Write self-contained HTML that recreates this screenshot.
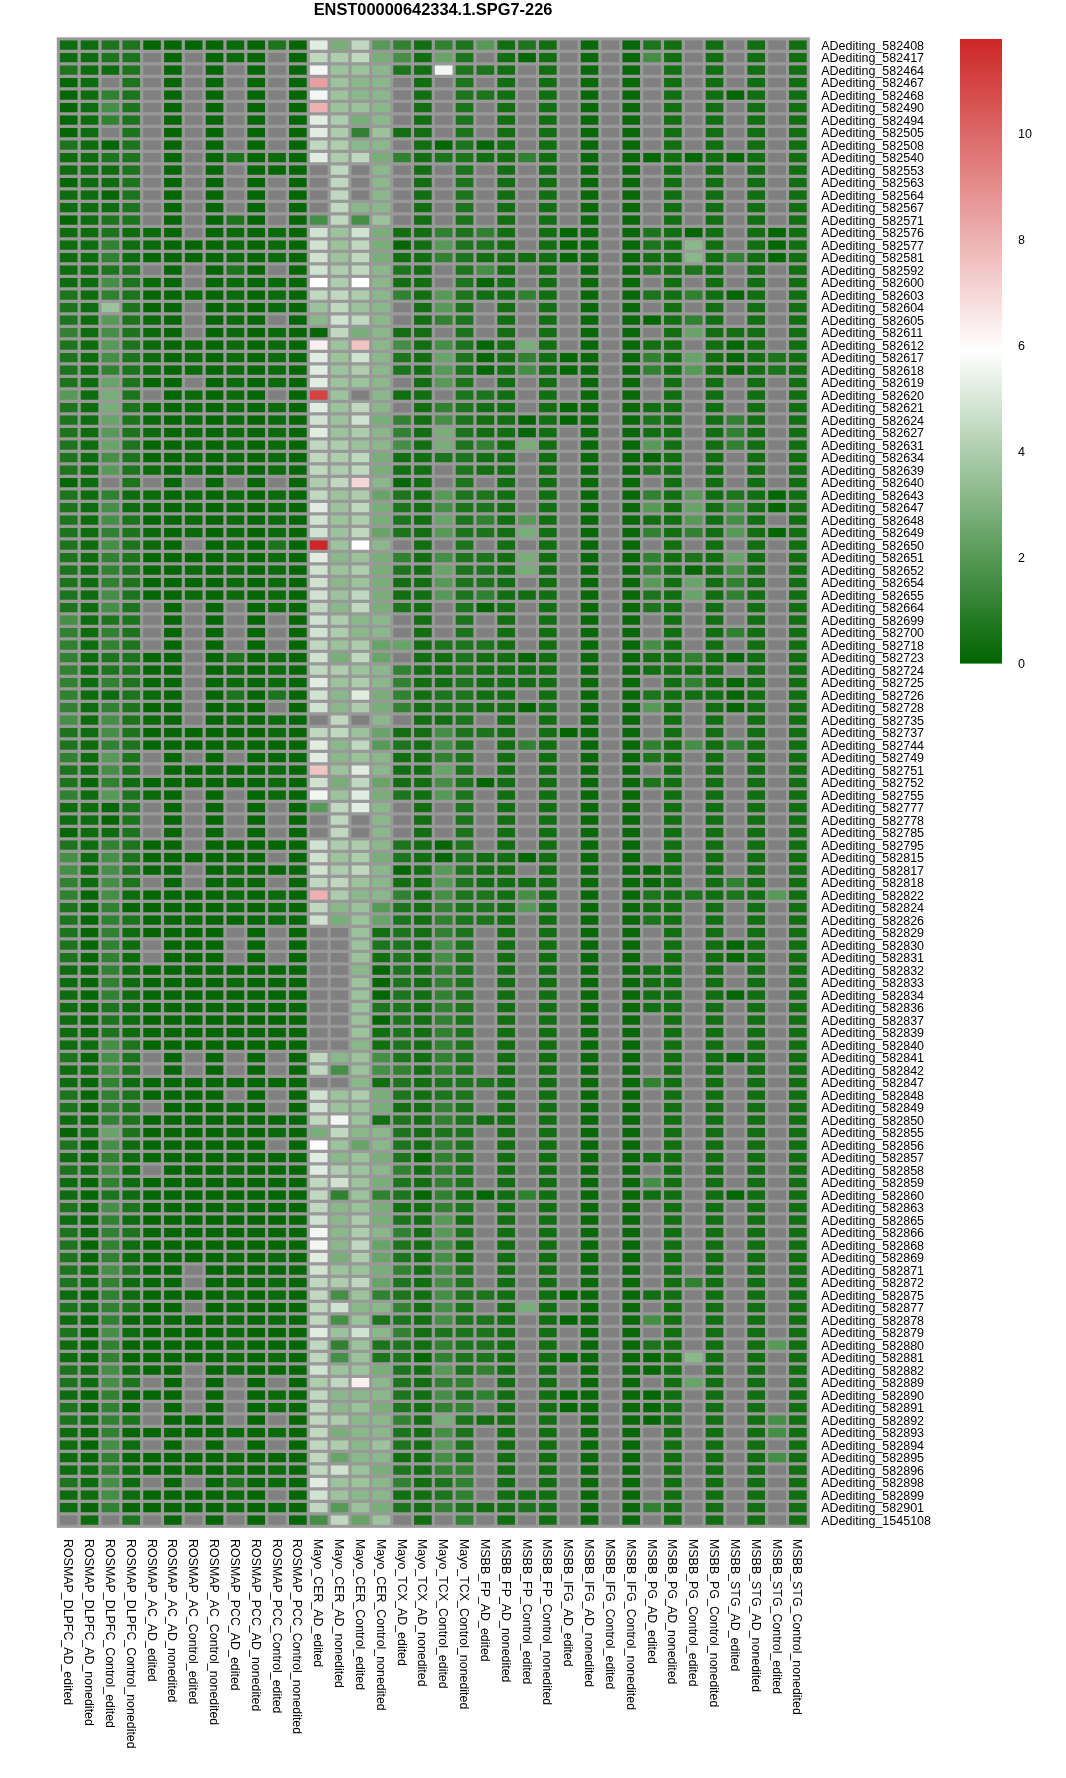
<!DOCTYPE html><html><head><meta charset="utf-8"><style>html,body{margin:0;padding:0;background:#fff;width:1066px;height:1778px;overflow:hidden}svg{display:block;will-change:transform}text{font-family:"Liberation Sans",sans-serif;fill:#000}</style></head><body>
<svg width="1066" height="1778" viewBox="0 0 1066 1778">
<text x="433" y="14.7" text-anchor="middle" font-weight="bold" font-size="16.4">ENST00000642334.1.SPG7-226</text>
<rect x="56.80" y="37.35" width="753.00" height="1490.50" fill="#999999"/>
<rect x="59.90" y="40.45" width="17.63" height="9.30" fill="#0d6c0d"/>
<rect x="80.73" y="40.45" width="17.63" height="9.30" fill="#0d6c0d"/>
<rect x="101.57" y="40.45" width="17.63" height="9.30" fill="#1c751c"/>
<rect x="122.40" y="40.45" width="17.63" height="9.30" fill="#1c751c"/>
<rect x="143.23" y="40.45" width="17.63" height="9.30" fill="#046704"/>
<rect x="164.07" y="40.45" width="17.63" height="9.30" fill="#046704"/>
<rect x="184.90" y="40.45" width="17.63" height="9.30" fill="#046704"/>
<rect x="205.73" y="40.45" width="17.63" height="9.30" fill="#046704"/>
<rect x="226.57" y="40.45" width="17.63" height="9.30" fill="#0b6b0b"/>
<rect x="247.40" y="40.45" width="17.63" height="9.30" fill="#046704"/>
<rect x="268.23" y="40.45" width="17.63" height="9.30" fill="#1c751c"/>
<rect x="289.07" y="40.45" width="17.63" height="9.30" fill="#046704"/>
<rect x="309.90" y="40.45" width="17.63" height="9.30" fill="#e1ede1"/>
<rect x="330.73" y="40.45" width="17.63" height="9.30" fill="#79ae79"/>
<rect x="351.57" y="40.45" width="17.63" height="9.30" fill="#bfd8bf"/>
<rect x="372.40" y="40.45" width="17.63" height="9.30" fill="#579957"/>
<rect x="393.23" y="40.45" width="17.63" height="9.30" fill="#308130"/>
<rect x="414.07" y="40.45" width="17.63" height="9.30" fill="#116f11"/>
<rect x="434.90" y="40.45" width="17.63" height="9.30" fill="#308130"/>
<rect x="455.73" y="40.45" width="17.63" height="9.30" fill="#1c751c"/>
<rect x="476.57" y="40.45" width="17.63" height="9.30" fill="#579957"/>
<rect x="497.40" y="40.45" width="17.63" height="9.30" fill="#116f11"/>
<rect x="518.23" y="40.45" width="17.63" height="9.30" fill="#1c751c"/>
<rect x="539.07" y="40.45" width="17.63" height="9.30" fill="#116f11"/>
<rect x="559.90" y="40.45" width="17.63" height="9.30" fill="#808080"/>
<rect x="580.73" y="40.45" width="17.63" height="9.30" fill="#096909"/>
<rect x="601.57" y="40.45" width="17.63" height="9.30" fill="#808080"/>
<rect x="622.40" y="40.45" width="17.63" height="9.30" fill="#096909"/>
<rect x="643.23" y="40.45" width="17.63" height="9.30" fill="#1c751c"/>
<rect x="664.07" y="40.45" width="17.63" height="9.30" fill="#116f11"/>
<rect x="684.90" y="40.45" width="17.63" height="9.30" fill="#808080"/>
<rect x="705.73" y="40.45" width="17.63" height="9.30" fill="#116f11"/>
<rect x="726.57" y="40.45" width="17.63" height="9.30" fill="#808080"/>
<rect x="747.40" y="40.45" width="17.63" height="9.30" fill="#116f11"/>
<rect x="768.23" y="40.45" width="17.63" height="9.30" fill="#808080"/>
<rect x="789.07" y="40.45" width="17.63" height="9.30" fill="#116f11"/>
<rect x="59.90" y="52.95" width="17.63" height="9.30" fill="#0d6c0d"/>
<rect x="80.73" y="52.95" width="17.63" height="9.30" fill="#0d6c0d"/>
<rect x="101.57" y="52.95" width="17.63" height="9.30" fill="#1c751c"/>
<rect x="122.40" y="52.95" width="17.63" height="9.30" fill="#1c751c"/>
<rect x="143.23" y="52.95" width="17.63" height="9.30" fill="#808080"/>
<rect x="164.07" y="52.95" width="17.63" height="9.30" fill="#046704"/>
<rect x="184.90" y="52.95" width="17.63" height="9.30" fill="#808080"/>
<rect x="205.73" y="52.95" width="17.63" height="9.30" fill="#046704"/>
<rect x="226.57" y="52.95" width="17.63" height="9.30" fill="#0b6b0b"/>
<rect x="247.40" y="52.95" width="17.63" height="9.30" fill="#046704"/>
<rect x="268.23" y="52.95" width="17.63" height="9.30" fill="#808080"/>
<rect x="289.07" y="52.95" width="17.63" height="9.30" fill="#046704"/>
<rect x="309.90" y="52.95" width="17.63" height="9.30" fill="#bfd8bf"/>
<rect x="330.73" y="52.95" width="17.63" height="9.30" fill="#adcdad"/>
<rect x="351.57" y="52.95" width="17.63" height="9.30" fill="#bfd8bf"/>
<rect x="372.40" y="52.95" width="17.63" height="9.30" fill="#79ae79"/>
<rect x="393.23" y="52.95" width="17.63" height="9.30" fill="#458e45"/>
<rect x="414.07" y="52.95" width="17.63" height="9.30" fill="#116f11"/>
<rect x="434.90" y="52.95" width="17.63" height="9.30" fill="#68a368"/>
<rect x="455.73" y="52.95" width="17.63" height="9.30" fill="#1c751c"/>
<rect x="476.57" y="52.95" width="17.63" height="9.30" fill="#808080"/>
<rect x="497.40" y="52.95" width="17.63" height="9.30" fill="#116f11"/>
<rect x="518.23" y="52.95" width="17.63" height="9.30" fill="#046704"/>
<rect x="539.07" y="52.95" width="17.63" height="9.30" fill="#116f11"/>
<rect x="559.90" y="52.95" width="17.63" height="9.30" fill="#808080"/>
<rect x="580.73" y="52.95" width="17.63" height="9.30" fill="#096909"/>
<rect x="601.57" y="52.95" width="17.63" height="9.30" fill="#808080"/>
<rect x="622.40" y="52.95" width="17.63" height="9.30" fill="#096909"/>
<rect x="643.23" y="52.95" width="17.63" height="9.30" fill="#458e45"/>
<rect x="664.07" y="52.95" width="17.63" height="9.30" fill="#116f11"/>
<rect x="684.90" y="52.95" width="17.63" height="9.30" fill="#808080"/>
<rect x="705.73" y="52.95" width="17.63" height="9.30" fill="#116f11"/>
<rect x="726.57" y="52.95" width="17.63" height="9.30" fill="#808080"/>
<rect x="747.40" y="52.95" width="17.63" height="9.30" fill="#116f11"/>
<rect x="768.23" y="52.95" width="17.63" height="9.30" fill="#808080"/>
<rect x="789.07" y="52.95" width="17.63" height="9.30" fill="#116f11"/>
<rect x="59.90" y="65.45" width="17.63" height="9.30" fill="#1c751c"/>
<rect x="80.73" y="65.45" width="17.63" height="9.30" fill="#0d6c0d"/>
<rect x="101.57" y="65.45" width="17.63" height="9.30" fill="#0d6c0d"/>
<rect x="122.40" y="65.45" width="17.63" height="9.30" fill="#1c751c"/>
<rect x="143.23" y="65.45" width="17.63" height="9.30" fill="#808080"/>
<rect x="164.07" y="65.45" width="17.63" height="9.30" fill="#046704"/>
<rect x="184.90" y="65.45" width="17.63" height="9.30" fill="#808080"/>
<rect x="205.73" y="65.45" width="17.63" height="9.30" fill="#046704"/>
<rect x="226.57" y="65.45" width="17.63" height="9.30" fill="#808080"/>
<rect x="247.40" y="65.45" width="17.63" height="9.30" fill="#046704"/>
<rect x="268.23" y="65.45" width="17.63" height="9.30" fill="#808080"/>
<rect x="289.07" y="65.45" width="17.63" height="9.30" fill="#046704"/>
<rect x="309.90" y="65.45" width="17.63" height="9.30" fill="#f3f7f3"/>
<rect x="330.73" y="65.45" width="17.63" height="9.30" fill="#9cc39c"/>
<rect x="351.57" y="65.45" width="17.63" height="9.30" fill="#9cc39c"/>
<rect x="372.40" y="65.45" width="17.63" height="9.30" fill="#8bb88b"/>
<rect x="393.23" y="65.45" width="17.63" height="9.30" fill="#1c751c"/>
<rect x="414.07" y="65.45" width="17.63" height="9.30" fill="#116f11"/>
<rect x="434.90" y="65.45" width="17.63" height="9.30" fill="#f3f7f3"/>
<rect x="455.73" y="65.45" width="17.63" height="9.30" fill="#1c751c"/>
<rect x="476.57" y="65.45" width="17.63" height="9.30" fill="#1c751c"/>
<rect x="497.40" y="65.45" width="17.63" height="9.30" fill="#116f11"/>
<rect x="518.23" y="65.45" width="17.63" height="9.30" fill="#808080"/>
<rect x="539.07" y="65.45" width="17.63" height="9.30" fill="#116f11"/>
<rect x="559.90" y="65.45" width="17.63" height="9.30" fill="#808080"/>
<rect x="580.73" y="65.45" width="17.63" height="9.30" fill="#096909"/>
<rect x="601.57" y="65.45" width="17.63" height="9.30" fill="#808080"/>
<rect x="622.40" y="65.45" width="17.63" height="9.30" fill="#096909"/>
<rect x="643.23" y="65.45" width="17.63" height="9.30" fill="#808080"/>
<rect x="664.07" y="65.45" width="17.63" height="9.30" fill="#116f11"/>
<rect x="684.90" y="65.45" width="17.63" height="9.30" fill="#808080"/>
<rect x="705.73" y="65.45" width="17.63" height="9.30" fill="#116f11"/>
<rect x="726.57" y="65.45" width="17.63" height="9.30" fill="#808080"/>
<rect x="747.40" y="65.45" width="17.63" height="9.30" fill="#116f11"/>
<rect x="768.23" y="65.45" width="17.63" height="9.30" fill="#808080"/>
<rect x="789.07" y="65.45" width="17.63" height="9.30" fill="#116f11"/>
<rect x="59.90" y="77.95" width="17.63" height="9.30" fill="#046704"/>
<rect x="80.73" y="77.95" width="17.63" height="9.30" fill="#0d6c0d"/>
<rect x="101.57" y="77.95" width="17.63" height="9.30" fill="#808080"/>
<rect x="122.40" y="77.95" width="17.63" height="9.30" fill="#1c751c"/>
<rect x="143.23" y="77.95" width="17.63" height="9.30" fill="#808080"/>
<rect x="164.07" y="77.95" width="17.63" height="9.30" fill="#046704"/>
<rect x="184.90" y="77.95" width="17.63" height="9.30" fill="#808080"/>
<rect x="205.73" y="77.95" width="17.63" height="9.30" fill="#046704"/>
<rect x="226.57" y="77.95" width="17.63" height="9.30" fill="#808080"/>
<rect x="247.40" y="77.95" width="17.63" height="9.30" fill="#046704"/>
<rect x="268.23" y="77.95" width="17.63" height="9.30" fill="#808080"/>
<rect x="289.07" y="77.95" width="17.63" height="9.30" fill="#046704"/>
<rect x="309.90" y="77.95" width="17.63" height="9.30" fill="#e99f9f"/>
<rect x="330.73" y="77.95" width="17.63" height="9.30" fill="#9cc39c"/>
<rect x="351.57" y="77.95" width="17.63" height="9.30" fill="#8bb88b"/>
<rect x="372.40" y="77.95" width="17.63" height="9.30" fill="#8bb88b"/>
<rect x="393.23" y="77.95" width="17.63" height="9.30" fill="#808080"/>
<rect x="414.07" y="77.95" width="17.63" height="9.30" fill="#116f11"/>
<rect x="434.90" y="77.95" width="17.63" height="9.30" fill="#808080"/>
<rect x="455.73" y="77.95" width="17.63" height="9.30" fill="#1c751c"/>
<rect x="476.57" y="77.95" width="17.63" height="9.30" fill="#808080"/>
<rect x="497.40" y="77.95" width="17.63" height="9.30" fill="#116f11"/>
<rect x="518.23" y="77.95" width="17.63" height="9.30" fill="#808080"/>
<rect x="539.07" y="77.95" width="17.63" height="9.30" fill="#116f11"/>
<rect x="559.90" y="77.95" width="17.63" height="9.30" fill="#808080"/>
<rect x="580.73" y="77.95" width="17.63" height="9.30" fill="#096909"/>
<rect x="601.57" y="77.95" width="17.63" height="9.30" fill="#808080"/>
<rect x="622.40" y="77.95" width="17.63" height="9.30" fill="#096909"/>
<rect x="643.23" y="77.95" width="17.63" height="9.30" fill="#808080"/>
<rect x="664.07" y="77.95" width="17.63" height="9.30" fill="#116f11"/>
<rect x="684.90" y="77.95" width="17.63" height="9.30" fill="#808080"/>
<rect x="705.73" y="77.95" width="17.63" height="9.30" fill="#116f11"/>
<rect x="726.57" y="77.95" width="17.63" height="9.30" fill="#808080"/>
<rect x="747.40" y="77.95" width="17.63" height="9.30" fill="#116f11"/>
<rect x="768.23" y="77.95" width="17.63" height="9.30" fill="#808080"/>
<rect x="789.07" y="77.95" width="17.63" height="9.30" fill="#116f11"/>
<rect x="59.90" y="90.45" width="17.63" height="9.30" fill="#046704"/>
<rect x="80.73" y="90.45" width="17.63" height="9.30" fill="#0d6c0d"/>
<rect x="101.57" y="90.45" width="17.63" height="9.30" fill="#308130"/>
<rect x="122.40" y="90.45" width="17.63" height="9.30" fill="#1c751c"/>
<rect x="143.23" y="90.45" width="17.63" height="9.30" fill="#808080"/>
<rect x="164.07" y="90.45" width="17.63" height="9.30" fill="#046704"/>
<rect x="184.90" y="90.45" width="17.63" height="9.30" fill="#808080"/>
<rect x="205.73" y="90.45" width="17.63" height="9.30" fill="#046704"/>
<rect x="226.57" y="90.45" width="17.63" height="9.30" fill="#808080"/>
<rect x="247.40" y="90.45" width="17.63" height="9.30" fill="#046704"/>
<rect x="268.23" y="90.45" width="17.63" height="9.30" fill="#808080"/>
<rect x="289.07" y="90.45" width="17.63" height="9.30" fill="#046704"/>
<rect x="309.90" y="90.45" width="17.63" height="9.30" fill="#f3f7f3"/>
<rect x="330.73" y="90.45" width="17.63" height="9.30" fill="#9cc39c"/>
<rect x="351.57" y="90.45" width="17.63" height="9.30" fill="#8bb88b"/>
<rect x="372.40" y="90.45" width="17.63" height="9.30" fill="#8bb88b"/>
<rect x="393.23" y="90.45" width="17.63" height="9.30" fill="#808080"/>
<rect x="414.07" y="90.45" width="17.63" height="9.30" fill="#116f11"/>
<rect x="434.90" y="90.45" width="17.63" height="9.30" fill="#808080"/>
<rect x="455.73" y="90.45" width="17.63" height="9.30" fill="#1c751c"/>
<rect x="476.57" y="90.45" width="17.63" height="9.30" fill="#1c751c"/>
<rect x="497.40" y="90.45" width="17.63" height="9.30" fill="#116f11"/>
<rect x="518.23" y="90.45" width="17.63" height="9.30" fill="#808080"/>
<rect x="539.07" y="90.45" width="17.63" height="9.30" fill="#116f11"/>
<rect x="559.90" y="90.45" width="17.63" height="9.30" fill="#808080"/>
<rect x="580.73" y="90.45" width="17.63" height="9.30" fill="#096909"/>
<rect x="601.57" y="90.45" width="17.63" height="9.30" fill="#808080"/>
<rect x="622.40" y="90.45" width="17.63" height="9.30" fill="#096909"/>
<rect x="643.23" y="90.45" width="17.63" height="9.30" fill="#808080"/>
<rect x="664.07" y="90.45" width="17.63" height="9.30" fill="#116f11"/>
<rect x="684.90" y="90.45" width="17.63" height="9.30" fill="#808080"/>
<rect x="705.73" y="90.45" width="17.63" height="9.30" fill="#116f11"/>
<rect x="726.57" y="90.45" width="17.63" height="9.30" fill="#046704"/>
<rect x="747.40" y="90.45" width="17.63" height="9.30" fill="#116f11"/>
<rect x="768.23" y="90.45" width="17.63" height="9.30" fill="#808080"/>
<rect x="789.07" y="90.45" width="17.63" height="9.30" fill="#116f11"/>
<rect x="59.90" y="102.95" width="17.63" height="9.30" fill="#046704"/>
<rect x="80.73" y="102.95" width="17.63" height="9.30" fill="#0d6c0d"/>
<rect x="101.57" y="102.95" width="17.63" height="9.30" fill="#458e45"/>
<rect x="122.40" y="102.95" width="17.63" height="9.30" fill="#1c751c"/>
<rect x="143.23" y="102.95" width="17.63" height="9.30" fill="#808080"/>
<rect x="164.07" y="102.95" width="17.63" height="9.30" fill="#046704"/>
<rect x="184.90" y="102.95" width="17.63" height="9.30" fill="#808080"/>
<rect x="205.73" y="102.95" width="17.63" height="9.30" fill="#046704"/>
<rect x="226.57" y="102.95" width="17.63" height="9.30" fill="#808080"/>
<rect x="247.40" y="102.95" width="17.63" height="9.30" fill="#046704"/>
<rect x="268.23" y="102.95" width="17.63" height="9.30" fill="#808080"/>
<rect x="289.07" y="102.95" width="17.63" height="9.30" fill="#046704"/>
<rect x="309.90" y="102.95" width="17.63" height="9.30" fill="#edb1b1"/>
<rect x="330.73" y="102.95" width="17.63" height="9.30" fill="#9cc39c"/>
<rect x="351.57" y="102.95" width="17.63" height="9.30" fill="#9cc39c"/>
<rect x="372.40" y="102.95" width="17.63" height="9.30" fill="#8bb88b"/>
<rect x="393.23" y="102.95" width="17.63" height="9.30" fill="#808080"/>
<rect x="414.07" y="102.95" width="17.63" height="9.30" fill="#116f11"/>
<rect x="434.90" y="102.95" width="17.63" height="9.30" fill="#808080"/>
<rect x="455.73" y="102.95" width="17.63" height="9.30" fill="#1c751c"/>
<rect x="476.57" y="102.95" width="17.63" height="9.30" fill="#808080"/>
<rect x="497.40" y="102.95" width="17.63" height="9.30" fill="#116f11"/>
<rect x="518.23" y="102.95" width="17.63" height="9.30" fill="#808080"/>
<rect x="539.07" y="102.95" width="17.63" height="9.30" fill="#116f11"/>
<rect x="559.90" y="102.95" width="17.63" height="9.30" fill="#808080"/>
<rect x="580.73" y="102.95" width="17.63" height="9.30" fill="#096909"/>
<rect x="601.57" y="102.95" width="17.63" height="9.30" fill="#808080"/>
<rect x="622.40" y="102.95" width="17.63" height="9.30" fill="#096909"/>
<rect x="643.23" y="102.95" width="17.63" height="9.30" fill="#808080"/>
<rect x="664.07" y="102.95" width="17.63" height="9.30" fill="#116f11"/>
<rect x="684.90" y="102.95" width="17.63" height="9.30" fill="#808080"/>
<rect x="705.73" y="102.95" width="17.63" height="9.30" fill="#116f11"/>
<rect x="726.57" y="102.95" width="17.63" height="9.30" fill="#808080"/>
<rect x="747.40" y="102.95" width="17.63" height="9.30" fill="#116f11"/>
<rect x="768.23" y="102.95" width="17.63" height="9.30" fill="#808080"/>
<rect x="789.07" y="102.95" width="17.63" height="9.30" fill="#116f11"/>
<rect x="59.90" y="115.45" width="17.63" height="9.30" fill="#046704"/>
<rect x="80.73" y="115.45" width="17.63" height="9.30" fill="#0d6c0d"/>
<rect x="101.57" y="115.45" width="17.63" height="9.30" fill="#308130"/>
<rect x="122.40" y="115.45" width="17.63" height="9.30" fill="#1c751c"/>
<rect x="143.23" y="115.45" width="17.63" height="9.30" fill="#808080"/>
<rect x="164.07" y="115.45" width="17.63" height="9.30" fill="#046704"/>
<rect x="184.90" y="115.45" width="17.63" height="9.30" fill="#808080"/>
<rect x="205.73" y="115.45" width="17.63" height="9.30" fill="#046704"/>
<rect x="226.57" y="115.45" width="17.63" height="9.30" fill="#808080"/>
<rect x="247.40" y="115.45" width="17.63" height="9.30" fill="#046704"/>
<rect x="268.23" y="115.45" width="17.63" height="9.30" fill="#808080"/>
<rect x="289.07" y="115.45" width="17.63" height="9.30" fill="#046704"/>
<rect x="309.90" y="115.45" width="17.63" height="9.30" fill="#e1ede1"/>
<rect x="330.73" y="115.45" width="17.63" height="9.30" fill="#adcdad"/>
<rect x="351.57" y="115.45" width="17.63" height="9.30" fill="#79ae79"/>
<rect x="372.40" y="115.45" width="17.63" height="9.30" fill="#8bb88b"/>
<rect x="393.23" y="115.45" width="17.63" height="9.30" fill="#808080"/>
<rect x="414.07" y="115.45" width="17.63" height="9.30" fill="#116f11"/>
<rect x="434.90" y="115.45" width="17.63" height="9.30" fill="#808080"/>
<rect x="455.73" y="115.45" width="17.63" height="9.30" fill="#1c751c"/>
<rect x="476.57" y="115.45" width="17.63" height="9.30" fill="#808080"/>
<rect x="497.40" y="115.45" width="17.63" height="9.30" fill="#116f11"/>
<rect x="518.23" y="115.45" width="17.63" height="9.30" fill="#808080"/>
<rect x="539.07" y="115.45" width="17.63" height="9.30" fill="#116f11"/>
<rect x="559.90" y="115.45" width="17.63" height="9.30" fill="#808080"/>
<rect x="580.73" y="115.45" width="17.63" height="9.30" fill="#096909"/>
<rect x="601.57" y="115.45" width="17.63" height="9.30" fill="#808080"/>
<rect x="622.40" y="115.45" width="17.63" height="9.30" fill="#096909"/>
<rect x="643.23" y="115.45" width="17.63" height="9.30" fill="#808080"/>
<rect x="664.07" y="115.45" width="17.63" height="9.30" fill="#116f11"/>
<rect x="684.90" y="115.45" width="17.63" height="9.30" fill="#808080"/>
<rect x="705.73" y="115.45" width="17.63" height="9.30" fill="#116f11"/>
<rect x="726.57" y="115.45" width="17.63" height="9.30" fill="#808080"/>
<rect x="747.40" y="115.45" width="17.63" height="9.30" fill="#116f11"/>
<rect x="768.23" y="115.45" width="17.63" height="9.30" fill="#808080"/>
<rect x="789.07" y="115.45" width="17.63" height="9.30" fill="#116f11"/>
<rect x="59.90" y="127.95" width="17.63" height="9.30" fill="#046704"/>
<rect x="80.73" y="127.95" width="17.63" height="9.30" fill="#0d6c0d"/>
<rect x="101.57" y="127.95" width="17.63" height="9.30" fill="#808080"/>
<rect x="122.40" y="127.95" width="17.63" height="9.30" fill="#1c751c"/>
<rect x="143.23" y="127.95" width="17.63" height="9.30" fill="#808080"/>
<rect x="164.07" y="127.95" width="17.63" height="9.30" fill="#046704"/>
<rect x="184.90" y="127.95" width="17.63" height="9.30" fill="#808080"/>
<rect x="205.73" y="127.95" width="17.63" height="9.30" fill="#046704"/>
<rect x="226.57" y="127.95" width="17.63" height="9.30" fill="#808080"/>
<rect x="247.40" y="127.95" width="17.63" height="9.30" fill="#046704"/>
<rect x="268.23" y="127.95" width="17.63" height="9.30" fill="#808080"/>
<rect x="289.07" y="127.95" width="17.63" height="9.30" fill="#046704"/>
<rect x="309.90" y="127.95" width="17.63" height="9.30" fill="#e1ede1"/>
<rect x="330.73" y="127.95" width="17.63" height="9.30" fill="#adcdad"/>
<rect x="351.57" y="127.95" width="17.63" height="9.30" fill="#308130"/>
<rect x="372.40" y="127.95" width="17.63" height="9.30" fill="#9cc39c"/>
<rect x="393.23" y="127.95" width="17.63" height="9.30" fill="#116f11"/>
<rect x="414.07" y="127.95" width="17.63" height="9.30" fill="#116f11"/>
<rect x="434.90" y="127.95" width="17.63" height="9.30" fill="#808080"/>
<rect x="455.73" y="127.95" width="17.63" height="9.30" fill="#1c751c"/>
<rect x="476.57" y="127.95" width="17.63" height="9.30" fill="#808080"/>
<rect x="497.40" y="127.95" width="17.63" height="9.30" fill="#116f11"/>
<rect x="518.23" y="127.95" width="17.63" height="9.30" fill="#808080"/>
<rect x="539.07" y="127.95" width="17.63" height="9.30" fill="#116f11"/>
<rect x="559.90" y="127.95" width="17.63" height="9.30" fill="#808080"/>
<rect x="580.73" y="127.95" width="17.63" height="9.30" fill="#096909"/>
<rect x="601.57" y="127.95" width="17.63" height="9.30" fill="#808080"/>
<rect x="622.40" y="127.95" width="17.63" height="9.30" fill="#096909"/>
<rect x="643.23" y="127.95" width="17.63" height="9.30" fill="#808080"/>
<rect x="664.07" y="127.95" width="17.63" height="9.30" fill="#116f11"/>
<rect x="684.90" y="127.95" width="17.63" height="9.30" fill="#808080"/>
<rect x="705.73" y="127.95" width="17.63" height="9.30" fill="#116f11"/>
<rect x="726.57" y="127.95" width="17.63" height="9.30" fill="#808080"/>
<rect x="747.40" y="127.95" width="17.63" height="9.30" fill="#116f11"/>
<rect x="768.23" y="127.95" width="17.63" height="9.30" fill="#808080"/>
<rect x="789.07" y="127.95" width="17.63" height="9.30" fill="#116f11"/>
<rect x="59.90" y="140.45" width="17.63" height="9.30" fill="#1c751c"/>
<rect x="80.73" y="140.45" width="17.63" height="9.30" fill="#0d6c0d"/>
<rect x="101.57" y="140.45" width="17.63" height="9.30" fill="#046704"/>
<rect x="122.40" y="140.45" width="17.63" height="9.30" fill="#1c751c"/>
<rect x="143.23" y="140.45" width="17.63" height="9.30" fill="#808080"/>
<rect x="164.07" y="140.45" width="17.63" height="9.30" fill="#046704"/>
<rect x="184.90" y="140.45" width="17.63" height="9.30" fill="#808080"/>
<rect x="205.73" y="140.45" width="17.63" height="9.30" fill="#046704"/>
<rect x="226.57" y="140.45" width="17.63" height="9.30" fill="#808080"/>
<rect x="247.40" y="140.45" width="17.63" height="9.30" fill="#046704"/>
<rect x="268.23" y="140.45" width="17.63" height="9.30" fill="#808080"/>
<rect x="289.07" y="140.45" width="17.63" height="9.30" fill="#046704"/>
<rect x="309.90" y="140.45" width="17.63" height="9.30" fill="#bfd8bf"/>
<rect x="330.73" y="140.45" width="17.63" height="9.30" fill="#adcdad"/>
<rect x="351.57" y="140.45" width="17.63" height="9.30" fill="#8bb88b"/>
<rect x="372.40" y="140.45" width="17.63" height="9.30" fill="#8bb88b"/>
<rect x="393.23" y="140.45" width="17.63" height="9.30" fill="#808080"/>
<rect x="414.07" y="140.45" width="17.63" height="9.30" fill="#116f11"/>
<rect x="434.90" y="140.45" width="17.63" height="9.30" fill="#046704"/>
<rect x="455.73" y="140.45" width="17.63" height="9.30" fill="#1c751c"/>
<rect x="476.57" y="140.45" width="17.63" height="9.30" fill="#046704"/>
<rect x="497.40" y="140.45" width="17.63" height="9.30" fill="#116f11"/>
<rect x="518.23" y="140.45" width="17.63" height="9.30" fill="#808080"/>
<rect x="539.07" y="140.45" width="17.63" height="9.30" fill="#116f11"/>
<rect x="559.90" y="140.45" width="17.63" height="9.30" fill="#808080"/>
<rect x="580.73" y="140.45" width="17.63" height="9.30" fill="#096909"/>
<rect x="601.57" y="140.45" width="17.63" height="9.30" fill="#808080"/>
<rect x="622.40" y="140.45" width="17.63" height="9.30" fill="#096909"/>
<rect x="643.23" y="140.45" width="17.63" height="9.30" fill="#808080"/>
<rect x="664.07" y="140.45" width="17.63" height="9.30" fill="#116f11"/>
<rect x="684.90" y="140.45" width="17.63" height="9.30" fill="#808080"/>
<rect x="705.73" y="140.45" width="17.63" height="9.30" fill="#116f11"/>
<rect x="726.57" y="140.45" width="17.63" height="9.30" fill="#808080"/>
<rect x="747.40" y="140.45" width="17.63" height="9.30" fill="#116f11"/>
<rect x="768.23" y="140.45" width="17.63" height="9.30" fill="#808080"/>
<rect x="789.07" y="140.45" width="17.63" height="9.30" fill="#116f11"/>
<rect x="59.90" y="152.95" width="17.63" height="9.30" fill="#0d6c0d"/>
<rect x="80.73" y="152.95" width="17.63" height="9.30" fill="#0d6c0d"/>
<rect x="101.57" y="152.95" width="17.63" height="9.30" fill="#1c751c"/>
<rect x="122.40" y="152.95" width="17.63" height="9.30" fill="#1c751c"/>
<rect x="143.23" y="152.95" width="17.63" height="9.30" fill="#808080"/>
<rect x="164.07" y="152.95" width="17.63" height="9.30" fill="#046704"/>
<rect x="184.90" y="152.95" width="17.63" height="9.30" fill="#808080"/>
<rect x="205.73" y="152.95" width="17.63" height="9.30" fill="#046704"/>
<rect x="226.57" y="152.95" width="17.63" height="9.30" fill="#1c751c"/>
<rect x="247.40" y="152.95" width="17.63" height="9.30" fill="#046704"/>
<rect x="268.23" y="152.95" width="17.63" height="9.30" fill="#0b6b0b"/>
<rect x="289.07" y="152.95" width="17.63" height="9.30" fill="#046704"/>
<rect x="309.90" y="152.95" width="17.63" height="9.30" fill="#e1ede1"/>
<rect x="330.73" y="152.95" width="17.63" height="9.30" fill="#adcdad"/>
<rect x="351.57" y="152.95" width="17.63" height="9.30" fill="#bfd8bf"/>
<rect x="372.40" y="152.95" width="17.63" height="9.30" fill="#79ae79"/>
<rect x="393.23" y="152.95" width="17.63" height="9.30" fill="#308130"/>
<rect x="414.07" y="152.95" width="17.63" height="9.30" fill="#116f11"/>
<rect x="434.90" y="152.95" width="17.63" height="9.30" fill="#1c751c"/>
<rect x="455.73" y="152.95" width="17.63" height="9.30" fill="#1c751c"/>
<rect x="476.57" y="152.95" width="17.63" height="9.30" fill="#116f11"/>
<rect x="497.40" y="152.95" width="17.63" height="9.30" fill="#116f11"/>
<rect x="518.23" y="152.95" width="17.63" height="9.30" fill="#308130"/>
<rect x="539.07" y="152.95" width="17.63" height="9.30" fill="#116f11"/>
<rect x="559.90" y="152.95" width="17.63" height="9.30" fill="#808080"/>
<rect x="580.73" y="152.95" width="17.63" height="9.30" fill="#096909"/>
<rect x="601.57" y="152.95" width="17.63" height="9.30" fill="#808080"/>
<rect x="622.40" y="152.95" width="17.63" height="9.30" fill="#096909"/>
<rect x="643.23" y="152.95" width="17.63" height="9.30" fill="#046704"/>
<rect x="664.07" y="152.95" width="17.63" height="9.30" fill="#116f11"/>
<rect x="684.90" y="152.95" width="17.63" height="9.30" fill="#046704"/>
<rect x="705.73" y="152.95" width="17.63" height="9.30" fill="#116f11"/>
<rect x="726.57" y="152.95" width="17.63" height="9.30" fill="#046704"/>
<rect x="747.40" y="152.95" width="17.63" height="9.30" fill="#116f11"/>
<rect x="768.23" y="152.95" width="17.63" height="9.30" fill="#808080"/>
<rect x="789.07" y="152.95" width="17.63" height="9.30" fill="#116f11"/>
<rect x="59.90" y="165.45" width="17.63" height="9.30" fill="#0d6c0d"/>
<rect x="80.73" y="165.45" width="17.63" height="9.30" fill="#0d6c0d"/>
<rect x="101.57" y="165.45" width="17.63" height="9.30" fill="#0d6c0d"/>
<rect x="122.40" y="165.45" width="17.63" height="9.30" fill="#1c751c"/>
<rect x="143.23" y="165.45" width="17.63" height="9.30" fill="#808080"/>
<rect x="164.07" y="165.45" width="17.63" height="9.30" fill="#046704"/>
<rect x="184.90" y="165.45" width="17.63" height="9.30" fill="#808080"/>
<rect x="205.73" y="165.45" width="17.63" height="9.30" fill="#046704"/>
<rect x="226.57" y="165.45" width="17.63" height="9.30" fill="#808080"/>
<rect x="247.40" y="165.45" width="17.63" height="9.30" fill="#046704"/>
<rect x="268.23" y="165.45" width="17.63" height="9.30" fill="#046704"/>
<rect x="289.07" y="165.45" width="17.63" height="9.30" fill="#046704"/>
<rect x="309.90" y="165.45" width="17.63" height="9.30" fill="#808080"/>
<rect x="330.73" y="165.45" width="17.63" height="9.30" fill="#bfd8bf"/>
<rect x="351.57" y="165.45" width="17.63" height="9.30" fill="#808080"/>
<rect x="372.40" y="165.45" width="17.63" height="9.30" fill="#8bb88b"/>
<rect x="393.23" y="165.45" width="17.63" height="9.30" fill="#808080"/>
<rect x="414.07" y="165.45" width="17.63" height="9.30" fill="#116f11"/>
<rect x="434.90" y="165.45" width="17.63" height="9.30" fill="#808080"/>
<rect x="455.73" y="165.45" width="17.63" height="9.30" fill="#1c751c"/>
<rect x="476.57" y="165.45" width="17.63" height="9.30" fill="#808080"/>
<rect x="497.40" y="165.45" width="17.63" height="9.30" fill="#116f11"/>
<rect x="518.23" y="165.45" width="17.63" height="9.30" fill="#808080"/>
<rect x="539.07" y="165.45" width="17.63" height="9.30" fill="#116f11"/>
<rect x="559.90" y="165.45" width="17.63" height="9.30" fill="#808080"/>
<rect x="580.73" y="165.45" width="17.63" height="9.30" fill="#096909"/>
<rect x="601.57" y="165.45" width="17.63" height="9.30" fill="#808080"/>
<rect x="622.40" y="165.45" width="17.63" height="9.30" fill="#096909"/>
<rect x="643.23" y="165.45" width="17.63" height="9.30" fill="#808080"/>
<rect x="664.07" y="165.45" width="17.63" height="9.30" fill="#116f11"/>
<rect x="684.90" y="165.45" width="17.63" height="9.30" fill="#808080"/>
<rect x="705.73" y="165.45" width="17.63" height="9.30" fill="#116f11"/>
<rect x="726.57" y="165.45" width="17.63" height="9.30" fill="#808080"/>
<rect x="747.40" y="165.45" width="17.63" height="9.30" fill="#116f11"/>
<rect x="768.23" y="165.45" width="17.63" height="9.30" fill="#808080"/>
<rect x="789.07" y="165.45" width="17.63" height="9.30" fill="#116f11"/>
<rect x="59.90" y="177.95" width="17.63" height="9.30" fill="#046704"/>
<rect x="80.73" y="177.95" width="17.63" height="9.30" fill="#0d6c0d"/>
<rect x="101.57" y="177.95" width="17.63" height="9.30" fill="#0d6c0d"/>
<rect x="122.40" y="177.95" width="17.63" height="9.30" fill="#1c751c"/>
<rect x="143.23" y="177.95" width="17.63" height="9.30" fill="#808080"/>
<rect x="164.07" y="177.95" width="17.63" height="9.30" fill="#046704"/>
<rect x="184.90" y="177.95" width="17.63" height="9.30" fill="#808080"/>
<rect x="205.73" y="177.95" width="17.63" height="9.30" fill="#046704"/>
<rect x="226.57" y="177.95" width="17.63" height="9.30" fill="#808080"/>
<rect x="247.40" y="177.95" width="17.63" height="9.30" fill="#046704"/>
<rect x="268.23" y="177.95" width="17.63" height="9.30" fill="#808080"/>
<rect x="289.07" y="177.95" width="17.63" height="9.30" fill="#046704"/>
<rect x="309.90" y="177.95" width="17.63" height="9.30" fill="#808080"/>
<rect x="330.73" y="177.95" width="17.63" height="9.30" fill="#bfd8bf"/>
<rect x="351.57" y="177.95" width="17.63" height="9.30" fill="#808080"/>
<rect x="372.40" y="177.95" width="17.63" height="9.30" fill="#8bb88b"/>
<rect x="393.23" y="177.95" width="17.63" height="9.30" fill="#808080"/>
<rect x="414.07" y="177.95" width="17.63" height="9.30" fill="#116f11"/>
<rect x="434.90" y="177.95" width="17.63" height="9.30" fill="#808080"/>
<rect x="455.73" y="177.95" width="17.63" height="9.30" fill="#1c751c"/>
<rect x="476.57" y="177.95" width="17.63" height="9.30" fill="#808080"/>
<rect x="497.40" y="177.95" width="17.63" height="9.30" fill="#116f11"/>
<rect x="518.23" y="177.95" width="17.63" height="9.30" fill="#808080"/>
<rect x="539.07" y="177.95" width="17.63" height="9.30" fill="#116f11"/>
<rect x="559.90" y="177.95" width="17.63" height="9.30" fill="#808080"/>
<rect x="580.73" y="177.95" width="17.63" height="9.30" fill="#096909"/>
<rect x="601.57" y="177.95" width="17.63" height="9.30" fill="#808080"/>
<rect x="622.40" y="177.95" width="17.63" height="9.30" fill="#096909"/>
<rect x="643.23" y="177.95" width="17.63" height="9.30" fill="#808080"/>
<rect x="664.07" y="177.95" width="17.63" height="9.30" fill="#116f11"/>
<rect x="684.90" y="177.95" width="17.63" height="9.30" fill="#808080"/>
<rect x="705.73" y="177.95" width="17.63" height="9.30" fill="#116f11"/>
<rect x="726.57" y="177.95" width="17.63" height="9.30" fill="#808080"/>
<rect x="747.40" y="177.95" width="17.63" height="9.30" fill="#116f11"/>
<rect x="768.23" y="177.95" width="17.63" height="9.30" fill="#808080"/>
<rect x="789.07" y="177.95" width="17.63" height="9.30" fill="#116f11"/>
<rect x="59.90" y="190.45" width="17.63" height="9.30" fill="#0d6c0d"/>
<rect x="80.73" y="190.45" width="17.63" height="9.30" fill="#0d6c0d"/>
<rect x="101.57" y="190.45" width="17.63" height="9.30" fill="#046704"/>
<rect x="122.40" y="190.45" width="17.63" height="9.30" fill="#1c751c"/>
<rect x="143.23" y="190.45" width="17.63" height="9.30" fill="#808080"/>
<rect x="164.07" y="190.45" width="17.63" height="9.30" fill="#046704"/>
<rect x="184.90" y="190.45" width="17.63" height="9.30" fill="#808080"/>
<rect x="205.73" y="190.45" width="17.63" height="9.30" fill="#046704"/>
<rect x="226.57" y="190.45" width="17.63" height="9.30" fill="#808080"/>
<rect x="247.40" y="190.45" width="17.63" height="9.30" fill="#046704"/>
<rect x="268.23" y="190.45" width="17.63" height="9.30" fill="#808080"/>
<rect x="289.07" y="190.45" width="17.63" height="9.30" fill="#046704"/>
<rect x="309.90" y="190.45" width="17.63" height="9.30" fill="#808080"/>
<rect x="330.73" y="190.45" width="17.63" height="9.30" fill="#bfd8bf"/>
<rect x="351.57" y="190.45" width="17.63" height="9.30" fill="#808080"/>
<rect x="372.40" y="190.45" width="17.63" height="9.30" fill="#8bb88b"/>
<rect x="393.23" y="190.45" width="17.63" height="9.30" fill="#808080"/>
<rect x="414.07" y="190.45" width="17.63" height="9.30" fill="#116f11"/>
<rect x="434.90" y="190.45" width="17.63" height="9.30" fill="#808080"/>
<rect x="455.73" y="190.45" width="17.63" height="9.30" fill="#1c751c"/>
<rect x="476.57" y="190.45" width="17.63" height="9.30" fill="#808080"/>
<rect x="497.40" y="190.45" width="17.63" height="9.30" fill="#116f11"/>
<rect x="518.23" y="190.45" width="17.63" height="9.30" fill="#808080"/>
<rect x="539.07" y="190.45" width="17.63" height="9.30" fill="#116f11"/>
<rect x="559.90" y="190.45" width="17.63" height="9.30" fill="#808080"/>
<rect x="580.73" y="190.45" width="17.63" height="9.30" fill="#096909"/>
<rect x="601.57" y="190.45" width="17.63" height="9.30" fill="#808080"/>
<rect x="622.40" y="190.45" width="17.63" height="9.30" fill="#096909"/>
<rect x="643.23" y="190.45" width="17.63" height="9.30" fill="#808080"/>
<rect x="664.07" y="190.45" width="17.63" height="9.30" fill="#116f11"/>
<rect x="684.90" y="190.45" width="17.63" height="9.30" fill="#808080"/>
<rect x="705.73" y="190.45" width="17.63" height="9.30" fill="#116f11"/>
<rect x="726.57" y="190.45" width="17.63" height="9.30" fill="#808080"/>
<rect x="747.40" y="190.45" width="17.63" height="9.30" fill="#116f11"/>
<rect x="768.23" y="190.45" width="17.63" height="9.30" fill="#808080"/>
<rect x="789.07" y="190.45" width="17.63" height="9.30" fill="#116f11"/>
<rect x="59.90" y="202.95" width="17.63" height="9.30" fill="#0d6c0d"/>
<rect x="80.73" y="202.95" width="17.63" height="9.30" fill="#0d6c0d"/>
<rect x="101.57" y="202.95" width="17.63" height="9.30" fill="#0d6c0d"/>
<rect x="122.40" y="202.95" width="17.63" height="9.30" fill="#1c751c"/>
<rect x="143.23" y="202.95" width="17.63" height="9.30" fill="#808080"/>
<rect x="164.07" y="202.95" width="17.63" height="9.30" fill="#046704"/>
<rect x="184.90" y="202.95" width="17.63" height="9.30" fill="#808080"/>
<rect x="205.73" y="202.95" width="17.63" height="9.30" fill="#046704"/>
<rect x="226.57" y="202.95" width="17.63" height="9.30" fill="#808080"/>
<rect x="247.40" y="202.95" width="17.63" height="9.30" fill="#046704"/>
<rect x="268.23" y="202.95" width="17.63" height="9.30" fill="#808080"/>
<rect x="289.07" y="202.95" width="17.63" height="9.30" fill="#046704"/>
<rect x="309.90" y="202.95" width="17.63" height="9.30" fill="#808080"/>
<rect x="330.73" y="202.95" width="17.63" height="9.30" fill="#bfd8bf"/>
<rect x="351.57" y="202.95" width="17.63" height="9.30" fill="#8bb88b"/>
<rect x="372.40" y="202.95" width="17.63" height="9.30" fill="#8bb88b"/>
<rect x="393.23" y="202.95" width="17.63" height="9.30" fill="#808080"/>
<rect x="414.07" y="202.95" width="17.63" height="9.30" fill="#116f11"/>
<rect x="434.90" y="202.95" width="17.63" height="9.30" fill="#808080"/>
<rect x="455.73" y="202.95" width="17.63" height="9.30" fill="#1c751c"/>
<rect x="476.57" y="202.95" width="17.63" height="9.30" fill="#808080"/>
<rect x="497.40" y="202.95" width="17.63" height="9.30" fill="#116f11"/>
<rect x="518.23" y="202.95" width="17.63" height="9.30" fill="#808080"/>
<rect x="539.07" y="202.95" width="17.63" height="9.30" fill="#116f11"/>
<rect x="559.90" y="202.95" width="17.63" height="9.30" fill="#808080"/>
<rect x="580.73" y="202.95" width="17.63" height="9.30" fill="#096909"/>
<rect x="601.57" y="202.95" width="17.63" height="9.30" fill="#808080"/>
<rect x="622.40" y="202.95" width="17.63" height="9.30" fill="#096909"/>
<rect x="643.23" y="202.95" width="17.63" height="9.30" fill="#808080"/>
<rect x="664.07" y="202.95" width="17.63" height="9.30" fill="#116f11"/>
<rect x="684.90" y="202.95" width="17.63" height="9.30" fill="#808080"/>
<rect x="705.73" y="202.95" width="17.63" height="9.30" fill="#116f11"/>
<rect x="726.57" y="202.95" width="17.63" height="9.30" fill="#808080"/>
<rect x="747.40" y="202.95" width="17.63" height="9.30" fill="#116f11"/>
<rect x="768.23" y="202.95" width="17.63" height="9.30" fill="#808080"/>
<rect x="789.07" y="202.95" width="17.63" height="9.30" fill="#116f11"/>
<rect x="59.90" y="215.45" width="17.63" height="9.30" fill="#046704"/>
<rect x="80.73" y="215.45" width="17.63" height="9.30" fill="#0d6c0d"/>
<rect x="101.57" y="215.45" width="17.63" height="9.30" fill="#1c751c"/>
<rect x="122.40" y="215.45" width="17.63" height="9.30" fill="#1c751c"/>
<rect x="143.23" y="215.45" width="17.63" height="9.30" fill="#808080"/>
<rect x="164.07" y="215.45" width="17.63" height="9.30" fill="#046704"/>
<rect x="184.90" y="215.45" width="17.63" height="9.30" fill="#808080"/>
<rect x="205.73" y="215.45" width="17.63" height="9.30" fill="#046704"/>
<rect x="226.57" y="215.45" width="17.63" height="9.30" fill="#1c751c"/>
<rect x="247.40" y="215.45" width="17.63" height="9.30" fill="#046704"/>
<rect x="268.23" y="215.45" width="17.63" height="9.30" fill="#808080"/>
<rect x="289.07" y="215.45" width="17.63" height="9.30" fill="#046704"/>
<rect x="309.90" y="215.45" width="17.63" height="9.30" fill="#458e45"/>
<rect x="330.73" y="215.45" width="17.63" height="9.30" fill="#bfd8bf"/>
<rect x="351.57" y="215.45" width="17.63" height="9.30" fill="#458e45"/>
<rect x="372.40" y="215.45" width="17.63" height="9.30" fill="#9cc39c"/>
<rect x="393.23" y="215.45" width="17.63" height="9.30" fill="#808080"/>
<rect x="414.07" y="215.45" width="17.63" height="9.30" fill="#116f11"/>
<rect x="434.90" y="215.45" width="17.63" height="9.30" fill="#808080"/>
<rect x="455.73" y="215.45" width="17.63" height="9.30" fill="#1c751c"/>
<rect x="476.57" y="215.45" width="17.63" height="9.30" fill="#808080"/>
<rect x="497.40" y="215.45" width="17.63" height="9.30" fill="#116f11"/>
<rect x="518.23" y="215.45" width="17.63" height="9.30" fill="#808080"/>
<rect x="539.07" y="215.45" width="17.63" height="9.30" fill="#116f11"/>
<rect x="559.90" y="215.45" width="17.63" height="9.30" fill="#808080"/>
<rect x="580.73" y="215.45" width="17.63" height="9.30" fill="#096909"/>
<rect x="601.57" y="215.45" width="17.63" height="9.30" fill="#808080"/>
<rect x="622.40" y="215.45" width="17.63" height="9.30" fill="#096909"/>
<rect x="643.23" y="215.45" width="17.63" height="9.30" fill="#808080"/>
<rect x="664.07" y="215.45" width="17.63" height="9.30" fill="#116f11"/>
<rect x="684.90" y="215.45" width="17.63" height="9.30" fill="#808080"/>
<rect x="705.73" y="215.45" width="17.63" height="9.30" fill="#116f11"/>
<rect x="726.57" y="215.45" width="17.63" height="9.30" fill="#808080"/>
<rect x="747.40" y="215.45" width="17.63" height="9.30" fill="#116f11"/>
<rect x="768.23" y="215.45" width="17.63" height="9.30" fill="#808080"/>
<rect x="789.07" y="215.45" width="17.63" height="9.30" fill="#116f11"/>
<rect x="59.90" y="227.95" width="17.63" height="9.30" fill="#0d6c0d"/>
<rect x="80.73" y="227.95" width="17.63" height="9.30" fill="#0d6c0d"/>
<rect x="101.57" y="227.95" width="17.63" height="9.30" fill="#1c751c"/>
<rect x="122.40" y="227.95" width="17.63" height="9.30" fill="#0d6c0d"/>
<rect x="143.23" y="227.95" width="17.63" height="9.30" fill="#0b6b0b"/>
<rect x="164.07" y="227.95" width="17.63" height="9.30" fill="#046704"/>
<rect x="184.90" y="227.95" width="17.63" height="9.30" fill="#808080"/>
<rect x="205.73" y="227.95" width="17.63" height="9.30" fill="#046704"/>
<rect x="226.57" y="227.95" width="17.63" height="9.30" fill="#0b6b0b"/>
<rect x="247.40" y="227.95" width="17.63" height="9.30" fill="#046704"/>
<rect x="268.23" y="227.95" width="17.63" height="9.30" fill="#0b6b0b"/>
<rect x="289.07" y="227.95" width="17.63" height="9.30" fill="#046704"/>
<rect x="309.90" y="227.95" width="17.63" height="9.30" fill="#d0e2d0"/>
<rect x="330.73" y="227.95" width="17.63" height="9.30" fill="#9cc39c"/>
<rect x="351.57" y="227.95" width="17.63" height="9.30" fill="#d0e2d0"/>
<rect x="372.40" y="227.95" width="17.63" height="9.30" fill="#79ae79"/>
<rect x="393.23" y="227.95" width="17.63" height="9.30" fill="#116f11"/>
<rect x="414.07" y="227.95" width="17.63" height="9.30" fill="#116f11"/>
<rect x="434.90" y="227.95" width="17.63" height="9.30" fill="#308130"/>
<rect x="455.73" y="227.95" width="17.63" height="9.30" fill="#1c751c"/>
<rect x="476.57" y="227.95" width="17.63" height="9.30" fill="#308130"/>
<rect x="497.40" y="227.95" width="17.63" height="9.30" fill="#116f11"/>
<rect x="518.23" y="227.95" width="17.63" height="9.30" fill="#808080"/>
<rect x="539.07" y="227.95" width="17.63" height="9.30" fill="#116f11"/>
<rect x="559.90" y="227.95" width="17.63" height="9.30" fill="#046704"/>
<rect x="580.73" y="227.95" width="17.63" height="9.30" fill="#096909"/>
<rect x="601.57" y="227.95" width="17.63" height="9.30" fill="#808080"/>
<rect x="622.40" y="227.95" width="17.63" height="9.30" fill="#096909"/>
<rect x="643.23" y="227.95" width="17.63" height="9.30" fill="#1c751c"/>
<rect x="664.07" y="227.95" width="17.63" height="9.30" fill="#116f11"/>
<rect x="684.90" y="227.95" width="17.63" height="9.30" fill="#046704"/>
<rect x="705.73" y="227.95" width="17.63" height="9.30" fill="#116f11"/>
<rect x="726.57" y="227.95" width="17.63" height="9.30" fill="#808080"/>
<rect x="747.40" y="227.95" width="17.63" height="9.30" fill="#116f11"/>
<rect x="768.23" y="227.95" width="17.63" height="9.30" fill="#046704"/>
<rect x="789.07" y="227.95" width="17.63" height="9.30" fill="#116f11"/>
<rect x="59.90" y="240.45" width="17.63" height="9.30" fill="#0d6c0d"/>
<rect x="80.73" y="240.45" width="17.63" height="9.30" fill="#0d6c0d"/>
<rect x="101.57" y="240.45" width="17.63" height="9.30" fill="#308130"/>
<rect x="122.40" y="240.45" width="17.63" height="9.30" fill="#0d6c0d"/>
<rect x="143.23" y="240.45" width="17.63" height="9.30" fill="#0b6b0b"/>
<rect x="164.07" y="240.45" width="17.63" height="9.30" fill="#046704"/>
<rect x="184.90" y="240.45" width="17.63" height="9.30" fill="#046704"/>
<rect x="205.73" y="240.45" width="17.63" height="9.30" fill="#046704"/>
<rect x="226.57" y="240.45" width="17.63" height="9.30" fill="#0b6b0b"/>
<rect x="247.40" y="240.45" width="17.63" height="9.30" fill="#046704"/>
<rect x="268.23" y="240.45" width="17.63" height="9.30" fill="#0b6b0b"/>
<rect x="289.07" y="240.45" width="17.63" height="9.30" fill="#046704"/>
<rect x="309.90" y="240.45" width="17.63" height="9.30" fill="#d0e2d0"/>
<rect x="330.73" y="240.45" width="17.63" height="9.30" fill="#9cc39c"/>
<rect x="351.57" y="240.45" width="17.63" height="9.30" fill="#bfd8bf"/>
<rect x="372.40" y="240.45" width="17.63" height="9.30" fill="#79ae79"/>
<rect x="393.23" y="240.45" width="17.63" height="9.30" fill="#046704"/>
<rect x="414.07" y="240.45" width="17.63" height="9.30" fill="#116f11"/>
<rect x="434.90" y="240.45" width="17.63" height="9.30" fill="#579957"/>
<rect x="455.73" y="240.45" width="17.63" height="9.30" fill="#1c751c"/>
<rect x="476.57" y="240.45" width="17.63" height="9.30" fill="#1c751c"/>
<rect x="497.40" y="240.45" width="17.63" height="9.30" fill="#116f11"/>
<rect x="518.23" y="240.45" width="17.63" height="9.30" fill="#808080"/>
<rect x="539.07" y="240.45" width="17.63" height="9.30" fill="#116f11"/>
<rect x="559.90" y="240.45" width="17.63" height="9.30" fill="#046704"/>
<rect x="580.73" y="240.45" width="17.63" height="9.30" fill="#096909"/>
<rect x="601.57" y="240.45" width="17.63" height="9.30" fill="#808080"/>
<rect x="622.40" y="240.45" width="17.63" height="9.30" fill="#096909"/>
<rect x="643.23" y="240.45" width="17.63" height="9.30" fill="#1c751c"/>
<rect x="664.07" y="240.45" width="17.63" height="9.30" fill="#116f11"/>
<rect x="684.90" y="240.45" width="17.63" height="9.30" fill="#8bb88b"/>
<rect x="705.73" y="240.45" width="17.63" height="9.30" fill="#116f11"/>
<rect x="726.57" y="240.45" width="17.63" height="9.30" fill="#808080"/>
<rect x="747.40" y="240.45" width="17.63" height="9.30" fill="#116f11"/>
<rect x="768.23" y="240.45" width="17.63" height="9.30" fill="#046704"/>
<rect x="789.07" y="240.45" width="17.63" height="9.30" fill="#116f11"/>
<rect x="59.90" y="252.95" width="17.63" height="9.30" fill="#0d6c0d"/>
<rect x="80.73" y="252.95" width="17.63" height="9.30" fill="#0d6c0d"/>
<rect x="101.57" y="252.95" width="17.63" height="9.30" fill="#308130"/>
<rect x="122.40" y="252.95" width="17.63" height="9.30" fill="#0d6c0d"/>
<rect x="143.23" y="252.95" width="17.63" height="9.30" fill="#046704"/>
<rect x="164.07" y="252.95" width="17.63" height="9.30" fill="#046704"/>
<rect x="184.90" y="252.95" width="17.63" height="9.30" fill="#046704"/>
<rect x="205.73" y="252.95" width="17.63" height="9.30" fill="#046704"/>
<rect x="226.57" y="252.95" width="17.63" height="9.30" fill="#0b6b0b"/>
<rect x="247.40" y="252.95" width="17.63" height="9.30" fill="#046704"/>
<rect x="268.23" y="252.95" width="17.63" height="9.30" fill="#0b6b0b"/>
<rect x="289.07" y="252.95" width="17.63" height="9.30" fill="#046704"/>
<rect x="309.90" y="252.95" width="17.63" height="9.30" fill="#d0e2d0"/>
<rect x="330.73" y="252.95" width="17.63" height="9.30" fill="#9cc39c"/>
<rect x="351.57" y="252.95" width="17.63" height="9.30" fill="#bfd8bf"/>
<rect x="372.40" y="252.95" width="17.63" height="9.30" fill="#79ae79"/>
<rect x="393.23" y="252.95" width="17.63" height="9.30" fill="#116f11"/>
<rect x="414.07" y="252.95" width="17.63" height="9.30" fill="#116f11"/>
<rect x="434.90" y="252.95" width="17.63" height="9.30" fill="#308130"/>
<rect x="455.73" y="252.95" width="17.63" height="9.30" fill="#1c751c"/>
<rect x="476.57" y="252.95" width="17.63" height="9.30" fill="#116f11"/>
<rect x="497.40" y="252.95" width="17.63" height="9.30" fill="#116f11"/>
<rect x="518.23" y="252.95" width="17.63" height="9.30" fill="#116f11"/>
<rect x="539.07" y="252.95" width="17.63" height="9.30" fill="#116f11"/>
<rect x="559.90" y="252.95" width="17.63" height="9.30" fill="#046704"/>
<rect x="580.73" y="252.95" width="17.63" height="9.30" fill="#096909"/>
<rect x="601.57" y="252.95" width="17.63" height="9.30" fill="#808080"/>
<rect x="622.40" y="252.95" width="17.63" height="9.30" fill="#096909"/>
<rect x="643.23" y="252.95" width="17.63" height="9.30" fill="#116f11"/>
<rect x="664.07" y="252.95" width="17.63" height="9.30" fill="#116f11"/>
<rect x="684.90" y="252.95" width="17.63" height="9.30" fill="#8bb88b"/>
<rect x="705.73" y="252.95" width="17.63" height="9.30" fill="#116f11"/>
<rect x="726.57" y="252.95" width="17.63" height="9.30" fill="#308130"/>
<rect x="747.40" y="252.95" width="17.63" height="9.30" fill="#116f11"/>
<rect x="768.23" y="252.95" width="17.63" height="9.30" fill="#046704"/>
<rect x="789.07" y="252.95" width="17.63" height="9.30" fill="#116f11"/>
<rect x="59.90" y="265.45" width="17.63" height="9.30" fill="#0d6c0d"/>
<rect x="80.73" y="265.45" width="17.63" height="9.30" fill="#0d6c0d"/>
<rect x="101.57" y="265.45" width="17.63" height="9.30" fill="#1c751c"/>
<rect x="122.40" y="265.45" width="17.63" height="9.30" fill="#1c751c"/>
<rect x="143.23" y="265.45" width="17.63" height="9.30" fill="#808080"/>
<rect x="164.07" y="265.45" width="17.63" height="9.30" fill="#046704"/>
<rect x="184.90" y="265.45" width="17.63" height="9.30" fill="#808080"/>
<rect x="205.73" y="265.45" width="17.63" height="9.30" fill="#046704"/>
<rect x="226.57" y="265.45" width="17.63" height="9.30" fill="#1c751c"/>
<rect x="247.40" y="265.45" width="17.63" height="9.30" fill="#046704"/>
<rect x="268.23" y="265.45" width="17.63" height="9.30" fill="#808080"/>
<rect x="289.07" y="265.45" width="17.63" height="9.30" fill="#046704"/>
<rect x="309.90" y="265.45" width="17.63" height="9.30" fill="#d0e2d0"/>
<rect x="330.73" y="265.45" width="17.63" height="9.30" fill="#adcdad"/>
<rect x="351.57" y="265.45" width="17.63" height="9.30" fill="#bfd8bf"/>
<rect x="372.40" y="265.45" width="17.63" height="9.30" fill="#8bb88b"/>
<rect x="393.23" y="265.45" width="17.63" height="9.30" fill="#1c751c"/>
<rect x="414.07" y="265.45" width="17.63" height="9.30" fill="#116f11"/>
<rect x="434.90" y="265.45" width="17.63" height="9.30" fill="#808080"/>
<rect x="455.73" y="265.45" width="17.63" height="9.30" fill="#1c751c"/>
<rect x="476.57" y="265.45" width="17.63" height="9.30" fill="#458e45"/>
<rect x="497.40" y="265.45" width="17.63" height="9.30" fill="#116f11"/>
<rect x="518.23" y="265.45" width="17.63" height="9.30" fill="#808080"/>
<rect x="539.07" y="265.45" width="17.63" height="9.30" fill="#116f11"/>
<rect x="559.90" y="265.45" width="17.63" height="9.30" fill="#808080"/>
<rect x="580.73" y="265.45" width="17.63" height="9.30" fill="#096909"/>
<rect x="601.57" y="265.45" width="17.63" height="9.30" fill="#808080"/>
<rect x="622.40" y="265.45" width="17.63" height="9.30" fill="#096909"/>
<rect x="643.23" y="265.45" width="17.63" height="9.30" fill="#1c751c"/>
<rect x="664.07" y="265.45" width="17.63" height="9.30" fill="#116f11"/>
<rect x="684.90" y="265.45" width="17.63" height="9.30" fill="#1c751c"/>
<rect x="705.73" y="265.45" width="17.63" height="9.30" fill="#116f11"/>
<rect x="726.57" y="265.45" width="17.63" height="9.30" fill="#808080"/>
<rect x="747.40" y="265.45" width="17.63" height="9.30" fill="#116f11"/>
<rect x="768.23" y="265.45" width="17.63" height="9.30" fill="#808080"/>
<rect x="789.07" y="265.45" width="17.63" height="9.30" fill="#116f11"/>
<rect x="59.90" y="277.95" width="17.63" height="9.30" fill="#0d6c0d"/>
<rect x="80.73" y="277.95" width="17.63" height="9.30" fill="#0d6c0d"/>
<rect x="101.57" y="277.95" width="17.63" height="9.30" fill="#458e45"/>
<rect x="122.40" y="277.95" width="17.63" height="9.30" fill="#1c751c"/>
<rect x="143.23" y="277.95" width="17.63" height="9.30" fill="#0b6b0b"/>
<rect x="164.07" y="277.95" width="17.63" height="9.30" fill="#046704"/>
<rect x="184.90" y="277.95" width="17.63" height="9.30" fill="#808080"/>
<rect x="205.73" y="277.95" width="17.63" height="9.30" fill="#046704"/>
<rect x="226.57" y="277.95" width="17.63" height="9.30" fill="#0b6b0b"/>
<rect x="247.40" y="277.95" width="17.63" height="9.30" fill="#046704"/>
<rect x="268.23" y="277.95" width="17.63" height="9.30" fill="#0b6b0b"/>
<rect x="289.07" y="277.95" width="17.63" height="9.30" fill="#046704"/>
<rect x="309.90" y="277.95" width="17.63" height="9.30" fill="#ffffff"/>
<rect x="330.73" y="277.95" width="17.63" height="9.30" fill="#adcdad"/>
<rect x="351.57" y="277.95" width="17.63" height="9.30" fill="#ffffff"/>
<rect x="372.40" y="277.95" width="17.63" height="9.30" fill="#8bb88b"/>
<rect x="393.23" y="277.95" width="17.63" height="9.30" fill="#116f11"/>
<rect x="414.07" y="277.95" width="17.63" height="9.30" fill="#116f11"/>
<rect x="434.90" y="277.95" width="17.63" height="9.30" fill="#808080"/>
<rect x="455.73" y="277.95" width="17.63" height="9.30" fill="#1c751c"/>
<rect x="476.57" y="277.95" width="17.63" height="9.30" fill="#046704"/>
<rect x="497.40" y="277.95" width="17.63" height="9.30" fill="#116f11"/>
<rect x="518.23" y="277.95" width="17.63" height="9.30" fill="#808080"/>
<rect x="539.07" y="277.95" width="17.63" height="9.30" fill="#116f11"/>
<rect x="559.90" y="277.95" width="17.63" height="9.30" fill="#808080"/>
<rect x="580.73" y="277.95" width="17.63" height="9.30" fill="#096909"/>
<rect x="601.57" y="277.95" width="17.63" height="9.30" fill="#808080"/>
<rect x="622.40" y="277.95" width="17.63" height="9.30" fill="#096909"/>
<rect x="643.23" y="277.95" width="17.63" height="9.30" fill="#808080"/>
<rect x="664.07" y="277.95" width="17.63" height="9.30" fill="#116f11"/>
<rect x="684.90" y="277.95" width="17.63" height="9.30" fill="#808080"/>
<rect x="705.73" y="277.95" width="17.63" height="9.30" fill="#116f11"/>
<rect x="726.57" y="277.95" width="17.63" height="9.30" fill="#808080"/>
<rect x="747.40" y="277.95" width="17.63" height="9.30" fill="#116f11"/>
<rect x="768.23" y="277.95" width="17.63" height="9.30" fill="#808080"/>
<rect x="789.07" y="277.95" width="17.63" height="9.30" fill="#116f11"/>
<rect x="59.90" y="290.45" width="17.63" height="9.30" fill="#1c751c"/>
<rect x="80.73" y="290.45" width="17.63" height="9.30" fill="#0d6c0d"/>
<rect x="101.57" y="290.45" width="17.63" height="9.30" fill="#308130"/>
<rect x="122.40" y="290.45" width="17.63" height="9.30" fill="#1c751c"/>
<rect x="143.23" y="290.45" width="17.63" height="9.30" fill="#046704"/>
<rect x="164.07" y="290.45" width="17.63" height="9.30" fill="#046704"/>
<rect x="184.90" y="290.45" width="17.63" height="9.30" fill="#0b6b0b"/>
<rect x="205.73" y="290.45" width="17.63" height="9.30" fill="#046704"/>
<rect x="226.57" y="290.45" width="17.63" height="9.30" fill="#0b6b0b"/>
<rect x="247.40" y="290.45" width="17.63" height="9.30" fill="#046704"/>
<rect x="268.23" y="290.45" width="17.63" height="9.30" fill="#0b6b0b"/>
<rect x="289.07" y="290.45" width="17.63" height="9.30" fill="#046704"/>
<rect x="309.90" y="290.45" width="17.63" height="9.30" fill="#bfd8bf"/>
<rect x="330.73" y="290.45" width="17.63" height="9.30" fill="#bfd8bf"/>
<rect x="351.57" y="290.45" width="17.63" height="9.30" fill="#adcdad"/>
<rect x="372.40" y="290.45" width="17.63" height="9.30" fill="#8bb88b"/>
<rect x="393.23" y="290.45" width="17.63" height="9.30" fill="#308130"/>
<rect x="414.07" y="290.45" width="17.63" height="9.30" fill="#116f11"/>
<rect x="434.90" y="290.45" width="17.63" height="9.30" fill="#579957"/>
<rect x="455.73" y="290.45" width="17.63" height="9.30" fill="#1c751c"/>
<rect x="476.57" y="290.45" width="17.63" height="9.30" fill="#116f11"/>
<rect x="497.40" y="290.45" width="17.63" height="9.30" fill="#116f11"/>
<rect x="518.23" y="290.45" width="17.63" height="9.30" fill="#308130"/>
<rect x="539.07" y="290.45" width="17.63" height="9.30" fill="#116f11"/>
<rect x="559.90" y="290.45" width="17.63" height="9.30" fill="#808080"/>
<rect x="580.73" y="290.45" width="17.63" height="9.30" fill="#096909"/>
<rect x="601.57" y="290.45" width="17.63" height="9.30" fill="#808080"/>
<rect x="622.40" y="290.45" width="17.63" height="9.30" fill="#096909"/>
<rect x="643.23" y="290.45" width="17.63" height="9.30" fill="#1c751c"/>
<rect x="664.07" y="290.45" width="17.63" height="9.30" fill="#116f11"/>
<rect x="684.90" y="290.45" width="17.63" height="9.30" fill="#308130"/>
<rect x="705.73" y="290.45" width="17.63" height="9.30" fill="#116f11"/>
<rect x="726.57" y="290.45" width="17.63" height="9.30" fill="#046704"/>
<rect x="747.40" y="290.45" width="17.63" height="9.30" fill="#116f11"/>
<rect x="768.23" y="290.45" width="17.63" height="9.30" fill="#808080"/>
<rect x="789.07" y="290.45" width="17.63" height="9.30" fill="#116f11"/>
<rect x="59.90" y="302.95" width="17.63" height="9.30" fill="#1c751c"/>
<rect x="80.73" y="302.95" width="17.63" height="9.30" fill="#0d6c0d"/>
<rect x="101.57" y="302.95" width="17.63" height="9.30" fill="#9cc39c"/>
<rect x="122.40" y="302.95" width="17.63" height="9.30" fill="#1c751c"/>
<rect x="143.23" y="302.95" width="17.63" height="9.30" fill="#046704"/>
<rect x="164.07" y="302.95" width="17.63" height="9.30" fill="#046704"/>
<rect x="184.90" y="302.95" width="17.63" height="9.30" fill="#808080"/>
<rect x="205.73" y="302.95" width="17.63" height="9.30" fill="#046704"/>
<rect x="226.57" y="302.95" width="17.63" height="9.30" fill="#0b6b0b"/>
<rect x="247.40" y="302.95" width="17.63" height="9.30" fill="#046704"/>
<rect x="268.23" y="302.95" width="17.63" height="9.30" fill="#0b6b0b"/>
<rect x="289.07" y="302.95" width="17.63" height="9.30" fill="#046704"/>
<rect x="309.90" y="302.95" width="17.63" height="9.30" fill="#9cc39c"/>
<rect x="330.73" y="302.95" width="17.63" height="9.30" fill="#bfd8bf"/>
<rect x="351.57" y="302.95" width="17.63" height="9.30" fill="#9cc39c"/>
<rect x="372.40" y="302.95" width="17.63" height="9.30" fill="#8bb88b"/>
<rect x="393.23" y="302.95" width="17.63" height="9.30" fill="#808080"/>
<rect x="414.07" y="302.95" width="17.63" height="9.30" fill="#116f11"/>
<rect x="434.90" y="302.95" width="17.63" height="9.30" fill="#579957"/>
<rect x="455.73" y="302.95" width="17.63" height="9.30" fill="#1c751c"/>
<rect x="476.57" y="302.95" width="17.63" height="9.30" fill="#808080"/>
<rect x="497.40" y="302.95" width="17.63" height="9.30" fill="#116f11"/>
<rect x="518.23" y="302.95" width="17.63" height="9.30" fill="#808080"/>
<rect x="539.07" y="302.95" width="17.63" height="9.30" fill="#116f11"/>
<rect x="559.90" y="302.95" width="17.63" height="9.30" fill="#808080"/>
<rect x="580.73" y="302.95" width="17.63" height="9.30" fill="#096909"/>
<rect x="601.57" y="302.95" width="17.63" height="9.30" fill="#808080"/>
<rect x="622.40" y="302.95" width="17.63" height="9.30" fill="#096909"/>
<rect x="643.23" y="302.95" width="17.63" height="9.30" fill="#808080"/>
<rect x="664.07" y="302.95" width="17.63" height="9.30" fill="#116f11"/>
<rect x="684.90" y="302.95" width="17.63" height="9.30" fill="#808080"/>
<rect x="705.73" y="302.95" width="17.63" height="9.30" fill="#116f11"/>
<rect x="726.57" y="302.95" width="17.63" height="9.30" fill="#808080"/>
<rect x="747.40" y="302.95" width="17.63" height="9.30" fill="#116f11"/>
<rect x="768.23" y="302.95" width="17.63" height="9.30" fill="#808080"/>
<rect x="789.07" y="302.95" width="17.63" height="9.30" fill="#116f11"/>
<rect x="59.90" y="315.45" width="17.63" height="9.30" fill="#1c751c"/>
<rect x="80.73" y="315.45" width="17.63" height="9.30" fill="#0d6c0d"/>
<rect x="101.57" y="315.45" width="17.63" height="9.30" fill="#579957"/>
<rect x="122.40" y="315.45" width="17.63" height="9.30" fill="#1c751c"/>
<rect x="143.23" y="315.45" width="17.63" height="9.30" fill="#0b6b0b"/>
<rect x="164.07" y="315.45" width="17.63" height="9.30" fill="#046704"/>
<rect x="184.90" y="315.45" width="17.63" height="9.30" fill="#808080"/>
<rect x="205.73" y="315.45" width="17.63" height="9.30" fill="#046704"/>
<rect x="226.57" y="315.45" width="17.63" height="9.30" fill="#0b6b0b"/>
<rect x="247.40" y="315.45" width="17.63" height="9.30" fill="#046704"/>
<rect x="268.23" y="315.45" width="17.63" height="9.30" fill="#808080"/>
<rect x="289.07" y="315.45" width="17.63" height="9.30" fill="#046704"/>
<rect x="309.90" y="315.45" width="17.63" height="9.30" fill="#8bb88b"/>
<rect x="330.73" y="315.45" width="17.63" height="9.30" fill="#d0e2d0"/>
<rect x="351.57" y="315.45" width="17.63" height="9.30" fill="#bfd8bf"/>
<rect x="372.40" y="315.45" width="17.63" height="9.30" fill="#8bb88b"/>
<rect x="393.23" y="315.45" width="17.63" height="9.30" fill="#808080"/>
<rect x="414.07" y="315.45" width="17.63" height="9.30" fill="#116f11"/>
<rect x="434.90" y="315.45" width="17.63" height="9.30" fill="#308130"/>
<rect x="455.73" y="315.45" width="17.63" height="9.30" fill="#1c751c"/>
<rect x="476.57" y="315.45" width="17.63" height="9.30" fill="#808080"/>
<rect x="497.40" y="315.45" width="17.63" height="9.30" fill="#116f11"/>
<rect x="518.23" y="315.45" width="17.63" height="9.30" fill="#808080"/>
<rect x="539.07" y="315.45" width="17.63" height="9.30" fill="#116f11"/>
<rect x="559.90" y="315.45" width="17.63" height="9.30" fill="#808080"/>
<rect x="580.73" y="315.45" width="17.63" height="9.30" fill="#096909"/>
<rect x="601.57" y="315.45" width="17.63" height="9.30" fill="#808080"/>
<rect x="622.40" y="315.45" width="17.63" height="9.30" fill="#096909"/>
<rect x="643.23" y="315.45" width="17.63" height="9.30" fill="#046704"/>
<rect x="664.07" y="315.45" width="17.63" height="9.30" fill="#116f11"/>
<rect x="684.90" y="315.45" width="17.63" height="9.30" fill="#308130"/>
<rect x="705.73" y="315.45" width="17.63" height="9.30" fill="#116f11"/>
<rect x="726.57" y="315.45" width="17.63" height="9.30" fill="#808080"/>
<rect x="747.40" y="315.45" width="17.63" height="9.30" fill="#116f11"/>
<rect x="768.23" y="315.45" width="17.63" height="9.30" fill="#808080"/>
<rect x="789.07" y="315.45" width="17.63" height="9.30" fill="#116f11"/>
<rect x="59.90" y="327.95" width="17.63" height="9.30" fill="#308130"/>
<rect x="80.73" y="327.95" width="17.63" height="9.30" fill="#0d6c0d"/>
<rect x="101.57" y="327.95" width="17.63" height="9.30" fill="#458e45"/>
<rect x="122.40" y="327.95" width="17.63" height="9.30" fill="#1c751c"/>
<rect x="143.23" y="327.95" width="17.63" height="9.30" fill="#0b6b0b"/>
<rect x="164.07" y="327.95" width="17.63" height="9.30" fill="#046704"/>
<rect x="184.90" y="327.95" width="17.63" height="9.30" fill="#808080"/>
<rect x="205.73" y="327.95" width="17.63" height="9.30" fill="#046704"/>
<rect x="226.57" y="327.95" width="17.63" height="9.30" fill="#0b6b0b"/>
<rect x="247.40" y="327.95" width="17.63" height="9.30" fill="#046704"/>
<rect x="268.23" y="327.95" width="17.63" height="9.30" fill="#0b6b0b"/>
<rect x="289.07" y="327.95" width="17.63" height="9.30" fill="#046704"/>
<rect x="309.90" y="327.95" width="17.63" height="9.30" fill="#046704"/>
<rect x="330.73" y="327.95" width="17.63" height="9.30" fill="#bfd8bf"/>
<rect x="351.57" y="327.95" width="17.63" height="9.30" fill="#79ae79"/>
<rect x="372.40" y="327.95" width="17.63" height="9.30" fill="#8bb88b"/>
<rect x="393.23" y="327.95" width="17.63" height="9.30" fill="#116f11"/>
<rect x="414.07" y="327.95" width="17.63" height="9.30" fill="#116f11"/>
<rect x="434.90" y="327.95" width="17.63" height="9.30" fill="#808080"/>
<rect x="455.73" y="327.95" width="17.63" height="9.30" fill="#1c751c"/>
<rect x="476.57" y="327.95" width="17.63" height="9.30" fill="#808080"/>
<rect x="497.40" y="327.95" width="17.63" height="9.30" fill="#116f11"/>
<rect x="518.23" y="327.95" width="17.63" height="9.30" fill="#808080"/>
<rect x="539.07" y="327.95" width="17.63" height="9.30" fill="#116f11"/>
<rect x="559.90" y="327.95" width="17.63" height="9.30" fill="#808080"/>
<rect x="580.73" y="327.95" width="17.63" height="9.30" fill="#096909"/>
<rect x="601.57" y="327.95" width="17.63" height="9.30" fill="#808080"/>
<rect x="622.40" y="327.95" width="17.63" height="9.30" fill="#096909"/>
<rect x="643.23" y="327.95" width="17.63" height="9.30" fill="#808080"/>
<rect x="664.07" y="327.95" width="17.63" height="9.30" fill="#116f11"/>
<rect x="684.90" y="327.95" width="17.63" height="9.30" fill="#68a368"/>
<rect x="705.73" y="327.95" width="17.63" height="9.30" fill="#116f11"/>
<rect x="726.57" y="327.95" width="17.63" height="9.30" fill="#116f11"/>
<rect x="747.40" y="327.95" width="17.63" height="9.30" fill="#116f11"/>
<rect x="768.23" y="327.95" width="17.63" height="9.30" fill="#808080"/>
<rect x="789.07" y="327.95" width="17.63" height="9.30" fill="#116f11"/>
<rect x="59.90" y="340.45" width="17.63" height="9.30" fill="#1c751c"/>
<rect x="80.73" y="340.45" width="17.63" height="9.30" fill="#0d6c0d"/>
<rect x="101.57" y="340.45" width="17.63" height="9.30" fill="#579957"/>
<rect x="122.40" y="340.45" width="17.63" height="9.30" fill="#1c751c"/>
<rect x="143.23" y="340.45" width="17.63" height="9.30" fill="#0b6b0b"/>
<rect x="164.07" y="340.45" width="17.63" height="9.30" fill="#046704"/>
<rect x="184.90" y="340.45" width="17.63" height="9.30" fill="#0b6b0b"/>
<rect x="205.73" y="340.45" width="17.63" height="9.30" fill="#046704"/>
<rect x="226.57" y="340.45" width="17.63" height="9.30" fill="#0b6b0b"/>
<rect x="247.40" y="340.45" width="17.63" height="9.30" fill="#046704"/>
<rect x="268.23" y="340.45" width="17.63" height="9.30" fill="#0b6b0b"/>
<rect x="289.07" y="340.45" width="17.63" height="9.30" fill="#046704"/>
<rect x="309.90" y="340.45" width="17.63" height="9.30" fill="#fbf0f0"/>
<rect x="330.73" y="340.45" width="17.63" height="9.30" fill="#9cc39c"/>
<rect x="351.57" y="340.45" width="17.63" height="9.30" fill="#f1c3c3"/>
<rect x="372.40" y="340.45" width="17.63" height="9.30" fill="#8bb88b"/>
<rect x="393.23" y="340.45" width="17.63" height="9.30" fill="#458e45"/>
<rect x="414.07" y="340.45" width="17.63" height="9.30" fill="#116f11"/>
<rect x="434.90" y="340.45" width="17.63" height="9.30" fill="#458e45"/>
<rect x="455.73" y="340.45" width="17.63" height="9.30" fill="#1c751c"/>
<rect x="476.57" y="340.45" width="17.63" height="9.30" fill="#046704"/>
<rect x="497.40" y="340.45" width="17.63" height="9.30" fill="#116f11"/>
<rect x="518.23" y="340.45" width="17.63" height="9.30" fill="#79ae79"/>
<rect x="539.07" y="340.45" width="17.63" height="9.30" fill="#116f11"/>
<rect x="559.90" y="340.45" width="17.63" height="9.30" fill="#808080"/>
<rect x="580.73" y="340.45" width="17.63" height="9.30" fill="#096909"/>
<rect x="601.57" y="340.45" width="17.63" height="9.30" fill="#808080"/>
<rect x="622.40" y="340.45" width="17.63" height="9.30" fill="#096909"/>
<rect x="643.23" y="340.45" width="17.63" height="9.30" fill="#116f11"/>
<rect x="664.07" y="340.45" width="17.63" height="9.30" fill="#116f11"/>
<rect x="684.90" y="340.45" width="17.63" height="9.30" fill="#808080"/>
<rect x="705.73" y="340.45" width="17.63" height="9.30" fill="#116f11"/>
<rect x="726.57" y="340.45" width="17.63" height="9.30" fill="#046704"/>
<rect x="747.40" y="340.45" width="17.63" height="9.30" fill="#116f11"/>
<rect x="768.23" y="340.45" width="17.63" height="9.30" fill="#808080"/>
<rect x="789.07" y="340.45" width="17.63" height="9.30" fill="#116f11"/>
<rect x="59.90" y="352.95" width="17.63" height="9.30" fill="#1c751c"/>
<rect x="80.73" y="352.95" width="17.63" height="9.30" fill="#0d6c0d"/>
<rect x="101.57" y="352.95" width="17.63" height="9.30" fill="#458e45"/>
<rect x="122.40" y="352.95" width="17.63" height="9.30" fill="#1c751c"/>
<rect x="143.23" y="352.95" width="17.63" height="9.30" fill="#0b6b0b"/>
<rect x="164.07" y="352.95" width="17.63" height="9.30" fill="#046704"/>
<rect x="184.90" y="352.95" width="17.63" height="9.30" fill="#0b6b0b"/>
<rect x="205.73" y="352.95" width="17.63" height="9.30" fill="#046704"/>
<rect x="226.57" y="352.95" width="17.63" height="9.30" fill="#0b6b0b"/>
<rect x="247.40" y="352.95" width="17.63" height="9.30" fill="#046704"/>
<rect x="268.23" y="352.95" width="17.63" height="9.30" fill="#0b6b0b"/>
<rect x="289.07" y="352.95" width="17.63" height="9.30" fill="#046704"/>
<rect x="309.90" y="352.95" width="17.63" height="9.30" fill="#e1ede1"/>
<rect x="330.73" y="352.95" width="17.63" height="9.30" fill="#9cc39c"/>
<rect x="351.57" y="352.95" width="17.63" height="9.30" fill="#d0e2d0"/>
<rect x="372.40" y="352.95" width="17.63" height="9.30" fill="#8bb88b"/>
<rect x="393.23" y="352.95" width="17.63" height="9.30" fill="#1c751c"/>
<rect x="414.07" y="352.95" width="17.63" height="9.30" fill="#116f11"/>
<rect x="434.90" y="352.95" width="17.63" height="9.30" fill="#68a368"/>
<rect x="455.73" y="352.95" width="17.63" height="9.30" fill="#1c751c"/>
<rect x="476.57" y="352.95" width="17.63" height="9.30" fill="#046704"/>
<rect x="497.40" y="352.95" width="17.63" height="9.30" fill="#116f11"/>
<rect x="518.23" y="352.95" width="17.63" height="9.30" fill="#308130"/>
<rect x="539.07" y="352.95" width="17.63" height="9.30" fill="#116f11"/>
<rect x="559.90" y="352.95" width="17.63" height="9.30" fill="#046704"/>
<rect x="580.73" y="352.95" width="17.63" height="9.30" fill="#096909"/>
<rect x="601.57" y="352.95" width="17.63" height="9.30" fill="#808080"/>
<rect x="622.40" y="352.95" width="17.63" height="9.30" fill="#096909"/>
<rect x="643.23" y="352.95" width="17.63" height="9.30" fill="#308130"/>
<rect x="664.07" y="352.95" width="17.63" height="9.30" fill="#116f11"/>
<rect x="684.90" y="352.95" width="17.63" height="9.30" fill="#68a368"/>
<rect x="705.73" y="352.95" width="17.63" height="9.30" fill="#116f11"/>
<rect x="726.57" y="352.95" width="17.63" height="9.30" fill="#046704"/>
<rect x="747.40" y="352.95" width="17.63" height="9.30" fill="#116f11"/>
<rect x="768.23" y="352.95" width="17.63" height="9.30" fill="#1c751c"/>
<rect x="789.07" y="352.95" width="17.63" height="9.30" fill="#116f11"/>
<rect x="59.90" y="365.45" width="17.63" height="9.30" fill="#1c751c"/>
<rect x="80.73" y="365.45" width="17.63" height="9.30" fill="#0d6c0d"/>
<rect x="101.57" y="365.45" width="17.63" height="9.30" fill="#308130"/>
<rect x="122.40" y="365.45" width="17.63" height="9.30" fill="#1c751c"/>
<rect x="143.23" y="365.45" width="17.63" height="9.30" fill="#0b6b0b"/>
<rect x="164.07" y="365.45" width="17.63" height="9.30" fill="#046704"/>
<rect x="184.90" y="365.45" width="17.63" height="9.30" fill="#0b6b0b"/>
<rect x="205.73" y="365.45" width="17.63" height="9.30" fill="#046704"/>
<rect x="226.57" y="365.45" width="17.63" height="9.30" fill="#0b6b0b"/>
<rect x="247.40" y="365.45" width="17.63" height="9.30" fill="#046704"/>
<rect x="268.23" y="365.45" width="17.63" height="9.30" fill="#0b6b0b"/>
<rect x="289.07" y="365.45" width="17.63" height="9.30" fill="#046704"/>
<rect x="309.90" y="365.45" width="17.63" height="9.30" fill="#e1ede1"/>
<rect x="330.73" y="365.45" width="17.63" height="9.30" fill="#9cc39c"/>
<rect x="351.57" y="365.45" width="17.63" height="9.30" fill="#adcdad"/>
<rect x="372.40" y="365.45" width="17.63" height="9.30" fill="#8bb88b"/>
<rect x="393.23" y="365.45" width="17.63" height="9.30" fill="#1c751c"/>
<rect x="414.07" y="365.45" width="17.63" height="9.30" fill="#116f11"/>
<rect x="434.90" y="365.45" width="17.63" height="9.30" fill="#579957"/>
<rect x="455.73" y="365.45" width="17.63" height="9.30" fill="#1c751c"/>
<rect x="476.57" y="365.45" width="17.63" height="9.30" fill="#046704"/>
<rect x="497.40" y="365.45" width="17.63" height="9.30" fill="#116f11"/>
<rect x="518.23" y="365.45" width="17.63" height="9.30" fill="#458e45"/>
<rect x="539.07" y="365.45" width="17.63" height="9.30" fill="#116f11"/>
<rect x="559.90" y="365.45" width="17.63" height="9.30" fill="#046704"/>
<rect x="580.73" y="365.45" width="17.63" height="9.30" fill="#096909"/>
<rect x="601.57" y="365.45" width="17.63" height="9.30" fill="#808080"/>
<rect x="622.40" y="365.45" width="17.63" height="9.30" fill="#096909"/>
<rect x="643.23" y="365.45" width="17.63" height="9.30" fill="#308130"/>
<rect x="664.07" y="365.45" width="17.63" height="9.30" fill="#116f11"/>
<rect x="684.90" y="365.45" width="17.63" height="9.30" fill="#579957"/>
<rect x="705.73" y="365.45" width="17.63" height="9.30" fill="#116f11"/>
<rect x="726.57" y="365.45" width="17.63" height="9.30" fill="#046704"/>
<rect x="747.40" y="365.45" width="17.63" height="9.30" fill="#116f11"/>
<rect x="768.23" y="365.45" width="17.63" height="9.30" fill="#1c751c"/>
<rect x="789.07" y="365.45" width="17.63" height="9.30" fill="#116f11"/>
<rect x="59.90" y="377.95" width="17.63" height="9.30" fill="#1c751c"/>
<rect x="80.73" y="377.95" width="17.63" height="9.30" fill="#0d6c0d"/>
<rect x="101.57" y="377.95" width="17.63" height="9.30" fill="#68a368"/>
<rect x="122.40" y="377.95" width="17.63" height="9.30" fill="#1c751c"/>
<rect x="143.23" y="377.95" width="17.63" height="9.30" fill="#046704"/>
<rect x="164.07" y="377.95" width="17.63" height="9.30" fill="#046704"/>
<rect x="184.90" y="377.95" width="17.63" height="9.30" fill="#808080"/>
<rect x="205.73" y="377.95" width="17.63" height="9.30" fill="#046704"/>
<rect x="226.57" y="377.95" width="17.63" height="9.30" fill="#0b6b0b"/>
<rect x="247.40" y="377.95" width="17.63" height="9.30" fill="#046704"/>
<rect x="268.23" y="377.95" width="17.63" height="9.30" fill="#0b6b0b"/>
<rect x="289.07" y="377.95" width="17.63" height="9.30" fill="#046704"/>
<rect x="309.90" y="377.95" width="17.63" height="9.30" fill="#e1ede1"/>
<rect x="330.73" y="377.95" width="17.63" height="9.30" fill="#9cc39c"/>
<rect x="351.57" y="377.95" width="17.63" height="9.30" fill="#9cc39c"/>
<rect x="372.40" y="377.95" width="17.63" height="9.30" fill="#8bb88b"/>
<rect x="393.23" y="377.95" width="17.63" height="9.30" fill="#808080"/>
<rect x="414.07" y="377.95" width="17.63" height="9.30" fill="#116f11"/>
<rect x="434.90" y="377.95" width="17.63" height="9.30" fill="#579957"/>
<rect x="455.73" y="377.95" width="17.63" height="9.30" fill="#1c751c"/>
<rect x="476.57" y="377.95" width="17.63" height="9.30" fill="#808080"/>
<rect x="497.40" y="377.95" width="17.63" height="9.30" fill="#116f11"/>
<rect x="518.23" y="377.95" width="17.63" height="9.30" fill="#808080"/>
<rect x="539.07" y="377.95" width="17.63" height="9.30" fill="#116f11"/>
<rect x="559.90" y="377.95" width="17.63" height="9.30" fill="#808080"/>
<rect x="580.73" y="377.95" width="17.63" height="9.30" fill="#096909"/>
<rect x="601.57" y="377.95" width="17.63" height="9.30" fill="#808080"/>
<rect x="622.40" y="377.95" width="17.63" height="9.30" fill="#096909"/>
<rect x="643.23" y="377.95" width="17.63" height="9.30" fill="#808080"/>
<rect x="664.07" y="377.95" width="17.63" height="9.30" fill="#116f11"/>
<rect x="684.90" y="377.95" width="17.63" height="9.30" fill="#808080"/>
<rect x="705.73" y="377.95" width="17.63" height="9.30" fill="#116f11"/>
<rect x="726.57" y="377.95" width="17.63" height="9.30" fill="#808080"/>
<rect x="747.40" y="377.95" width="17.63" height="9.30" fill="#116f11"/>
<rect x="768.23" y="377.95" width="17.63" height="9.30" fill="#808080"/>
<rect x="789.07" y="377.95" width="17.63" height="9.30" fill="#116f11"/>
<rect x="59.90" y="390.45" width="17.63" height="9.30" fill="#579957"/>
<rect x="80.73" y="390.45" width="17.63" height="9.30" fill="#0d6c0d"/>
<rect x="101.57" y="390.45" width="17.63" height="9.30" fill="#79ae79"/>
<rect x="122.40" y="390.45" width="17.63" height="9.30" fill="#1c751c"/>
<rect x="143.23" y="390.45" width="17.63" height="9.30" fill="#808080"/>
<rect x="164.07" y="390.45" width="17.63" height="9.30" fill="#046704"/>
<rect x="184.90" y="390.45" width="17.63" height="9.30" fill="#0b6b0b"/>
<rect x="205.73" y="390.45" width="17.63" height="9.30" fill="#046704"/>
<rect x="226.57" y="390.45" width="17.63" height="9.30" fill="#0b6b0b"/>
<rect x="247.40" y="390.45" width="17.63" height="9.30" fill="#046704"/>
<rect x="268.23" y="390.45" width="17.63" height="9.30" fill="#808080"/>
<rect x="289.07" y="390.45" width="17.63" height="9.30" fill="#046704"/>
<rect x="309.90" y="390.45" width="17.63" height="9.30" fill="#d44242"/>
<rect x="330.73" y="390.45" width="17.63" height="9.30" fill="#9cc39c"/>
<rect x="351.57" y="390.45" width="17.63" height="9.30" fill="#808080"/>
<rect x="372.40" y="390.45" width="17.63" height="9.30" fill="#8bb88b"/>
<rect x="393.23" y="390.45" width="17.63" height="9.30" fill="#116f11"/>
<rect x="414.07" y="390.45" width="17.63" height="9.30" fill="#116f11"/>
<rect x="434.90" y="390.45" width="17.63" height="9.30" fill="#808080"/>
<rect x="455.73" y="390.45" width="17.63" height="9.30" fill="#1c751c"/>
<rect x="476.57" y="390.45" width="17.63" height="9.30" fill="#1c751c"/>
<rect x="497.40" y="390.45" width="17.63" height="9.30" fill="#116f11"/>
<rect x="518.23" y="390.45" width="17.63" height="9.30" fill="#808080"/>
<rect x="539.07" y="390.45" width="17.63" height="9.30" fill="#116f11"/>
<rect x="559.90" y="390.45" width="17.63" height="9.30" fill="#808080"/>
<rect x="580.73" y="390.45" width="17.63" height="9.30" fill="#096909"/>
<rect x="601.57" y="390.45" width="17.63" height="9.30" fill="#808080"/>
<rect x="622.40" y="390.45" width="17.63" height="9.30" fill="#096909"/>
<rect x="643.23" y="390.45" width="17.63" height="9.30" fill="#808080"/>
<rect x="664.07" y="390.45" width="17.63" height="9.30" fill="#116f11"/>
<rect x="684.90" y="390.45" width="17.63" height="9.30" fill="#808080"/>
<rect x="705.73" y="390.45" width="17.63" height="9.30" fill="#116f11"/>
<rect x="726.57" y="390.45" width="17.63" height="9.30" fill="#808080"/>
<rect x="747.40" y="390.45" width="17.63" height="9.30" fill="#116f11"/>
<rect x="768.23" y="390.45" width="17.63" height="9.30" fill="#808080"/>
<rect x="789.07" y="390.45" width="17.63" height="9.30" fill="#116f11"/>
<rect x="59.90" y="402.95" width="17.63" height="9.30" fill="#1c751c"/>
<rect x="80.73" y="402.95" width="17.63" height="9.30" fill="#0d6c0d"/>
<rect x="101.57" y="402.95" width="17.63" height="9.30" fill="#79ae79"/>
<rect x="122.40" y="402.95" width="17.63" height="9.30" fill="#1c751c"/>
<rect x="143.23" y="402.95" width="17.63" height="9.30" fill="#0b6b0b"/>
<rect x="164.07" y="402.95" width="17.63" height="9.30" fill="#046704"/>
<rect x="184.90" y="402.95" width="17.63" height="9.30" fill="#0b6b0b"/>
<rect x="205.73" y="402.95" width="17.63" height="9.30" fill="#046704"/>
<rect x="226.57" y="402.95" width="17.63" height="9.30" fill="#0b6b0b"/>
<rect x="247.40" y="402.95" width="17.63" height="9.30" fill="#046704"/>
<rect x="268.23" y="402.95" width="17.63" height="9.30" fill="#0b6b0b"/>
<rect x="289.07" y="402.95" width="17.63" height="9.30" fill="#046704"/>
<rect x="309.90" y="402.95" width="17.63" height="9.30" fill="#e1ede1"/>
<rect x="330.73" y="402.95" width="17.63" height="9.30" fill="#9cc39c"/>
<rect x="351.57" y="402.95" width="17.63" height="9.30" fill="#bfd8bf"/>
<rect x="372.40" y="402.95" width="17.63" height="9.30" fill="#8bb88b"/>
<rect x="393.23" y="402.95" width="17.63" height="9.30" fill="#808080"/>
<rect x="414.07" y="402.95" width="17.63" height="9.30" fill="#116f11"/>
<rect x="434.90" y="402.95" width="17.63" height="9.30" fill="#308130"/>
<rect x="455.73" y="402.95" width="17.63" height="9.30" fill="#1c751c"/>
<rect x="476.57" y="402.95" width="17.63" height="9.30" fill="#116f11"/>
<rect x="497.40" y="402.95" width="17.63" height="9.30" fill="#116f11"/>
<rect x="518.23" y="402.95" width="17.63" height="9.30" fill="#808080"/>
<rect x="539.07" y="402.95" width="17.63" height="9.30" fill="#116f11"/>
<rect x="559.90" y="402.95" width="17.63" height="9.30" fill="#046704"/>
<rect x="580.73" y="402.95" width="17.63" height="9.30" fill="#096909"/>
<rect x="601.57" y="402.95" width="17.63" height="9.30" fill="#808080"/>
<rect x="622.40" y="402.95" width="17.63" height="9.30" fill="#096909"/>
<rect x="643.23" y="402.95" width="17.63" height="9.30" fill="#116f11"/>
<rect x="664.07" y="402.95" width="17.63" height="9.30" fill="#116f11"/>
<rect x="684.90" y="402.95" width="17.63" height="9.30" fill="#808080"/>
<rect x="705.73" y="402.95" width="17.63" height="9.30" fill="#116f11"/>
<rect x="726.57" y="402.95" width="17.63" height="9.30" fill="#808080"/>
<rect x="747.40" y="402.95" width="17.63" height="9.30" fill="#116f11"/>
<rect x="768.23" y="402.95" width="17.63" height="9.30" fill="#808080"/>
<rect x="789.07" y="402.95" width="17.63" height="9.30" fill="#116f11"/>
<rect x="59.90" y="415.45" width="17.63" height="9.30" fill="#1c751c"/>
<rect x="80.73" y="415.45" width="17.63" height="9.30" fill="#0d6c0d"/>
<rect x="101.57" y="415.45" width="17.63" height="9.30" fill="#68a368"/>
<rect x="122.40" y="415.45" width="17.63" height="9.30" fill="#1c751c"/>
<rect x="143.23" y="415.45" width="17.63" height="9.30" fill="#0b6b0b"/>
<rect x="164.07" y="415.45" width="17.63" height="9.30" fill="#046704"/>
<rect x="184.90" y="415.45" width="17.63" height="9.30" fill="#0b6b0b"/>
<rect x="205.73" y="415.45" width="17.63" height="9.30" fill="#046704"/>
<rect x="226.57" y="415.45" width="17.63" height="9.30" fill="#0b6b0b"/>
<rect x="247.40" y="415.45" width="17.63" height="9.30" fill="#046704"/>
<rect x="268.23" y="415.45" width="17.63" height="9.30" fill="#0b6b0b"/>
<rect x="289.07" y="415.45" width="17.63" height="9.30" fill="#046704"/>
<rect x="309.90" y="415.45" width="17.63" height="9.30" fill="#d0e2d0"/>
<rect x="330.73" y="415.45" width="17.63" height="9.30" fill="#9cc39c"/>
<rect x="351.57" y="415.45" width="17.63" height="9.30" fill="#d0e2d0"/>
<rect x="372.40" y="415.45" width="17.63" height="9.30" fill="#79ae79"/>
<rect x="393.23" y="415.45" width="17.63" height="9.30" fill="#308130"/>
<rect x="414.07" y="415.45" width="17.63" height="9.30" fill="#116f11"/>
<rect x="434.90" y="415.45" width="17.63" height="9.30" fill="#458e45"/>
<rect x="455.73" y="415.45" width="17.63" height="9.30" fill="#1c751c"/>
<rect x="476.57" y="415.45" width="17.63" height="9.30" fill="#116f11"/>
<rect x="497.40" y="415.45" width="17.63" height="9.30" fill="#116f11"/>
<rect x="518.23" y="415.45" width="17.63" height="9.30" fill="#046704"/>
<rect x="539.07" y="415.45" width="17.63" height="9.30" fill="#116f11"/>
<rect x="559.90" y="415.45" width="17.63" height="9.30" fill="#046704"/>
<rect x="580.73" y="415.45" width="17.63" height="9.30" fill="#096909"/>
<rect x="601.57" y="415.45" width="17.63" height="9.30" fill="#808080"/>
<rect x="622.40" y="415.45" width="17.63" height="9.30" fill="#096909"/>
<rect x="643.23" y="415.45" width="17.63" height="9.30" fill="#1c751c"/>
<rect x="664.07" y="415.45" width="17.63" height="9.30" fill="#116f11"/>
<rect x="684.90" y="415.45" width="17.63" height="9.30" fill="#808080"/>
<rect x="705.73" y="415.45" width="17.63" height="9.30" fill="#116f11"/>
<rect x="726.57" y="415.45" width="17.63" height="9.30" fill="#308130"/>
<rect x="747.40" y="415.45" width="17.63" height="9.30" fill="#116f11"/>
<rect x="768.23" y="415.45" width="17.63" height="9.30" fill="#808080"/>
<rect x="789.07" y="415.45" width="17.63" height="9.30" fill="#116f11"/>
<rect x="59.90" y="427.95" width="17.63" height="9.30" fill="#1c751c"/>
<rect x="80.73" y="427.95" width="17.63" height="9.30" fill="#0d6c0d"/>
<rect x="101.57" y="427.95" width="17.63" height="9.30" fill="#579957"/>
<rect x="122.40" y="427.95" width="17.63" height="9.30" fill="#1c751c"/>
<rect x="143.23" y="427.95" width="17.63" height="9.30" fill="#0b6b0b"/>
<rect x="164.07" y="427.95" width="17.63" height="9.30" fill="#046704"/>
<rect x="184.90" y="427.95" width="17.63" height="9.30" fill="#0b6b0b"/>
<rect x="205.73" y="427.95" width="17.63" height="9.30" fill="#046704"/>
<rect x="226.57" y="427.95" width="17.63" height="9.30" fill="#0b6b0b"/>
<rect x="247.40" y="427.95" width="17.63" height="9.30" fill="#046704"/>
<rect x="268.23" y="427.95" width="17.63" height="9.30" fill="#0b6b0b"/>
<rect x="289.07" y="427.95" width="17.63" height="9.30" fill="#046704"/>
<rect x="309.90" y="427.95" width="17.63" height="9.30" fill="#e1ede1"/>
<rect x="330.73" y="427.95" width="17.63" height="9.30" fill="#9cc39c"/>
<rect x="351.57" y="427.95" width="17.63" height="9.30" fill="#adcdad"/>
<rect x="372.40" y="427.95" width="17.63" height="9.30" fill="#8bb88b"/>
<rect x="393.23" y="427.95" width="17.63" height="9.30" fill="#308130"/>
<rect x="414.07" y="427.95" width="17.63" height="9.30" fill="#116f11"/>
<rect x="434.90" y="427.95" width="17.63" height="9.30" fill="#79ae79"/>
<rect x="455.73" y="427.95" width="17.63" height="9.30" fill="#1c751c"/>
<rect x="476.57" y="427.95" width="17.63" height="9.30" fill="#116f11"/>
<rect x="497.40" y="427.95" width="17.63" height="9.30" fill="#116f11"/>
<rect x="518.23" y="427.95" width="17.63" height="9.30" fill="#046704"/>
<rect x="539.07" y="427.95" width="17.63" height="9.30" fill="#116f11"/>
<rect x="559.90" y="427.95" width="17.63" height="9.30" fill="#808080"/>
<rect x="580.73" y="427.95" width="17.63" height="9.30" fill="#096909"/>
<rect x="601.57" y="427.95" width="17.63" height="9.30" fill="#808080"/>
<rect x="622.40" y="427.95" width="17.63" height="9.30" fill="#096909"/>
<rect x="643.23" y="427.95" width="17.63" height="9.30" fill="#116f11"/>
<rect x="664.07" y="427.95" width="17.63" height="9.30" fill="#116f11"/>
<rect x="684.90" y="427.95" width="17.63" height="9.30" fill="#808080"/>
<rect x="705.73" y="427.95" width="17.63" height="9.30" fill="#116f11"/>
<rect x="726.57" y="427.95" width="17.63" height="9.30" fill="#308130"/>
<rect x="747.40" y="427.95" width="17.63" height="9.30" fill="#116f11"/>
<rect x="768.23" y="427.95" width="17.63" height="9.30" fill="#808080"/>
<rect x="789.07" y="427.95" width="17.63" height="9.30" fill="#116f11"/>
<rect x="59.90" y="440.45" width="17.63" height="9.30" fill="#1c751c"/>
<rect x="80.73" y="440.45" width="17.63" height="9.30" fill="#0d6c0d"/>
<rect x="101.57" y="440.45" width="17.63" height="9.30" fill="#68a368"/>
<rect x="122.40" y="440.45" width="17.63" height="9.30" fill="#1c751c"/>
<rect x="143.23" y="440.45" width="17.63" height="9.30" fill="#046704"/>
<rect x="164.07" y="440.45" width="17.63" height="9.30" fill="#046704"/>
<rect x="184.90" y="440.45" width="17.63" height="9.30" fill="#0b6b0b"/>
<rect x="205.73" y="440.45" width="17.63" height="9.30" fill="#046704"/>
<rect x="226.57" y="440.45" width="17.63" height="9.30" fill="#0b6b0b"/>
<rect x="247.40" y="440.45" width="17.63" height="9.30" fill="#046704"/>
<rect x="268.23" y="440.45" width="17.63" height="9.30" fill="#0b6b0b"/>
<rect x="289.07" y="440.45" width="17.63" height="9.30" fill="#046704"/>
<rect x="309.90" y="440.45" width="17.63" height="9.30" fill="#bfd8bf"/>
<rect x="330.73" y="440.45" width="17.63" height="9.30" fill="#adcdad"/>
<rect x="351.57" y="440.45" width="17.63" height="9.30" fill="#9cc39c"/>
<rect x="372.40" y="440.45" width="17.63" height="9.30" fill="#8bb88b"/>
<rect x="393.23" y="440.45" width="17.63" height="9.30" fill="#458e45"/>
<rect x="414.07" y="440.45" width="17.63" height="9.30" fill="#116f11"/>
<rect x="434.90" y="440.45" width="17.63" height="9.30" fill="#79ae79"/>
<rect x="455.73" y="440.45" width="17.63" height="9.30" fill="#1c751c"/>
<rect x="476.57" y="440.45" width="17.63" height="9.30" fill="#308130"/>
<rect x="497.40" y="440.45" width="17.63" height="9.30" fill="#116f11"/>
<rect x="518.23" y="440.45" width="17.63" height="9.30" fill="#79ae79"/>
<rect x="539.07" y="440.45" width="17.63" height="9.30" fill="#116f11"/>
<rect x="559.90" y="440.45" width="17.63" height="9.30" fill="#808080"/>
<rect x="580.73" y="440.45" width="17.63" height="9.30" fill="#096909"/>
<rect x="601.57" y="440.45" width="17.63" height="9.30" fill="#808080"/>
<rect x="622.40" y="440.45" width="17.63" height="9.30" fill="#096909"/>
<rect x="643.23" y="440.45" width="17.63" height="9.30" fill="#579957"/>
<rect x="664.07" y="440.45" width="17.63" height="9.30" fill="#116f11"/>
<rect x="684.90" y="440.45" width="17.63" height="9.30" fill="#808080"/>
<rect x="705.73" y="440.45" width="17.63" height="9.30" fill="#116f11"/>
<rect x="726.57" y="440.45" width="17.63" height="9.30" fill="#308130"/>
<rect x="747.40" y="440.45" width="17.63" height="9.30" fill="#116f11"/>
<rect x="768.23" y="440.45" width="17.63" height="9.30" fill="#808080"/>
<rect x="789.07" y="440.45" width="17.63" height="9.30" fill="#116f11"/>
<rect x="59.90" y="452.95" width="17.63" height="9.30" fill="#1c751c"/>
<rect x="80.73" y="452.95" width="17.63" height="9.30" fill="#0d6c0d"/>
<rect x="101.57" y="452.95" width="17.63" height="9.30" fill="#458e45"/>
<rect x="122.40" y="452.95" width="17.63" height="9.30" fill="#1c751c"/>
<rect x="143.23" y="452.95" width="17.63" height="9.30" fill="#046704"/>
<rect x="164.07" y="452.95" width="17.63" height="9.30" fill="#046704"/>
<rect x="184.90" y="452.95" width="17.63" height="9.30" fill="#0b6b0b"/>
<rect x="205.73" y="452.95" width="17.63" height="9.30" fill="#046704"/>
<rect x="226.57" y="452.95" width="17.63" height="9.30" fill="#0b6b0b"/>
<rect x="247.40" y="452.95" width="17.63" height="9.30" fill="#046704"/>
<rect x="268.23" y="452.95" width="17.63" height="9.30" fill="#0b6b0b"/>
<rect x="289.07" y="452.95" width="17.63" height="9.30" fill="#046704"/>
<rect x="309.90" y="452.95" width="17.63" height="9.30" fill="#bfd8bf"/>
<rect x="330.73" y="452.95" width="17.63" height="9.30" fill="#adcdad"/>
<rect x="351.57" y="452.95" width="17.63" height="9.30" fill="#bfd8bf"/>
<rect x="372.40" y="452.95" width="17.63" height="9.30" fill="#79ae79"/>
<rect x="393.23" y="452.95" width="17.63" height="9.30" fill="#116f11"/>
<rect x="414.07" y="452.95" width="17.63" height="9.30" fill="#116f11"/>
<rect x="434.90" y="452.95" width="17.63" height="9.30" fill="#1c751c"/>
<rect x="455.73" y="452.95" width="17.63" height="9.30" fill="#1c751c"/>
<rect x="476.57" y="452.95" width="17.63" height="9.30" fill="#116f11"/>
<rect x="497.40" y="452.95" width="17.63" height="9.30" fill="#116f11"/>
<rect x="518.23" y="452.95" width="17.63" height="9.30" fill="#808080"/>
<rect x="539.07" y="452.95" width="17.63" height="9.30" fill="#116f11"/>
<rect x="559.90" y="452.95" width="17.63" height="9.30" fill="#808080"/>
<rect x="580.73" y="452.95" width="17.63" height="9.30" fill="#096909"/>
<rect x="601.57" y="452.95" width="17.63" height="9.30" fill="#808080"/>
<rect x="622.40" y="452.95" width="17.63" height="9.30" fill="#096909"/>
<rect x="643.23" y="452.95" width="17.63" height="9.30" fill="#046704"/>
<rect x="664.07" y="452.95" width="17.63" height="9.30" fill="#116f11"/>
<rect x="684.90" y="452.95" width="17.63" height="9.30" fill="#808080"/>
<rect x="705.73" y="452.95" width="17.63" height="9.30" fill="#116f11"/>
<rect x="726.57" y="452.95" width="17.63" height="9.30" fill="#808080"/>
<rect x="747.40" y="452.95" width="17.63" height="9.30" fill="#116f11"/>
<rect x="768.23" y="452.95" width="17.63" height="9.30" fill="#808080"/>
<rect x="789.07" y="452.95" width="17.63" height="9.30" fill="#116f11"/>
<rect x="59.90" y="465.45" width="17.63" height="9.30" fill="#1c751c"/>
<rect x="80.73" y="465.45" width="17.63" height="9.30" fill="#0d6c0d"/>
<rect x="101.57" y="465.45" width="17.63" height="9.30" fill="#579957"/>
<rect x="122.40" y="465.45" width="17.63" height="9.30" fill="#1c751c"/>
<rect x="143.23" y="465.45" width="17.63" height="9.30" fill="#0b6b0b"/>
<rect x="164.07" y="465.45" width="17.63" height="9.30" fill="#046704"/>
<rect x="184.90" y="465.45" width="17.63" height="9.30" fill="#0b6b0b"/>
<rect x="205.73" y="465.45" width="17.63" height="9.30" fill="#046704"/>
<rect x="226.57" y="465.45" width="17.63" height="9.30" fill="#0b6b0b"/>
<rect x="247.40" y="465.45" width="17.63" height="9.30" fill="#046704"/>
<rect x="268.23" y="465.45" width="17.63" height="9.30" fill="#0b6b0b"/>
<rect x="289.07" y="465.45" width="17.63" height="9.30" fill="#046704"/>
<rect x="309.90" y="465.45" width="17.63" height="9.30" fill="#bfd8bf"/>
<rect x="330.73" y="465.45" width="17.63" height="9.30" fill="#adcdad"/>
<rect x="351.57" y="465.45" width="17.63" height="9.30" fill="#bfd8bf"/>
<rect x="372.40" y="465.45" width="17.63" height="9.30" fill="#79ae79"/>
<rect x="393.23" y="465.45" width="17.63" height="9.30" fill="#116f11"/>
<rect x="414.07" y="465.45" width="17.63" height="9.30" fill="#116f11"/>
<rect x="434.90" y="465.45" width="17.63" height="9.30" fill="#808080"/>
<rect x="455.73" y="465.45" width="17.63" height="9.30" fill="#1c751c"/>
<rect x="476.57" y="465.45" width="17.63" height="9.30" fill="#116f11"/>
<rect x="497.40" y="465.45" width="17.63" height="9.30" fill="#116f11"/>
<rect x="518.23" y="465.45" width="17.63" height="9.30" fill="#808080"/>
<rect x="539.07" y="465.45" width="17.63" height="9.30" fill="#116f11"/>
<rect x="559.90" y="465.45" width="17.63" height="9.30" fill="#808080"/>
<rect x="580.73" y="465.45" width="17.63" height="9.30" fill="#096909"/>
<rect x="601.57" y="465.45" width="17.63" height="9.30" fill="#808080"/>
<rect x="622.40" y="465.45" width="17.63" height="9.30" fill="#096909"/>
<rect x="643.23" y="465.45" width="17.63" height="9.30" fill="#1c751c"/>
<rect x="664.07" y="465.45" width="17.63" height="9.30" fill="#116f11"/>
<rect x="684.90" y="465.45" width="17.63" height="9.30" fill="#808080"/>
<rect x="705.73" y="465.45" width="17.63" height="9.30" fill="#116f11"/>
<rect x="726.57" y="465.45" width="17.63" height="9.30" fill="#808080"/>
<rect x="747.40" y="465.45" width="17.63" height="9.30" fill="#116f11"/>
<rect x="768.23" y="465.45" width="17.63" height="9.30" fill="#808080"/>
<rect x="789.07" y="465.45" width="17.63" height="9.30" fill="#116f11"/>
<rect x="59.90" y="477.95" width="17.63" height="9.30" fill="#046704"/>
<rect x="80.73" y="477.95" width="17.63" height="9.30" fill="#0d6c0d"/>
<rect x="101.57" y="477.95" width="17.63" height="9.30" fill="#808080"/>
<rect x="122.40" y="477.95" width="17.63" height="9.30" fill="#1c751c"/>
<rect x="143.23" y="477.95" width="17.63" height="9.30" fill="#808080"/>
<rect x="164.07" y="477.95" width="17.63" height="9.30" fill="#046704"/>
<rect x="184.90" y="477.95" width="17.63" height="9.30" fill="#808080"/>
<rect x="205.73" y="477.95" width="17.63" height="9.30" fill="#046704"/>
<rect x="226.57" y="477.95" width="17.63" height="9.30" fill="#808080"/>
<rect x="247.40" y="477.95" width="17.63" height="9.30" fill="#046704"/>
<rect x="268.23" y="477.95" width="17.63" height="9.30" fill="#808080"/>
<rect x="289.07" y="477.95" width="17.63" height="9.30" fill="#046704"/>
<rect x="309.90" y="477.95" width="17.63" height="9.30" fill="#adcdad"/>
<rect x="330.73" y="477.95" width="17.63" height="9.30" fill="#bfd8bf"/>
<rect x="351.57" y="477.95" width="17.63" height="9.30" fill="#f6d6d6"/>
<rect x="372.40" y="477.95" width="17.63" height="9.30" fill="#8bb88b"/>
<rect x="393.23" y="477.95" width="17.63" height="9.30" fill="#046704"/>
<rect x="414.07" y="477.95" width="17.63" height="9.30" fill="#116f11"/>
<rect x="434.90" y="477.95" width="17.63" height="9.30" fill="#808080"/>
<rect x="455.73" y="477.95" width="17.63" height="9.30" fill="#1c751c"/>
<rect x="476.57" y="477.95" width="17.63" height="9.30" fill="#808080"/>
<rect x="497.40" y="477.95" width="17.63" height="9.30" fill="#116f11"/>
<rect x="518.23" y="477.95" width="17.63" height="9.30" fill="#808080"/>
<rect x="539.07" y="477.95" width="17.63" height="9.30" fill="#116f11"/>
<rect x="559.90" y="477.95" width="17.63" height="9.30" fill="#808080"/>
<rect x="580.73" y="477.95" width="17.63" height="9.30" fill="#096909"/>
<rect x="601.57" y="477.95" width="17.63" height="9.30" fill="#808080"/>
<rect x="622.40" y="477.95" width="17.63" height="9.30" fill="#096909"/>
<rect x="643.23" y="477.95" width="17.63" height="9.30" fill="#808080"/>
<rect x="664.07" y="477.95" width="17.63" height="9.30" fill="#116f11"/>
<rect x="684.90" y="477.95" width="17.63" height="9.30" fill="#808080"/>
<rect x="705.73" y="477.95" width="17.63" height="9.30" fill="#116f11"/>
<rect x="726.57" y="477.95" width="17.63" height="9.30" fill="#808080"/>
<rect x="747.40" y="477.95" width="17.63" height="9.30" fill="#116f11"/>
<rect x="768.23" y="477.95" width="17.63" height="9.30" fill="#808080"/>
<rect x="789.07" y="477.95" width="17.63" height="9.30" fill="#116f11"/>
<rect x="59.90" y="490.45" width="17.63" height="9.30" fill="#1c751c"/>
<rect x="80.73" y="490.45" width="17.63" height="9.30" fill="#0d6c0d"/>
<rect x="101.57" y="490.45" width="17.63" height="9.30" fill="#308130"/>
<rect x="122.40" y="490.45" width="17.63" height="9.30" fill="#0d6c0d"/>
<rect x="143.23" y="490.45" width="17.63" height="9.30" fill="#0b6b0b"/>
<rect x="164.07" y="490.45" width="17.63" height="9.30" fill="#046704"/>
<rect x="184.90" y="490.45" width="17.63" height="9.30" fill="#0b6b0b"/>
<rect x="205.73" y="490.45" width="17.63" height="9.30" fill="#046704"/>
<rect x="226.57" y="490.45" width="17.63" height="9.30" fill="#0b6b0b"/>
<rect x="247.40" y="490.45" width="17.63" height="9.30" fill="#046704"/>
<rect x="268.23" y="490.45" width="17.63" height="9.30" fill="#0b6b0b"/>
<rect x="289.07" y="490.45" width="17.63" height="9.30" fill="#046704"/>
<rect x="309.90" y="490.45" width="17.63" height="9.30" fill="#bfd8bf"/>
<rect x="330.73" y="490.45" width="17.63" height="9.30" fill="#9cc39c"/>
<rect x="351.57" y="490.45" width="17.63" height="9.30" fill="#adcdad"/>
<rect x="372.40" y="490.45" width="17.63" height="9.30" fill="#68a368"/>
<rect x="393.23" y="490.45" width="17.63" height="9.30" fill="#1c751c"/>
<rect x="414.07" y="490.45" width="17.63" height="9.30" fill="#116f11"/>
<rect x="434.90" y="490.45" width="17.63" height="9.30" fill="#579957"/>
<rect x="455.73" y="490.45" width="17.63" height="9.30" fill="#1c751c"/>
<rect x="476.57" y="490.45" width="17.63" height="9.30" fill="#1c751c"/>
<rect x="497.40" y="490.45" width="17.63" height="9.30" fill="#116f11"/>
<rect x="518.23" y="490.45" width="17.63" height="9.30" fill="#808080"/>
<rect x="539.07" y="490.45" width="17.63" height="9.30" fill="#116f11"/>
<rect x="559.90" y="490.45" width="17.63" height="9.30" fill="#808080"/>
<rect x="580.73" y="490.45" width="17.63" height="9.30" fill="#096909"/>
<rect x="601.57" y="490.45" width="17.63" height="9.30" fill="#808080"/>
<rect x="622.40" y="490.45" width="17.63" height="9.30" fill="#096909"/>
<rect x="643.23" y="490.45" width="17.63" height="9.30" fill="#308130"/>
<rect x="664.07" y="490.45" width="17.63" height="9.30" fill="#116f11"/>
<rect x="684.90" y="490.45" width="17.63" height="9.30" fill="#579957"/>
<rect x="705.73" y="490.45" width="17.63" height="9.30" fill="#116f11"/>
<rect x="726.57" y="490.45" width="17.63" height="9.30" fill="#1c751c"/>
<rect x="747.40" y="490.45" width="17.63" height="9.30" fill="#116f11"/>
<rect x="768.23" y="490.45" width="17.63" height="9.30" fill="#046704"/>
<rect x="789.07" y="490.45" width="17.63" height="9.30" fill="#116f11"/>
<rect x="59.90" y="502.95" width="17.63" height="9.30" fill="#1c751c"/>
<rect x="80.73" y="502.95" width="17.63" height="9.30" fill="#0d6c0d"/>
<rect x="101.57" y="502.95" width="17.63" height="9.30" fill="#458e45"/>
<rect x="122.40" y="502.95" width="17.63" height="9.30" fill="#0d6c0d"/>
<rect x="143.23" y="502.95" width="17.63" height="9.30" fill="#0b6b0b"/>
<rect x="164.07" y="502.95" width="17.63" height="9.30" fill="#046704"/>
<rect x="184.90" y="502.95" width="17.63" height="9.30" fill="#0b6b0b"/>
<rect x="205.73" y="502.95" width="17.63" height="9.30" fill="#046704"/>
<rect x="226.57" y="502.95" width="17.63" height="9.30" fill="#0b6b0b"/>
<rect x="247.40" y="502.95" width="17.63" height="9.30" fill="#046704"/>
<rect x="268.23" y="502.95" width="17.63" height="9.30" fill="#0b6b0b"/>
<rect x="289.07" y="502.95" width="17.63" height="9.30" fill="#046704"/>
<rect x="309.90" y="502.95" width="17.63" height="9.30" fill="#e1ede1"/>
<rect x="330.73" y="502.95" width="17.63" height="9.30" fill="#9cc39c"/>
<rect x="351.57" y="502.95" width="17.63" height="9.30" fill="#bfd8bf"/>
<rect x="372.40" y="502.95" width="17.63" height="9.30" fill="#79ae79"/>
<rect x="393.23" y="502.95" width="17.63" height="9.30" fill="#1c751c"/>
<rect x="414.07" y="502.95" width="17.63" height="9.30" fill="#116f11"/>
<rect x="434.90" y="502.95" width="17.63" height="9.30" fill="#458e45"/>
<rect x="455.73" y="502.95" width="17.63" height="9.30" fill="#1c751c"/>
<rect x="476.57" y="502.95" width="17.63" height="9.30" fill="#1c751c"/>
<rect x="497.40" y="502.95" width="17.63" height="9.30" fill="#116f11"/>
<rect x="518.23" y="502.95" width="17.63" height="9.30" fill="#808080"/>
<rect x="539.07" y="502.95" width="17.63" height="9.30" fill="#116f11"/>
<rect x="559.90" y="502.95" width="17.63" height="9.30" fill="#808080"/>
<rect x="580.73" y="502.95" width="17.63" height="9.30" fill="#096909"/>
<rect x="601.57" y="502.95" width="17.63" height="9.30" fill="#808080"/>
<rect x="622.40" y="502.95" width="17.63" height="9.30" fill="#096909"/>
<rect x="643.23" y="502.95" width="17.63" height="9.30" fill="#579957"/>
<rect x="664.07" y="502.95" width="17.63" height="9.30" fill="#116f11"/>
<rect x="684.90" y="502.95" width="17.63" height="9.30" fill="#68a368"/>
<rect x="705.73" y="502.95" width="17.63" height="9.30" fill="#116f11"/>
<rect x="726.57" y="502.95" width="17.63" height="9.30" fill="#458e45"/>
<rect x="747.40" y="502.95" width="17.63" height="9.30" fill="#116f11"/>
<rect x="768.23" y="502.95" width="17.63" height="9.30" fill="#046704"/>
<rect x="789.07" y="502.95" width="17.63" height="9.30" fill="#116f11"/>
<rect x="59.90" y="515.45" width="17.63" height="9.30" fill="#1c751c"/>
<rect x="80.73" y="515.45" width="17.63" height="9.30" fill="#0d6c0d"/>
<rect x="101.57" y="515.45" width="17.63" height="9.30" fill="#458e45"/>
<rect x="122.40" y="515.45" width="17.63" height="9.30" fill="#1c751c"/>
<rect x="143.23" y="515.45" width="17.63" height="9.30" fill="#046704"/>
<rect x="164.07" y="515.45" width="17.63" height="9.30" fill="#046704"/>
<rect x="184.90" y="515.45" width="17.63" height="9.30" fill="#0b6b0b"/>
<rect x="205.73" y="515.45" width="17.63" height="9.30" fill="#046704"/>
<rect x="226.57" y="515.45" width="17.63" height="9.30" fill="#0b6b0b"/>
<rect x="247.40" y="515.45" width="17.63" height="9.30" fill="#046704"/>
<rect x="268.23" y="515.45" width="17.63" height="9.30" fill="#0b6b0b"/>
<rect x="289.07" y="515.45" width="17.63" height="9.30" fill="#046704"/>
<rect x="309.90" y="515.45" width="17.63" height="9.30" fill="#d0e2d0"/>
<rect x="330.73" y="515.45" width="17.63" height="9.30" fill="#9cc39c"/>
<rect x="351.57" y="515.45" width="17.63" height="9.30" fill="#adcdad"/>
<rect x="372.40" y="515.45" width="17.63" height="9.30" fill="#79ae79"/>
<rect x="393.23" y="515.45" width="17.63" height="9.30" fill="#1c751c"/>
<rect x="414.07" y="515.45" width="17.63" height="9.30" fill="#116f11"/>
<rect x="434.90" y="515.45" width="17.63" height="9.30" fill="#68a368"/>
<rect x="455.73" y="515.45" width="17.63" height="9.30" fill="#1c751c"/>
<rect x="476.57" y="515.45" width="17.63" height="9.30" fill="#308130"/>
<rect x="497.40" y="515.45" width="17.63" height="9.30" fill="#116f11"/>
<rect x="518.23" y="515.45" width="17.63" height="9.30" fill="#579957"/>
<rect x="539.07" y="515.45" width="17.63" height="9.30" fill="#116f11"/>
<rect x="559.90" y="515.45" width="17.63" height="9.30" fill="#808080"/>
<rect x="580.73" y="515.45" width="17.63" height="9.30" fill="#096909"/>
<rect x="601.57" y="515.45" width="17.63" height="9.30" fill="#808080"/>
<rect x="622.40" y="515.45" width="17.63" height="9.30" fill="#096909"/>
<rect x="643.23" y="515.45" width="17.63" height="9.30" fill="#116f11"/>
<rect x="664.07" y="515.45" width="17.63" height="9.30" fill="#116f11"/>
<rect x="684.90" y="515.45" width="17.63" height="9.30" fill="#579957"/>
<rect x="705.73" y="515.45" width="17.63" height="9.30" fill="#116f11"/>
<rect x="726.57" y="515.45" width="17.63" height="9.30" fill="#458e45"/>
<rect x="747.40" y="515.45" width="17.63" height="9.30" fill="#116f11"/>
<rect x="768.23" y="515.45" width="17.63" height="9.30" fill="#808080"/>
<rect x="789.07" y="515.45" width="17.63" height="9.30" fill="#116f11"/>
<rect x="59.90" y="527.95" width="17.63" height="9.30" fill="#1c751c"/>
<rect x="80.73" y="527.95" width="17.63" height="9.30" fill="#0d6c0d"/>
<rect x="101.57" y="527.95" width="17.63" height="9.30" fill="#308130"/>
<rect x="122.40" y="527.95" width="17.63" height="9.30" fill="#1c751c"/>
<rect x="143.23" y="527.95" width="17.63" height="9.30" fill="#0b6b0b"/>
<rect x="164.07" y="527.95" width="17.63" height="9.30" fill="#046704"/>
<rect x="184.90" y="527.95" width="17.63" height="9.30" fill="#0b6b0b"/>
<rect x="205.73" y="527.95" width="17.63" height="9.30" fill="#046704"/>
<rect x="226.57" y="527.95" width="17.63" height="9.30" fill="#0b6b0b"/>
<rect x="247.40" y="527.95" width="17.63" height="9.30" fill="#046704"/>
<rect x="268.23" y="527.95" width="17.63" height="9.30" fill="#0b6b0b"/>
<rect x="289.07" y="527.95" width="17.63" height="9.30" fill="#046704"/>
<rect x="309.90" y="527.95" width="17.63" height="9.30" fill="#d0e2d0"/>
<rect x="330.73" y="527.95" width="17.63" height="9.30" fill="#9cc39c"/>
<rect x="351.57" y="527.95" width="17.63" height="9.30" fill="#bfd8bf"/>
<rect x="372.40" y="527.95" width="17.63" height="9.30" fill="#68a368"/>
<rect x="393.23" y="527.95" width="17.63" height="9.30" fill="#1c751c"/>
<rect x="414.07" y="527.95" width="17.63" height="9.30" fill="#116f11"/>
<rect x="434.90" y="527.95" width="17.63" height="9.30" fill="#579957"/>
<rect x="455.73" y="527.95" width="17.63" height="9.30" fill="#1c751c"/>
<rect x="476.57" y="527.95" width="17.63" height="9.30" fill="#1c751c"/>
<rect x="497.40" y="527.95" width="17.63" height="9.30" fill="#116f11"/>
<rect x="518.23" y="527.95" width="17.63" height="9.30" fill="#79ae79"/>
<rect x="539.07" y="527.95" width="17.63" height="9.30" fill="#116f11"/>
<rect x="559.90" y="527.95" width="17.63" height="9.30" fill="#808080"/>
<rect x="580.73" y="527.95" width="17.63" height="9.30" fill="#096909"/>
<rect x="601.57" y="527.95" width="17.63" height="9.30" fill="#808080"/>
<rect x="622.40" y="527.95" width="17.63" height="9.30" fill="#096909"/>
<rect x="643.23" y="527.95" width="17.63" height="9.30" fill="#308130"/>
<rect x="664.07" y="527.95" width="17.63" height="9.30" fill="#116f11"/>
<rect x="684.90" y="527.95" width="17.63" height="9.30" fill="#308130"/>
<rect x="705.73" y="527.95" width="17.63" height="9.30" fill="#116f11"/>
<rect x="726.57" y="527.95" width="17.63" height="9.30" fill="#579957"/>
<rect x="747.40" y="527.95" width="17.63" height="9.30" fill="#116f11"/>
<rect x="768.23" y="527.95" width="17.63" height="9.30" fill="#046704"/>
<rect x="789.07" y="527.95" width="17.63" height="9.30" fill="#116f11"/>
<rect x="59.90" y="540.45" width="17.63" height="9.30" fill="#1c751c"/>
<rect x="80.73" y="540.45" width="17.63" height="9.30" fill="#0d6c0d"/>
<rect x="101.57" y="540.45" width="17.63" height="9.30" fill="#458e45"/>
<rect x="122.40" y="540.45" width="17.63" height="9.30" fill="#1c751c"/>
<rect x="143.23" y="540.45" width="17.63" height="9.30" fill="#0b6b0b"/>
<rect x="164.07" y="540.45" width="17.63" height="9.30" fill="#046704"/>
<rect x="184.90" y="540.45" width="17.63" height="9.30" fill="#808080"/>
<rect x="205.73" y="540.45" width="17.63" height="9.30" fill="#046704"/>
<rect x="226.57" y="540.45" width="17.63" height="9.30" fill="#0b6b0b"/>
<rect x="247.40" y="540.45" width="17.63" height="9.30" fill="#046704"/>
<rect x="268.23" y="540.45" width="17.63" height="9.30" fill="#1c751c"/>
<rect x="289.07" y="540.45" width="17.63" height="9.30" fill="#046704"/>
<rect x="309.90" y="540.45" width="17.63" height="9.30" fill="#cd2626"/>
<rect x="330.73" y="540.45" width="17.63" height="9.30" fill="#9cc39c"/>
<rect x="351.57" y="540.45" width="17.63" height="9.30" fill="#ffffff"/>
<rect x="372.40" y="540.45" width="17.63" height="9.30" fill="#8bb88b"/>
<rect x="393.23" y="540.45" width="17.63" height="9.30" fill="#808080"/>
<rect x="414.07" y="540.45" width="17.63" height="9.30" fill="#116f11"/>
<rect x="434.90" y="540.45" width="17.63" height="9.30" fill="#808080"/>
<rect x="455.73" y="540.45" width="17.63" height="9.30" fill="#1c751c"/>
<rect x="476.57" y="540.45" width="17.63" height="9.30" fill="#808080"/>
<rect x="497.40" y="540.45" width="17.63" height="9.30" fill="#116f11"/>
<rect x="518.23" y="540.45" width="17.63" height="9.30" fill="#808080"/>
<rect x="539.07" y="540.45" width="17.63" height="9.30" fill="#116f11"/>
<rect x="559.90" y="540.45" width="17.63" height="9.30" fill="#808080"/>
<rect x="580.73" y="540.45" width="17.63" height="9.30" fill="#096909"/>
<rect x="601.57" y="540.45" width="17.63" height="9.30" fill="#808080"/>
<rect x="622.40" y="540.45" width="17.63" height="9.30" fill="#096909"/>
<rect x="643.23" y="540.45" width="17.63" height="9.30" fill="#808080"/>
<rect x="664.07" y="540.45" width="17.63" height="9.30" fill="#116f11"/>
<rect x="684.90" y="540.45" width="17.63" height="9.30" fill="#808080"/>
<rect x="705.73" y="540.45" width="17.63" height="9.30" fill="#116f11"/>
<rect x="726.57" y="540.45" width="17.63" height="9.30" fill="#808080"/>
<rect x="747.40" y="540.45" width="17.63" height="9.30" fill="#116f11"/>
<rect x="768.23" y="540.45" width="17.63" height="9.30" fill="#808080"/>
<rect x="789.07" y="540.45" width="17.63" height="9.30" fill="#116f11"/>
<rect x="59.90" y="552.95" width="17.63" height="9.30" fill="#1c751c"/>
<rect x="80.73" y="552.95" width="17.63" height="9.30" fill="#0d6c0d"/>
<rect x="101.57" y="552.95" width="17.63" height="9.30" fill="#308130"/>
<rect x="122.40" y="552.95" width="17.63" height="9.30" fill="#1c751c"/>
<rect x="143.23" y="552.95" width="17.63" height="9.30" fill="#046704"/>
<rect x="164.07" y="552.95" width="17.63" height="9.30" fill="#046704"/>
<rect x="184.90" y="552.95" width="17.63" height="9.30" fill="#046704"/>
<rect x="205.73" y="552.95" width="17.63" height="9.30" fill="#046704"/>
<rect x="226.57" y="552.95" width="17.63" height="9.30" fill="#0b6b0b"/>
<rect x="247.40" y="552.95" width="17.63" height="9.30" fill="#046704"/>
<rect x="268.23" y="552.95" width="17.63" height="9.30" fill="#0b6b0b"/>
<rect x="289.07" y="552.95" width="17.63" height="9.30" fill="#046704"/>
<rect x="309.90" y="552.95" width="17.63" height="9.30" fill="#e1ede1"/>
<rect x="330.73" y="552.95" width="17.63" height="9.30" fill="#8bb88b"/>
<rect x="351.57" y="552.95" width="17.63" height="9.30" fill="#9cc39c"/>
<rect x="372.40" y="552.95" width="17.63" height="9.30" fill="#79ae79"/>
<rect x="393.23" y="552.95" width="17.63" height="9.30" fill="#308130"/>
<rect x="414.07" y="552.95" width="17.63" height="9.30" fill="#116f11"/>
<rect x="434.90" y="552.95" width="17.63" height="9.30" fill="#458e45"/>
<rect x="455.73" y="552.95" width="17.63" height="9.30" fill="#1c751c"/>
<rect x="476.57" y="552.95" width="17.63" height="9.30" fill="#1c751c"/>
<rect x="497.40" y="552.95" width="17.63" height="9.30" fill="#116f11"/>
<rect x="518.23" y="552.95" width="17.63" height="9.30" fill="#79ae79"/>
<rect x="539.07" y="552.95" width="17.63" height="9.30" fill="#116f11"/>
<rect x="559.90" y="552.95" width="17.63" height="9.30" fill="#808080"/>
<rect x="580.73" y="552.95" width="17.63" height="9.30" fill="#096909"/>
<rect x="601.57" y="552.95" width="17.63" height="9.30" fill="#808080"/>
<rect x="622.40" y="552.95" width="17.63" height="9.30" fill="#096909"/>
<rect x="643.23" y="552.95" width="17.63" height="9.30" fill="#308130"/>
<rect x="664.07" y="552.95" width="17.63" height="9.30" fill="#116f11"/>
<rect x="684.90" y="552.95" width="17.63" height="9.30" fill="#1c751c"/>
<rect x="705.73" y="552.95" width="17.63" height="9.30" fill="#116f11"/>
<rect x="726.57" y="552.95" width="17.63" height="9.30" fill="#68a368"/>
<rect x="747.40" y="552.95" width="17.63" height="9.30" fill="#116f11"/>
<rect x="768.23" y="552.95" width="17.63" height="9.30" fill="#808080"/>
<rect x="789.07" y="552.95" width="17.63" height="9.30" fill="#116f11"/>
<rect x="59.90" y="565.45" width="17.63" height="9.30" fill="#1c751c"/>
<rect x="80.73" y="565.45" width="17.63" height="9.30" fill="#0d6c0d"/>
<rect x="101.57" y="565.45" width="17.63" height="9.30" fill="#308130"/>
<rect x="122.40" y="565.45" width="17.63" height="9.30" fill="#1c751c"/>
<rect x="143.23" y="565.45" width="17.63" height="9.30" fill="#046704"/>
<rect x="164.07" y="565.45" width="17.63" height="9.30" fill="#046704"/>
<rect x="184.90" y="565.45" width="17.63" height="9.30" fill="#0b6b0b"/>
<rect x="205.73" y="565.45" width="17.63" height="9.30" fill="#046704"/>
<rect x="226.57" y="565.45" width="17.63" height="9.30" fill="#0b6b0b"/>
<rect x="247.40" y="565.45" width="17.63" height="9.30" fill="#046704"/>
<rect x="268.23" y="565.45" width="17.63" height="9.30" fill="#0b6b0b"/>
<rect x="289.07" y="565.45" width="17.63" height="9.30" fill="#046704"/>
<rect x="309.90" y="565.45" width="17.63" height="9.30" fill="#d0e2d0"/>
<rect x="330.73" y="565.45" width="17.63" height="9.30" fill="#9cc39c"/>
<rect x="351.57" y="565.45" width="17.63" height="9.30" fill="#adcdad"/>
<rect x="372.40" y="565.45" width="17.63" height="9.30" fill="#79ae79"/>
<rect x="393.23" y="565.45" width="17.63" height="9.30" fill="#1c751c"/>
<rect x="414.07" y="565.45" width="17.63" height="9.30" fill="#116f11"/>
<rect x="434.90" y="565.45" width="17.63" height="9.30" fill="#68a368"/>
<rect x="455.73" y="565.45" width="17.63" height="9.30" fill="#1c751c"/>
<rect x="476.57" y="565.45" width="17.63" height="9.30" fill="#1c751c"/>
<rect x="497.40" y="565.45" width="17.63" height="9.30" fill="#116f11"/>
<rect x="518.23" y="565.45" width="17.63" height="9.30" fill="#79ae79"/>
<rect x="539.07" y="565.45" width="17.63" height="9.30" fill="#116f11"/>
<rect x="559.90" y="565.45" width="17.63" height="9.30" fill="#808080"/>
<rect x="580.73" y="565.45" width="17.63" height="9.30" fill="#096909"/>
<rect x="601.57" y="565.45" width="17.63" height="9.30" fill="#808080"/>
<rect x="622.40" y="565.45" width="17.63" height="9.30" fill="#096909"/>
<rect x="643.23" y="565.45" width="17.63" height="9.30" fill="#308130"/>
<rect x="664.07" y="565.45" width="17.63" height="9.30" fill="#116f11"/>
<rect x="684.90" y="565.45" width="17.63" height="9.30" fill="#046704"/>
<rect x="705.73" y="565.45" width="17.63" height="9.30" fill="#116f11"/>
<rect x="726.57" y="565.45" width="17.63" height="9.30" fill="#458e45"/>
<rect x="747.40" y="565.45" width="17.63" height="9.30" fill="#116f11"/>
<rect x="768.23" y="565.45" width="17.63" height="9.30" fill="#808080"/>
<rect x="789.07" y="565.45" width="17.63" height="9.30" fill="#116f11"/>
<rect x="59.90" y="577.95" width="17.63" height="9.30" fill="#1c751c"/>
<rect x="80.73" y="577.95" width="17.63" height="9.30" fill="#0d6c0d"/>
<rect x="101.57" y="577.95" width="17.63" height="9.30" fill="#308130"/>
<rect x="122.40" y="577.95" width="17.63" height="9.30" fill="#1c751c"/>
<rect x="143.23" y="577.95" width="17.63" height="9.30" fill="#046704"/>
<rect x="164.07" y="577.95" width="17.63" height="9.30" fill="#046704"/>
<rect x="184.90" y="577.95" width="17.63" height="9.30" fill="#046704"/>
<rect x="205.73" y="577.95" width="17.63" height="9.30" fill="#046704"/>
<rect x="226.57" y="577.95" width="17.63" height="9.30" fill="#0b6b0b"/>
<rect x="247.40" y="577.95" width="17.63" height="9.30" fill="#046704"/>
<rect x="268.23" y="577.95" width="17.63" height="9.30" fill="#0b6b0b"/>
<rect x="289.07" y="577.95" width="17.63" height="9.30" fill="#046704"/>
<rect x="309.90" y="577.95" width="17.63" height="9.30" fill="#d0e2d0"/>
<rect x="330.73" y="577.95" width="17.63" height="9.30" fill="#8bb88b"/>
<rect x="351.57" y="577.95" width="17.63" height="9.30" fill="#9cc39c"/>
<rect x="372.40" y="577.95" width="17.63" height="9.30" fill="#79ae79"/>
<rect x="393.23" y="577.95" width="17.63" height="9.30" fill="#116f11"/>
<rect x="414.07" y="577.95" width="17.63" height="9.30" fill="#116f11"/>
<rect x="434.90" y="577.95" width="17.63" height="9.30" fill="#579957"/>
<rect x="455.73" y="577.95" width="17.63" height="9.30" fill="#1c751c"/>
<rect x="476.57" y="577.95" width="17.63" height="9.30" fill="#1c751c"/>
<rect x="497.40" y="577.95" width="17.63" height="9.30" fill="#116f11"/>
<rect x="518.23" y="577.95" width="17.63" height="9.30" fill="#808080"/>
<rect x="539.07" y="577.95" width="17.63" height="9.30" fill="#116f11"/>
<rect x="559.90" y="577.95" width="17.63" height="9.30" fill="#808080"/>
<rect x="580.73" y="577.95" width="17.63" height="9.30" fill="#096909"/>
<rect x="601.57" y="577.95" width="17.63" height="9.30" fill="#808080"/>
<rect x="622.40" y="577.95" width="17.63" height="9.30" fill="#096909"/>
<rect x="643.23" y="577.95" width="17.63" height="9.30" fill="#579957"/>
<rect x="664.07" y="577.95" width="17.63" height="9.30" fill="#116f11"/>
<rect x="684.90" y="577.95" width="17.63" height="9.30" fill="#68a368"/>
<rect x="705.73" y="577.95" width="17.63" height="9.30" fill="#116f11"/>
<rect x="726.57" y="577.95" width="17.63" height="9.30" fill="#308130"/>
<rect x="747.40" y="577.95" width="17.63" height="9.30" fill="#116f11"/>
<rect x="768.23" y="577.95" width="17.63" height="9.30" fill="#808080"/>
<rect x="789.07" y="577.95" width="17.63" height="9.30" fill="#116f11"/>
<rect x="59.90" y="590.45" width="17.63" height="9.30" fill="#1c751c"/>
<rect x="80.73" y="590.45" width="17.63" height="9.30" fill="#0d6c0d"/>
<rect x="101.57" y="590.45" width="17.63" height="9.30" fill="#458e45"/>
<rect x="122.40" y="590.45" width="17.63" height="9.30" fill="#1c751c"/>
<rect x="143.23" y="590.45" width="17.63" height="9.30" fill="#046704"/>
<rect x="164.07" y="590.45" width="17.63" height="9.30" fill="#046704"/>
<rect x="184.90" y="590.45" width="17.63" height="9.30" fill="#0b6b0b"/>
<rect x="205.73" y="590.45" width="17.63" height="9.30" fill="#046704"/>
<rect x="226.57" y="590.45" width="17.63" height="9.30" fill="#0b6b0b"/>
<rect x="247.40" y="590.45" width="17.63" height="9.30" fill="#046704"/>
<rect x="268.23" y="590.45" width="17.63" height="9.30" fill="#0b6b0b"/>
<rect x="289.07" y="590.45" width="17.63" height="9.30" fill="#046704"/>
<rect x="309.90" y="590.45" width="17.63" height="9.30" fill="#d0e2d0"/>
<rect x="330.73" y="590.45" width="17.63" height="9.30" fill="#9cc39c"/>
<rect x="351.57" y="590.45" width="17.63" height="9.30" fill="#bfd8bf"/>
<rect x="372.40" y="590.45" width="17.63" height="9.30" fill="#79ae79"/>
<rect x="393.23" y="590.45" width="17.63" height="9.30" fill="#116f11"/>
<rect x="414.07" y="590.45" width="17.63" height="9.30" fill="#116f11"/>
<rect x="434.90" y="590.45" width="17.63" height="9.30" fill="#579957"/>
<rect x="455.73" y="590.45" width="17.63" height="9.30" fill="#1c751c"/>
<rect x="476.57" y="590.45" width="17.63" height="9.30" fill="#308130"/>
<rect x="497.40" y="590.45" width="17.63" height="9.30" fill="#116f11"/>
<rect x="518.23" y="590.45" width="17.63" height="9.30" fill="#116f11"/>
<rect x="539.07" y="590.45" width="17.63" height="9.30" fill="#116f11"/>
<rect x="559.90" y="590.45" width="17.63" height="9.30" fill="#808080"/>
<rect x="580.73" y="590.45" width="17.63" height="9.30" fill="#096909"/>
<rect x="601.57" y="590.45" width="17.63" height="9.30" fill="#808080"/>
<rect x="622.40" y="590.45" width="17.63" height="9.30" fill="#096909"/>
<rect x="643.23" y="590.45" width="17.63" height="9.30" fill="#1c751c"/>
<rect x="664.07" y="590.45" width="17.63" height="9.30" fill="#116f11"/>
<rect x="684.90" y="590.45" width="17.63" height="9.30" fill="#68a368"/>
<rect x="705.73" y="590.45" width="17.63" height="9.30" fill="#116f11"/>
<rect x="726.57" y="590.45" width="17.63" height="9.30" fill="#308130"/>
<rect x="747.40" y="590.45" width="17.63" height="9.30" fill="#116f11"/>
<rect x="768.23" y="590.45" width="17.63" height="9.30" fill="#808080"/>
<rect x="789.07" y="590.45" width="17.63" height="9.30" fill="#116f11"/>
<rect x="59.90" y="602.95" width="17.63" height="9.30" fill="#1c751c"/>
<rect x="80.73" y="602.95" width="17.63" height="9.30" fill="#0d6c0d"/>
<rect x="101.57" y="602.95" width="17.63" height="9.30" fill="#458e45"/>
<rect x="122.40" y="602.95" width="17.63" height="9.30" fill="#1c751c"/>
<rect x="143.23" y="602.95" width="17.63" height="9.30" fill="#808080"/>
<rect x="164.07" y="602.95" width="17.63" height="9.30" fill="#046704"/>
<rect x="184.90" y="602.95" width="17.63" height="9.30" fill="#808080"/>
<rect x="205.73" y="602.95" width="17.63" height="9.30" fill="#046704"/>
<rect x="226.57" y="602.95" width="17.63" height="9.30" fill="#808080"/>
<rect x="247.40" y="602.95" width="17.63" height="9.30" fill="#046704"/>
<rect x="268.23" y="602.95" width="17.63" height="9.30" fill="#0b6b0b"/>
<rect x="289.07" y="602.95" width="17.63" height="9.30" fill="#046704"/>
<rect x="309.90" y="602.95" width="17.63" height="9.30" fill="#bfd8bf"/>
<rect x="330.73" y="602.95" width="17.63" height="9.30" fill="#8bb88b"/>
<rect x="351.57" y="602.95" width="17.63" height="9.30" fill="#bfd8bf"/>
<rect x="372.40" y="602.95" width="17.63" height="9.30" fill="#79ae79"/>
<rect x="393.23" y="602.95" width="17.63" height="9.30" fill="#1c751c"/>
<rect x="414.07" y="602.95" width="17.63" height="9.30" fill="#116f11"/>
<rect x="434.90" y="602.95" width="17.63" height="9.30" fill="#808080"/>
<rect x="455.73" y="602.95" width="17.63" height="9.30" fill="#1c751c"/>
<rect x="476.57" y="602.95" width="17.63" height="9.30" fill="#046704"/>
<rect x="497.40" y="602.95" width="17.63" height="9.30" fill="#116f11"/>
<rect x="518.23" y="602.95" width="17.63" height="9.30" fill="#808080"/>
<rect x="539.07" y="602.95" width="17.63" height="9.30" fill="#116f11"/>
<rect x="559.90" y="602.95" width="17.63" height="9.30" fill="#808080"/>
<rect x="580.73" y="602.95" width="17.63" height="9.30" fill="#096909"/>
<rect x="601.57" y="602.95" width="17.63" height="9.30" fill="#808080"/>
<rect x="622.40" y="602.95" width="17.63" height="9.30" fill="#096909"/>
<rect x="643.23" y="602.95" width="17.63" height="9.30" fill="#1c751c"/>
<rect x="664.07" y="602.95" width="17.63" height="9.30" fill="#116f11"/>
<rect x="684.90" y="602.95" width="17.63" height="9.30" fill="#808080"/>
<rect x="705.73" y="602.95" width="17.63" height="9.30" fill="#116f11"/>
<rect x="726.57" y="602.95" width="17.63" height="9.30" fill="#808080"/>
<rect x="747.40" y="602.95" width="17.63" height="9.30" fill="#116f11"/>
<rect x="768.23" y="602.95" width="17.63" height="9.30" fill="#808080"/>
<rect x="789.07" y="602.95" width="17.63" height="9.30" fill="#116f11"/>
<rect x="59.90" y="615.45" width="17.63" height="9.30" fill="#458e45"/>
<rect x="80.73" y="615.45" width="17.63" height="9.30" fill="#0d6c0d"/>
<rect x="101.57" y="615.45" width="17.63" height="9.30" fill="#1c751c"/>
<rect x="122.40" y="615.45" width="17.63" height="9.30" fill="#1c751c"/>
<rect x="143.23" y="615.45" width="17.63" height="9.30" fill="#808080"/>
<rect x="164.07" y="615.45" width="17.63" height="9.30" fill="#046704"/>
<rect x="184.90" y="615.45" width="17.63" height="9.30" fill="#808080"/>
<rect x="205.73" y="615.45" width="17.63" height="9.30" fill="#046704"/>
<rect x="226.57" y="615.45" width="17.63" height="9.30" fill="#808080"/>
<rect x="247.40" y="615.45" width="17.63" height="9.30" fill="#046704"/>
<rect x="268.23" y="615.45" width="17.63" height="9.30" fill="#808080"/>
<rect x="289.07" y="615.45" width="17.63" height="9.30" fill="#046704"/>
<rect x="309.90" y="615.45" width="17.63" height="9.30" fill="#d0e2d0"/>
<rect x="330.73" y="615.45" width="17.63" height="9.30" fill="#adcdad"/>
<rect x="351.57" y="615.45" width="17.63" height="9.30" fill="#8bb88b"/>
<rect x="372.40" y="615.45" width="17.63" height="9.30" fill="#8bb88b"/>
<rect x="393.23" y="615.45" width="17.63" height="9.30" fill="#808080"/>
<rect x="414.07" y="615.45" width="17.63" height="9.30" fill="#116f11"/>
<rect x="434.90" y="615.45" width="17.63" height="9.30" fill="#808080"/>
<rect x="455.73" y="615.45" width="17.63" height="9.30" fill="#1c751c"/>
<rect x="476.57" y="615.45" width="17.63" height="9.30" fill="#808080"/>
<rect x="497.40" y="615.45" width="17.63" height="9.30" fill="#116f11"/>
<rect x="518.23" y="615.45" width="17.63" height="9.30" fill="#808080"/>
<rect x="539.07" y="615.45" width="17.63" height="9.30" fill="#116f11"/>
<rect x="559.90" y="615.45" width="17.63" height="9.30" fill="#808080"/>
<rect x="580.73" y="615.45" width="17.63" height="9.30" fill="#096909"/>
<rect x="601.57" y="615.45" width="17.63" height="9.30" fill="#808080"/>
<rect x="622.40" y="615.45" width="17.63" height="9.30" fill="#096909"/>
<rect x="643.23" y="615.45" width="17.63" height="9.30" fill="#808080"/>
<rect x="664.07" y="615.45" width="17.63" height="9.30" fill="#116f11"/>
<rect x="684.90" y="615.45" width="17.63" height="9.30" fill="#808080"/>
<rect x="705.73" y="615.45" width="17.63" height="9.30" fill="#116f11"/>
<rect x="726.57" y="615.45" width="17.63" height="9.30" fill="#808080"/>
<rect x="747.40" y="615.45" width="17.63" height="9.30" fill="#116f11"/>
<rect x="768.23" y="615.45" width="17.63" height="9.30" fill="#808080"/>
<rect x="789.07" y="615.45" width="17.63" height="9.30" fill="#116f11"/>
<rect x="59.90" y="627.95" width="17.63" height="9.30" fill="#308130"/>
<rect x="80.73" y="627.95" width="17.63" height="9.30" fill="#0d6c0d"/>
<rect x="101.57" y="627.95" width="17.63" height="9.30" fill="#308130"/>
<rect x="122.40" y="627.95" width="17.63" height="9.30" fill="#1c751c"/>
<rect x="143.23" y="627.95" width="17.63" height="9.30" fill="#808080"/>
<rect x="164.07" y="627.95" width="17.63" height="9.30" fill="#046704"/>
<rect x="184.90" y="627.95" width="17.63" height="9.30" fill="#808080"/>
<rect x="205.73" y="627.95" width="17.63" height="9.30" fill="#046704"/>
<rect x="226.57" y="627.95" width="17.63" height="9.30" fill="#808080"/>
<rect x="247.40" y="627.95" width="17.63" height="9.30" fill="#046704"/>
<rect x="268.23" y="627.95" width="17.63" height="9.30" fill="#808080"/>
<rect x="289.07" y="627.95" width="17.63" height="9.30" fill="#046704"/>
<rect x="309.90" y="627.95" width="17.63" height="9.30" fill="#d0e2d0"/>
<rect x="330.73" y="627.95" width="17.63" height="9.30" fill="#adcdad"/>
<rect x="351.57" y="627.95" width="17.63" height="9.30" fill="#8bb88b"/>
<rect x="372.40" y="627.95" width="17.63" height="9.30" fill="#8bb88b"/>
<rect x="393.23" y="627.95" width="17.63" height="9.30" fill="#808080"/>
<rect x="414.07" y="627.95" width="17.63" height="9.30" fill="#116f11"/>
<rect x="434.90" y="627.95" width="17.63" height="9.30" fill="#808080"/>
<rect x="455.73" y="627.95" width="17.63" height="9.30" fill="#1c751c"/>
<rect x="476.57" y="627.95" width="17.63" height="9.30" fill="#808080"/>
<rect x="497.40" y="627.95" width="17.63" height="9.30" fill="#116f11"/>
<rect x="518.23" y="627.95" width="17.63" height="9.30" fill="#808080"/>
<rect x="539.07" y="627.95" width="17.63" height="9.30" fill="#116f11"/>
<rect x="559.90" y="627.95" width="17.63" height="9.30" fill="#808080"/>
<rect x="580.73" y="627.95" width="17.63" height="9.30" fill="#096909"/>
<rect x="601.57" y="627.95" width="17.63" height="9.30" fill="#808080"/>
<rect x="622.40" y="627.95" width="17.63" height="9.30" fill="#096909"/>
<rect x="643.23" y="627.95" width="17.63" height="9.30" fill="#808080"/>
<rect x="664.07" y="627.95" width="17.63" height="9.30" fill="#116f11"/>
<rect x="684.90" y="627.95" width="17.63" height="9.30" fill="#808080"/>
<rect x="705.73" y="627.95" width="17.63" height="9.30" fill="#116f11"/>
<rect x="726.57" y="627.95" width="17.63" height="9.30" fill="#308130"/>
<rect x="747.40" y="627.95" width="17.63" height="9.30" fill="#116f11"/>
<rect x="768.23" y="627.95" width="17.63" height="9.30" fill="#808080"/>
<rect x="789.07" y="627.95" width="17.63" height="9.30" fill="#116f11"/>
<rect x="59.90" y="640.45" width="17.63" height="9.30" fill="#308130"/>
<rect x="80.73" y="640.45" width="17.63" height="9.30" fill="#0d6c0d"/>
<rect x="101.57" y="640.45" width="17.63" height="9.30" fill="#308130"/>
<rect x="122.40" y="640.45" width="17.63" height="9.30" fill="#1c751c"/>
<rect x="143.23" y="640.45" width="17.63" height="9.30" fill="#808080"/>
<rect x="164.07" y="640.45" width="17.63" height="9.30" fill="#046704"/>
<rect x="184.90" y="640.45" width="17.63" height="9.30" fill="#808080"/>
<rect x="205.73" y="640.45" width="17.63" height="9.30" fill="#046704"/>
<rect x="226.57" y="640.45" width="17.63" height="9.30" fill="#808080"/>
<rect x="247.40" y="640.45" width="17.63" height="9.30" fill="#046704"/>
<rect x="268.23" y="640.45" width="17.63" height="9.30" fill="#808080"/>
<rect x="289.07" y="640.45" width="17.63" height="9.30" fill="#046704"/>
<rect x="309.90" y="640.45" width="17.63" height="9.30" fill="#bfd8bf"/>
<rect x="330.73" y="640.45" width="17.63" height="9.30" fill="#9cc39c"/>
<rect x="351.57" y="640.45" width="17.63" height="9.30" fill="#adcdad"/>
<rect x="372.40" y="640.45" width="17.63" height="9.30" fill="#68a368"/>
<rect x="393.23" y="640.45" width="17.63" height="9.30" fill="#68a368"/>
<rect x="414.07" y="640.45" width="17.63" height="9.30" fill="#116f11"/>
<rect x="434.90" y="640.45" width="17.63" height="9.30" fill="#1c751c"/>
<rect x="455.73" y="640.45" width="17.63" height="9.30" fill="#1c751c"/>
<rect x="476.57" y="640.45" width="17.63" height="9.30" fill="#1c751c"/>
<rect x="497.40" y="640.45" width="17.63" height="9.30" fill="#116f11"/>
<rect x="518.23" y="640.45" width="17.63" height="9.30" fill="#808080"/>
<rect x="539.07" y="640.45" width="17.63" height="9.30" fill="#116f11"/>
<rect x="559.90" y="640.45" width="17.63" height="9.30" fill="#808080"/>
<rect x="580.73" y="640.45" width="17.63" height="9.30" fill="#096909"/>
<rect x="601.57" y="640.45" width="17.63" height="9.30" fill="#808080"/>
<rect x="622.40" y="640.45" width="17.63" height="9.30" fill="#096909"/>
<rect x="643.23" y="640.45" width="17.63" height="9.30" fill="#458e45"/>
<rect x="664.07" y="640.45" width="17.63" height="9.30" fill="#116f11"/>
<rect x="684.90" y="640.45" width="17.63" height="9.30" fill="#808080"/>
<rect x="705.73" y="640.45" width="17.63" height="9.30" fill="#116f11"/>
<rect x="726.57" y="640.45" width="17.63" height="9.30" fill="#808080"/>
<rect x="747.40" y="640.45" width="17.63" height="9.30" fill="#116f11"/>
<rect x="768.23" y="640.45" width="17.63" height="9.30" fill="#808080"/>
<rect x="789.07" y="640.45" width="17.63" height="9.30" fill="#116f11"/>
<rect x="59.90" y="652.95" width="17.63" height="9.30" fill="#308130"/>
<rect x="80.73" y="652.95" width="17.63" height="9.30" fill="#0d6c0d"/>
<rect x="101.57" y="652.95" width="17.63" height="9.30" fill="#1c751c"/>
<rect x="122.40" y="652.95" width="17.63" height="9.30" fill="#1c751c"/>
<rect x="143.23" y="652.95" width="17.63" height="9.30" fill="#046704"/>
<rect x="164.07" y="652.95" width="17.63" height="9.30" fill="#046704"/>
<rect x="184.90" y="652.95" width="17.63" height="9.30" fill="#808080"/>
<rect x="205.73" y="652.95" width="17.63" height="9.30" fill="#046704"/>
<rect x="226.57" y="652.95" width="17.63" height="9.30" fill="#1c751c"/>
<rect x="247.40" y="652.95" width="17.63" height="9.30" fill="#046704"/>
<rect x="268.23" y="652.95" width="17.63" height="9.30" fill="#0b6b0b"/>
<rect x="289.07" y="652.95" width="17.63" height="9.30" fill="#046704"/>
<rect x="309.90" y="652.95" width="17.63" height="9.30" fill="#d0e2d0"/>
<rect x="330.73" y="652.95" width="17.63" height="9.30" fill="#79ae79"/>
<rect x="351.57" y="652.95" width="17.63" height="9.30" fill="#bfd8bf"/>
<rect x="372.40" y="652.95" width="17.63" height="9.30" fill="#68a368"/>
<rect x="393.23" y="652.95" width="17.63" height="9.30" fill="#808080"/>
<rect x="414.07" y="652.95" width="17.63" height="9.30" fill="#116f11"/>
<rect x="434.90" y="652.95" width="17.63" height="9.30" fill="#116f11"/>
<rect x="455.73" y="652.95" width="17.63" height="9.30" fill="#1c751c"/>
<rect x="476.57" y="652.95" width="17.63" height="9.30" fill="#116f11"/>
<rect x="497.40" y="652.95" width="17.63" height="9.30" fill="#116f11"/>
<rect x="518.23" y="652.95" width="17.63" height="9.30" fill="#046704"/>
<rect x="539.07" y="652.95" width="17.63" height="9.30" fill="#116f11"/>
<rect x="559.90" y="652.95" width="17.63" height="9.30" fill="#808080"/>
<rect x="580.73" y="652.95" width="17.63" height="9.30" fill="#096909"/>
<rect x="601.57" y="652.95" width="17.63" height="9.30" fill="#808080"/>
<rect x="622.40" y="652.95" width="17.63" height="9.30" fill="#096909"/>
<rect x="643.23" y="652.95" width="17.63" height="9.30" fill="#116f11"/>
<rect x="664.07" y="652.95" width="17.63" height="9.30" fill="#116f11"/>
<rect x="684.90" y="652.95" width="17.63" height="9.30" fill="#308130"/>
<rect x="705.73" y="652.95" width="17.63" height="9.30" fill="#116f11"/>
<rect x="726.57" y="652.95" width="17.63" height="9.30" fill="#046704"/>
<rect x="747.40" y="652.95" width="17.63" height="9.30" fill="#116f11"/>
<rect x="768.23" y="652.95" width="17.63" height="9.30" fill="#808080"/>
<rect x="789.07" y="652.95" width="17.63" height="9.30" fill="#116f11"/>
<rect x="59.90" y="665.45" width="17.63" height="9.30" fill="#308130"/>
<rect x="80.73" y="665.45" width="17.63" height="9.30" fill="#0d6c0d"/>
<rect x="101.57" y="665.45" width="17.63" height="9.30" fill="#1c751c"/>
<rect x="122.40" y="665.45" width="17.63" height="9.30" fill="#1c751c"/>
<rect x="143.23" y="665.45" width="17.63" height="9.30" fill="#046704"/>
<rect x="164.07" y="665.45" width="17.63" height="9.30" fill="#046704"/>
<rect x="184.90" y="665.45" width="17.63" height="9.30" fill="#808080"/>
<rect x="205.73" y="665.45" width="17.63" height="9.30" fill="#046704"/>
<rect x="226.57" y="665.45" width="17.63" height="9.30" fill="#0b6b0b"/>
<rect x="247.40" y="665.45" width="17.63" height="9.30" fill="#046704"/>
<rect x="268.23" y="665.45" width="17.63" height="9.30" fill="#0b6b0b"/>
<rect x="289.07" y="665.45" width="17.63" height="9.30" fill="#046704"/>
<rect x="309.90" y="665.45" width="17.63" height="9.30" fill="#bfd8bf"/>
<rect x="330.73" y="665.45" width="17.63" height="9.30" fill="#adcdad"/>
<rect x="351.57" y="665.45" width="17.63" height="9.30" fill="#9cc39c"/>
<rect x="372.40" y="665.45" width="17.63" height="9.30" fill="#8bb88b"/>
<rect x="393.23" y="665.45" width="17.63" height="9.30" fill="#308130"/>
<rect x="414.07" y="665.45" width="17.63" height="9.30" fill="#116f11"/>
<rect x="434.90" y="665.45" width="17.63" height="9.30" fill="#116f11"/>
<rect x="455.73" y="665.45" width="17.63" height="9.30" fill="#1c751c"/>
<rect x="476.57" y="665.45" width="17.63" height="9.30" fill="#116f11"/>
<rect x="497.40" y="665.45" width="17.63" height="9.30" fill="#116f11"/>
<rect x="518.23" y="665.45" width="17.63" height="9.30" fill="#116f11"/>
<rect x="539.07" y="665.45" width="17.63" height="9.30" fill="#116f11"/>
<rect x="559.90" y="665.45" width="17.63" height="9.30" fill="#808080"/>
<rect x="580.73" y="665.45" width="17.63" height="9.30" fill="#096909"/>
<rect x="601.57" y="665.45" width="17.63" height="9.30" fill="#808080"/>
<rect x="622.40" y="665.45" width="17.63" height="9.30" fill="#096909"/>
<rect x="643.23" y="665.45" width="17.63" height="9.30" fill="#116f11"/>
<rect x="664.07" y="665.45" width="17.63" height="9.30" fill="#116f11"/>
<rect x="684.90" y="665.45" width="17.63" height="9.30" fill="#116f11"/>
<rect x="705.73" y="665.45" width="17.63" height="9.30" fill="#116f11"/>
<rect x="726.57" y="665.45" width="17.63" height="9.30" fill="#808080"/>
<rect x="747.40" y="665.45" width="17.63" height="9.30" fill="#116f11"/>
<rect x="768.23" y="665.45" width="17.63" height="9.30" fill="#808080"/>
<rect x="789.07" y="665.45" width="17.63" height="9.30" fill="#116f11"/>
<rect x="59.90" y="677.95" width="17.63" height="9.30" fill="#308130"/>
<rect x="80.73" y="677.95" width="17.63" height="9.30" fill="#0d6c0d"/>
<rect x="101.57" y="677.95" width="17.63" height="9.30" fill="#308130"/>
<rect x="122.40" y="677.95" width="17.63" height="9.30" fill="#1c751c"/>
<rect x="143.23" y="677.95" width="17.63" height="9.30" fill="#046704"/>
<rect x="164.07" y="677.95" width="17.63" height="9.30" fill="#046704"/>
<rect x="184.90" y="677.95" width="17.63" height="9.30" fill="#808080"/>
<rect x="205.73" y="677.95" width="17.63" height="9.30" fill="#046704"/>
<rect x="226.57" y="677.95" width="17.63" height="9.30" fill="#0b6b0b"/>
<rect x="247.40" y="677.95" width="17.63" height="9.30" fill="#046704"/>
<rect x="268.23" y="677.95" width="17.63" height="9.30" fill="#0b6b0b"/>
<rect x="289.07" y="677.95" width="17.63" height="9.30" fill="#046704"/>
<rect x="309.90" y="677.95" width="17.63" height="9.30" fill="#e1ede1"/>
<rect x="330.73" y="677.95" width="17.63" height="9.30" fill="#9cc39c"/>
<rect x="351.57" y="677.95" width="17.63" height="9.30" fill="#adcdad"/>
<rect x="372.40" y="677.95" width="17.63" height="9.30" fill="#8bb88b"/>
<rect x="393.23" y="677.95" width="17.63" height="9.30" fill="#308130"/>
<rect x="414.07" y="677.95" width="17.63" height="9.30" fill="#116f11"/>
<rect x="434.90" y="677.95" width="17.63" height="9.30" fill="#116f11"/>
<rect x="455.73" y="677.95" width="17.63" height="9.30" fill="#1c751c"/>
<rect x="476.57" y="677.95" width="17.63" height="9.30" fill="#116f11"/>
<rect x="497.40" y="677.95" width="17.63" height="9.30" fill="#116f11"/>
<rect x="518.23" y="677.95" width="17.63" height="9.30" fill="#116f11"/>
<rect x="539.07" y="677.95" width="17.63" height="9.30" fill="#116f11"/>
<rect x="559.90" y="677.95" width="17.63" height="9.30" fill="#808080"/>
<rect x="580.73" y="677.95" width="17.63" height="9.30" fill="#096909"/>
<rect x="601.57" y="677.95" width="17.63" height="9.30" fill="#808080"/>
<rect x="622.40" y="677.95" width="17.63" height="9.30" fill="#096909"/>
<rect x="643.23" y="677.95" width="17.63" height="9.30" fill="#808080"/>
<rect x="664.07" y="677.95" width="17.63" height="9.30" fill="#116f11"/>
<rect x="684.90" y="677.95" width="17.63" height="9.30" fill="#308130"/>
<rect x="705.73" y="677.95" width="17.63" height="9.30" fill="#116f11"/>
<rect x="726.57" y="677.95" width="17.63" height="9.30" fill="#046704"/>
<rect x="747.40" y="677.95" width="17.63" height="9.30" fill="#116f11"/>
<rect x="768.23" y="677.95" width="17.63" height="9.30" fill="#808080"/>
<rect x="789.07" y="677.95" width="17.63" height="9.30" fill="#116f11"/>
<rect x="59.90" y="690.45" width="17.63" height="9.30" fill="#308130"/>
<rect x="80.73" y="690.45" width="17.63" height="9.30" fill="#0d6c0d"/>
<rect x="101.57" y="690.45" width="17.63" height="9.30" fill="#0d6c0d"/>
<rect x="122.40" y="690.45" width="17.63" height="9.30" fill="#1c751c"/>
<rect x="143.23" y="690.45" width="17.63" height="9.30" fill="#0b6b0b"/>
<rect x="164.07" y="690.45" width="17.63" height="9.30" fill="#046704"/>
<rect x="184.90" y="690.45" width="17.63" height="9.30" fill="#808080"/>
<rect x="205.73" y="690.45" width="17.63" height="9.30" fill="#046704"/>
<rect x="226.57" y="690.45" width="17.63" height="9.30" fill="#1c751c"/>
<rect x="247.40" y="690.45" width="17.63" height="9.30" fill="#046704"/>
<rect x="268.23" y="690.45" width="17.63" height="9.30" fill="#1c751c"/>
<rect x="289.07" y="690.45" width="17.63" height="9.30" fill="#046704"/>
<rect x="309.90" y="690.45" width="17.63" height="9.30" fill="#d0e2d0"/>
<rect x="330.73" y="690.45" width="17.63" height="9.30" fill="#8bb88b"/>
<rect x="351.57" y="690.45" width="17.63" height="9.30" fill="#e1ede1"/>
<rect x="372.40" y="690.45" width="17.63" height="9.30" fill="#79ae79"/>
<rect x="393.23" y="690.45" width="17.63" height="9.30" fill="#308130"/>
<rect x="414.07" y="690.45" width="17.63" height="9.30" fill="#116f11"/>
<rect x="434.90" y="690.45" width="17.63" height="9.30" fill="#1c751c"/>
<rect x="455.73" y="690.45" width="17.63" height="9.30" fill="#1c751c"/>
<rect x="476.57" y="690.45" width="17.63" height="9.30" fill="#116f11"/>
<rect x="497.40" y="690.45" width="17.63" height="9.30" fill="#116f11"/>
<rect x="518.23" y="690.45" width="17.63" height="9.30" fill="#808080"/>
<rect x="539.07" y="690.45" width="17.63" height="9.30" fill="#116f11"/>
<rect x="559.90" y="690.45" width="17.63" height="9.30" fill="#808080"/>
<rect x="580.73" y="690.45" width="17.63" height="9.30" fill="#096909"/>
<rect x="601.57" y="690.45" width="17.63" height="9.30" fill="#808080"/>
<rect x="622.40" y="690.45" width="17.63" height="9.30" fill="#096909"/>
<rect x="643.23" y="690.45" width="17.63" height="9.30" fill="#1c751c"/>
<rect x="664.07" y="690.45" width="17.63" height="9.30" fill="#116f11"/>
<rect x="684.90" y="690.45" width="17.63" height="9.30" fill="#116f11"/>
<rect x="705.73" y="690.45" width="17.63" height="9.30" fill="#116f11"/>
<rect x="726.57" y="690.45" width="17.63" height="9.30" fill="#046704"/>
<rect x="747.40" y="690.45" width="17.63" height="9.30" fill="#116f11"/>
<rect x="768.23" y="690.45" width="17.63" height="9.30" fill="#808080"/>
<rect x="789.07" y="690.45" width="17.63" height="9.30" fill="#116f11"/>
<rect x="59.90" y="702.95" width="17.63" height="9.30" fill="#308130"/>
<rect x="80.73" y="702.95" width="17.63" height="9.30" fill="#0d6c0d"/>
<rect x="101.57" y="702.95" width="17.63" height="9.30" fill="#308130"/>
<rect x="122.40" y="702.95" width="17.63" height="9.30" fill="#1c751c"/>
<rect x="143.23" y="702.95" width="17.63" height="9.30" fill="#046704"/>
<rect x="164.07" y="702.95" width="17.63" height="9.30" fill="#046704"/>
<rect x="184.90" y="702.95" width="17.63" height="9.30" fill="#808080"/>
<rect x="205.73" y="702.95" width="17.63" height="9.30" fill="#046704"/>
<rect x="226.57" y="702.95" width="17.63" height="9.30" fill="#0b6b0b"/>
<rect x="247.40" y="702.95" width="17.63" height="9.30" fill="#046704"/>
<rect x="268.23" y="702.95" width="17.63" height="9.30" fill="#808080"/>
<rect x="289.07" y="702.95" width="17.63" height="9.30" fill="#046704"/>
<rect x="309.90" y="702.95" width="17.63" height="9.30" fill="#d0e2d0"/>
<rect x="330.73" y="702.95" width="17.63" height="9.30" fill="#8bb88b"/>
<rect x="351.57" y="702.95" width="17.63" height="9.30" fill="#adcdad"/>
<rect x="372.40" y="702.95" width="17.63" height="9.30" fill="#79ae79"/>
<rect x="393.23" y="702.95" width="17.63" height="9.30" fill="#308130"/>
<rect x="414.07" y="702.95" width="17.63" height="9.30" fill="#116f11"/>
<rect x="434.90" y="702.95" width="17.63" height="9.30" fill="#1c751c"/>
<rect x="455.73" y="702.95" width="17.63" height="9.30" fill="#1c751c"/>
<rect x="476.57" y="702.95" width="17.63" height="9.30" fill="#116f11"/>
<rect x="497.40" y="702.95" width="17.63" height="9.30" fill="#116f11"/>
<rect x="518.23" y="702.95" width="17.63" height="9.30" fill="#046704"/>
<rect x="539.07" y="702.95" width="17.63" height="9.30" fill="#116f11"/>
<rect x="559.90" y="702.95" width="17.63" height="9.30" fill="#808080"/>
<rect x="580.73" y="702.95" width="17.63" height="9.30" fill="#096909"/>
<rect x="601.57" y="702.95" width="17.63" height="9.30" fill="#808080"/>
<rect x="622.40" y="702.95" width="17.63" height="9.30" fill="#096909"/>
<rect x="643.23" y="702.95" width="17.63" height="9.30" fill="#579957"/>
<rect x="664.07" y="702.95" width="17.63" height="9.30" fill="#116f11"/>
<rect x="684.90" y="702.95" width="17.63" height="9.30" fill="#808080"/>
<rect x="705.73" y="702.95" width="17.63" height="9.30" fill="#116f11"/>
<rect x="726.57" y="702.95" width="17.63" height="9.30" fill="#046704"/>
<rect x="747.40" y="702.95" width="17.63" height="9.30" fill="#116f11"/>
<rect x="768.23" y="702.95" width="17.63" height="9.30" fill="#808080"/>
<rect x="789.07" y="702.95" width="17.63" height="9.30" fill="#116f11"/>
<rect x="59.90" y="715.45" width="17.63" height="9.30" fill="#458e45"/>
<rect x="80.73" y="715.45" width="17.63" height="9.30" fill="#0d6c0d"/>
<rect x="101.57" y="715.45" width="17.63" height="9.30" fill="#458e45"/>
<rect x="122.40" y="715.45" width="17.63" height="9.30" fill="#1c751c"/>
<rect x="143.23" y="715.45" width="17.63" height="9.30" fill="#0b6b0b"/>
<rect x="164.07" y="715.45" width="17.63" height="9.30" fill="#046704"/>
<rect x="184.90" y="715.45" width="17.63" height="9.30" fill="#808080"/>
<rect x="205.73" y="715.45" width="17.63" height="9.30" fill="#046704"/>
<rect x="226.57" y="715.45" width="17.63" height="9.30" fill="#0b6b0b"/>
<rect x="247.40" y="715.45" width="17.63" height="9.30" fill="#046704"/>
<rect x="268.23" y="715.45" width="17.63" height="9.30" fill="#0b6b0b"/>
<rect x="289.07" y="715.45" width="17.63" height="9.30" fill="#046704"/>
<rect x="309.90" y="715.45" width="17.63" height="9.30" fill="#808080"/>
<rect x="330.73" y="715.45" width="17.63" height="9.30" fill="#bfd8bf"/>
<rect x="351.57" y="715.45" width="17.63" height="9.30" fill="#808080"/>
<rect x="372.40" y="715.45" width="17.63" height="9.30" fill="#8bb88b"/>
<rect x="393.23" y="715.45" width="17.63" height="9.30" fill="#808080"/>
<rect x="414.07" y="715.45" width="17.63" height="9.30" fill="#116f11"/>
<rect x="434.90" y="715.45" width="17.63" height="9.30" fill="#116f11"/>
<rect x="455.73" y="715.45" width="17.63" height="9.30" fill="#1c751c"/>
<rect x="476.57" y="715.45" width="17.63" height="9.30" fill="#808080"/>
<rect x="497.40" y="715.45" width="17.63" height="9.30" fill="#116f11"/>
<rect x="518.23" y="715.45" width="17.63" height="9.30" fill="#808080"/>
<rect x="539.07" y="715.45" width="17.63" height="9.30" fill="#116f11"/>
<rect x="559.90" y="715.45" width="17.63" height="9.30" fill="#808080"/>
<rect x="580.73" y="715.45" width="17.63" height="9.30" fill="#096909"/>
<rect x="601.57" y="715.45" width="17.63" height="9.30" fill="#808080"/>
<rect x="622.40" y="715.45" width="17.63" height="9.30" fill="#096909"/>
<rect x="643.23" y="715.45" width="17.63" height="9.30" fill="#808080"/>
<rect x="664.07" y="715.45" width="17.63" height="9.30" fill="#116f11"/>
<rect x="684.90" y="715.45" width="17.63" height="9.30" fill="#808080"/>
<rect x="705.73" y="715.45" width="17.63" height="9.30" fill="#116f11"/>
<rect x="726.57" y="715.45" width="17.63" height="9.30" fill="#808080"/>
<rect x="747.40" y="715.45" width="17.63" height="9.30" fill="#116f11"/>
<rect x="768.23" y="715.45" width="17.63" height="9.30" fill="#808080"/>
<rect x="789.07" y="715.45" width="17.63" height="9.30" fill="#116f11"/>
<rect x="59.90" y="727.95" width="17.63" height="9.30" fill="#1c751c"/>
<rect x="80.73" y="727.95" width="17.63" height="9.30" fill="#0d6c0d"/>
<rect x="101.57" y="727.95" width="17.63" height="9.30" fill="#458e45"/>
<rect x="122.40" y="727.95" width="17.63" height="9.30" fill="#1c751c"/>
<rect x="143.23" y="727.95" width="17.63" height="9.30" fill="#046704"/>
<rect x="164.07" y="727.95" width="17.63" height="9.30" fill="#046704"/>
<rect x="184.90" y="727.95" width="17.63" height="9.30" fill="#046704"/>
<rect x="205.73" y="727.95" width="17.63" height="9.30" fill="#046704"/>
<rect x="226.57" y="727.95" width="17.63" height="9.30" fill="#046704"/>
<rect x="247.40" y="727.95" width="17.63" height="9.30" fill="#046704"/>
<rect x="268.23" y="727.95" width="17.63" height="9.30" fill="#0b6b0b"/>
<rect x="289.07" y="727.95" width="17.63" height="9.30" fill="#046704"/>
<rect x="309.90" y="727.95" width="17.63" height="9.30" fill="#bfd8bf"/>
<rect x="330.73" y="727.95" width="17.63" height="9.30" fill="#bfd8bf"/>
<rect x="351.57" y="727.95" width="17.63" height="9.30" fill="#9cc39c"/>
<rect x="372.40" y="727.95" width="17.63" height="9.30" fill="#68a368"/>
<rect x="393.23" y="727.95" width="17.63" height="9.30" fill="#116f11"/>
<rect x="414.07" y="727.95" width="17.63" height="9.30" fill="#116f11"/>
<rect x="434.90" y="727.95" width="17.63" height="9.30" fill="#458e45"/>
<rect x="455.73" y="727.95" width="17.63" height="9.30" fill="#1c751c"/>
<rect x="476.57" y="727.95" width="17.63" height="9.30" fill="#1c751c"/>
<rect x="497.40" y="727.95" width="17.63" height="9.30" fill="#116f11"/>
<rect x="518.23" y="727.95" width="17.63" height="9.30" fill="#808080"/>
<rect x="539.07" y="727.95" width="17.63" height="9.30" fill="#116f11"/>
<rect x="559.90" y="727.95" width="17.63" height="9.30" fill="#046704"/>
<rect x="580.73" y="727.95" width="17.63" height="9.30" fill="#096909"/>
<rect x="601.57" y="727.95" width="17.63" height="9.30" fill="#808080"/>
<rect x="622.40" y="727.95" width="17.63" height="9.30" fill="#096909"/>
<rect x="643.23" y="727.95" width="17.63" height="9.30" fill="#808080"/>
<rect x="664.07" y="727.95" width="17.63" height="9.30" fill="#116f11"/>
<rect x="684.90" y="727.95" width="17.63" height="9.30" fill="#808080"/>
<rect x="705.73" y="727.95" width="17.63" height="9.30" fill="#116f11"/>
<rect x="726.57" y="727.95" width="17.63" height="9.30" fill="#808080"/>
<rect x="747.40" y="727.95" width="17.63" height="9.30" fill="#116f11"/>
<rect x="768.23" y="727.95" width="17.63" height="9.30" fill="#808080"/>
<rect x="789.07" y="727.95" width="17.63" height="9.30" fill="#116f11"/>
<rect x="59.90" y="740.45" width="17.63" height="9.30" fill="#1c751c"/>
<rect x="80.73" y="740.45" width="17.63" height="9.30" fill="#0d6c0d"/>
<rect x="101.57" y="740.45" width="17.63" height="9.30" fill="#308130"/>
<rect x="122.40" y="740.45" width="17.63" height="9.30" fill="#1c751c"/>
<rect x="143.23" y="740.45" width="17.63" height="9.30" fill="#046704"/>
<rect x="164.07" y="740.45" width="17.63" height="9.30" fill="#046704"/>
<rect x="184.90" y="740.45" width="17.63" height="9.30" fill="#046704"/>
<rect x="205.73" y="740.45" width="17.63" height="9.30" fill="#046704"/>
<rect x="226.57" y="740.45" width="17.63" height="9.30" fill="#0b6b0b"/>
<rect x="247.40" y="740.45" width="17.63" height="9.30" fill="#046704"/>
<rect x="268.23" y="740.45" width="17.63" height="9.30" fill="#046704"/>
<rect x="289.07" y="740.45" width="17.63" height="9.30" fill="#046704"/>
<rect x="309.90" y="740.45" width="17.63" height="9.30" fill="#e1ede1"/>
<rect x="330.73" y="740.45" width="17.63" height="9.30" fill="#8bb88b"/>
<rect x="351.57" y="740.45" width="17.63" height="9.30" fill="#bfd8bf"/>
<rect x="372.40" y="740.45" width="17.63" height="9.30" fill="#579957"/>
<rect x="393.23" y="740.45" width="17.63" height="9.30" fill="#1c751c"/>
<rect x="414.07" y="740.45" width="17.63" height="9.30" fill="#116f11"/>
<rect x="434.90" y="740.45" width="17.63" height="9.30" fill="#458e45"/>
<rect x="455.73" y="740.45" width="17.63" height="9.30" fill="#1c751c"/>
<rect x="476.57" y="740.45" width="17.63" height="9.30" fill="#808080"/>
<rect x="497.40" y="740.45" width="17.63" height="9.30" fill="#116f11"/>
<rect x="518.23" y="740.45" width="17.63" height="9.30" fill="#308130"/>
<rect x="539.07" y="740.45" width="17.63" height="9.30" fill="#116f11"/>
<rect x="559.90" y="740.45" width="17.63" height="9.30" fill="#808080"/>
<rect x="580.73" y="740.45" width="17.63" height="9.30" fill="#096909"/>
<rect x="601.57" y="740.45" width="17.63" height="9.30" fill="#808080"/>
<rect x="622.40" y="740.45" width="17.63" height="9.30" fill="#096909"/>
<rect x="643.23" y="740.45" width="17.63" height="9.30" fill="#308130"/>
<rect x="664.07" y="740.45" width="17.63" height="9.30" fill="#116f11"/>
<rect x="684.90" y="740.45" width="17.63" height="9.30" fill="#458e45"/>
<rect x="705.73" y="740.45" width="17.63" height="9.30" fill="#116f11"/>
<rect x="726.57" y="740.45" width="17.63" height="9.30" fill="#308130"/>
<rect x="747.40" y="740.45" width="17.63" height="9.30" fill="#116f11"/>
<rect x="768.23" y="740.45" width="17.63" height="9.30" fill="#808080"/>
<rect x="789.07" y="740.45" width="17.63" height="9.30" fill="#116f11"/>
<rect x="59.90" y="752.95" width="17.63" height="9.30" fill="#308130"/>
<rect x="80.73" y="752.95" width="17.63" height="9.30" fill="#0d6c0d"/>
<rect x="101.57" y="752.95" width="17.63" height="9.30" fill="#579957"/>
<rect x="122.40" y="752.95" width="17.63" height="9.30" fill="#1c751c"/>
<rect x="143.23" y="752.95" width="17.63" height="9.30" fill="#808080"/>
<rect x="164.07" y="752.95" width="17.63" height="9.30" fill="#046704"/>
<rect x="184.90" y="752.95" width="17.63" height="9.30" fill="#808080"/>
<rect x="205.73" y="752.95" width="17.63" height="9.30" fill="#046704"/>
<rect x="226.57" y="752.95" width="17.63" height="9.30" fill="#808080"/>
<rect x="247.40" y="752.95" width="17.63" height="9.30" fill="#046704"/>
<rect x="268.23" y="752.95" width="17.63" height="9.30" fill="#046704"/>
<rect x="289.07" y="752.95" width="17.63" height="9.30" fill="#046704"/>
<rect x="309.90" y="752.95" width="17.63" height="9.30" fill="#e1ede1"/>
<rect x="330.73" y="752.95" width="17.63" height="9.30" fill="#8bb88b"/>
<rect x="351.57" y="752.95" width="17.63" height="9.30" fill="#9cc39c"/>
<rect x="372.40" y="752.95" width="17.63" height="9.30" fill="#8bb88b"/>
<rect x="393.23" y="752.95" width="17.63" height="9.30" fill="#116f11"/>
<rect x="414.07" y="752.95" width="17.63" height="9.30" fill="#116f11"/>
<rect x="434.90" y="752.95" width="17.63" height="9.30" fill="#308130"/>
<rect x="455.73" y="752.95" width="17.63" height="9.30" fill="#1c751c"/>
<rect x="476.57" y="752.95" width="17.63" height="9.30" fill="#808080"/>
<rect x="497.40" y="752.95" width="17.63" height="9.30" fill="#116f11"/>
<rect x="518.23" y="752.95" width="17.63" height="9.30" fill="#808080"/>
<rect x="539.07" y="752.95" width="17.63" height="9.30" fill="#116f11"/>
<rect x="559.90" y="752.95" width="17.63" height="9.30" fill="#808080"/>
<rect x="580.73" y="752.95" width="17.63" height="9.30" fill="#096909"/>
<rect x="601.57" y="752.95" width="17.63" height="9.30" fill="#808080"/>
<rect x="622.40" y="752.95" width="17.63" height="9.30" fill="#096909"/>
<rect x="643.23" y="752.95" width="17.63" height="9.30" fill="#1c751c"/>
<rect x="664.07" y="752.95" width="17.63" height="9.30" fill="#116f11"/>
<rect x="684.90" y="752.95" width="17.63" height="9.30" fill="#808080"/>
<rect x="705.73" y="752.95" width="17.63" height="9.30" fill="#116f11"/>
<rect x="726.57" y="752.95" width="17.63" height="9.30" fill="#808080"/>
<rect x="747.40" y="752.95" width="17.63" height="9.30" fill="#116f11"/>
<rect x="768.23" y="752.95" width="17.63" height="9.30" fill="#808080"/>
<rect x="789.07" y="752.95" width="17.63" height="9.30" fill="#116f11"/>
<rect x="59.90" y="765.45" width="17.63" height="9.30" fill="#1c751c"/>
<rect x="80.73" y="765.45" width="17.63" height="9.30" fill="#0d6c0d"/>
<rect x="101.57" y="765.45" width="17.63" height="9.30" fill="#458e45"/>
<rect x="122.40" y="765.45" width="17.63" height="9.30" fill="#1c751c"/>
<rect x="143.23" y="765.45" width="17.63" height="9.30" fill="#808080"/>
<rect x="164.07" y="765.45" width="17.63" height="9.30" fill="#046704"/>
<rect x="184.90" y="765.45" width="17.63" height="9.30" fill="#046704"/>
<rect x="205.73" y="765.45" width="17.63" height="9.30" fill="#046704"/>
<rect x="226.57" y="765.45" width="17.63" height="9.30" fill="#046704"/>
<rect x="247.40" y="765.45" width="17.63" height="9.30" fill="#046704"/>
<rect x="268.23" y="765.45" width="17.63" height="9.30" fill="#0b6b0b"/>
<rect x="289.07" y="765.45" width="17.63" height="9.30" fill="#046704"/>
<rect x="309.90" y="765.45" width="17.63" height="9.30" fill="#f1c3c3"/>
<rect x="330.73" y="765.45" width="17.63" height="9.30" fill="#9cc39c"/>
<rect x="351.57" y="765.45" width="17.63" height="9.30" fill="#e1ede1"/>
<rect x="372.40" y="765.45" width="17.63" height="9.30" fill="#8bb88b"/>
<rect x="393.23" y="765.45" width="17.63" height="9.30" fill="#116f11"/>
<rect x="414.07" y="765.45" width="17.63" height="9.30" fill="#116f11"/>
<rect x="434.90" y="765.45" width="17.63" height="9.30" fill="#68a368"/>
<rect x="455.73" y="765.45" width="17.63" height="9.30" fill="#1c751c"/>
<rect x="476.57" y="765.45" width="17.63" height="9.30" fill="#808080"/>
<rect x="497.40" y="765.45" width="17.63" height="9.30" fill="#116f11"/>
<rect x="518.23" y="765.45" width="17.63" height="9.30" fill="#808080"/>
<rect x="539.07" y="765.45" width="17.63" height="9.30" fill="#116f11"/>
<rect x="559.90" y="765.45" width="17.63" height="9.30" fill="#808080"/>
<rect x="580.73" y="765.45" width="17.63" height="9.30" fill="#096909"/>
<rect x="601.57" y="765.45" width="17.63" height="9.30" fill="#808080"/>
<rect x="622.40" y="765.45" width="17.63" height="9.30" fill="#096909"/>
<rect x="643.23" y="765.45" width="17.63" height="9.30" fill="#808080"/>
<rect x="664.07" y="765.45" width="17.63" height="9.30" fill="#116f11"/>
<rect x="684.90" y="765.45" width="17.63" height="9.30" fill="#808080"/>
<rect x="705.73" y="765.45" width="17.63" height="9.30" fill="#116f11"/>
<rect x="726.57" y="765.45" width="17.63" height="9.30" fill="#808080"/>
<rect x="747.40" y="765.45" width="17.63" height="9.30" fill="#116f11"/>
<rect x="768.23" y="765.45" width="17.63" height="9.30" fill="#808080"/>
<rect x="789.07" y="765.45" width="17.63" height="9.30" fill="#116f11"/>
<rect x="59.90" y="777.95" width="17.63" height="9.30" fill="#1c751c"/>
<rect x="80.73" y="777.95" width="17.63" height="9.30" fill="#046704"/>
<rect x="101.57" y="777.95" width="17.63" height="9.30" fill="#308130"/>
<rect x="122.40" y="777.95" width="17.63" height="9.30" fill="#0d6c0d"/>
<rect x="143.23" y="777.95" width="17.63" height="9.30" fill="#046704"/>
<rect x="164.07" y="777.95" width="17.63" height="9.30" fill="#046704"/>
<rect x="184.90" y="777.95" width="17.63" height="9.30" fill="#046704"/>
<rect x="205.73" y="777.95" width="17.63" height="9.30" fill="#046704"/>
<rect x="226.57" y="777.95" width="17.63" height="9.30" fill="#046704"/>
<rect x="247.40" y="777.95" width="17.63" height="9.30" fill="#046704"/>
<rect x="268.23" y="777.95" width="17.63" height="9.30" fill="#0b6b0b"/>
<rect x="289.07" y="777.95" width="17.63" height="9.30" fill="#046704"/>
<rect x="309.90" y="777.95" width="17.63" height="9.30" fill="#d0e2d0"/>
<rect x="330.73" y="777.95" width="17.63" height="9.30" fill="#79ae79"/>
<rect x="351.57" y="777.95" width="17.63" height="9.30" fill="#bfd8bf"/>
<rect x="372.40" y="777.95" width="17.63" height="9.30" fill="#68a368"/>
<rect x="393.23" y="777.95" width="17.63" height="9.30" fill="#116f11"/>
<rect x="414.07" y="777.95" width="17.63" height="9.30" fill="#116f11"/>
<rect x="434.90" y="777.95" width="17.63" height="9.30" fill="#458e45"/>
<rect x="455.73" y="777.95" width="17.63" height="9.30" fill="#1c751c"/>
<rect x="476.57" y="777.95" width="17.63" height="9.30" fill="#046704"/>
<rect x="497.40" y="777.95" width="17.63" height="9.30" fill="#116f11"/>
<rect x="518.23" y="777.95" width="17.63" height="9.30" fill="#808080"/>
<rect x="539.07" y="777.95" width="17.63" height="9.30" fill="#116f11"/>
<rect x="559.90" y="777.95" width="17.63" height="9.30" fill="#808080"/>
<rect x="580.73" y="777.95" width="17.63" height="9.30" fill="#096909"/>
<rect x="601.57" y="777.95" width="17.63" height="9.30" fill="#808080"/>
<rect x="622.40" y="777.95" width="17.63" height="9.30" fill="#096909"/>
<rect x="643.23" y="777.95" width="17.63" height="9.30" fill="#1c751c"/>
<rect x="664.07" y="777.95" width="17.63" height="9.30" fill="#116f11"/>
<rect x="684.90" y="777.95" width="17.63" height="9.30" fill="#808080"/>
<rect x="705.73" y="777.95" width="17.63" height="9.30" fill="#116f11"/>
<rect x="726.57" y="777.95" width="17.63" height="9.30" fill="#808080"/>
<rect x="747.40" y="777.95" width="17.63" height="9.30" fill="#116f11"/>
<rect x="768.23" y="777.95" width="17.63" height="9.30" fill="#808080"/>
<rect x="789.07" y="777.95" width="17.63" height="9.30" fill="#116f11"/>
<rect x="59.90" y="790.45" width="17.63" height="9.30" fill="#308130"/>
<rect x="80.73" y="790.45" width="17.63" height="9.30" fill="#0d6c0d"/>
<rect x="101.57" y="790.45" width="17.63" height="9.30" fill="#579957"/>
<rect x="122.40" y="790.45" width="17.63" height="9.30" fill="#1c751c"/>
<rect x="143.23" y="790.45" width="17.63" height="9.30" fill="#0b6b0b"/>
<rect x="164.07" y="790.45" width="17.63" height="9.30" fill="#046704"/>
<rect x="184.90" y="790.45" width="17.63" height="9.30" fill="#808080"/>
<rect x="205.73" y="790.45" width="17.63" height="9.30" fill="#046704"/>
<rect x="226.57" y="790.45" width="17.63" height="9.30" fill="#808080"/>
<rect x="247.40" y="790.45" width="17.63" height="9.30" fill="#046704"/>
<rect x="268.23" y="790.45" width="17.63" height="9.30" fill="#0b6b0b"/>
<rect x="289.07" y="790.45" width="17.63" height="9.30" fill="#046704"/>
<rect x="309.90" y="790.45" width="17.63" height="9.30" fill="#f3f7f3"/>
<rect x="330.73" y="790.45" width="17.63" height="9.30" fill="#9cc39c"/>
<rect x="351.57" y="790.45" width="17.63" height="9.30" fill="#e1ede1"/>
<rect x="372.40" y="790.45" width="17.63" height="9.30" fill="#79ae79"/>
<rect x="393.23" y="790.45" width="17.63" height="9.30" fill="#1c751c"/>
<rect x="414.07" y="790.45" width="17.63" height="9.30" fill="#116f11"/>
<rect x="434.90" y="790.45" width="17.63" height="9.30" fill="#579957"/>
<rect x="455.73" y="790.45" width="17.63" height="9.30" fill="#1c751c"/>
<rect x="476.57" y="790.45" width="17.63" height="9.30" fill="#808080"/>
<rect x="497.40" y="790.45" width="17.63" height="9.30" fill="#116f11"/>
<rect x="518.23" y="790.45" width="17.63" height="9.30" fill="#808080"/>
<rect x="539.07" y="790.45" width="17.63" height="9.30" fill="#116f11"/>
<rect x="559.90" y="790.45" width="17.63" height="9.30" fill="#808080"/>
<rect x="580.73" y="790.45" width="17.63" height="9.30" fill="#096909"/>
<rect x="601.57" y="790.45" width="17.63" height="9.30" fill="#808080"/>
<rect x="622.40" y="790.45" width="17.63" height="9.30" fill="#096909"/>
<rect x="643.23" y="790.45" width="17.63" height="9.30" fill="#808080"/>
<rect x="664.07" y="790.45" width="17.63" height="9.30" fill="#116f11"/>
<rect x="684.90" y="790.45" width="17.63" height="9.30" fill="#808080"/>
<rect x="705.73" y="790.45" width="17.63" height="9.30" fill="#116f11"/>
<rect x="726.57" y="790.45" width="17.63" height="9.30" fill="#808080"/>
<rect x="747.40" y="790.45" width="17.63" height="9.30" fill="#116f11"/>
<rect x="768.23" y="790.45" width="17.63" height="9.30" fill="#808080"/>
<rect x="789.07" y="790.45" width="17.63" height="9.30" fill="#116f11"/>
<rect x="59.90" y="802.95" width="17.63" height="9.30" fill="#0d6c0d"/>
<rect x="80.73" y="802.95" width="17.63" height="9.30" fill="#0d6c0d"/>
<rect x="101.57" y="802.95" width="17.63" height="9.30" fill="#046704"/>
<rect x="122.40" y="802.95" width="17.63" height="9.30" fill="#1c751c"/>
<rect x="143.23" y="802.95" width="17.63" height="9.30" fill="#808080"/>
<rect x="164.07" y="802.95" width="17.63" height="9.30" fill="#046704"/>
<rect x="184.90" y="802.95" width="17.63" height="9.30" fill="#808080"/>
<rect x="205.73" y="802.95" width="17.63" height="9.30" fill="#046704"/>
<rect x="226.57" y="802.95" width="17.63" height="9.30" fill="#808080"/>
<rect x="247.40" y="802.95" width="17.63" height="9.30" fill="#046704"/>
<rect x="268.23" y="802.95" width="17.63" height="9.30" fill="#808080"/>
<rect x="289.07" y="802.95" width="17.63" height="9.30" fill="#046704"/>
<rect x="309.90" y="802.95" width="17.63" height="9.30" fill="#579957"/>
<rect x="330.73" y="802.95" width="17.63" height="9.30" fill="#bfd8bf"/>
<rect x="351.57" y="802.95" width="17.63" height="9.30" fill="#e1ede1"/>
<rect x="372.40" y="802.95" width="17.63" height="9.30" fill="#8bb88b"/>
<rect x="393.23" y="802.95" width="17.63" height="9.30" fill="#808080"/>
<rect x="414.07" y="802.95" width="17.63" height="9.30" fill="#116f11"/>
<rect x="434.90" y="802.95" width="17.63" height="9.30" fill="#808080"/>
<rect x="455.73" y="802.95" width="17.63" height="9.30" fill="#1c751c"/>
<rect x="476.57" y="802.95" width="17.63" height="9.30" fill="#808080"/>
<rect x="497.40" y="802.95" width="17.63" height="9.30" fill="#116f11"/>
<rect x="518.23" y="802.95" width="17.63" height="9.30" fill="#808080"/>
<rect x="539.07" y="802.95" width="17.63" height="9.30" fill="#116f11"/>
<rect x="559.90" y="802.95" width="17.63" height="9.30" fill="#808080"/>
<rect x="580.73" y="802.95" width="17.63" height="9.30" fill="#096909"/>
<rect x="601.57" y="802.95" width="17.63" height="9.30" fill="#808080"/>
<rect x="622.40" y="802.95" width="17.63" height="9.30" fill="#096909"/>
<rect x="643.23" y="802.95" width="17.63" height="9.30" fill="#808080"/>
<rect x="664.07" y="802.95" width="17.63" height="9.30" fill="#116f11"/>
<rect x="684.90" y="802.95" width="17.63" height="9.30" fill="#808080"/>
<rect x="705.73" y="802.95" width="17.63" height="9.30" fill="#116f11"/>
<rect x="726.57" y="802.95" width="17.63" height="9.30" fill="#808080"/>
<rect x="747.40" y="802.95" width="17.63" height="9.30" fill="#116f11"/>
<rect x="768.23" y="802.95" width="17.63" height="9.30" fill="#808080"/>
<rect x="789.07" y="802.95" width="17.63" height="9.30" fill="#116f11"/>
<rect x="59.90" y="815.45" width="17.63" height="9.30" fill="#0d6c0d"/>
<rect x="80.73" y="815.45" width="17.63" height="9.30" fill="#0d6c0d"/>
<rect x="101.57" y="815.45" width="17.63" height="9.30" fill="#046704"/>
<rect x="122.40" y="815.45" width="17.63" height="9.30" fill="#1c751c"/>
<rect x="143.23" y="815.45" width="17.63" height="9.30" fill="#808080"/>
<rect x="164.07" y="815.45" width="17.63" height="9.30" fill="#046704"/>
<rect x="184.90" y="815.45" width="17.63" height="9.30" fill="#808080"/>
<rect x="205.73" y="815.45" width="17.63" height="9.30" fill="#046704"/>
<rect x="226.57" y="815.45" width="17.63" height="9.30" fill="#808080"/>
<rect x="247.40" y="815.45" width="17.63" height="9.30" fill="#046704"/>
<rect x="268.23" y="815.45" width="17.63" height="9.30" fill="#808080"/>
<rect x="289.07" y="815.45" width="17.63" height="9.30" fill="#046704"/>
<rect x="309.90" y="815.45" width="17.63" height="9.30" fill="#808080"/>
<rect x="330.73" y="815.45" width="17.63" height="9.30" fill="#bfd8bf"/>
<rect x="351.57" y="815.45" width="17.63" height="9.30" fill="#808080"/>
<rect x="372.40" y="815.45" width="17.63" height="9.30" fill="#8bb88b"/>
<rect x="393.23" y="815.45" width="17.63" height="9.30" fill="#808080"/>
<rect x="414.07" y="815.45" width="17.63" height="9.30" fill="#116f11"/>
<rect x="434.90" y="815.45" width="17.63" height="9.30" fill="#808080"/>
<rect x="455.73" y="815.45" width="17.63" height="9.30" fill="#1c751c"/>
<rect x="476.57" y="815.45" width="17.63" height="9.30" fill="#808080"/>
<rect x="497.40" y="815.45" width="17.63" height="9.30" fill="#116f11"/>
<rect x="518.23" y="815.45" width="17.63" height="9.30" fill="#808080"/>
<rect x="539.07" y="815.45" width="17.63" height="9.30" fill="#116f11"/>
<rect x="559.90" y="815.45" width="17.63" height="9.30" fill="#808080"/>
<rect x="580.73" y="815.45" width="17.63" height="9.30" fill="#096909"/>
<rect x="601.57" y="815.45" width="17.63" height="9.30" fill="#808080"/>
<rect x="622.40" y="815.45" width="17.63" height="9.30" fill="#096909"/>
<rect x="643.23" y="815.45" width="17.63" height="9.30" fill="#808080"/>
<rect x="664.07" y="815.45" width="17.63" height="9.30" fill="#116f11"/>
<rect x="684.90" y="815.45" width="17.63" height="9.30" fill="#808080"/>
<rect x="705.73" y="815.45" width="17.63" height="9.30" fill="#116f11"/>
<rect x="726.57" y="815.45" width="17.63" height="9.30" fill="#808080"/>
<rect x="747.40" y="815.45" width="17.63" height="9.30" fill="#116f11"/>
<rect x="768.23" y="815.45" width="17.63" height="9.30" fill="#808080"/>
<rect x="789.07" y="815.45" width="17.63" height="9.30" fill="#116f11"/>
<rect x="59.90" y="827.95" width="17.63" height="9.30" fill="#046704"/>
<rect x="80.73" y="827.95" width="17.63" height="9.30" fill="#0d6c0d"/>
<rect x="101.57" y="827.95" width="17.63" height="9.30" fill="#0d6c0d"/>
<rect x="122.40" y="827.95" width="17.63" height="9.30" fill="#1c751c"/>
<rect x="143.23" y="827.95" width="17.63" height="9.30" fill="#808080"/>
<rect x="164.07" y="827.95" width="17.63" height="9.30" fill="#046704"/>
<rect x="184.90" y="827.95" width="17.63" height="9.30" fill="#808080"/>
<rect x="205.73" y="827.95" width="17.63" height="9.30" fill="#046704"/>
<rect x="226.57" y="827.95" width="17.63" height="9.30" fill="#808080"/>
<rect x="247.40" y="827.95" width="17.63" height="9.30" fill="#046704"/>
<rect x="268.23" y="827.95" width="17.63" height="9.30" fill="#808080"/>
<rect x="289.07" y="827.95" width="17.63" height="9.30" fill="#046704"/>
<rect x="309.90" y="827.95" width="17.63" height="9.30" fill="#808080"/>
<rect x="330.73" y="827.95" width="17.63" height="9.30" fill="#bfd8bf"/>
<rect x="351.57" y="827.95" width="17.63" height="9.30" fill="#808080"/>
<rect x="372.40" y="827.95" width="17.63" height="9.30" fill="#8bb88b"/>
<rect x="393.23" y="827.95" width="17.63" height="9.30" fill="#808080"/>
<rect x="414.07" y="827.95" width="17.63" height="9.30" fill="#116f11"/>
<rect x="434.90" y="827.95" width="17.63" height="9.30" fill="#808080"/>
<rect x="455.73" y="827.95" width="17.63" height="9.30" fill="#1c751c"/>
<rect x="476.57" y="827.95" width="17.63" height="9.30" fill="#808080"/>
<rect x="497.40" y="827.95" width="17.63" height="9.30" fill="#116f11"/>
<rect x="518.23" y="827.95" width="17.63" height="9.30" fill="#808080"/>
<rect x="539.07" y="827.95" width="17.63" height="9.30" fill="#116f11"/>
<rect x="559.90" y="827.95" width="17.63" height="9.30" fill="#808080"/>
<rect x="580.73" y="827.95" width="17.63" height="9.30" fill="#096909"/>
<rect x="601.57" y="827.95" width="17.63" height="9.30" fill="#808080"/>
<rect x="622.40" y="827.95" width="17.63" height="9.30" fill="#096909"/>
<rect x="643.23" y="827.95" width="17.63" height="9.30" fill="#808080"/>
<rect x="664.07" y="827.95" width="17.63" height="9.30" fill="#116f11"/>
<rect x="684.90" y="827.95" width="17.63" height="9.30" fill="#808080"/>
<rect x="705.73" y="827.95" width="17.63" height="9.30" fill="#116f11"/>
<rect x="726.57" y="827.95" width="17.63" height="9.30" fill="#808080"/>
<rect x="747.40" y="827.95" width="17.63" height="9.30" fill="#116f11"/>
<rect x="768.23" y="827.95" width="17.63" height="9.30" fill="#808080"/>
<rect x="789.07" y="827.95" width="17.63" height="9.30" fill="#116f11"/>
<rect x="59.90" y="840.45" width="17.63" height="9.30" fill="#1c751c"/>
<rect x="80.73" y="840.45" width="17.63" height="9.30" fill="#0d6c0d"/>
<rect x="101.57" y="840.45" width="17.63" height="9.30" fill="#308130"/>
<rect x="122.40" y="840.45" width="17.63" height="9.30" fill="#1c751c"/>
<rect x="143.23" y="840.45" width="17.63" height="9.30" fill="#046704"/>
<rect x="164.07" y="840.45" width="17.63" height="9.30" fill="#046704"/>
<rect x="184.90" y="840.45" width="17.63" height="9.30" fill="#808080"/>
<rect x="205.73" y="840.45" width="17.63" height="9.30" fill="#046704"/>
<rect x="226.57" y="840.45" width="17.63" height="9.30" fill="#046704"/>
<rect x="247.40" y="840.45" width="17.63" height="9.30" fill="#046704"/>
<rect x="268.23" y="840.45" width="17.63" height="9.30" fill="#046704"/>
<rect x="289.07" y="840.45" width="17.63" height="9.30" fill="#046704"/>
<rect x="309.90" y="840.45" width="17.63" height="9.30" fill="#d0e2d0"/>
<rect x="330.73" y="840.45" width="17.63" height="9.30" fill="#adcdad"/>
<rect x="351.57" y="840.45" width="17.63" height="9.30" fill="#adcdad"/>
<rect x="372.40" y="840.45" width="17.63" height="9.30" fill="#8bb88b"/>
<rect x="393.23" y="840.45" width="17.63" height="9.30" fill="#1c751c"/>
<rect x="414.07" y="840.45" width="17.63" height="9.30" fill="#116f11"/>
<rect x="434.90" y="840.45" width="17.63" height="9.30" fill="#046704"/>
<rect x="455.73" y="840.45" width="17.63" height="9.30" fill="#1c751c"/>
<rect x="476.57" y="840.45" width="17.63" height="9.30" fill="#808080"/>
<rect x="497.40" y="840.45" width="17.63" height="9.30" fill="#116f11"/>
<rect x="518.23" y="840.45" width="17.63" height="9.30" fill="#808080"/>
<rect x="539.07" y="840.45" width="17.63" height="9.30" fill="#116f11"/>
<rect x="559.90" y="840.45" width="17.63" height="9.30" fill="#808080"/>
<rect x="580.73" y="840.45" width="17.63" height="9.30" fill="#096909"/>
<rect x="601.57" y="840.45" width="17.63" height="9.30" fill="#808080"/>
<rect x="622.40" y="840.45" width="17.63" height="9.30" fill="#096909"/>
<rect x="643.23" y="840.45" width="17.63" height="9.30" fill="#808080"/>
<rect x="664.07" y="840.45" width="17.63" height="9.30" fill="#116f11"/>
<rect x="684.90" y="840.45" width="17.63" height="9.30" fill="#808080"/>
<rect x="705.73" y="840.45" width="17.63" height="9.30" fill="#116f11"/>
<rect x="726.57" y="840.45" width="17.63" height="9.30" fill="#808080"/>
<rect x="747.40" y="840.45" width="17.63" height="9.30" fill="#116f11"/>
<rect x="768.23" y="840.45" width="17.63" height="9.30" fill="#808080"/>
<rect x="789.07" y="840.45" width="17.63" height="9.30" fill="#116f11"/>
<rect x="59.90" y="852.95" width="17.63" height="9.30" fill="#458e45"/>
<rect x="80.73" y="852.95" width="17.63" height="9.30" fill="#0d6c0d"/>
<rect x="101.57" y="852.95" width="17.63" height="9.30" fill="#458e45"/>
<rect x="122.40" y="852.95" width="17.63" height="9.30" fill="#1c751c"/>
<rect x="143.23" y="852.95" width="17.63" height="9.30" fill="#046704"/>
<rect x="164.07" y="852.95" width="17.63" height="9.30" fill="#046704"/>
<rect x="184.90" y="852.95" width="17.63" height="9.30" fill="#046704"/>
<rect x="205.73" y="852.95" width="17.63" height="9.30" fill="#046704"/>
<rect x="226.57" y="852.95" width="17.63" height="9.30" fill="#046704"/>
<rect x="247.40" y="852.95" width="17.63" height="9.30" fill="#046704"/>
<rect x="268.23" y="852.95" width="17.63" height="9.30" fill="#808080"/>
<rect x="289.07" y="852.95" width="17.63" height="9.30" fill="#046704"/>
<rect x="309.90" y="852.95" width="17.63" height="9.30" fill="#d0e2d0"/>
<rect x="330.73" y="852.95" width="17.63" height="9.30" fill="#9cc39c"/>
<rect x="351.57" y="852.95" width="17.63" height="9.30" fill="#adcdad"/>
<rect x="372.40" y="852.95" width="17.63" height="9.30" fill="#79ae79"/>
<rect x="393.23" y="852.95" width="17.63" height="9.30" fill="#1c751c"/>
<rect x="414.07" y="852.95" width="17.63" height="9.30" fill="#116f11"/>
<rect x="434.90" y="852.95" width="17.63" height="9.30" fill="#046704"/>
<rect x="455.73" y="852.95" width="17.63" height="9.30" fill="#1c751c"/>
<rect x="476.57" y="852.95" width="17.63" height="9.30" fill="#116f11"/>
<rect x="497.40" y="852.95" width="17.63" height="9.30" fill="#116f11"/>
<rect x="518.23" y="852.95" width="17.63" height="9.30" fill="#046704"/>
<rect x="539.07" y="852.95" width="17.63" height="9.30" fill="#116f11"/>
<rect x="559.90" y="852.95" width="17.63" height="9.30" fill="#808080"/>
<rect x="580.73" y="852.95" width="17.63" height="9.30" fill="#096909"/>
<rect x="601.57" y="852.95" width="17.63" height="9.30" fill="#808080"/>
<rect x="622.40" y="852.95" width="17.63" height="9.30" fill="#096909"/>
<rect x="643.23" y="852.95" width="17.63" height="9.30" fill="#808080"/>
<rect x="664.07" y="852.95" width="17.63" height="9.30" fill="#116f11"/>
<rect x="684.90" y="852.95" width="17.63" height="9.30" fill="#808080"/>
<rect x="705.73" y="852.95" width="17.63" height="9.30" fill="#116f11"/>
<rect x="726.57" y="852.95" width="17.63" height="9.30" fill="#808080"/>
<rect x="747.40" y="852.95" width="17.63" height="9.30" fill="#116f11"/>
<rect x="768.23" y="852.95" width="17.63" height="9.30" fill="#808080"/>
<rect x="789.07" y="852.95" width="17.63" height="9.30" fill="#116f11"/>
<rect x="59.90" y="865.45" width="17.63" height="9.30" fill="#458e45"/>
<rect x="80.73" y="865.45" width="17.63" height="9.30" fill="#0d6c0d"/>
<rect x="101.57" y="865.45" width="17.63" height="9.30" fill="#458e45"/>
<rect x="122.40" y="865.45" width="17.63" height="9.30" fill="#1c751c"/>
<rect x="143.23" y="865.45" width="17.63" height="9.30" fill="#046704"/>
<rect x="164.07" y="865.45" width="17.63" height="9.30" fill="#046704"/>
<rect x="184.90" y="865.45" width="17.63" height="9.30" fill="#808080"/>
<rect x="205.73" y="865.45" width="17.63" height="9.30" fill="#046704"/>
<rect x="226.57" y="865.45" width="17.63" height="9.30" fill="#0b6b0b"/>
<rect x="247.40" y="865.45" width="17.63" height="9.30" fill="#046704"/>
<rect x="268.23" y="865.45" width="17.63" height="9.30" fill="#046704"/>
<rect x="289.07" y="865.45" width="17.63" height="9.30" fill="#046704"/>
<rect x="309.90" y="865.45" width="17.63" height="9.30" fill="#d0e2d0"/>
<rect x="330.73" y="865.45" width="17.63" height="9.30" fill="#adcdad"/>
<rect x="351.57" y="865.45" width="17.63" height="9.30" fill="#bfd8bf"/>
<rect x="372.40" y="865.45" width="17.63" height="9.30" fill="#8bb88b"/>
<rect x="393.23" y="865.45" width="17.63" height="9.30" fill="#046704"/>
<rect x="414.07" y="865.45" width="17.63" height="9.30" fill="#116f11"/>
<rect x="434.90" y="865.45" width="17.63" height="9.30" fill="#579957"/>
<rect x="455.73" y="865.45" width="17.63" height="9.30" fill="#1c751c"/>
<rect x="476.57" y="865.45" width="17.63" height="9.30" fill="#116f11"/>
<rect x="497.40" y="865.45" width="17.63" height="9.30" fill="#116f11"/>
<rect x="518.23" y="865.45" width="17.63" height="9.30" fill="#808080"/>
<rect x="539.07" y="865.45" width="17.63" height="9.30" fill="#116f11"/>
<rect x="559.90" y="865.45" width="17.63" height="9.30" fill="#808080"/>
<rect x="580.73" y="865.45" width="17.63" height="9.30" fill="#096909"/>
<rect x="601.57" y="865.45" width="17.63" height="9.30" fill="#808080"/>
<rect x="622.40" y="865.45" width="17.63" height="9.30" fill="#096909"/>
<rect x="643.23" y="865.45" width="17.63" height="9.30" fill="#046704"/>
<rect x="664.07" y="865.45" width="17.63" height="9.30" fill="#116f11"/>
<rect x="684.90" y="865.45" width="17.63" height="9.30" fill="#808080"/>
<rect x="705.73" y="865.45" width="17.63" height="9.30" fill="#116f11"/>
<rect x="726.57" y="865.45" width="17.63" height="9.30" fill="#808080"/>
<rect x="747.40" y="865.45" width="17.63" height="9.30" fill="#116f11"/>
<rect x="768.23" y="865.45" width="17.63" height="9.30" fill="#808080"/>
<rect x="789.07" y="865.45" width="17.63" height="9.30" fill="#116f11"/>
<rect x="59.90" y="877.95" width="17.63" height="9.30" fill="#308130"/>
<rect x="80.73" y="877.95" width="17.63" height="9.30" fill="#0d6c0d"/>
<rect x="101.57" y="877.95" width="17.63" height="9.30" fill="#458e45"/>
<rect x="122.40" y="877.95" width="17.63" height="9.30" fill="#1c751c"/>
<rect x="143.23" y="877.95" width="17.63" height="9.30" fill="#808080"/>
<rect x="164.07" y="877.95" width="17.63" height="9.30" fill="#046704"/>
<rect x="184.90" y="877.95" width="17.63" height="9.30" fill="#808080"/>
<rect x="205.73" y="877.95" width="17.63" height="9.30" fill="#046704"/>
<rect x="226.57" y="877.95" width="17.63" height="9.30" fill="#0b6b0b"/>
<rect x="247.40" y="877.95" width="17.63" height="9.30" fill="#046704"/>
<rect x="268.23" y="877.95" width="17.63" height="9.30" fill="#808080"/>
<rect x="289.07" y="877.95" width="17.63" height="9.30" fill="#046704"/>
<rect x="309.90" y="877.95" width="17.63" height="9.30" fill="#bfd8bf"/>
<rect x="330.73" y="877.95" width="17.63" height="9.30" fill="#bfd8bf"/>
<rect x="351.57" y="877.95" width="17.63" height="9.30" fill="#9cc39c"/>
<rect x="372.40" y="877.95" width="17.63" height="9.30" fill="#8bb88b"/>
<rect x="393.23" y="877.95" width="17.63" height="9.30" fill="#116f11"/>
<rect x="414.07" y="877.95" width="17.63" height="9.30" fill="#116f11"/>
<rect x="434.90" y="877.95" width="17.63" height="9.30" fill="#579957"/>
<rect x="455.73" y="877.95" width="17.63" height="9.30" fill="#1c751c"/>
<rect x="476.57" y="877.95" width="17.63" height="9.30" fill="#116f11"/>
<rect x="497.40" y="877.95" width="17.63" height="9.30" fill="#116f11"/>
<rect x="518.23" y="877.95" width="17.63" height="9.30" fill="#116f11"/>
<rect x="539.07" y="877.95" width="17.63" height="9.30" fill="#116f11"/>
<rect x="559.90" y="877.95" width="17.63" height="9.30" fill="#808080"/>
<rect x="580.73" y="877.95" width="17.63" height="9.30" fill="#096909"/>
<rect x="601.57" y="877.95" width="17.63" height="9.30" fill="#808080"/>
<rect x="622.40" y="877.95" width="17.63" height="9.30" fill="#096909"/>
<rect x="643.23" y="877.95" width="17.63" height="9.30" fill="#046704"/>
<rect x="664.07" y="877.95" width="17.63" height="9.30" fill="#116f11"/>
<rect x="684.90" y="877.95" width="17.63" height="9.30" fill="#808080"/>
<rect x="705.73" y="877.95" width="17.63" height="9.30" fill="#116f11"/>
<rect x="726.57" y="877.95" width="17.63" height="9.30" fill="#308130"/>
<rect x="747.40" y="877.95" width="17.63" height="9.30" fill="#116f11"/>
<rect x="768.23" y="877.95" width="17.63" height="9.30" fill="#808080"/>
<rect x="789.07" y="877.95" width="17.63" height="9.30" fill="#116f11"/>
<rect x="59.90" y="890.45" width="17.63" height="9.30" fill="#308130"/>
<rect x="80.73" y="890.45" width="17.63" height="9.30" fill="#046704"/>
<rect x="101.57" y="890.45" width="17.63" height="9.30" fill="#458e45"/>
<rect x="122.40" y="890.45" width="17.63" height="9.30" fill="#0d6c0d"/>
<rect x="143.23" y="890.45" width="17.63" height="9.30" fill="#046704"/>
<rect x="164.07" y="890.45" width="17.63" height="9.30" fill="#046704"/>
<rect x="184.90" y="890.45" width="17.63" height="9.30" fill="#046704"/>
<rect x="205.73" y="890.45" width="17.63" height="9.30" fill="#046704"/>
<rect x="226.57" y="890.45" width="17.63" height="9.30" fill="#0b6b0b"/>
<rect x="247.40" y="890.45" width="17.63" height="9.30" fill="#046704"/>
<rect x="268.23" y="890.45" width="17.63" height="9.30" fill="#0b6b0b"/>
<rect x="289.07" y="890.45" width="17.63" height="9.30" fill="#046704"/>
<rect x="309.90" y="890.45" width="17.63" height="9.30" fill="#edb1b1"/>
<rect x="330.73" y="890.45" width="17.63" height="9.30" fill="#adcdad"/>
<rect x="351.57" y="890.45" width="17.63" height="9.30" fill="#8bb88b"/>
<rect x="372.40" y="890.45" width="17.63" height="9.30" fill="#8bb88b"/>
<rect x="393.23" y="890.45" width="17.63" height="9.30" fill="#308130"/>
<rect x="414.07" y="890.45" width="17.63" height="9.30" fill="#116f11"/>
<rect x="434.90" y="890.45" width="17.63" height="9.30" fill="#458e45"/>
<rect x="455.73" y="890.45" width="17.63" height="9.30" fill="#1c751c"/>
<rect x="476.57" y="890.45" width="17.63" height="9.30" fill="#1c751c"/>
<rect x="497.40" y="890.45" width="17.63" height="9.30" fill="#116f11"/>
<rect x="518.23" y="890.45" width="17.63" height="9.30" fill="#458e45"/>
<rect x="539.07" y="890.45" width="17.63" height="9.30" fill="#116f11"/>
<rect x="559.90" y="890.45" width="17.63" height="9.30" fill="#808080"/>
<rect x="580.73" y="890.45" width="17.63" height="9.30" fill="#096909"/>
<rect x="601.57" y="890.45" width="17.63" height="9.30" fill="#808080"/>
<rect x="622.40" y="890.45" width="17.63" height="9.30" fill="#096909"/>
<rect x="643.23" y="890.45" width="17.63" height="9.30" fill="#1c751c"/>
<rect x="664.07" y="890.45" width="17.63" height="9.30" fill="#116f11"/>
<rect x="684.90" y="890.45" width="17.63" height="9.30" fill="#1c751c"/>
<rect x="705.73" y="890.45" width="17.63" height="9.30" fill="#116f11"/>
<rect x="726.57" y="890.45" width="17.63" height="9.30" fill="#1c751c"/>
<rect x="747.40" y="890.45" width="17.63" height="9.30" fill="#116f11"/>
<rect x="768.23" y="890.45" width="17.63" height="9.30" fill="#579957"/>
<rect x="789.07" y="890.45" width="17.63" height="9.30" fill="#116f11"/>
<rect x="59.90" y="902.95" width="17.63" height="9.30" fill="#1c751c"/>
<rect x="80.73" y="902.95" width="17.63" height="9.30" fill="#046704"/>
<rect x="101.57" y="902.95" width="17.63" height="9.30" fill="#308130"/>
<rect x="122.40" y="902.95" width="17.63" height="9.30" fill="#046704"/>
<rect x="143.23" y="902.95" width="17.63" height="9.30" fill="#046704"/>
<rect x="164.07" y="902.95" width="17.63" height="9.30" fill="#046704"/>
<rect x="184.90" y="902.95" width="17.63" height="9.30" fill="#046704"/>
<rect x="205.73" y="902.95" width="17.63" height="9.30" fill="#046704"/>
<rect x="226.57" y="902.95" width="17.63" height="9.30" fill="#0b6b0b"/>
<rect x="247.40" y="902.95" width="17.63" height="9.30" fill="#046704"/>
<rect x="268.23" y="902.95" width="17.63" height="9.30" fill="#0b6b0b"/>
<rect x="289.07" y="902.95" width="17.63" height="9.30" fill="#046704"/>
<rect x="309.90" y="902.95" width="17.63" height="9.30" fill="#bfd8bf"/>
<rect x="330.73" y="902.95" width="17.63" height="9.30" fill="#8bb88b"/>
<rect x="351.57" y="902.95" width="17.63" height="9.30" fill="#9cc39c"/>
<rect x="372.40" y="902.95" width="17.63" height="9.30" fill="#579957"/>
<rect x="393.23" y="902.95" width="17.63" height="9.30" fill="#1c751c"/>
<rect x="414.07" y="902.95" width="17.63" height="9.30" fill="#116f11"/>
<rect x="434.90" y="902.95" width="17.63" height="9.30" fill="#308130"/>
<rect x="455.73" y="902.95" width="17.63" height="9.30" fill="#1c751c"/>
<rect x="476.57" y="902.95" width="17.63" height="9.30" fill="#1c751c"/>
<rect x="497.40" y="902.95" width="17.63" height="9.30" fill="#116f11"/>
<rect x="518.23" y="902.95" width="17.63" height="9.30" fill="#579957"/>
<rect x="539.07" y="902.95" width="17.63" height="9.30" fill="#116f11"/>
<rect x="559.90" y="902.95" width="17.63" height="9.30" fill="#808080"/>
<rect x="580.73" y="902.95" width="17.63" height="9.30" fill="#096909"/>
<rect x="601.57" y="902.95" width="17.63" height="9.30" fill="#808080"/>
<rect x="622.40" y="902.95" width="17.63" height="9.30" fill="#096909"/>
<rect x="643.23" y="902.95" width="17.63" height="9.30" fill="#116f11"/>
<rect x="664.07" y="902.95" width="17.63" height="9.30" fill="#116f11"/>
<rect x="684.90" y="902.95" width="17.63" height="9.30" fill="#808080"/>
<rect x="705.73" y="902.95" width="17.63" height="9.30" fill="#116f11"/>
<rect x="726.57" y="902.95" width="17.63" height="9.30" fill="#808080"/>
<rect x="747.40" y="902.95" width="17.63" height="9.30" fill="#116f11"/>
<rect x="768.23" y="902.95" width="17.63" height="9.30" fill="#808080"/>
<rect x="789.07" y="902.95" width="17.63" height="9.30" fill="#116f11"/>
<rect x="59.90" y="915.45" width="17.63" height="9.30" fill="#1c751c"/>
<rect x="80.73" y="915.45" width="17.63" height="9.30" fill="#046704"/>
<rect x="101.57" y="915.45" width="17.63" height="9.30" fill="#308130"/>
<rect x="122.40" y="915.45" width="17.63" height="9.30" fill="#1c751c"/>
<rect x="143.23" y="915.45" width="17.63" height="9.30" fill="#046704"/>
<rect x="164.07" y="915.45" width="17.63" height="9.30" fill="#046704"/>
<rect x="184.90" y="915.45" width="17.63" height="9.30" fill="#0b6b0b"/>
<rect x="205.73" y="915.45" width="17.63" height="9.30" fill="#046704"/>
<rect x="226.57" y="915.45" width="17.63" height="9.30" fill="#046704"/>
<rect x="247.40" y="915.45" width="17.63" height="9.30" fill="#046704"/>
<rect x="268.23" y="915.45" width="17.63" height="9.30" fill="#0b6b0b"/>
<rect x="289.07" y="915.45" width="17.63" height="9.30" fill="#046704"/>
<rect x="309.90" y="915.45" width="17.63" height="9.30" fill="#d0e2d0"/>
<rect x="330.73" y="915.45" width="17.63" height="9.30" fill="#79ae79"/>
<rect x="351.57" y="915.45" width="17.63" height="9.30" fill="#9cc39c"/>
<rect x="372.40" y="915.45" width="17.63" height="9.30" fill="#68a368"/>
<rect x="393.23" y="915.45" width="17.63" height="9.30" fill="#1c751c"/>
<rect x="414.07" y="915.45" width="17.63" height="9.30" fill="#116f11"/>
<rect x="434.90" y="915.45" width="17.63" height="9.30" fill="#308130"/>
<rect x="455.73" y="915.45" width="17.63" height="9.30" fill="#1c751c"/>
<rect x="476.57" y="915.45" width="17.63" height="9.30" fill="#1c751c"/>
<rect x="497.40" y="915.45" width="17.63" height="9.30" fill="#116f11"/>
<rect x="518.23" y="915.45" width="17.63" height="9.30" fill="#808080"/>
<rect x="539.07" y="915.45" width="17.63" height="9.30" fill="#116f11"/>
<rect x="559.90" y="915.45" width="17.63" height="9.30" fill="#808080"/>
<rect x="580.73" y="915.45" width="17.63" height="9.30" fill="#096909"/>
<rect x="601.57" y="915.45" width="17.63" height="9.30" fill="#808080"/>
<rect x="622.40" y="915.45" width="17.63" height="9.30" fill="#096909"/>
<rect x="643.23" y="915.45" width="17.63" height="9.30" fill="#1c751c"/>
<rect x="664.07" y="915.45" width="17.63" height="9.30" fill="#116f11"/>
<rect x="684.90" y="915.45" width="17.63" height="9.30" fill="#808080"/>
<rect x="705.73" y="915.45" width="17.63" height="9.30" fill="#116f11"/>
<rect x="726.57" y="915.45" width="17.63" height="9.30" fill="#808080"/>
<rect x="747.40" y="915.45" width="17.63" height="9.30" fill="#116f11"/>
<rect x="768.23" y="915.45" width="17.63" height="9.30" fill="#808080"/>
<rect x="789.07" y="915.45" width="17.63" height="9.30" fill="#116f11"/>
<rect x="59.90" y="927.95" width="17.63" height="9.30" fill="#1c751c"/>
<rect x="80.73" y="927.95" width="17.63" height="9.30" fill="#046704"/>
<rect x="101.57" y="927.95" width="17.63" height="9.30" fill="#308130"/>
<rect x="122.40" y="927.95" width="17.63" height="9.30" fill="#0d6c0d"/>
<rect x="143.23" y="927.95" width="17.63" height="9.30" fill="#046704"/>
<rect x="164.07" y="927.95" width="17.63" height="9.30" fill="#046704"/>
<rect x="184.90" y="927.95" width="17.63" height="9.30" fill="#046704"/>
<rect x="205.73" y="927.95" width="17.63" height="9.30" fill="#046704"/>
<rect x="226.57" y="927.95" width="17.63" height="9.30" fill="#808080"/>
<rect x="247.40" y="927.95" width="17.63" height="9.30" fill="#046704"/>
<rect x="268.23" y="927.95" width="17.63" height="9.30" fill="#808080"/>
<rect x="289.07" y="927.95" width="17.63" height="9.30" fill="#046704"/>
<rect x="309.90" y="927.95" width="17.63" height="9.30" fill="#808080"/>
<rect x="330.73" y="927.95" width="17.63" height="9.30" fill="#808080"/>
<rect x="351.57" y="927.95" width="17.63" height="9.30" fill="#9cc39c"/>
<rect x="372.40" y="927.95" width="17.63" height="9.30" fill="#116f11"/>
<rect x="393.23" y="927.95" width="17.63" height="9.30" fill="#1c751c"/>
<rect x="414.07" y="927.95" width="17.63" height="9.30" fill="#116f11"/>
<rect x="434.90" y="927.95" width="17.63" height="9.30" fill="#308130"/>
<rect x="455.73" y="927.95" width="17.63" height="9.30" fill="#1c751c"/>
<rect x="476.57" y="927.95" width="17.63" height="9.30" fill="#808080"/>
<rect x="497.40" y="927.95" width="17.63" height="9.30" fill="#116f11"/>
<rect x="518.23" y="927.95" width="17.63" height="9.30" fill="#808080"/>
<rect x="539.07" y="927.95" width="17.63" height="9.30" fill="#116f11"/>
<rect x="559.90" y="927.95" width="17.63" height="9.30" fill="#808080"/>
<rect x="580.73" y="927.95" width="17.63" height="9.30" fill="#096909"/>
<rect x="601.57" y="927.95" width="17.63" height="9.30" fill="#808080"/>
<rect x="622.40" y="927.95" width="17.63" height="9.30" fill="#096909"/>
<rect x="643.23" y="927.95" width="17.63" height="9.30" fill="#808080"/>
<rect x="664.07" y="927.95" width="17.63" height="9.30" fill="#116f11"/>
<rect x="684.90" y="927.95" width="17.63" height="9.30" fill="#808080"/>
<rect x="705.73" y="927.95" width="17.63" height="9.30" fill="#116f11"/>
<rect x="726.57" y="927.95" width="17.63" height="9.30" fill="#808080"/>
<rect x="747.40" y="927.95" width="17.63" height="9.30" fill="#116f11"/>
<rect x="768.23" y="927.95" width="17.63" height="9.30" fill="#808080"/>
<rect x="789.07" y="927.95" width="17.63" height="9.30" fill="#116f11"/>
<rect x="59.90" y="940.45" width="17.63" height="9.30" fill="#1c751c"/>
<rect x="80.73" y="940.45" width="17.63" height="9.30" fill="#046704"/>
<rect x="101.57" y="940.45" width="17.63" height="9.30" fill="#308130"/>
<rect x="122.40" y="940.45" width="17.63" height="9.30" fill="#0d6c0d"/>
<rect x="143.23" y="940.45" width="17.63" height="9.30" fill="#808080"/>
<rect x="164.07" y="940.45" width="17.63" height="9.30" fill="#046704"/>
<rect x="184.90" y="940.45" width="17.63" height="9.30" fill="#046704"/>
<rect x="205.73" y="940.45" width="17.63" height="9.30" fill="#046704"/>
<rect x="226.57" y="940.45" width="17.63" height="9.30" fill="#808080"/>
<rect x="247.40" y="940.45" width="17.63" height="9.30" fill="#046704"/>
<rect x="268.23" y="940.45" width="17.63" height="9.30" fill="#808080"/>
<rect x="289.07" y="940.45" width="17.63" height="9.30" fill="#046704"/>
<rect x="309.90" y="940.45" width="17.63" height="9.30" fill="#808080"/>
<rect x="330.73" y="940.45" width="17.63" height="9.30" fill="#808080"/>
<rect x="351.57" y="940.45" width="17.63" height="9.30" fill="#9cc39c"/>
<rect x="372.40" y="940.45" width="17.63" height="9.30" fill="#1c751c"/>
<rect x="393.23" y="940.45" width="17.63" height="9.30" fill="#1c751c"/>
<rect x="414.07" y="940.45" width="17.63" height="9.30" fill="#116f11"/>
<rect x="434.90" y="940.45" width="17.63" height="9.30" fill="#458e45"/>
<rect x="455.73" y="940.45" width="17.63" height="9.30" fill="#1c751c"/>
<rect x="476.57" y="940.45" width="17.63" height="9.30" fill="#808080"/>
<rect x="497.40" y="940.45" width="17.63" height="9.30" fill="#116f11"/>
<rect x="518.23" y="940.45" width="17.63" height="9.30" fill="#808080"/>
<rect x="539.07" y="940.45" width="17.63" height="9.30" fill="#116f11"/>
<rect x="559.90" y="940.45" width="17.63" height="9.30" fill="#808080"/>
<rect x="580.73" y="940.45" width="17.63" height="9.30" fill="#096909"/>
<rect x="601.57" y="940.45" width="17.63" height="9.30" fill="#808080"/>
<rect x="622.40" y="940.45" width="17.63" height="9.30" fill="#096909"/>
<rect x="643.23" y="940.45" width="17.63" height="9.30" fill="#808080"/>
<rect x="664.07" y="940.45" width="17.63" height="9.30" fill="#116f11"/>
<rect x="684.90" y="940.45" width="17.63" height="9.30" fill="#808080"/>
<rect x="705.73" y="940.45" width="17.63" height="9.30" fill="#116f11"/>
<rect x="726.57" y="940.45" width="17.63" height="9.30" fill="#046704"/>
<rect x="747.40" y="940.45" width="17.63" height="9.30" fill="#116f11"/>
<rect x="768.23" y="940.45" width="17.63" height="9.30" fill="#808080"/>
<rect x="789.07" y="940.45" width="17.63" height="9.30" fill="#116f11"/>
<rect x="59.90" y="952.95" width="17.63" height="9.30" fill="#1c751c"/>
<rect x="80.73" y="952.95" width="17.63" height="9.30" fill="#046704"/>
<rect x="101.57" y="952.95" width="17.63" height="9.30" fill="#308130"/>
<rect x="122.40" y="952.95" width="17.63" height="9.30" fill="#0d6c0d"/>
<rect x="143.23" y="952.95" width="17.63" height="9.30" fill="#808080"/>
<rect x="164.07" y="952.95" width="17.63" height="9.30" fill="#046704"/>
<rect x="184.90" y="952.95" width="17.63" height="9.30" fill="#046704"/>
<rect x="205.73" y="952.95" width="17.63" height="9.30" fill="#046704"/>
<rect x="226.57" y="952.95" width="17.63" height="9.30" fill="#808080"/>
<rect x="247.40" y="952.95" width="17.63" height="9.30" fill="#046704"/>
<rect x="268.23" y="952.95" width="17.63" height="9.30" fill="#808080"/>
<rect x="289.07" y="952.95" width="17.63" height="9.30" fill="#046704"/>
<rect x="309.90" y="952.95" width="17.63" height="9.30" fill="#808080"/>
<rect x="330.73" y="952.95" width="17.63" height="9.30" fill="#808080"/>
<rect x="351.57" y="952.95" width="17.63" height="9.30" fill="#9cc39c"/>
<rect x="372.40" y="952.95" width="17.63" height="9.30" fill="#116f11"/>
<rect x="393.23" y="952.95" width="17.63" height="9.30" fill="#1c751c"/>
<rect x="414.07" y="952.95" width="17.63" height="9.30" fill="#116f11"/>
<rect x="434.90" y="952.95" width="17.63" height="9.30" fill="#458e45"/>
<rect x="455.73" y="952.95" width="17.63" height="9.30" fill="#1c751c"/>
<rect x="476.57" y="952.95" width="17.63" height="9.30" fill="#808080"/>
<rect x="497.40" y="952.95" width="17.63" height="9.30" fill="#116f11"/>
<rect x="518.23" y="952.95" width="17.63" height="9.30" fill="#808080"/>
<rect x="539.07" y="952.95" width="17.63" height="9.30" fill="#116f11"/>
<rect x="559.90" y="952.95" width="17.63" height="9.30" fill="#808080"/>
<rect x="580.73" y="952.95" width="17.63" height="9.30" fill="#096909"/>
<rect x="601.57" y="952.95" width="17.63" height="9.30" fill="#808080"/>
<rect x="622.40" y="952.95" width="17.63" height="9.30" fill="#096909"/>
<rect x="643.23" y="952.95" width="17.63" height="9.30" fill="#808080"/>
<rect x="664.07" y="952.95" width="17.63" height="9.30" fill="#116f11"/>
<rect x="684.90" y="952.95" width="17.63" height="9.30" fill="#808080"/>
<rect x="705.73" y="952.95" width="17.63" height="9.30" fill="#116f11"/>
<rect x="726.57" y="952.95" width="17.63" height="9.30" fill="#046704"/>
<rect x="747.40" y="952.95" width="17.63" height="9.30" fill="#116f11"/>
<rect x="768.23" y="952.95" width="17.63" height="9.30" fill="#808080"/>
<rect x="789.07" y="952.95" width="17.63" height="9.30" fill="#116f11"/>
<rect x="59.90" y="965.45" width="17.63" height="9.30" fill="#0d6c0d"/>
<rect x="80.73" y="965.45" width="17.63" height="9.30" fill="#046704"/>
<rect x="101.57" y="965.45" width="17.63" height="9.30" fill="#308130"/>
<rect x="122.40" y="965.45" width="17.63" height="9.30" fill="#0d6c0d"/>
<rect x="143.23" y="965.45" width="17.63" height="9.30" fill="#046704"/>
<rect x="164.07" y="965.45" width="17.63" height="9.30" fill="#046704"/>
<rect x="184.90" y="965.45" width="17.63" height="9.30" fill="#046704"/>
<rect x="205.73" y="965.45" width="17.63" height="9.30" fill="#046704"/>
<rect x="226.57" y="965.45" width="17.63" height="9.30" fill="#046704"/>
<rect x="247.40" y="965.45" width="17.63" height="9.30" fill="#046704"/>
<rect x="268.23" y="965.45" width="17.63" height="9.30" fill="#046704"/>
<rect x="289.07" y="965.45" width="17.63" height="9.30" fill="#046704"/>
<rect x="309.90" y="965.45" width="17.63" height="9.30" fill="#808080"/>
<rect x="330.73" y="965.45" width="17.63" height="9.30" fill="#808080"/>
<rect x="351.57" y="965.45" width="17.63" height="9.30" fill="#8bb88b"/>
<rect x="372.40" y="965.45" width="17.63" height="9.30" fill="#046704"/>
<rect x="393.23" y="965.45" width="17.63" height="9.30" fill="#1c751c"/>
<rect x="414.07" y="965.45" width="17.63" height="9.30" fill="#116f11"/>
<rect x="434.90" y="965.45" width="17.63" height="9.30" fill="#308130"/>
<rect x="455.73" y="965.45" width="17.63" height="9.30" fill="#1c751c"/>
<rect x="476.57" y="965.45" width="17.63" height="9.30" fill="#808080"/>
<rect x="497.40" y="965.45" width="17.63" height="9.30" fill="#116f11"/>
<rect x="518.23" y="965.45" width="17.63" height="9.30" fill="#808080"/>
<rect x="539.07" y="965.45" width="17.63" height="9.30" fill="#116f11"/>
<rect x="559.90" y="965.45" width="17.63" height="9.30" fill="#808080"/>
<rect x="580.73" y="965.45" width="17.63" height="9.30" fill="#096909"/>
<rect x="601.57" y="965.45" width="17.63" height="9.30" fill="#808080"/>
<rect x="622.40" y="965.45" width="17.63" height="9.30" fill="#096909"/>
<rect x="643.23" y="965.45" width="17.63" height="9.30" fill="#116f11"/>
<rect x="664.07" y="965.45" width="17.63" height="9.30" fill="#116f11"/>
<rect x="684.90" y="965.45" width="17.63" height="9.30" fill="#808080"/>
<rect x="705.73" y="965.45" width="17.63" height="9.30" fill="#116f11"/>
<rect x="726.57" y="965.45" width="17.63" height="9.30" fill="#808080"/>
<rect x="747.40" y="965.45" width="17.63" height="9.30" fill="#116f11"/>
<rect x="768.23" y="965.45" width="17.63" height="9.30" fill="#808080"/>
<rect x="789.07" y="965.45" width="17.63" height="9.30" fill="#116f11"/>
<rect x="59.90" y="977.95" width="17.63" height="9.30" fill="#0d6c0d"/>
<rect x="80.73" y="977.95" width="17.63" height="9.30" fill="#046704"/>
<rect x="101.57" y="977.95" width="17.63" height="9.30" fill="#308130"/>
<rect x="122.40" y="977.95" width="17.63" height="9.30" fill="#0d6c0d"/>
<rect x="143.23" y="977.95" width="17.63" height="9.30" fill="#046704"/>
<rect x="164.07" y="977.95" width="17.63" height="9.30" fill="#046704"/>
<rect x="184.90" y="977.95" width="17.63" height="9.30" fill="#046704"/>
<rect x="205.73" y="977.95" width="17.63" height="9.30" fill="#046704"/>
<rect x="226.57" y="977.95" width="17.63" height="9.30" fill="#0b6b0b"/>
<rect x="247.40" y="977.95" width="17.63" height="9.30" fill="#046704"/>
<rect x="268.23" y="977.95" width="17.63" height="9.30" fill="#046704"/>
<rect x="289.07" y="977.95" width="17.63" height="9.30" fill="#046704"/>
<rect x="309.90" y="977.95" width="17.63" height="9.30" fill="#808080"/>
<rect x="330.73" y="977.95" width="17.63" height="9.30" fill="#808080"/>
<rect x="351.57" y="977.95" width="17.63" height="9.30" fill="#9cc39c"/>
<rect x="372.40" y="977.95" width="17.63" height="9.30" fill="#046704"/>
<rect x="393.23" y="977.95" width="17.63" height="9.30" fill="#1c751c"/>
<rect x="414.07" y="977.95" width="17.63" height="9.30" fill="#116f11"/>
<rect x="434.90" y="977.95" width="17.63" height="9.30" fill="#308130"/>
<rect x="455.73" y="977.95" width="17.63" height="9.30" fill="#1c751c"/>
<rect x="476.57" y="977.95" width="17.63" height="9.30" fill="#808080"/>
<rect x="497.40" y="977.95" width="17.63" height="9.30" fill="#116f11"/>
<rect x="518.23" y="977.95" width="17.63" height="9.30" fill="#808080"/>
<rect x="539.07" y="977.95" width="17.63" height="9.30" fill="#116f11"/>
<rect x="559.90" y="977.95" width="17.63" height="9.30" fill="#808080"/>
<rect x="580.73" y="977.95" width="17.63" height="9.30" fill="#096909"/>
<rect x="601.57" y="977.95" width="17.63" height="9.30" fill="#808080"/>
<rect x="622.40" y="977.95" width="17.63" height="9.30" fill="#096909"/>
<rect x="643.23" y="977.95" width="17.63" height="9.30" fill="#116f11"/>
<rect x="664.07" y="977.95" width="17.63" height="9.30" fill="#116f11"/>
<rect x="684.90" y="977.95" width="17.63" height="9.30" fill="#808080"/>
<rect x="705.73" y="977.95" width="17.63" height="9.30" fill="#116f11"/>
<rect x="726.57" y="977.95" width="17.63" height="9.30" fill="#808080"/>
<rect x="747.40" y="977.95" width="17.63" height="9.30" fill="#116f11"/>
<rect x="768.23" y="977.95" width="17.63" height="9.30" fill="#808080"/>
<rect x="789.07" y="977.95" width="17.63" height="9.30" fill="#116f11"/>
<rect x="59.90" y="990.45" width="17.63" height="9.30" fill="#0d6c0d"/>
<rect x="80.73" y="990.45" width="17.63" height="9.30" fill="#046704"/>
<rect x="101.57" y="990.45" width="17.63" height="9.30" fill="#308130"/>
<rect x="122.40" y="990.45" width="17.63" height="9.30" fill="#0d6c0d"/>
<rect x="143.23" y="990.45" width="17.63" height="9.30" fill="#046704"/>
<rect x="164.07" y="990.45" width="17.63" height="9.30" fill="#046704"/>
<rect x="184.90" y="990.45" width="17.63" height="9.30" fill="#046704"/>
<rect x="205.73" y="990.45" width="17.63" height="9.30" fill="#046704"/>
<rect x="226.57" y="990.45" width="17.63" height="9.30" fill="#046704"/>
<rect x="247.40" y="990.45" width="17.63" height="9.30" fill="#046704"/>
<rect x="268.23" y="990.45" width="17.63" height="9.30" fill="#046704"/>
<rect x="289.07" y="990.45" width="17.63" height="9.30" fill="#046704"/>
<rect x="309.90" y="990.45" width="17.63" height="9.30" fill="#808080"/>
<rect x="330.73" y="990.45" width="17.63" height="9.30" fill="#808080"/>
<rect x="351.57" y="990.45" width="17.63" height="9.30" fill="#9cc39c"/>
<rect x="372.40" y="990.45" width="17.63" height="9.30" fill="#046704"/>
<rect x="393.23" y="990.45" width="17.63" height="9.30" fill="#1c751c"/>
<rect x="414.07" y="990.45" width="17.63" height="9.30" fill="#116f11"/>
<rect x="434.90" y="990.45" width="17.63" height="9.30" fill="#308130"/>
<rect x="455.73" y="990.45" width="17.63" height="9.30" fill="#1c751c"/>
<rect x="476.57" y="990.45" width="17.63" height="9.30" fill="#808080"/>
<rect x="497.40" y="990.45" width="17.63" height="9.30" fill="#116f11"/>
<rect x="518.23" y="990.45" width="17.63" height="9.30" fill="#808080"/>
<rect x="539.07" y="990.45" width="17.63" height="9.30" fill="#116f11"/>
<rect x="559.90" y="990.45" width="17.63" height="9.30" fill="#808080"/>
<rect x="580.73" y="990.45" width="17.63" height="9.30" fill="#096909"/>
<rect x="601.57" y="990.45" width="17.63" height="9.30" fill="#808080"/>
<rect x="622.40" y="990.45" width="17.63" height="9.30" fill="#096909"/>
<rect x="643.23" y="990.45" width="17.63" height="9.30" fill="#116f11"/>
<rect x="664.07" y="990.45" width="17.63" height="9.30" fill="#116f11"/>
<rect x="684.90" y="990.45" width="17.63" height="9.30" fill="#808080"/>
<rect x="705.73" y="990.45" width="17.63" height="9.30" fill="#116f11"/>
<rect x="726.57" y="990.45" width="17.63" height="9.30" fill="#046704"/>
<rect x="747.40" y="990.45" width="17.63" height="9.30" fill="#116f11"/>
<rect x="768.23" y="990.45" width="17.63" height="9.30" fill="#808080"/>
<rect x="789.07" y="990.45" width="17.63" height="9.30" fill="#116f11"/>
<rect x="59.90" y="1002.95" width="17.63" height="9.30" fill="#0d6c0d"/>
<rect x="80.73" y="1002.95" width="17.63" height="9.30" fill="#046704"/>
<rect x="101.57" y="1002.95" width="17.63" height="9.30" fill="#1c751c"/>
<rect x="122.40" y="1002.95" width="17.63" height="9.30" fill="#0d6c0d"/>
<rect x="143.23" y="1002.95" width="17.63" height="9.30" fill="#046704"/>
<rect x="164.07" y="1002.95" width="17.63" height="9.30" fill="#046704"/>
<rect x="184.90" y="1002.95" width="17.63" height="9.30" fill="#046704"/>
<rect x="205.73" y="1002.95" width="17.63" height="9.30" fill="#046704"/>
<rect x="226.57" y="1002.95" width="17.63" height="9.30" fill="#046704"/>
<rect x="247.40" y="1002.95" width="17.63" height="9.30" fill="#046704"/>
<rect x="268.23" y="1002.95" width="17.63" height="9.30" fill="#046704"/>
<rect x="289.07" y="1002.95" width="17.63" height="9.30" fill="#046704"/>
<rect x="309.90" y="1002.95" width="17.63" height="9.30" fill="#808080"/>
<rect x="330.73" y="1002.95" width="17.63" height="9.30" fill="#808080"/>
<rect x="351.57" y="1002.95" width="17.63" height="9.30" fill="#9cc39c"/>
<rect x="372.40" y="1002.95" width="17.63" height="9.30" fill="#1c751c"/>
<rect x="393.23" y="1002.95" width="17.63" height="9.30" fill="#1c751c"/>
<rect x="414.07" y="1002.95" width="17.63" height="9.30" fill="#116f11"/>
<rect x="434.90" y="1002.95" width="17.63" height="9.30" fill="#308130"/>
<rect x="455.73" y="1002.95" width="17.63" height="9.30" fill="#1c751c"/>
<rect x="476.57" y="1002.95" width="17.63" height="9.30" fill="#808080"/>
<rect x="497.40" y="1002.95" width="17.63" height="9.30" fill="#116f11"/>
<rect x="518.23" y="1002.95" width="17.63" height="9.30" fill="#808080"/>
<rect x="539.07" y="1002.95" width="17.63" height="9.30" fill="#116f11"/>
<rect x="559.90" y="1002.95" width="17.63" height="9.30" fill="#808080"/>
<rect x="580.73" y="1002.95" width="17.63" height="9.30" fill="#096909"/>
<rect x="601.57" y="1002.95" width="17.63" height="9.30" fill="#808080"/>
<rect x="622.40" y="1002.95" width="17.63" height="9.30" fill="#096909"/>
<rect x="643.23" y="1002.95" width="17.63" height="9.30" fill="#116f11"/>
<rect x="664.07" y="1002.95" width="17.63" height="9.30" fill="#116f11"/>
<rect x="684.90" y="1002.95" width="17.63" height="9.30" fill="#808080"/>
<rect x="705.73" y="1002.95" width="17.63" height="9.30" fill="#116f11"/>
<rect x="726.57" y="1002.95" width="17.63" height="9.30" fill="#808080"/>
<rect x="747.40" y="1002.95" width="17.63" height="9.30" fill="#116f11"/>
<rect x="768.23" y="1002.95" width="17.63" height="9.30" fill="#808080"/>
<rect x="789.07" y="1002.95" width="17.63" height="9.30" fill="#116f11"/>
<rect x="59.90" y="1015.45" width="17.63" height="9.30" fill="#0d6c0d"/>
<rect x="80.73" y="1015.45" width="17.63" height="9.30" fill="#046704"/>
<rect x="101.57" y="1015.45" width="17.63" height="9.30" fill="#1c751c"/>
<rect x="122.40" y="1015.45" width="17.63" height="9.30" fill="#0d6c0d"/>
<rect x="143.23" y="1015.45" width="17.63" height="9.30" fill="#046704"/>
<rect x="164.07" y="1015.45" width="17.63" height="9.30" fill="#046704"/>
<rect x="184.90" y="1015.45" width="17.63" height="9.30" fill="#046704"/>
<rect x="205.73" y="1015.45" width="17.63" height="9.30" fill="#046704"/>
<rect x="226.57" y="1015.45" width="17.63" height="9.30" fill="#046704"/>
<rect x="247.40" y="1015.45" width="17.63" height="9.30" fill="#046704"/>
<rect x="268.23" y="1015.45" width="17.63" height="9.30" fill="#046704"/>
<rect x="289.07" y="1015.45" width="17.63" height="9.30" fill="#046704"/>
<rect x="309.90" y="1015.45" width="17.63" height="9.30" fill="#808080"/>
<rect x="330.73" y="1015.45" width="17.63" height="9.30" fill="#808080"/>
<rect x="351.57" y="1015.45" width="17.63" height="9.30" fill="#9cc39c"/>
<rect x="372.40" y="1015.45" width="17.63" height="9.30" fill="#046704"/>
<rect x="393.23" y="1015.45" width="17.63" height="9.30" fill="#1c751c"/>
<rect x="414.07" y="1015.45" width="17.63" height="9.30" fill="#116f11"/>
<rect x="434.90" y="1015.45" width="17.63" height="9.30" fill="#308130"/>
<rect x="455.73" y="1015.45" width="17.63" height="9.30" fill="#1c751c"/>
<rect x="476.57" y="1015.45" width="17.63" height="9.30" fill="#808080"/>
<rect x="497.40" y="1015.45" width="17.63" height="9.30" fill="#116f11"/>
<rect x="518.23" y="1015.45" width="17.63" height="9.30" fill="#808080"/>
<rect x="539.07" y="1015.45" width="17.63" height="9.30" fill="#116f11"/>
<rect x="559.90" y="1015.45" width="17.63" height="9.30" fill="#808080"/>
<rect x="580.73" y="1015.45" width="17.63" height="9.30" fill="#096909"/>
<rect x="601.57" y="1015.45" width="17.63" height="9.30" fill="#808080"/>
<rect x="622.40" y="1015.45" width="17.63" height="9.30" fill="#096909"/>
<rect x="643.23" y="1015.45" width="17.63" height="9.30" fill="#808080"/>
<rect x="664.07" y="1015.45" width="17.63" height="9.30" fill="#116f11"/>
<rect x="684.90" y="1015.45" width="17.63" height="9.30" fill="#808080"/>
<rect x="705.73" y="1015.45" width="17.63" height="9.30" fill="#116f11"/>
<rect x="726.57" y="1015.45" width="17.63" height="9.30" fill="#808080"/>
<rect x="747.40" y="1015.45" width="17.63" height="9.30" fill="#116f11"/>
<rect x="768.23" y="1015.45" width="17.63" height="9.30" fill="#808080"/>
<rect x="789.07" y="1015.45" width="17.63" height="9.30" fill="#116f11"/>
<rect x="59.90" y="1027.95" width="17.63" height="9.30" fill="#0d6c0d"/>
<rect x="80.73" y="1027.95" width="17.63" height="9.30" fill="#046704"/>
<rect x="101.57" y="1027.95" width="17.63" height="9.30" fill="#1c751c"/>
<rect x="122.40" y="1027.95" width="17.63" height="9.30" fill="#0d6c0d"/>
<rect x="143.23" y="1027.95" width="17.63" height="9.30" fill="#046704"/>
<rect x="164.07" y="1027.95" width="17.63" height="9.30" fill="#046704"/>
<rect x="184.90" y="1027.95" width="17.63" height="9.30" fill="#046704"/>
<rect x="205.73" y="1027.95" width="17.63" height="9.30" fill="#046704"/>
<rect x="226.57" y="1027.95" width="17.63" height="9.30" fill="#046704"/>
<rect x="247.40" y="1027.95" width="17.63" height="9.30" fill="#046704"/>
<rect x="268.23" y="1027.95" width="17.63" height="9.30" fill="#046704"/>
<rect x="289.07" y="1027.95" width="17.63" height="9.30" fill="#046704"/>
<rect x="309.90" y="1027.95" width="17.63" height="9.30" fill="#808080"/>
<rect x="330.73" y="1027.95" width="17.63" height="9.30" fill="#808080"/>
<rect x="351.57" y="1027.95" width="17.63" height="9.30" fill="#9cc39c"/>
<rect x="372.40" y="1027.95" width="17.63" height="9.30" fill="#116f11"/>
<rect x="393.23" y="1027.95" width="17.63" height="9.30" fill="#1c751c"/>
<rect x="414.07" y="1027.95" width="17.63" height="9.30" fill="#116f11"/>
<rect x="434.90" y="1027.95" width="17.63" height="9.30" fill="#308130"/>
<rect x="455.73" y="1027.95" width="17.63" height="9.30" fill="#1c751c"/>
<rect x="476.57" y="1027.95" width="17.63" height="9.30" fill="#808080"/>
<rect x="497.40" y="1027.95" width="17.63" height="9.30" fill="#116f11"/>
<rect x="518.23" y="1027.95" width="17.63" height="9.30" fill="#808080"/>
<rect x="539.07" y="1027.95" width="17.63" height="9.30" fill="#116f11"/>
<rect x="559.90" y="1027.95" width="17.63" height="9.30" fill="#808080"/>
<rect x="580.73" y="1027.95" width="17.63" height="9.30" fill="#096909"/>
<rect x="601.57" y="1027.95" width="17.63" height="9.30" fill="#808080"/>
<rect x="622.40" y="1027.95" width="17.63" height="9.30" fill="#096909"/>
<rect x="643.23" y="1027.95" width="17.63" height="9.30" fill="#808080"/>
<rect x="664.07" y="1027.95" width="17.63" height="9.30" fill="#116f11"/>
<rect x="684.90" y="1027.95" width="17.63" height="9.30" fill="#808080"/>
<rect x="705.73" y="1027.95" width="17.63" height="9.30" fill="#116f11"/>
<rect x="726.57" y="1027.95" width="17.63" height="9.30" fill="#808080"/>
<rect x="747.40" y="1027.95" width="17.63" height="9.30" fill="#116f11"/>
<rect x="768.23" y="1027.95" width="17.63" height="9.30" fill="#808080"/>
<rect x="789.07" y="1027.95" width="17.63" height="9.30" fill="#116f11"/>
<rect x="59.90" y="1040.45" width="17.63" height="9.30" fill="#0d6c0d"/>
<rect x="80.73" y="1040.45" width="17.63" height="9.30" fill="#0d6c0d"/>
<rect x="101.57" y="1040.45" width="17.63" height="9.30" fill="#458e45"/>
<rect x="122.40" y="1040.45" width="17.63" height="9.30" fill="#1c751c"/>
<rect x="143.23" y="1040.45" width="17.63" height="9.30" fill="#046704"/>
<rect x="164.07" y="1040.45" width="17.63" height="9.30" fill="#046704"/>
<rect x="184.90" y="1040.45" width="17.63" height="9.30" fill="#046704"/>
<rect x="205.73" y="1040.45" width="17.63" height="9.30" fill="#046704"/>
<rect x="226.57" y="1040.45" width="17.63" height="9.30" fill="#046704"/>
<rect x="247.40" y="1040.45" width="17.63" height="9.30" fill="#046704"/>
<rect x="268.23" y="1040.45" width="17.63" height="9.30" fill="#046704"/>
<rect x="289.07" y="1040.45" width="17.63" height="9.30" fill="#046704"/>
<rect x="309.90" y="1040.45" width="17.63" height="9.30" fill="#808080"/>
<rect x="330.73" y="1040.45" width="17.63" height="9.30" fill="#808080"/>
<rect x="351.57" y="1040.45" width="17.63" height="9.30" fill="#8bb88b"/>
<rect x="372.40" y="1040.45" width="17.63" height="9.30" fill="#116f11"/>
<rect x="393.23" y="1040.45" width="17.63" height="9.30" fill="#1c751c"/>
<rect x="414.07" y="1040.45" width="17.63" height="9.30" fill="#116f11"/>
<rect x="434.90" y="1040.45" width="17.63" height="9.30" fill="#308130"/>
<rect x="455.73" y="1040.45" width="17.63" height="9.30" fill="#1c751c"/>
<rect x="476.57" y="1040.45" width="17.63" height="9.30" fill="#808080"/>
<rect x="497.40" y="1040.45" width="17.63" height="9.30" fill="#116f11"/>
<rect x="518.23" y="1040.45" width="17.63" height="9.30" fill="#808080"/>
<rect x="539.07" y="1040.45" width="17.63" height="9.30" fill="#116f11"/>
<rect x="559.90" y="1040.45" width="17.63" height="9.30" fill="#808080"/>
<rect x="580.73" y="1040.45" width="17.63" height="9.30" fill="#096909"/>
<rect x="601.57" y="1040.45" width="17.63" height="9.30" fill="#808080"/>
<rect x="622.40" y="1040.45" width="17.63" height="9.30" fill="#096909"/>
<rect x="643.23" y="1040.45" width="17.63" height="9.30" fill="#808080"/>
<rect x="664.07" y="1040.45" width="17.63" height="9.30" fill="#116f11"/>
<rect x="684.90" y="1040.45" width="17.63" height="9.30" fill="#808080"/>
<rect x="705.73" y="1040.45" width="17.63" height="9.30" fill="#116f11"/>
<rect x="726.57" y="1040.45" width="17.63" height="9.30" fill="#808080"/>
<rect x="747.40" y="1040.45" width="17.63" height="9.30" fill="#116f11"/>
<rect x="768.23" y="1040.45" width="17.63" height="9.30" fill="#808080"/>
<rect x="789.07" y="1040.45" width="17.63" height="9.30" fill="#116f11"/>
<rect x="59.90" y="1052.95" width="17.63" height="9.30" fill="#1c751c"/>
<rect x="80.73" y="1052.95" width="17.63" height="9.30" fill="#046704"/>
<rect x="101.57" y="1052.95" width="17.63" height="9.30" fill="#458e45"/>
<rect x="122.40" y="1052.95" width="17.63" height="9.30" fill="#1c751c"/>
<rect x="143.23" y="1052.95" width="17.63" height="9.30" fill="#808080"/>
<rect x="164.07" y="1052.95" width="17.63" height="9.30" fill="#046704"/>
<rect x="184.90" y="1052.95" width="17.63" height="9.30" fill="#808080"/>
<rect x="205.73" y="1052.95" width="17.63" height="9.30" fill="#046704"/>
<rect x="226.57" y="1052.95" width="17.63" height="9.30" fill="#808080"/>
<rect x="247.40" y="1052.95" width="17.63" height="9.30" fill="#046704"/>
<rect x="268.23" y="1052.95" width="17.63" height="9.30" fill="#808080"/>
<rect x="289.07" y="1052.95" width="17.63" height="9.30" fill="#046704"/>
<rect x="309.90" y="1052.95" width="17.63" height="9.30" fill="#bfd8bf"/>
<rect x="330.73" y="1052.95" width="17.63" height="9.30" fill="#8bb88b"/>
<rect x="351.57" y="1052.95" width="17.63" height="9.30" fill="#9cc39c"/>
<rect x="372.40" y="1052.95" width="17.63" height="9.30" fill="#458e45"/>
<rect x="393.23" y="1052.95" width="17.63" height="9.30" fill="#1c751c"/>
<rect x="414.07" y="1052.95" width="17.63" height="9.30" fill="#116f11"/>
<rect x="434.90" y="1052.95" width="17.63" height="9.30" fill="#308130"/>
<rect x="455.73" y="1052.95" width="17.63" height="9.30" fill="#1c751c"/>
<rect x="476.57" y="1052.95" width="17.63" height="9.30" fill="#808080"/>
<rect x="497.40" y="1052.95" width="17.63" height="9.30" fill="#116f11"/>
<rect x="518.23" y="1052.95" width="17.63" height="9.30" fill="#808080"/>
<rect x="539.07" y="1052.95" width="17.63" height="9.30" fill="#116f11"/>
<rect x="559.90" y="1052.95" width="17.63" height="9.30" fill="#808080"/>
<rect x="580.73" y="1052.95" width="17.63" height="9.30" fill="#096909"/>
<rect x="601.57" y="1052.95" width="17.63" height="9.30" fill="#808080"/>
<rect x="622.40" y="1052.95" width="17.63" height="9.30" fill="#096909"/>
<rect x="643.23" y="1052.95" width="17.63" height="9.30" fill="#808080"/>
<rect x="664.07" y="1052.95" width="17.63" height="9.30" fill="#116f11"/>
<rect x="684.90" y="1052.95" width="17.63" height="9.30" fill="#808080"/>
<rect x="705.73" y="1052.95" width="17.63" height="9.30" fill="#116f11"/>
<rect x="726.57" y="1052.95" width="17.63" height="9.30" fill="#046704"/>
<rect x="747.40" y="1052.95" width="17.63" height="9.30" fill="#116f11"/>
<rect x="768.23" y="1052.95" width="17.63" height="9.30" fill="#808080"/>
<rect x="789.07" y="1052.95" width="17.63" height="9.30" fill="#116f11"/>
<rect x="59.90" y="1065.45" width="17.63" height="9.30" fill="#0d6c0d"/>
<rect x="80.73" y="1065.45" width="17.63" height="9.30" fill="#0d6c0d"/>
<rect x="101.57" y="1065.45" width="17.63" height="9.30" fill="#458e45"/>
<rect x="122.40" y="1065.45" width="17.63" height="9.30" fill="#1c751c"/>
<rect x="143.23" y="1065.45" width="17.63" height="9.30" fill="#808080"/>
<rect x="164.07" y="1065.45" width="17.63" height="9.30" fill="#046704"/>
<rect x="184.90" y="1065.45" width="17.63" height="9.30" fill="#808080"/>
<rect x="205.73" y="1065.45" width="17.63" height="9.30" fill="#046704"/>
<rect x="226.57" y="1065.45" width="17.63" height="9.30" fill="#808080"/>
<rect x="247.40" y="1065.45" width="17.63" height="9.30" fill="#046704"/>
<rect x="268.23" y="1065.45" width="17.63" height="9.30" fill="#808080"/>
<rect x="289.07" y="1065.45" width="17.63" height="9.30" fill="#046704"/>
<rect x="309.90" y="1065.45" width="17.63" height="9.30" fill="#bfd8bf"/>
<rect x="330.73" y="1065.45" width="17.63" height="9.30" fill="#458e45"/>
<rect x="351.57" y="1065.45" width="17.63" height="9.30" fill="#9cc39c"/>
<rect x="372.40" y="1065.45" width="17.63" height="9.30" fill="#458e45"/>
<rect x="393.23" y="1065.45" width="17.63" height="9.30" fill="#308130"/>
<rect x="414.07" y="1065.45" width="17.63" height="9.30" fill="#116f11"/>
<rect x="434.90" y="1065.45" width="17.63" height="9.30" fill="#308130"/>
<rect x="455.73" y="1065.45" width="17.63" height="9.30" fill="#1c751c"/>
<rect x="476.57" y="1065.45" width="17.63" height="9.30" fill="#808080"/>
<rect x="497.40" y="1065.45" width="17.63" height="9.30" fill="#116f11"/>
<rect x="518.23" y="1065.45" width="17.63" height="9.30" fill="#808080"/>
<rect x="539.07" y="1065.45" width="17.63" height="9.30" fill="#116f11"/>
<rect x="559.90" y="1065.45" width="17.63" height="9.30" fill="#808080"/>
<rect x="580.73" y="1065.45" width="17.63" height="9.30" fill="#096909"/>
<rect x="601.57" y="1065.45" width="17.63" height="9.30" fill="#808080"/>
<rect x="622.40" y="1065.45" width="17.63" height="9.30" fill="#096909"/>
<rect x="643.23" y="1065.45" width="17.63" height="9.30" fill="#808080"/>
<rect x="664.07" y="1065.45" width="17.63" height="9.30" fill="#116f11"/>
<rect x="684.90" y="1065.45" width="17.63" height="9.30" fill="#808080"/>
<rect x="705.73" y="1065.45" width="17.63" height="9.30" fill="#116f11"/>
<rect x="726.57" y="1065.45" width="17.63" height="9.30" fill="#808080"/>
<rect x="747.40" y="1065.45" width="17.63" height="9.30" fill="#116f11"/>
<rect x="768.23" y="1065.45" width="17.63" height="9.30" fill="#808080"/>
<rect x="789.07" y="1065.45" width="17.63" height="9.30" fill="#116f11"/>
<rect x="59.90" y="1077.95" width="17.63" height="9.30" fill="#0d6c0d"/>
<rect x="80.73" y="1077.95" width="17.63" height="9.30" fill="#046704"/>
<rect x="101.57" y="1077.95" width="17.63" height="9.30" fill="#308130"/>
<rect x="122.40" y="1077.95" width="17.63" height="9.30" fill="#0d6c0d"/>
<rect x="143.23" y="1077.95" width="17.63" height="9.30" fill="#046704"/>
<rect x="164.07" y="1077.95" width="17.63" height="9.30" fill="#046704"/>
<rect x="184.90" y="1077.95" width="17.63" height="9.30" fill="#046704"/>
<rect x="205.73" y="1077.95" width="17.63" height="9.30" fill="#046704"/>
<rect x="226.57" y="1077.95" width="17.63" height="9.30" fill="#046704"/>
<rect x="247.40" y="1077.95" width="17.63" height="9.30" fill="#046704"/>
<rect x="268.23" y="1077.95" width="17.63" height="9.30" fill="#046704"/>
<rect x="289.07" y="1077.95" width="17.63" height="9.30" fill="#046704"/>
<rect x="309.90" y="1077.95" width="17.63" height="9.30" fill="#808080"/>
<rect x="330.73" y="1077.95" width="17.63" height="9.30" fill="#808080"/>
<rect x="351.57" y="1077.95" width="17.63" height="9.30" fill="#8bb88b"/>
<rect x="372.40" y="1077.95" width="17.63" height="9.30" fill="#116f11"/>
<rect x="393.23" y="1077.95" width="17.63" height="9.30" fill="#1c751c"/>
<rect x="414.07" y="1077.95" width="17.63" height="9.30" fill="#116f11"/>
<rect x="434.90" y="1077.95" width="17.63" height="9.30" fill="#1c751c"/>
<rect x="455.73" y="1077.95" width="17.63" height="9.30" fill="#1c751c"/>
<rect x="476.57" y="1077.95" width="17.63" height="9.30" fill="#1c751c"/>
<rect x="497.40" y="1077.95" width="17.63" height="9.30" fill="#116f11"/>
<rect x="518.23" y="1077.95" width="17.63" height="9.30" fill="#808080"/>
<rect x="539.07" y="1077.95" width="17.63" height="9.30" fill="#116f11"/>
<rect x="559.90" y="1077.95" width="17.63" height="9.30" fill="#808080"/>
<rect x="580.73" y="1077.95" width="17.63" height="9.30" fill="#096909"/>
<rect x="601.57" y="1077.95" width="17.63" height="9.30" fill="#808080"/>
<rect x="622.40" y="1077.95" width="17.63" height="9.30" fill="#096909"/>
<rect x="643.23" y="1077.95" width="17.63" height="9.30" fill="#308130"/>
<rect x="664.07" y="1077.95" width="17.63" height="9.30" fill="#116f11"/>
<rect x="684.90" y="1077.95" width="17.63" height="9.30" fill="#808080"/>
<rect x="705.73" y="1077.95" width="17.63" height="9.30" fill="#116f11"/>
<rect x="726.57" y="1077.95" width="17.63" height="9.30" fill="#808080"/>
<rect x="747.40" y="1077.95" width="17.63" height="9.30" fill="#116f11"/>
<rect x="768.23" y="1077.95" width="17.63" height="9.30" fill="#808080"/>
<rect x="789.07" y="1077.95" width="17.63" height="9.30" fill="#116f11"/>
<rect x="59.90" y="1090.45" width="17.63" height="9.30" fill="#1c751c"/>
<rect x="80.73" y="1090.45" width="17.63" height="9.30" fill="#046704"/>
<rect x="101.57" y="1090.45" width="17.63" height="9.30" fill="#308130"/>
<rect x="122.40" y="1090.45" width="17.63" height="9.30" fill="#1c751c"/>
<rect x="143.23" y="1090.45" width="17.63" height="9.30" fill="#046704"/>
<rect x="164.07" y="1090.45" width="17.63" height="9.30" fill="#046704"/>
<rect x="184.90" y="1090.45" width="17.63" height="9.30" fill="#046704"/>
<rect x="205.73" y="1090.45" width="17.63" height="9.30" fill="#046704"/>
<rect x="226.57" y="1090.45" width="17.63" height="9.30" fill="#808080"/>
<rect x="247.40" y="1090.45" width="17.63" height="9.30" fill="#046704"/>
<rect x="268.23" y="1090.45" width="17.63" height="9.30" fill="#808080"/>
<rect x="289.07" y="1090.45" width="17.63" height="9.30" fill="#046704"/>
<rect x="309.90" y="1090.45" width="17.63" height="9.30" fill="#d0e2d0"/>
<rect x="330.73" y="1090.45" width="17.63" height="9.30" fill="#9cc39c"/>
<rect x="351.57" y="1090.45" width="17.63" height="9.30" fill="#adcdad"/>
<rect x="372.40" y="1090.45" width="17.63" height="9.30" fill="#79ae79"/>
<rect x="393.23" y="1090.45" width="17.63" height="9.30" fill="#1c751c"/>
<rect x="414.07" y="1090.45" width="17.63" height="9.30" fill="#116f11"/>
<rect x="434.90" y="1090.45" width="17.63" height="9.30" fill="#1c751c"/>
<rect x="455.73" y="1090.45" width="17.63" height="9.30" fill="#1c751c"/>
<rect x="476.57" y="1090.45" width="17.63" height="9.30" fill="#808080"/>
<rect x="497.40" y="1090.45" width="17.63" height="9.30" fill="#116f11"/>
<rect x="518.23" y="1090.45" width="17.63" height="9.30" fill="#808080"/>
<rect x="539.07" y="1090.45" width="17.63" height="9.30" fill="#116f11"/>
<rect x="559.90" y="1090.45" width="17.63" height="9.30" fill="#808080"/>
<rect x="580.73" y="1090.45" width="17.63" height="9.30" fill="#096909"/>
<rect x="601.57" y="1090.45" width="17.63" height="9.30" fill="#808080"/>
<rect x="622.40" y="1090.45" width="17.63" height="9.30" fill="#096909"/>
<rect x="643.23" y="1090.45" width="17.63" height="9.30" fill="#808080"/>
<rect x="664.07" y="1090.45" width="17.63" height="9.30" fill="#116f11"/>
<rect x="684.90" y="1090.45" width="17.63" height="9.30" fill="#808080"/>
<rect x="705.73" y="1090.45" width="17.63" height="9.30" fill="#116f11"/>
<rect x="726.57" y="1090.45" width="17.63" height="9.30" fill="#808080"/>
<rect x="747.40" y="1090.45" width="17.63" height="9.30" fill="#116f11"/>
<rect x="768.23" y="1090.45" width="17.63" height="9.30" fill="#808080"/>
<rect x="789.07" y="1090.45" width="17.63" height="9.30" fill="#116f11"/>
<rect x="59.90" y="1102.95" width="17.63" height="9.30" fill="#1c751c"/>
<rect x="80.73" y="1102.95" width="17.63" height="9.30" fill="#046704"/>
<rect x="101.57" y="1102.95" width="17.63" height="9.30" fill="#308130"/>
<rect x="122.40" y="1102.95" width="17.63" height="9.30" fill="#1c751c"/>
<rect x="143.23" y="1102.95" width="17.63" height="9.30" fill="#808080"/>
<rect x="164.07" y="1102.95" width="17.63" height="9.30" fill="#046704"/>
<rect x="184.90" y="1102.95" width="17.63" height="9.30" fill="#046704"/>
<rect x="205.73" y="1102.95" width="17.63" height="9.30" fill="#046704"/>
<rect x="226.57" y="1102.95" width="17.63" height="9.30" fill="#0b6b0b"/>
<rect x="247.40" y="1102.95" width="17.63" height="9.30" fill="#046704"/>
<rect x="268.23" y="1102.95" width="17.63" height="9.30" fill="#808080"/>
<rect x="289.07" y="1102.95" width="17.63" height="9.30" fill="#046704"/>
<rect x="309.90" y="1102.95" width="17.63" height="9.30" fill="#d0e2d0"/>
<rect x="330.73" y="1102.95" width="17.63" height="9.30" fill="#9cc39c"/>
<rect x="351.57" y="1102.95" width="17.63" height="9.30" fill="#9cc39c"/>
<rect x="372.40" y="1102.95" width="17.63" height="9.30" fill="#79ae79"/>
<rect x="393.23" y="1102.95" width="17.63" height="9.30" fill="#116f11"/>
<rect x="414.07" y="1102.95" width="17.63" height="9.30" fill="#116f11"/>
<rect x="434.90" y="1102.95" width="17.63" height="9.30" fill="#308130"/>
<rect x="455.73" y="1102.95" width="17.63" height="9.30" fill="#1c751c"/>
<rect x="476.57" y="1102.95" width="17.63" height="9.30" fill="#808080"/>
<rect x="497.40" y="1102.95" width="17.63" height="9.30" fill="#116f11"/>
<rect x="518.23" y="1102.95" width="17.63" height="9.30" fill="#808080"/>
<rect x="539.07" y="1102.95" width="17.63" height="9.30" fill="#116f11"/>
<rect x="559.90" y="1102.95" width="17.63" height="9.30" fill="#808080"/>
<rect x="580.73" y="1102.95" width="17.63" height="9.30" fill="#096909"/>
<rect x="601.57" y="1102.95" width="17.63" height="9.30" fill="#808080"/>
<rect x="622.40" y="1102.95" width="17.63" height="9.30" fill="#096909"/>
<rect x="643.23" y="1102.95" width="17.63" height="9.30" fill="#808080"/>
<rect x="664.07" y="1102.95" width="17.63" height="9.30" fill="#116f11"/>
<rect x="684.90" y="1102.95" width="17.63" height="9.30" fill="#808080"/>
<rect x="705.73" y="1102.95" width="17.63" height="9.30" fill="#116f11"/>
<rect x="726.57" y="1102.95" width="17.63" height="9.30" fill="#808080"/>
<rect x="747.40" y="1102.95" width="17.63" height="9.30" fill="#116f11"/>
<rect x="768.23" y="1102.95" width="17.63" height="9.30" fill="#808080"/>
<rect x="789.07" y="1102.95" width="17.63" height="9.30" fill="#116f11"/>
<rect x="59.90" y="1115.45" width="17.63" height="9.30" fill="#0d6c0d"/>
<rect x="80.73" y="1115.45" width="17.63" height="9.30" fill="#046704"/>
<rect x="101.57" y="1115.45" width="17.63" height="9.30" fill="#308130"/>
<rect x="122.40" y="1115.45" width="17.63" height="9.30" fill="#1c751c"/>
<rect x="143.23" y="1115.45" width="17.63" height="9.30" fill="#046704"/>
<rect x="164.07" y="1115.45" width="17.63" height="9.30" fill="#046704"/>
<rect x="184.90" y="1115.45" width="17.63" height="9.30" fill="#046704"/>
<rect x="205.73" y="1115.45" width="17.63" height="9.30" fill="#046704"/>
<rect x="226.57" y="1115.45" width="17.63" height="9.30" fill="#046704"/>
<rect x="247.40" y="1115.45" width="17.63" height="9.30" fill="#046704"/>
<rect x="268.23" y="1115.45" width="17.63" height="9.30" fill="#046704"/>
<rect x="289.07" y="1115.45" width="17.63" height="9.30" fill="#046704"/>
<rect x="309.90" y="1115.45" width="17.63" height="9.30" fill="#bfd8bf"/>
<rect x="330.73" y="1115.45" width="17.63" height="9.30" fill="#f3f7f3"/>
<rect x="351.57" y="1115.45" width="17.63" height="9.30" fill="#9cc39c"/>
<rect x="372.40" y="1115.45" width="17.63" height="9.30" fill="#116f11"/>
<rect x="393.23" y="1115.45" width="17.63" height="9.30" fill="#1c751c"/>
<rect x="414.07" y="1115.45" width="17.63" height="9.30" fill="#116f11"/>
<rect x="434.90" y="1115.45" width="17.63" height="9.30" fill="#308130"/>
<rect x="455.73" y="1115.45" width="17.63" height="9.30" fill="#1c751c"/>
<rect x="476.57" y="1115.45" width="17.63" height="9.30" fill="#116f11"/>
<rect x="497.40" y="1115.45" width="17.63" height="9.30" fill="#116f11"/>
<rect x="518.23" y="1115.45" width="17.63" height="9.30" fill="#808080"/>
<rect x="539.07" y="1115.45" width="17.63" height="9.30" fill="#116f11"/>
<rect x="559.90" y="1115.45" width="17.63" height="9.30" fill="#808080"/>
<rect x="580.73" y="1115.45" width="17.63" height="9.30" fill="#096909"/>
<rect x="601.57" y="1115.45" width="17.63" height="9.30" fill="#808080"/>
<rect x="622.40" y="1115.45" width="17.63" height="9.30" fill="#096909"/>
<rect x="643.23" y="1115.45" width="17.63" height="9.30" fill="#808080"/>
<rect x="664.07" y="1115.45" width="17.63" height="9.30" fill="#116f11"/>
<rect x="684.90" y="1115.45" width="17.63" height="9.30" fill="#808080"/>
<rect x="705.73" y="1115.45" width="17.63" height="9.30" fill="#116f11"/>
<rect x="726.57" y="1115.45" width="17.63" height="9.30" fill="#808080"/>
<rect x="747.40" y="1115.45" width="17.63" height="9.30" fill="#116f11"/>
<rect x="768.23" y="1115.45" width="17.63" height="9.30" fill="#808080"/>
<rect x="789.07" y="1115.45" width="17.63" height="9.30" fill="#116f11"/>
<rect x="59.90" y="1127.95" width="17.63" height="9.30" fill="#046704"/>
<rect x="80.73" y="1127.95" width="17.63" height="9.30" fill="#0d6c0d"/>
<rect x="101.57" y="1127.95" width="17.63" height="9.30" fill="#68a368"/>
<rect x="122.40" y="1127.95" width="17.63" height="9.30" fill="#1c751c"/>
<rect x="143.23" y="1127.95" width="17.63" height="9.30" fill="#046704"/>
<rect x="164.07" y="1127.95" width="17.63" height="9.30" fill="#046704"/>
<rect x="184.90" y="1127.95" width="17.63" height="9.30" fill="#046704"/>
<rect x="205.73" y="1127.95" width="17.63" height="9.30" fill="#046704"/>
<rect x="226.57" y="1127.95" width="17.63" height="9.30" fill="#0b6b0b"/>
<rect x="247.40" y="1127.95" width="17.63" height="9.30" fill="#046704"/>
<rect x="268.23" y="1127.95" width="17.63" height="9.30" fill="#0b6b0b"/>
<rect x="289.07" y="1127.95" width="17.63" height="9.30" fill="#046704"/>
<rect x="309.90" y="1127.95" width="17.63" height="9.30" fill="#79ae79"/>
<rect x="330.73" y="1127.95" width="17.63" height="9.30" fill="#bfd8bf"/>
<rect x="351.57" y="1127.95" width="17.63" height="9.30" fill="#8bb88b"/>
<rect x="372.40" y="1127.95" width="17.63" height="9.30" fill="#8bb88b"/>
<rect x="393.23" y="1127.95" width="17.63" height="9.30" fill="#1c751c"/>
<rect x="414.07" y="1127.95" width="17.63" height="9.30" fill="#116f11"/>
<rect x="434.90" y="1127.95" width="17.63" height="9.30" fill="#1c751c"/>
<rect x="455.73" y="1127.95" width="17.63" height="9.30" fill="#1c751c"/>
<rect x="476.57" y="1127.95" width="17.63" height="9.30" fill="#808080"/>
<rect x="497.40" y="1127.95" width="17.63" height="9.30" fill="#116f11"/>
<rect x="518.23" y="1127.95" width="17.63" height="9.30" fill="#808080"/>
<rect x="539.07" y="1127.95" width="17.63" height="9.30" fill="#116f11"/>
<rect x="559.90" y="1127.95" width="17.63" height="9.30" fill="#808080"/>
<rect x="580.73" y="1127.95" width="17.63" height="9.30" fill="#096909"/>
<rect x="601.57" y="1127.95" width="17.63" height="9.30" fill="#808080"/>
<rect x="622.40" y="1127.95" width="17.63" height="9.30" fill="#096909"/>
<rect x="643.23" y="1127.95" width="17.63" height="9.30" fill="#808080"/>
<rect x="664.07" y="1127.95" width="17.63" height="9.30" fill="#116f11"/>
<rect x="684.90" y="1127.95" width="17.63" height="9.30" fill="#808080"/>
<rect x="705.73" y="1127.95" width="17.63" height="9.30" fill="#116f11"/>
<rect x="726.57" y="1127.95" width="17.63" height="9.30" fill="#808080"/>
<rect x="747.40" y="1127.95" width="17.63" height="9.30" fill="#116f11"/>
<rect x="768.23" y="1127.95" width="17.63" height="9.30" fill="#808080"/>
<rect x="789.07" y="1127.95" width="17.63" height="9.30" fill="#116f11"/>
<rect x="59.90" y="1140.45" width="17.63" height="9.30" fill="#1c751c"/>
<rect x="80.73" y="1140.45" width="17.63" height="9.30" fill="#046704"/>
<rect x="101.57" y="1140.45" width="17.63" height="9.30" fill="#458e45"/>
<rect x="122.40" y="1140.45" width="17.63" height="9.30" fill="#0d6c0d"/>
<rect x="143.23" y="1140.45" width="17.63" height="9.30" fill="#046704"/>
<rect x="164.07" y="1140.45" width="17.63" height="9.30" fill="#046704"/>
<rect x="184.90" y="1140.45" width="17.63" height="9.30" fill="#046704"/>
<rect x="205.73" y="1140.45" width="17.63" height="9.30" fill="#046704"/>
<rect x="226.57" y="1140.45" width="17.63" height="9.30" fill="#046704"/>
<rect x="247.40" y="1140.45" width="17.63" height="9.30" fill="#046704"/>
<rect x="268.23" y="1140.45" width="17.63" height="9.30" fill="#808080"/>
<rect x="289.07" y="1140.45" width="17.63" height="9.30" fill="#046704"/>
<rect x="309.90" y="1140.45" width="17.63" height="9.30" fill="#ffffff"/>
<rect x="330.73" y="1140.45" width="17.63" height="9.30" fill="#9cc39c"/>
<rect x="351.57" y="1140.45" width="17.63" height="9.30" fill="#68a368"/>
<rect x="372.40" y="1140.45" width="17.63" height="9.30" fill="#8bb88b"/>
<rect x="393.23" y="1140.45" width="17.63" height="9.30" fill="#1c751c"/>
<rect x="414.07" y="1140.45" width="17.63" height="9.30" fill="#116f11"/>
<rect x="434.90" y="1140.45" width="17.63" height="9.30" fill="#308130"/>
<rect x="455.73" y="1140.45" width="17.63" height="9.30" fill="#1c751c"/>
<rect x="476.57" y="1140.45" width="17.63" height="9.30" fill="#808080"/>
<rect x="497.40" y="1140.45" width="17.63" height="9.30" fill="#116f11"/>
<rect x="518.23" y="1140.45" width="17.63" height="9.30" fill="#808080"/>
<rect x="539.07" y="1140.45" width="17.63" height="9.30" fill="#116f11"/>
<rect x="559.90" y="1140.45" width="17.63" height="9.30" fill="#808080"/>
<rect x="580.73" y="1140.45" width="17.63" height="9.30" fill="#096909"/>
<rect x="601.57" y="1140.45" width="17.63" height="9.30" fill="#808080"/>
<rect x="622.40" y="1140.45" width="17.63" height="9.30" fill="#096909"/>
<rect x="643.23" y="1140.45" width="17.63" height="9.30" fill="#808080"/>
<rect x="664.07" y="1140.45" width="17.63" height="9.30" fill="#116f11"/>
<rect x="684.90" y="1140.45" width="17.63" height="9.30" fill="#808080"/>
<rect x="705.73" y="1140.45" width="17.63" height="9.30" fill="#116f11"/>
<rect x="726.57" y="1140.45" width="17.63" height="9.30" fill="#808080"/>
<rect x="747.40" y="1140.45" width="17.63" height="9.30" fill="#116f11"/>
<rect x="768.23" y="1140.45" width="17.63" height="9.30" fill="#808080"/>
<rect x="789.07" y="1140.45" width="17.63" height="9.30" fill="#116f11"/>
<rect x="59.90" y="1152.95" width="17.63" height="9.30" fill="#0d6c0d"/>
<rect x="80.73" y="1152.95" width="17.63" height="9.30" fill="#046704"/>
<rect x="101.57" y="1152.95" width="17.63" height="9.30" fill="#308130"/>
<rect x="122.40" y="1152.95" width="17.63" height="9.30" fill="#0d6c0d"/>
<rect x="143.23" y="1152.95" width="17.63" height="9.30" fill="#046704"/>
<rect x="164.07" y="1152.95" width="17.63" height="9.30" fill="#046704"/>
<rect x="184.90" y="1152.95" width="17.63" height="9.30" fill="#046704"/>
<rect x="205.73" y="1152.95" width="17.63" height="9.30" fill="#046704"/>
<rect x="226.57" y="1152.95" width="17.63" height="9.30" fill="#046704"/>
<rect x="247.40" y="1152.95" width="17.63" height="9.30" fill="#046704"/>
<rect x="268.23" y="1152.95" width="17.63" height="9.30" fill="#046704"/>
<rect x="289.07" y="1152.95" width="17.63" height="9.30" fill="#046704"/>
<rect x="309.90" y="1152.95" width="17.63" height="9.30" fill="#e1ede1"/>
<rect x="330.73" y="1152.95" width="17.63" height="9.30" fill="#8bb88b"/>
<rect x="351.57" y="1152.95" width="17.63" height="9.30" fill="#9cc39c"/>
<rect x="372.40" y="1152.95" width="17.63" height="9.30" fill="#79ae79"/>
<rect x="393.23" y="1152.95" width="17.63" height="9.30" fill="#1c751c"/>
<rect x="414.07" y="1152.95" width="17.63" height="9.30" fill="#046704"/>
<rect x="434.90" y="1152.95" width="17.63" height="9.30" fill="#308130"/>
<rect x="455.73" y="1152.95" width="17.63" height="9.30" fill="#1c751c"/>
<rect x="476.57" y="1152.95" width="17.63" height="9.30" fill="#808080"/>
<rect x="497.40" y="1152.95" width="17.63" height="9.30" fill="#116f11"/>
<rect x="518.23" y="1152.95" width="17.63" height="9.30" fill="#808080"/>
<rect x="539.07" y="1152.95" width="17.63" height="9.30" fill="#116f11"/>
<rect x="559.90" y="1152.95" width="17.63" height="9.30" fill="#808080"/>
<rect x="580.73" y="1152.95" width="17.63" height="9.30" fill="#096909"/>
<rect x="601.57" y="1152.95" width="17.63" height="9.30" fill="#808080"/>
<rect x="622.40" y="1152.95" width="17.63" height="9.30" fill="#096909"/>
<rect x="643.23" y="1152.95" width="17.63" height="9.30" fill="#116f11"/>
<rect x="664.07" y="1152.95" width="17.63" height="9.30" fill="#116f11"/>
<rect x="684.90" y="1152.95" width="17.63" height="9.30" fill="#808080"/>
<rect x="705.73" y="1152.95" width="17.63" height="9.30" fill="#116f11"/>
<rect x="726.57" y="1152.95" width="17.63" height="9.30" fill="#808080"/>
<rect x="747.40" y="1152.95" width="17.63" height="9.30" fill="#116f11"/>
<rect x="768.23" y="1152.95" width="17.63" height="9.30" fill="#808080"/>
<rect x="789.07" y="1152.95" width="17.63" height="9.30" fill="#116f11"/>
<rect x="59.90" y="1165.45" width="17.63" height="9.30" fill="#1c751c"/>
<rect x="80.73" y="1165.45" width="17.63" height="9.30" fill="#0d6c0d"/>
<rect x="101.57" y="1165.45" width="17.63" height="9.30" fill="#458e45"/>
<rect x="122.40" y="1165.45" width="17.63" height="9.30" fill="#0d6c0d"/>
<rect x="143.23" y="1165.45" width="17.63" height="9.30" fill="#808080"/>
<rect x="164.07" y="1165.45" width="17.63" height="9.30" fill="#046704"/>
<rect x="184.90" y="1165.45" width="17.63" height="9.30" fill="#046704"/>
<rect x="205.73" y="1165.45" width="17.63" height="9.30" fill="#046704"/>
<rect x="226.57" y="1165.45" width="17.63" height="9.30" fill="#0b6b0b"/>
<rect x="247.40" y="1165.45" width="17.63" height="9.30" fill="#046704"/>
<rect x="268.23" y="1165.45" width="17.63" height="9.30" fill="#046704"/>
<rect x="289.07" y="1165.45" width="17.63" height="9.30" fill="#046704"/>
<rect x="309.90" y="1165.45" width="17.63" height="9.30" fill="#e1ede1"/>
<rect x="330.73" y="1165.45" width="17.63" height="9.30" fill="#adcdad"/>
<rect x="351.57" y="1165.45" width="17.63" height="9.30" fill="#9cc39c"/>
<rect x="372.40" y="1165.45" width="17.63" height="9.30" fill="#8bb88b"/>
<rect x="393.23" y="1165.45" width="17.63" height="9.30" fill="#308130"/>
<rect x="414.07" y="1165.45" width="17.63" height="9.30" fill="#116f11"/>
<rect x="434.90" y="1165.45" width="17.63" height="9.30" fill="#308130"/>
<rect x="455.73" y="1165.45" width="17.63" height="9.30" fill="#1c751c"/>
<rect x="476.57" y="1165.45" width="17.63" height="9.30" fill="#808080"/>
<rect x="497.40" y="1165.45" width="17.63" height="9.30" fill="#116f11"/>
<rect x="518.23" y="1165.45" width="17.63" height="9.30" fill="#808080"/>
<rect x="539.07" y="1165.45" width="17.63" height="9.30" fill="#116f11"/>
<rect x="559.90" y="1165.45" width="17.63" height="9.30" fill="#808080"/>
<rect x="580.73" y="1165.45" width="17.63" height="9.30" fill="#096909"/>
<rect x="601.57" y="1165.45" width="17.63" height="9.30" fill="#808080"/>
<rect x="622.40" y="1165.45" width="17.63" height="9.30" fill="#096909"/>
<rect x="643.23" y="1165.45" width="17.63" height="9.30" fill="#808080"/>
<rect x="664.07" y="1165.45" width="17.63" height="9.30" fill="#116f11"/>
<rect x="684.90" y="1165.45" width="17.63" height="9.30" fill="#808080"/>
<rect x="705.73" y="1165.45" width="17.63" height="9.30" fill="#116f11"/>
<rect x="726.57" y="1165.45" width="17.63" height="9.30" fill="#808080"/>
<rect x="747.40" y="1165.45" width="17.63" height="9.30" fill="#116f11"/>
<rect x="768.23" y="1165.45" width="17.63" height="9.30" fill="#808080"/>
<rect x="789.07" y="1165.45" width="17.63" height="9.30" fill="#116f11"/>
<rect x="59.90" y="1177.95" width="17.63" height="9.30" fill="#0d6c0d"/>
<rect x="80.73" y="1177.95" width="17.63" height="9.30" fill="#046704"/>
<rect x="101.57" y="1177.95" width="17.63" height="9.30" fill="#308130"/>
<rect x="122.40" y="1177.95" width="17.63" height="9.30" fill="#0d6c0d"/>
<rect x="143.23" y="1177.95" width="17.63" height="9.30" fill="#046704"/>
<rect x="164.07" y="1177.95" width="17.63" height="9.30" fill="#046704"/>
<rect x="184.90" y="1177.95" width="17.63" height="9.30" fill="#046704"/>
<rect x="205.73" y="1177.95" width="17.63" height="9.30" fill="#046704"/>
<rect x="226.57" y="1177.95" width="17.63" height="9.30" fill="#046704"/>
<rect x="247.40" y="1177.95" width="17.63" height="9.30" fill="#046704"/>
<rect x="268.23" y="1177.95" width="17.63" height="9.30" fill="#046704"/>
<rect x="289.07" y="1177.95" width="17.63" height="9.30" fill="#046704"/>
<rect x="309.90" y="1177.95" width="17.63" height="9.30" fill="#bfd8bf"/>
<rect x="330.73" y="1177.95" width="17.63" height="9.30" fill="#d0e2d0"/>
<rect x="351.57" y="1177.95" width="17.63" height="9.30" fill="#9cc39c"/>
<rect x="372.40" y="1177.95" width="17.63" height="9.30" fill="#79ae79"/>
<rect x="393.23" y="1177.95" width="17.63" height="9.30" fill="#1c751c"/>
<rect x="414.07" y="1177.95" width="17.63" height="9.30" fill="#116f11"/>
<rect x="434.90" y="1177.95" width="17.63" height="9.30" fill="#308130"/>
<rect x="455.73" y="1177.95" width="17.63" height="9.30" fill="#1c751c"/>
<rect x="476.57" y="1177.95" width="17.63" height="9.30" fill="#808080"/>
<rect x="497.40" y="1177.95" width="17.63" height="9.30" fill="#116f11"/>
<rect x="518.23" y="1177.95" width="17.63" height="9.30" fill="#808080"/>
<rect x="539.07" y="1177.95" width="17.63" height="9.30" fill="#116f11"/>
<rect x="559.90" y="1177.95" width="17.63" height="9.30" fill="#808080"/>
<rect x="580.73" y="1177.95" width="17.63" height="9.30" fill="#096909"/>
<rect x="601.57" y="1177.95" width="17.63" height="9.30" fill="#808080"/>
<rect x="622.40" y="1177.95" width="17.63" height="9.30" fill="#096909"/>
<rect x="643.23" y="1177.95" width="17.63" height="9.30" fill="#458e45"/>
<rect x="664.07" y="1177.95" width="17.63" height="9.30" fill="#116f11"/>
<rect x="684.90" y="1177.95" width="17.63" height="9.30" fill="#808080"/>
<rect x="705.73" y="1177.95" width="17.63" height="9.30" fill="#116f11"/>
<rect x="726.57" y="1177.95" width="17.63" height="9.30" fill="#808080"/>
<rect x="747.40" y="1177.95" width="17.63" height="9.30" fill="#116f11"/>
<rect x="768.23" y="1177.95" width="17.63" height="9.30" fill="#808080"/>
<rect x="789.07" y="1177.95" width="17.63" height="9.30" fill="#116f11"/>
<rect x="59.90" y="1190.45" width="17.63" height="9.30" fill="#0d6c0d"/>
<rect x="80.73" y="1190.45" width="17.63" height="9.30" fill="#046704"/>
<rect x="101.57" y="1190.45" width="17.63" height="9.30" fill="#1c751c"/>
<rect x="122.40" y="1190.45" width="17.63" height="9.30" fill="#0d6c0d"/>
<rect x="143.23" y="1190.45" width="17.63" height="9.30" fill="#046704"/>
<rect x="164.07" y="1190.45" width="17.63" height="9.30" fill="#046704"/>
<rect x="184.90" y="1190.45" width="17.63" height="9.30" fill="#046704"/>
<rect x="205.73" y="1190.45" width="17.63" height="9.30" fill="#046704"/>
<rect x="226.57" y="1190.45" width="17.63" height="9.30" fill="#046704"/>
<rect x="247.40" y="1190.45" width="17.63" height="9.30" fill="#046704"/>
<rect x="268.23" y="1190.45" width="17.63" height="9.30" fill="#046704"/>
<rect x="289.07" y="1190.45" width="17.63" height="9.30" fill="#046704"/>
<rect x="309.90" y="1190.45" width="17.63" height="9.30" fill="#bfd8bf"/>
<rect x="330.73" y="1190.45" width="17.63" height="9.30" fill="#308130"/>
<rect x="351.57" y="1190.45" width="17.63" height="9.30" fill="#9cc39c"/>
<rect x="372.40" y="1190.45" width="17.63" height="9.30" fill="#308130"/>
<rect x="393.23" y="1190.45" width="17.63" height="9.30" fill="#1c751c"/>
<rect x="414.07" y="1190.45" width="17.63" height="9.30" fill="#046704"/>
<rect x="434.90" y="1190.45" width="17.63" height="9.30" fill="#308130"/>
<rect x="455.73" y="1190.45" width="17.63" height="9.30" fill="#116f11"/>
<rect x="476.57" y="1190.45" width="17.63" height="9.30" fill="#046704"/>
<rect x="497.40" y="1190.45" width="17.63" height="9.30" fill="#116f11"/>
<rect x="518.23" y="1190.45" width="17.63" height="9.30" fill="#308130"/>
<rect x="539.07" y="1190.45" width="17.63" height="9.30" fill="#116f11"/>
<rect x="559.90" y="1190.45" width="17.63" height="9.30" fill="#808080"/>
<rect x="580.73" y="1190.45" width="17.63" height="9.30" fill="#096909"/>
<rect x="601.57" y="1190.45" width="17.63" height="9.30" fill="#808080"/>
<rect x="622.40" y="1190.45" width="17.63" height="9.30" fill="#096909"/>
<rect x="643.23" y="1190.45" width="17.63" height="9.30" fill="#116f11"/>
<rect x="664.07" y="1190.45" width="17.63" height="9.30" fill="#116f11"/>
<rect x="684.90" y="1190.45" width="17.63" height="9.30" fill="#808080"/>
<rect x="705.73" y="1190.45" width="17.63" height="9.30" fill="#116f11"/>
<rect x="726.57" y="1190.45" width="17.63" height="9.30" fill="#046704"/>
<rect x="747.40" y="1190.45" width="17.63" height="9.30" fill="#116f11"/>
<rect x="768.23" y="1190.45" width="17.63" height="9.30" fill="#808080"/>
<rect x="789.07" y="1190.45" width="17.63" height="9.30" fill="#116f11"/>
<rect x="59.90" y="1202.95" width="17.63" height="9.30" fill="#1c751c"/>
<rect x="80.73" y="1202.95" width="17.63" height="9.30" fill="#046704"/>
<rect x="101.57" y="1202.95" width="17.63" height="9.30" fill="#458e45"/>
<rect x="122.40" y="1202.95" width="17.63" height="9.30" fill="#1c751c"/>
<rect x="143.23" y="1202.95" width="17.63" height="9.30" fill="#046704"/>
<rect x="164.07" y="1202.95" width="17.63" height="9.30" fill="#046704"/>
<rect x="184.90" y="1202.95" width="17.63" height="9.30" fill="#046704"/>
<rect x="205.73" y="1202.95" width="17.63" height="9.30" fill="#046704"/>
<rect x="226.57" y="1202.95" width="17.63" height="9.30" fill="#0b6b0b"/>
<rect x="247.40" y="1202.95" width="17.63" height="9.30" fill="#046704"/>
<rect x="268.23" y="1202.95" width="17.63" height="9.30" fill="#046704"/>
<rect x="289.07" y="1202.95" width="17.63" height="9.30" fill="#046704"/>
<rect x="309.90" y="1202.95" width="17.63" height="9.30" fill="#bfd8bf"/>
<rect x="330.73" y="1202.95" width="17.63" height="9.30" fill="#8bb88b"/>
<rect x="351.57" y="1202.95" width="17.63" height="9.30" fill="#9cc39c"/>
<rect x="372.40" y="1202.95" width="17.63" height="9.30" fill="#79ae79"/>
<rect x="393.23" y="1202.95" width="17.63" height="9.30" fill="#116f11"/>
<rect x="414.07" y="1202.95" width="17.63" height="9.30" fill="#116f11"/>
<rect x="434.90" y="1202.95" width="17.63" height="9.30" fill="#308130"/>
<rect x="455.73" y="1202.95" width="17.63" height="9.30" fill="#1c751c"/>
<rect x="476.57" y="1202.95" width="17.63" height="9.30" fill="#808080"/>
<rect x="497.40" y="1202.95" width="17.63" height="9.30" fill="#116f11"/>
<rect x="518.23" y="1202.95" width="17.63" height="9.30" fill="#808080"/>
<rect x="539.07" y="1202.95" width="17.63" height="9.30" fill="#116f11"/>
<rect x="559.90" y="1202.95" width="17.63" height="9.30" fill="#808080"/>
<rect x="580.73" y="1202.95" width="17.63" height="9.30" fill="#096909"/>
<rect x="601.57" y="1202.95" width="17.63" height="9.30" fill="#808080"/>
<rect x="622.40" y="1202.95" width="17.63" height="9.30" fill="#096909"/>
<rect x="643.23" y="1202.95" width="17.63" height="9.30" fill="#808080"/>
<rect x="664.07" y="1202.95" width="17.63" height="9.30" fill="#116f11"/>
<rect x="684.90" y="1202.95" width="17.63" height="9.30" fill="#808080"/>
<rect x="705.73" y="1202.95" width="17.63" height="9.30" fill="#116f11"/>
<rect x="726.57" y="1202.95" width="17.63" height="9.30" fill="#808080"/>
<rect x="747.40" y="1202.95" width="17.63" height="9.30" fill="#116f11"/>
<rect x="768.23" y="1202.95" width="17.63" height="9.30" fill="#808080"/>
<rect x="789.07" y="1202.95" width="17.63" height="9.30" fill="#116f11"/>
<rect x="59.90" y="1215.45" width="17.63" height="9.30" fill="#0d6c0d"/>
<rect x="80.73" y="1215.45" width="17.63" height="9.30" fill="#046704"/>
<rect x="101.57" y="1215.45" width="17.63" height="9.30" fill="#308130"/>
<rect x="122.40" y="1215.45" width="17.63" height="9.30" fill="#0d6c0d"/>
<rect x="143.23" y="1215.45" width="17.63" height="9.30" fill="#046704"/>
<rect x="164.07" y="1215.45" width="17.63" height="9.30" fill="#046704"/>
<rect x="184.90" y="1215.45" width="17.63" height="9.30" fill="#046704"/>
<rect x="205.73" y="1215.45" width="17.63" height="9.30" fill="#046704"/>
<rect x="226.57" y="1215.45" width="17.63" height="9.30" fill="#046704"/>
<rect x="247.40" y="1215.45" width="17.63" height="9.30" fill="#046704"/>
<rect x="268.23" y="1215.45" width="17.63" height="9.30" fill="#046704"/>
<rect x="289.07" y="1215.45" width="17.63" height="9.30" fill="#046704"/>
<rect x="309.90" y="1215.45" width="17.63" height="9.30" fill="#d0e2d0"/>
<rect x="330.73" y="1215.45" width="17.63" height="9.30" fill="#8bb88b"/>
<rect x="351.57" y="1215.45" width="17.63" height="9.30" fill="#adcdad"/>
<rect x="372.40" y="1215.45" width="17.63" height="9.30" fill="#79ae79"/>
<rect x="393.23" y="1215.45" width="17.63" height="9.30" fill="#1c751c"/>
<rect x="414.07" y="1215.45" width="17.63" height="9.30" fill="#116f11"/>
<rect x="434.90" y="1215.45" width="17.63" height="9.30" fill="#579957"/>
<rect x="455.73" y="1215.45" width="17.63" height="9.30" fill="#116f11"/>
<rect x="476.57" y="1215.45" width="17.63" height="9.30" fill="#808080"/>
<rect x="497.40" y="1215.45" width="17.63" height="9.30" fill="#116f11"/>
<rect x="518.23" y="1215.45" width="17.63" height="9.30" fill="#808080"/>
<rect x="539.07" y="1215.45" width="17.63" height="9.30" fill="#116f11"/>
<rect x="559.90" y="1215.45" width="17.63" height="9.30" fill="#808080"/>
<rect x="580.73" y="1215.45" width="17.63" height="9.30" fill="#096909"/>
<rect x="601.57" y="1215.45" width="17.63" height="9.30" fill="#808080"/>
<rect x="622.40" y="1215.45" width="17.63" height="9.30" fill="#096909"/>
<rect x="643.23" y="1215.45" width="17.63" height="9.30" fill="#808080"/>
<rect x="664.07" y="1215.45" width="17.63" height="9.30" fill="#116f11"/>
<rect x="684.90" y="1215.45" width="17.63" height="9.30" fill="#808080"/>
<rect x="705.73" y="1215.45" width="17.63" height="9.30" fill="#116f11"/>
<rect x="726.57" y="1215.45" width="17.63" height="9.30" fill="#808080"/>
<rect x="747.40" y="1215.45" width="17.63" height="9.30" fill="#116f11"/>
<rect x="768.23" y="1215.45" width="17.63" height="9.30" fill="#808080"/>
<rect x="789.07" y="1215.45" width="17.63" height="9.30" fill="#116f11"/>
<rect x="59.90" y="1227.95" width="17.63" height="9.30" fill="#1c751c"/>
<rect x="80.73" y="1227.95" width="17.63" height="9.30" fill="#046704"/>
<rect x="101.57" y="1227.95" width="17.63" height="9.30" fill="#308130"/>
<rect x="122.40" y="1227.95" width="17.63" height="9.30" fill="#1c751c"/>
<rect x="143.23" y="1227.95" width="17.63" height="9.30" fill="#046704"/>
<rect x="164.07" y="1227.95" width="17.63" height="9.30" fill="#046704"/>
<rect x="184.90" y="1227.95" width="17.63" height="9.30" fill="#046704"/>
<rect x="205.73" y="1227.95" width="17.63" height="9.30" fill="#046704"/>
<rect x="226.57" y="1227.95" width="17.63" height="9.30" fill="#046704"/>
<rect x="247.40" y="1227.95" width="17.63" height="9.30" fill="#046704"/>
<rect x="268.23" y="1227.95" width="17.63" height="9.30" fill="#046704"/>
<rect x="289.07" y="1227.95" width="17.63" height="9.30" fill="#046704"/>
<rect x="309.90" y="1227.95" width="17.63" height="9.30" fill="#f3f7f3"/>
<rect x="330.73" y="1227.95" width="17.63" height="9.30" fill="#8bb88b"/>
<rect x="351.57" y="1227.95" width="17.63" height="9.30" fill="#adcdad"/>
<rect x="372.40" y="1227.95" width="17.63" height="9.30" fill="#8bb88b"/>
<rect x="393.23" y="1227.95" width="17.63" height="9.30" fill="#308130"/>
<rect x="414.07" y="1227.95" width="17.63" height="9.30" fill="#116f11"/>
<rect x="434.90" y="1227.95" width="17.63" height="9.30" fill="#579957"/>
<rect x="455.73" y="1227.95" width="17.63" height="9.30" fill="#1c751c"/>
<rect x="476.57" y="1227.95" width="17.63" height="9.30" fill="#808080"/>
<rect x="497.40" y="1227.95" width="17.63" height="9.30" fill="#116f11"/>
<rect x="518.23" y="1227.95" width="17.63" height="9.30" fill="#808080"/>
<rect x="539.07" y="1227.95" width="17.63" height="9.30" fill="#116f11"/>
<rect x="559.90" y="1227.95" width="17.63" height="9.30" fill="#808080"/>
<rect x="580.73" y="1227.95" width="17.63" height="9.30" fill="#096909"/>
<rect x="601.57" y="1227.95" width="17.63" height="9.30" fill="#808080"/>
<rect x="622.40" y="1227.95" width="17.63" height="9.30" fill="#096909"/>
<rect x="643.23" y="1227.95" width="17.63" height="9.30" fill="#808080"/>
<rect x="664.07" y="1227.95" width="17.63" height="9.30" fill="#116f11"/>
<rect x="684.90" y="1227.95" width="17.63" height="9.30" fill="#808080"/>
<rect x="705.73" y="1227.95" width="17.63" height="9.30" fill="#116f11"/>
<rect x="726.57" y="1227.95" width="17.63" height="9.30" fill="#808080"/>
<rect x="747.40" y="1227.95" width="17.63" height="9.30" fill="#116f11"/>
<rect x="768.23" y="1227.95" width="17.63" height="9.30" fill="#808080"/>
<rect x="789.07" y="1227.95" width="17.63" height="9.30" fill="#116f11"/>
<rect x="59.90" y="1240.45" width="17.63" height="9.30" fill="#1c751c"/>
<rect x="80.73" y="1240.45" width="17.63" height="9.30" fill="#046704"/>
<rect x="101.57" y="1240.45" width="17.63" height="9.30" fill="#308130"/>
<rect x="122.40" y="1240.45" width="17.63" height="9.30" fill="#0d6c0d"/>
<rect x="143.23" y="1240.45" width="17.63" height="9.30" fill="#046704"/>
<rect x="164.07" y="1240.45" width="17.63" height="9.30" fill="#046704"/>
<rect x="184.90" y="1240.45" width="17.63" height="9.30" fill="#046704"/>
<rect x="205.73" y="1240.45" width="17.63" height="9.30" fill="#046704"/>
<rect x="226.57" y="1240.45" width="17.63" height="9.30" fill="#046704"/>
<rect x="247.40" y="1240.45" width="17.63" height="9.30" fill="#046704"/>
<rect x="268.23" y="1240.45" width="17.63" height="9.30" fill="#046704"/>
<rect x="289.07" y="1240.45" width="17.63" height="9.30" fill="#046704"/>
<rect x="309.90" y="1240.45" width="17.63" height="9.30" fill="#f3f7f3"/>
<rect x="330.73" y="1240.45" width="17.63" height="9.30" fill="#8bb88b"/>
<rect x="351.57" y="1240.45" width="17.63" height="9.30" fill="#bfd8bf"/>
<rect x="372.40" y="1240.45" width="17.63" height="9.30" fill="#68a368"/>
<rect x="393.23" y="1240.45" width="17.63" height="9.30" fill="#1c751c"/>
<rect x="414.07" y="1240.45" width="17.63" height="9.30" fill="#116f11"/>
<rect x="434.90" y="1240.45" width="17.63" height="9.30" fill="#458e45"/>
<rect x="455.73" y="1240.45" width="17.63" height="9.30" fill="#116f11"/>
<rect x="476.57" y="1240.45" width="17.63" height="9.30" fill="#808080"/>
<rect x="497.40" y="1240.45" width="17.63" height="9.30" fill="#116f11"/>
<rect x="518.23" y="1240.45" width="17.63" height="9.30" fill="#808080"/>
<rect x="539.07" y="1240.45" width="17.63" height="9.30" fill="#116f11"/>
<rect x="559.90" y="1240.45" width="17.63" height="9.30" fill="#808080"/>
<rect x="580.73" y="1240.45" width="17.63" height="9.30" fill="#096909"/>
<rect x="601.57" y="1240.45" width="17.63" height="9.30" fill="#808080"/>
<rect x="622.40" y="1240.45" width="17.63" height="9.30" fill="#096909"/>
<rect x="643.23" y="1240.45" width="17.63" height="9.30" fill="#808080"/>
<rect x="664.07" y="1240.45" width="17.63" height="9.30" fill="#116f11"/>
<rect x="684.90" y="1240.45" width="17.63" height="9.30" fill="#808080"/>
<rect x="705.73" y="1240.45" width="17.63" height="9.30" fill="#116f11"/>
<rect x="726.57" y="1240.45" width="17.63" height="9.30" fill="#808080"/>
<rect x="747.40" y="1240.45" width="17.63" height="9.30" fill="#116f11"/>
<rect x="768.23" y="1240.45" width="17.63" height="9.30" fill="#808080"/>
<rect x="789.07" y="1240.45" width="17.63" height="9.30" fill="#116f11"/>
<rect x="59.90" y="1252.95" width="17.63" height="9.30" fill="#1c751c"/>
<rect x="80.73" y="1252.95" width="17.63" height="9.30" fill="#046704"/>
<rect x="101.57" y="1252.95" width="17.63" height="9.30" fill="#308130"/>
<rect x="122.40" y="1252.95" width="17.63" height="9.30" fill="#0d6c0d"/>
<rect x="143.23" y="1252.95" width="17.63" height="9.30" fill="#046704"/>
<rect x="164.07" y="1252.95" width="17.63" height="9.30" fill="#046704"/>
<rect x="184.90" y="1252.95" width="17.63" height="9.30" fill="#046704"/>
<rect x="205.73" y="1252.95" width="17.63" height="9.30" fill="#046704"/>
<rect x="226.57" y="1252.95" width="17.63" height="9.30" fill="#0b6b0b"/>
<rect x="247.40" y="1252.95" width="17.63" height="9.30" fill="#046704"/>
<rect x="268.23" y="1252.95" width="17.63" height="9.30" fill="#0b6b0b"/>
<rect x="289.07" y="1252.95" width="17.63" height="9.30" fill="#046704"/>
<rect x="309.90" y="1252.95" width="17.63" height="9.30" fill="#e1ede1"/>
<rect x="330.73" y="1252.95" width="17.63" height="9.30" fill="#79ae79"/>
<rect x="351.57" y="1252.95" width="17.63" height="9.30" fill="#adcdad"/>
<rect x="372.40" y="1252.95" width="17.63" height="9.30" fill="#68a368"/>
<rect x="393.23" y="1252.95" width="17.63" height="9.30" fill="#1c751c"/>
<rect x="414.07" y="1252.95" width="17.63" height="9.30" fill="#116f11"/>
<rect x="434.90" y="1252.95" width="17.63" height="9.30" fill="#458e45"/>
<rect x="455.73" y="1252.95" width="17.63" height="9.30" fill="#116f11"/>
<rect x="476.57" y="1252.95" width="17.63" height="9.30" fill="#808080"/>
<rect x="497.40" y="1252.95" width="17.63" height="9.30" fill="#116f11"/>
<rect x="518.23" y="1252.95" width="17.63" height="9.30" fill="#808080"/>
<rect x="539.07" y="1252.95" width="17.63" height="9.30" fill="#116f11"/>
<rect x="559.90" y="1252.95" width="17.63" height="9.30" fill="#808080"/>
<rect x="580.73" y="1252.95" width="17.63" height="9.30" fill="#096909"/>
<rect x="601.57" y="1252.95" width="17.63" height="9.30" fill="#808080"/>
<rect x="622.40" y="1252.95" width="17.63" height="9.30" fill="#096909"/>
<rect x="643.23" y="1252.95" width="17.63" height="9.30" fill="#808080"/>
<rect x="664.07" y="1252.95" width="17.63" height="9.30" fill="#116f11"/>
<rect x="684.90" y="1252.95" width="17.63" height="9.30" fill="#808080"/>
<rect x="705.73" y="1252.95" width="17.63" height="9.30" fill="#116f11"/>
<rect x="726.57" y="1252.95" width="17.63" height="9.30" fill="#808080"/>
<rect x="747.40" y="1252.95" width="17.63" height="9.30" fill="#116f11"/>
<rect x="768.23" y="1252.95" width="17.63" height="9.30" fill="#808080"/>
<rect x="789.07" y="1252.95" width="17.63" height="9.30" fill="#116f11"/>
<rect x="59.90" y="1265.45" width="17.63" height="9.30" fill="#1c751c"/>
<rect x="80.73" y="1265.45" width="17.63" height="9.30" fill="#0d6c0d"/>
<rect x="101.57" y="1265.45" width="17.63" height="9.30" fill="#458e45"/>
<rect x="122.40" y="1265.45" width="17.63" height="9.30" fill="#1c751c"/>
<rect x="143.23" y="1265.45" width="17.63" height="9.30" fill="#046704"/>
<rect x="164.07" y="1265.45" width="17.63" height="9.30" fill="#046704"/>
<rect x="184.90" y="1265.45" width="17.63" height="9.30" fill="#808080"/>
<rect x="205.73" y="1265.45" width="17.63" height="9.30" fill="#046704"/>
<rect x="226.57" y="1265.45" width="17.63" height="9.30" fill="#046704"/>
<rect x="247.40" y="1265.45" width="17.63" height="9.30" fill="#046704"/>
<rect x="268.23" y="1265.45" width="17.63" height="9.30" fill="#046704"/>
<rect x="289.07" y="1265.45" width="17.63" height="9.30" fill="#046704"/>
<rect x="309.90" y="1265.45" width="17.63" height="9.30" fill="#d0e2d0"/>
<rect x="330.73" y="1265.45" width="17.63" height="9.30" fill="#9cc39c"/>
<rect x="351.57" y="1265.45" width="17.63" height="9.30" fill="#9cc39c"/>
<rect x="372.40" y="1265.45" width="17.63" height="9.30" fill="#79ae79"/>
<rect x="393.23" y="1265.45" width="17.63" height="9.30" fill="#308130"/>
<rect x="414.07" y="1265.45" width="17.63" height="9.30" fill="#116f11"/>
<rect x="434.90" y="1265.45" width="17.63" height="9.30" fill="#458e45"/>
<rect x="455.73" y="1265.45" width="17.63" height="9.30" fill="#1c751c"/>
<rect x="476.57" y="1265.45" width="17.63" height="9.30" fill="#808080"/>
<rect x="497.40" y="1265.45" width="17.63" height="9.30" fill="#116f11"/>
<rect x="518.23" y="1265.45" width="17.63" height="9.30" fill="#808080"/>
<rect x="539.07" y="1265.45" width="17.63" height="9.30" fill="#116f11"/>
<rect x="559.90" y="1265.45" width="17.63" height="9.30" fill="#808080"/>
<rect x="580.73" y="1265.45" width="17.63" height="9.30" fill="#096909"/>
<rect x="601.57" y="1265.45" width="17.63" height="9.30" fill="#808080"/>
<rect x="622.40" y="1265.45" width="17.63" height="9.30" fill="#096909"/>
<rect x="643.23" y="1265.45" width="17.63" height="9.30" fill="#808080"/>
<rect x="664.07" y="1265.45" width="17.63" height="9.30" fill="#116f11"/>
<rect x="684.90" y="1265.45" width="17.63" height="9.30" fill="#808080"/>
<rect x="705.73" y="1265.45" width="17.63" height="9.30" fill="#116f11"/>
<rect x="726.57" y="1265.45" width="17.63" height="9.30" fill="#808080"/>
<rect x="747.40" y="1265.45" width="17.63" height="9.30" fill="#116f11"/>
<rect x="768.23" y="1265.45" width="17.63" height="9.30" fill="#808080"/>
<rect x="789.07" y="1265.45" width="17.63" height="9.30" fill="#116f11"/>
<rect x="59.90" y="1277.95" width="17.63" height="9.30" fill="#1c751c"/>
<rect x="80.73" y="1277.95" width="17.63" height="9.30" fill="#0d6c0d"/>
<rect x="101.57" y="1277.95" width="17.63" height="9.30" fill="#308130"/>
<rect x="122.40" y="1277.95" width="17.63" height="9.30" fill="#0d6c0d"/>
<rect x="143.23" y="1277.95" width="17.63" height="9.30" fill="#046704"/>
<rect x="164.07" y="1277.95" width="17.63" height="9.30" fill="#046704"/>
<rect x="184.90" y="1277.95" width="17.63" height="9.30" fill="#808080"/>
<rect x="205.73" y="1277.95" width="17.63" height="9.30" fill="#046704"/>
<rect x="226.57" y="1277.95" width="17.63" height="9.30" fill="#046704"/>
<rect x="247.40" y="1277.95" width="17.63" height="9.30" fill="#046704"/>
<rect x="268.23" y="1277.95" width="17.63" height="9.30" fill="#0b6b0b"/>
<rect x="289.07" y="1277.95" width="17.63" height="9.30" fill="#046704"/>
<rect x="309.90" y="1277.95" width="17.63" height="9.30" fill="#bfd8bf"/>
<rect x="330.73" y="1277.95" width="17.63" height="9.30" fill="#adcdad"/>
<rect x="351.57" y="1277.95" width="17.63" height="9.30" fill="#bfd8bf"/>
<rect x="372.40" y="1277.95" width="17.63" height="9.30" fill="#68a368"/>
<rect x="393.23" y="1277.95" width="17.63" height="9.30" fill="#1c751c"/>
<rect x="414.07" y="1277.95" width="17.63" height="9.30" fill="#116f11"/>
<rect x="434.90" y="1277.95" width="17.63" height="9.30" fill="#458e45"/>
<rect x="455.73" y="1277.95" width="17.63" height="9.30" fill="#1c751c"/>
<rect x="476.57" y="1277.95" width="17.63" height="9.30" fill="#808080"/>
<rect x="497.40" y="1277.95" width="17.63" height="9.30" fill="#116f11"/>
<rect x="518.23" y="1277.95" width="17.63" height="9.30" fill="#808080"/>
<rect x="539.07" y="1277.95" width="17.63" height="9.30" fill="#116f11"/>
<rect x="559.90" y="1277.95" width="17.63" height="9.30" fill="#808080"/>
<rect x="580.73" y="1277.95" width="17.63" height="9.30" fill="#096909"/>
<rect x="601.57" y="1277.95" width="17.63" height="9.30" fill="#808080"/>
<rect x="622.40" y="1277.95" width="17.63" height="9.30" fill="#096909"/>
<rect x="643.23" y="1277.95" width="17.63" height="9.30" fill="#808080"/>
<rect x="664.07" y="1277.95" width="17.63" height="9.30" fill="#116f11"/>
<rect x="684.90" y="1277.95" width="17.63" height="9.30" fill="#308130"/>
<rect x="705.73" y="1277.95" width="17.63" height="9.30" fill="#116f11"/>
<rect x="726.57" y="1277.95" width="17.63" height="9.30" fill="#808080"/>
<rect x="747.40" y="1277.95" width="17.63" height="9.30" fill="#116f11"/>
<rect x="768.23" y="1277.95" width="17.63" height="9.30" fill="#808080"/>
<rect x="789.07" y="1277.95" width="17.63" height="9.30" fill="#116f11"/>
<rect x="59.90" y="1290.45" width="17.63" height="9.30" fill="#0d6c0d"/>
<rect x="80.73" y="1290.45" width="17.63" height="9.30" fill="#046704"/>
<rect x="101.57" y="1290.45" width="17.63" height="9.30" fill="#308130"/>
<rect x="122.40" y="1290.45" width="17.63" height="9.30" fill="#0d6c0d"/>
<rect x="143.23" y="1290.45" width="17.63" height="9.30" fill="#046704"/>
<rect x="164.07" y="1290.45" width="17.63" height="9.30" fill="#046704"/>
<rect x="184.90" y="1290.45" width="17.63" height="9.30" fill="#046704"/>
<rect x="205.73" y="1290.45" width="17.63" height="9.30" fill="#046704"/>
<rect x="226.57" y="1290.45" width="17.63" height="9.30" fill="#0b6b0b"/>
<rect x="247.40" y="1290.45" width="17.63" height="9.30" fill="#046704"/>
<rect x="268.23" y="1290.45" width="17.63" height="9.30" fill="#0b6b0b"/>
<rect x="289.07" y="1290.45" width="17.63" height="9.30" fill="#046704"/>
<rect x="309.90" y="1290.45" width="17.63" height="9.30" fill="#bfd8bf"/>
<rect x="330.73" y="1290.45" width="17.63" height="9.30" fill="#458e45"/>
<rect x="351.57" y="1290.45" width="17.63" height="9.30" fill="#9cc39c"/>
<rect x="372.40" y="1290.45" width="17.63" height="9.30" fill="#308130"/>
<rect x="393.23" y="1290.45" width="17.63" height="9.30" fill="#1c751c"/>
<rect x="414.07" y="1290.45" width="17.63" height="9.30" fill="#116f11"/>
<rect x="434.90" y="1290.45" width="17.63" height="9.30" fill="#458e45"/>
<rect x="455.73" y="1290.45" width="17.63" height="9.30" fill="#1c751c"/>
<rect x="476.57" y="1290.45" width="17.63" height="9.30" fill="#1c751c"/>
<rect x="497.40" y="1290.45" width="17.63" height="9.30" fill="#116f11"/>
<rect x="518.23" y="1290.45" width="17.63" height="9.30" fill="#808080"/>
<rect x="539.07" y="1290.45" width="17.63" height="9.30" fill="#116f11"/>
<rect x="559.90" y="1290.45" width="17.63" height="9.30" fill="#046704"/>
<rect x="580.73" y="1290.45" width="17.63" height="9.30" fill="#096909"/>
<rect x="601.57" y="1290.45" width="17.63" height="9.30" fill="#808080"/>
<rect x="622.40" y="1290.45" width="17.63" height="9.30" fill="#096909"/>
<rect x="643.23" y="1290.45" width="17.63" height="9.30" fill="#116f11"/>
<rect x="664.07" y="1290.45" width="17.63" height="9.30" fill="#116f11"/>
<rect x="684.90" y="1290.45" width="17.63" height="9.30" fill="#808080"/>
<rect x="705.73" y="1290.45" width="17.63" height="9.30" fill="#116f11"/>
<rect x="726.57" y="1290.45" width="17.63" height="9.30" fill="#808080"/>
<rect x="747.40" y="1290.45" width="17.63" height="9.30" fill="#116f11"/>
<rect x="768.23" y="1290.45" width="17.63" height="9.30" fill="#808080"/>
<rect x="789.07" y="1290.45" width="17.63" height="9.30" fill="#116f11"/>
<rect x="59.90" y="1302.95" width="17.63" height="9.30" fill="#1c751c"/>
<rect x="80.73" y="1302.95" width="17.63" height="9.30" fill="#0d6c0d"/>
<rect x="101.57" y="1302.95" width="17.63" height="9.30" fill="#308130"/>
<rect x="122.40" y="1302.95" width="17.63" height="9.30" fill="#1c751c"/>
<rect x="143.23" y="1302.95" width="17.63" height="9.30" fill="#046704"/>
<rect x="164.07" y="1302.95" width="17.63" height="9.30" fill="#046704"/>
<rect x="184.90" y="1302.95" width="17.63" height="9.30" fill="#808080"/>
<rect x="205.73" y="1302.95" width="17.63" height="9.30" fill="#046704"/>
<rect x="226.57" y="1302.95" width="17.63" height="9.30" fill="#0b6b0b"/>
<rect x="247.40" y="1302.95" width="17.63" height="9.30" fill="#046704"/>
<rect x="268.23" y="1302.95" width="17.63" height="9.30" fill="#046704"/>
<rect x="289.07" y="1302.95" width="17.63" height="9.30" fill="#046704"/>
<rect x="309.90" y="1302.95" width="17.63" height="9.30" fill="#bfd8bf"/>
<rect x="330.73" y="1302.95" width="17.63" height="9.30" fill="#d0e2d0"/>
<rect x="351.57" y="1302.95" width="17.63" height="9.30" fill="#8bb88b"/>
<rect x="372.40" y="1302.95" width="17.63" height="9.30" fill="#8bb88b"/>
<rect x="393.23" y="1302.95" width="17.63" height="9.30" fill="#308130"/>
<rect x="414.07" y="1302.95" width="17.63" height="9.30" fill="#116f11"/>
<rect x="434.90" y="1302.95" width="17.63" height="9.30" fill="#458e45"/>
<rect x="455.73" y="1302.95" width="17.63" height="9.30" fill="#1c751c"/>
<rect x="476.57" y="1302.95" width="17.63" height="9.30" fill="#808080"/>
<rect x="497.40" y="1302.95" width="17.63" height="9.30" fill="#116f11"/>
<rect x="518.23" y="1302.95" width="17.63" height="9.30" fill="#79ae79"/>
<rect x="539.07" y="1302.95" width="17.63" height="9.30" fill="#116f11"/>
<rect x="559.90" y="1302.95" width="17.63" height="9.30" fill="#808080"/>
<rect x="580.73" y="1302.95" width="17.63" height="9.30" fill="#096909"/>
<rect x="601.57" y="1302.95" width="17.63" height="9.30" fill="#808080"/>
<rect x="622.40" y="1302.95" width="17.63" height="9.30" fill="#096909"/>
<rect x="643.23" y="1302.95" width="17.63" height="9.30" fill="#808080"/>
<rect x="664.07" y="1302.95" width="17.63" height="9.30" fill="#116f11"/>
<rect x="684.90" y="1302.95" width="17.63" height="9.30" fill="#808080"/>
<rect x="705.73" y="1302.95" width="17.63" height="9.30" fill="#116f11"/>
<rect x="726.57" y="1302.95" width="17.63" height="9.30" fill="#808080"/>
<rect x="747.40" y="1302.95" width="17.63" height="9.30" fill="#116f11"/>
<rect x="768.23" y="1302.95" width="17.63" height="9.30" fill="#808080"/>
<rect x="789.07" y="1302.95" width="17.63" height="9.30" fill="#116f11"/>
<rect x="59.90" y="1315.45" width="17.63" height="9.30" fill="#0d6c0d"/>
<rect x="80.73" y="1315.45" width="17.63" height="9.30" fill="#046704"/>
<rect x="101.57" y="1315.45" width="17.63" height="9.30" fill="#308130"/>
<rect x="122.40" y="1315.45" width="17.63" height="9.30" fill="#046704"/>
<rect x="143.23" y="1315.45" width="17.63" height="9.30" fill="#046704"/>
<rect x="164.07" y="1315.45" width="17.63" height="9.30" fill="#046704"/>
<rect x="184.90" y="1315.45" width="17.63" height="9.30" fill="#046704"/>
<rect x="205.73" y="1315.45" width="17.63" height="9.30" fill="#046704"/>
<rect x="226.57" y="1315.45" width="17.63" height="9.30" fill="#0b6b0b"/>
<rect x="247.40" y="1315.45" width="17.63" height="9.30" fill="#046704"/>
<rect x="268.23" y="1315.45" width="17.63" height="9.30" fill="#0b6b0b"/>
<rect x="289.07" y="1315.45" width="17.63" height="9.30" fill="#046704"/>
<rect x="309.90" y="1315.45" width="17.63" height="9.30" fill="#bfd8bf"/>
<rect x="330.73" y="1315.45" width="17.63" height="9.30" fill="#458e45"/>
<rect x="351.57" y="1315.45" width="17.63" height="9.30" fill="#9cc39c"/>
<rect x="372.40" y="1315.45" width="17.63" height="9.30" fill="#1c751c"/>
<rect x="393.23" y="1315.45" width="17.63" height="9.30" fill="#1c751c"/>
<rect x="414.07" y="1315.45" width="17.63" height="9.30" fill="#116f11"/>
<rect x="434.90" y="1315.45" width="17.63" height="9.30" fill="#458e45"/>
<rect x="455.73" y="1315.45" width="17.63" height="9.30" fill="#1c751c"/>
<rect x="476.57" y="1315.45" width="17.63" height="9.30" fill="#1c751c"/>
<rect x="497.40" y="1315.45" width="17.63" height="9.30" fill="#116f11"/>
<rect x="518.23" y="1315.45" width="17.63" height="9.30" fill="#808080"/>
<rect x="539.07" y="1315.45" width="17.63" height="9.30" fill="#116f11"/>
<rect x="559.90" y="1315.45" width="17.63" height="9.30" fill="#046704"/>
<rect x="580.73" y="1315.45" width="17.63" height="9.30" fill="#096909"/>
<rect x="601.57" y="1315.45" width="17.63" height="9.30" fill="#808080"/>
<rect x="622.40" y="1315.45" width="17.63" height="9.30" fill="#096909"/>
<rect x="643.23" y="1315.45" width="17.63" height="9.30" fill="#458e45"/>
<rect x="664.07" y="1315.45" width="17.63" height="9.30" fill="#116f11"/>
<rect x="684.90" y="1315.45" width="17.63" height="9.30" fill="#808080"/>
<rect x="705.73" y="1315.45" width="17.63" height="9.30" fill="#116f11"/>
<rect x="726.57" y="1315.45" width="17.63" height="9.30" fill="#808080"/>
<rect x="747.40" y="1315.45" width="17.63" height="9.30" fill="#116f11"/>
<rect x="768.23" y="1315.45" width="17.63" height="9.30" fill="#808080"/>
<rect x="789.07" y="1315.45" width="17.63" height="9.30" fill="#116f11"/>
<rect x="59.90" y="1327.95" width="17.63" height="9.30" fill="#1c751c"/>
<rect x="80.73" y="1327.95" width="17.63" height="9.30" fill="#046704"/>
<rect x="101.57" y="1327.95" width="17.63" height="9.30" fill="#458e45"/>
<rect x="122.40" y="1327.95" width="17.63" height="9.30" fill="#0d6c0d"/>
<rect x="143.23" y="1327.95" width="17.63" height="9.30" fill="#046704"/>
<rect x="164.07" y="1327.95" width="17.63" height="9.30" fill="#046704"/>
<rect x="184.90" y="1327.95" width="17.63" height="9.30" fill="#046704"/>
<rect x="205.73" y="1327.95" width="17.63" height="9.30" fill="#046704"/>
<rect x="226.57" y="1327.95" width="17.63" height="9.30" fill="#0b6b0b"/>
<rect x="247.40" y="1327.95" width="17.63" height="9.30" fill="#046704"/>
<rect x="268.23" y="1327.95" width="17.63" height="9.30" fill="#046704"/>
<rect x="289.07" y="1327.95" width="17.63" height="9.30" fill="#046704"/>
<rect x="309.90" y="1327.95" width="17.63" height="9.30" fill="#e1ede1"/>
<rect x="330.73" y="1327.95" width="17.63" height="9.30" fill="#9cc39c"/>
<rect x="351.57" y="1327.95" width="17.63" height="9.30" fill="#d0e2d0"/>
<rect x="372.40" y="1327.95" width="17.63" height="9.30" fill="#8bb88b"/>
<rect x="393.23" y="1327.95" width="17.63" height="9.30" fill="#308130"/>
<rect x="414.07" y="1327.95" width="17.63" height="9.30" fill="#116f11"/>
<rect x="434.90" y="1327.95" width="17.63" height="9.30" fill="#1c751c"/>
<rect x="455.73" y="1327.95" width="17.63" height="9.30" fill="#1c751c"/>
<rect x="476.57" y="1327.95" width="17.63" height="9.30" fill="#1c751c"/>
<rect x="497.40" y="1327.95" width="17.63" height="9.30" fill="#116f11"/>
<rect x="518.23" y="1327.95" width="17.63" height="9.30" fill="#808080"/>
<rect x="539.07" y="1327.95" width="17.63" height="9.30" fill="#116f11"/>
<rect x="559.90" y="1327.95" width="17.63" height="9.30" fill="#808080"/>
<rect x="580.73" y="1327.95" width="17.63" height="9.30" fill="#096909"/>
<rect x="601.57" y="1327.95" width="17.63" height="9.30" fill="#808080"/>
<rect x="622.40" y="1327.95" width="17.63" height="9.30" fill="#096909"/>
<rect x="643.23" y="1327.95" width="17.63" height="9.30" fill="#808080"/>
<rect x="664.07" y="1327.95" width="17.63" height="9.30" fill="#116f11"/>
<rect x="684.90" y="1327.95" width="17.63" height="9.30" fill="#808080"/>
<rect x="705.73" y="1327.95" width="17.63" height="9.30" fill="#116f11"/>
<rect x="726.57" y="1327.95" width="17.63" height="9.30" fill="#808080"/>
<rect x="747.40" y="1327.95" width="17.63" height="9.30" fill="#116f11"/>
<rect x="768.23" y="1327.95" width="17.63" height="9.30" fill="#808080"/>
<rect x="789.07" y="1327.95" width="17.63" height="9.30" fill="#116f11"/>
<rect x="59.90" y="1340.45" width="17.63" height="9.30" fill="#0d6c0d"/>
<rect x="80.73" y="1340.45" width="17.63" height="9.30" fill="#046704"/>
<rect x="101.57" y="1340.45" width="17.63" height="9.30" fill="#308130"/>
<rect x="122.40" y="1340.45" width="17.63" height="9.30" fill="#046704"/>
<rect x="143.23" y="1340.45" width="17.63" height="9.30" fill="#046704"/>
<rect x="164.07" y="1340.45" width="17.63" height="9.30" fill="#046704"/>
<rect x="184.90" y="1340.45" width="17.63" height="9.30" fill="#046704"/>
<rect x="205.73" y="1340.45" width="17.63" height="9.30" fill="#046704"/>
<rect x="226.57" y="1340.45" width="17.63" height="9.30" fill="#0b6b0b"/>
<rect x="247.40" y="1340.45" width="17.63" height="9.30" fill="#046704"/>
<rect x="268.23" y="1340.45" width="17.63" height="9.30" fill="#046704"/>
<rect x="289.07" y="1340.45" width="17.63" height="9.30" fill="#046704"/>
<rect x="309.90" y="1340.45" width="17.63" height="9.30" fill="#bfd8bf"/>
<rect x="330.73" y="1340.45" width="17.63" height="9.30" fill="#308130"/>
<rect x="351.57" y="1340.45" width="17.63" height="9.30" fill="#9cc39c"/>
<rect x="372.40" y="1340.45" width="17.63" height="9.30" fill="#1c751c"/>
<rect x="393.23" y="1340.45" width="17.63" height="9.30" fill="#1c751c"/>
<rect x="414.07" y="1340.45" width="17.63" height="9.30" fill="#116f11"/>
<rect x="434.90" y="1340.45" width="17.63" height="9.30" fill="#308130"/>
<rect x="455.73" y="1340.45" width="17.63" height="9.30" fill="#1c751c"/>
<rect x="476.57" y="1340.45" width="17.63" height="9.30" fill="#1c751c"/>
<rect x="497.40" y="1340.45" width="17.63" height="9.30" fill="#116f11"/>
<rect x="518.23" y="1340.45" width="17.63" height="9.30" fill="#808080"/>
<rect x="539.07" y="1340.45" width="17.63" height="9.30" fill="#116f11"/>
<rect x="559.90" y="1340.45" width="17.63" height="9.30" fill="#808080"/>
<rect x="580.73" y="1340.45" width="17.63" height="9.30" fill="#096909"/>
<rect x="601.57" y="1340.45" width="17.63" height="9.30" fill="#808080"/>
<rect x="622.40" y="1340.45" width="17.63" height="9.30" fill="#096909"/>
<rect x="643.23" y="1340.45" width="17.63" height="9.30" fill="#1c751c"/>
<rect x="664.07" y="1340.45" width="17.63" height="9.30" fill="#116f11"/>
<rect x="684.90" y="1340.45" width="17.63" height="9.30" fill="#808080"/>
<rect x="705.73" y="1340.45" width="17.63" height="9.30" fill="#116f11"/>
<rect x="726.57" y="1340.45" width="17.63" height="9.30" fill="#808080"/>
<rect x="747.40" y="1340.45" width="17.63" height="9.30" fill="#116f11"/>
<rect x="768.23" y="1340.45" width="17.63" height="9.30" fill="#579957"/>
<rect x="789.07" y="1340.45" width="17.63" height="9.30" fill="#116f11"/>
<rect x="59.90" y="1352.95" width="17.63" height="9.30" fill="#0d6c0d"/>
<rect x="80.73" y="1352.95" width="17.63" height="9.30" fill="#046704"/>
<rect x="101.57" y="1352.95" width="17.63" height="9.30" fill="#308130"/>
<rect x="122.40" y="1352.95" width="17.63" height="9.30" fill="#046704"/>
<rect x="143.23" y="1352.95" width="17.63" height="9.30" fill="#046704"/>
<rect x="164.07" y="1352.95" width="17.63" height="9.30" fill="#046704"/>
<rect x="184.90" y="1352.95" width="17.63" height="9.30" fill="#046704"/>
<rect x="205.73" y="1352.95" width="17.63" height="9.30" fill="#046704"/>
<rect x="226.57" y="1352.95" width="17.63" height="9.30" fill="#0b6b0b"/>
<rect x="247.40" y="1352.95" width="17.63" height="9.30" fill="#046704"/>
<rect x="268.23" y="1352.95" width="17.63" height="9.30" fill="#0b6b0b"/>
<rect x="289.07" y="1352.95" width="17.63" height="9.30" fill="#046704"/>
<rect x="309.90" y="1352.95" width="17.63" height="9.30" fill="#bfd8bf"/>
<rect x="330.73" y="1352.95" width="17.63" height="9.30" fill="#458e45"/>
<rect x="351.57" y="1352.95" width="17.63" height="9.30" fill="#9cc39c"/>
<rect x="372.40" y="1352.95" width="17.63" height="9.30" fill="#1c751c"/>
<rect x="393.23" y="1352.95" width="17.63" height="9.30" fill="#1c751c"/>
<rect x="414.07" y="1352.95" width="17.63" height="9.30" fill="#046704"/>
<rect x="434.90" y="1352.95" width="17.63" height="9.30" fill="#308130"/>
<rect x="455.73" y="1352.95" width="17.63" height="9.30" fill="#1c751c"/>
<rect x="476.57" y="1352.95" width="17.63" height="9.30" fill="#1c751c"/>
<rect x="497.40" y="1352.95" width="17.63" height="9.30" fill="#116f11"/>
<rect x="518.23" y="1352.95" width="17.63" height="9.30" fill="#808080"/>
<rect x="539.07" y="1352.95" width="17.63" height="9.30" fill="#116f11"/>
<rect x="559.90" y="1352.95" width="17.63" height="9.30" fill="#046704"/>
<rect x="580.73" y="1352.95" width="17.63" height="9.30" fill="#096909"/>
<rect x="601.57" y="1352.95" width="17.63" height="9.30" fill="#808080"/>
<rect x="622.40" y="1352.95" width="17.63" height="9.30" fill="#096909"/>
<rect x="643.23" y="1352.95" width="17.63" height="9.30" fill="#046704"/>
<rect x="664.07" y="1352.95" width="17.63" height="9.30" fill="#116f11"/>
<rect x="684.90" y="1352.95" width="17.63" height="9.30" fill="#8bb88b"/>
<rect x="705.73" y="1352.95" width="17.63" height="9.30" fill="#116f11"/>
<rect x="726.57" y="1352.95" width="17.63" height="9.30" fill="#808080"/>
<rect x="747.40" y="1352.95" width="17.63" height="9.30" fill="#116f11"/>
<rect x="768.23" y="1352.95" width="17.63" height="9.30" fill="#808080"/>
<rect x="789.07" y="1352.95" width="17.63" height="9.30" fill="#116f11"/>
<rect x="59.90" y="1365.45" width="17.63" height="9.30" fill="#1c751c"/>
<rect x="80.73" y="1365.45" width="17.63" height="9.30" fill="#0d6c0d"/>
<rect x="101.57" y="1365.45" width="17.63" height="9.30" fill="#458e45"/>
<rect x="122.40" y="1365.45" width="17.63" height="9.30" fill="#0d6c0d"/>
<rect x="143.23" y="1365.45" width="17.63" height="9.30" fill="#046704"/>
<rect x="164.07" y="1365.45" width="17.63" height="9.30" fill="#046704"/>
<rect x="184.90" y="1365.45" width="17.63" height="9.30" fill="#808080"/>
<rect x="205.73" y="1365.45" width="17.63" height="9.30" fill="#046704"/>
<rect x="226.57" y="1365.45" width="17.63" height="9.30" fill="#0b6b0b"/>
<rect x="247.40" y="1365.45" width="17.63" height="9.30" fill="#046704"/>
<rect x="268.23" y="1365.45" width="17.63" height="9.30" fill="#046704"/>
<rect x="289.07" y="1365.45" width="17.63" height="9.30" fill="#046704"/>
<rect x="309.90" y="1365.45" width="17.63" height="9.30" fill="#d0e2d0"/>
<rect x="330.73" y="1365.45" width="17.63" height="9.30" fill="#9cc39c"/>
<rect x="351.57" y="1365.45" width="17.63" height="9.30" fill="#9cc39c"/>
<rect x="372.40" y="1365.45" width="17.63" height="9.30" fill="#79ae79"/>
<rect x="393.23" y="1365.45" width="17.63" height="9.30" fill="#1c751c"/>
<rect x="414.07" y="1365.45" width="17.63" height="9.30" fill="#116f11"/>
<rect x="434.90" y="1365.45" width="17.63" height="9.30" fill="#579957"/>
<rect x="455.73" y="1365.45" width="17.63" height="9.30" fill="#1c751c"/>
<rect x="476.57" y="1365.45" width="17.63" height="9.30" fill="#308130"/>
<rect x="497.40" y="1365.45" width="17.63" height="9.30" fill="#116f11"/>
<rect x="518.23" y="1365.45" width="17.63" height="9.30" fill="#808080"/>
<rect x="539.07" y="1365.45" width="17.63" height="9.30" fill="#116f11"/>
<rect x="559.90" y="1365.45" width="17.63" height="9.30" fill="#808080"/>
<rect x="580.73" y="1365.45" width="17.63" height="9.30" fill="#096909"/>
<rect x="601.57" y="1365.45" width="17.63" height="9.30" fill="#808080"/>
<rect x="622.40" y="1365.45" width="17.63" height="9.30" fill="#096909"/>
<rect x="643.23" y="1365.45" width="17.63" height="9.30" fill="#046704"/>
<rect x="664.07" y="1365.45" width="17.63" height="9.30" fill="#116f11"/>
<rect x="684.90" y="1365.45" width="17.63" height="9.30" fill="#808080"/>
<rect x="705.73" y="1365.45" width="17.63" height="9.30" fill="#116f11"/>
<rect x="726.57" y="1365.45" width="17.63" height="9.30" fill="#808080"/>
<rect x="747.40" y="1365.45" width="17.63" height="9.30" fill="#116f11"/>
<rect x="768.23" y="1365.45" width="17.63" height="9.30" fill="#808080"/>
<rect x="789.07" y="1365.45" width="17.63" height="9.30" fill="#116f11"/>
<rect x="59.90" y="1377.95" width="17.63" height="9.30" fill="#1c751c"/>
<rect x="80.73" y="1377.95" width="17.63" height="9.30" fill="#0d6c0d"/>
<rect x="101.57" y="1377.95" width="17.63" height="9.30" fill="#458e45"/>
<rect x="122.40" y="1377.95" width="17.63" height="9.30" fill="#1c751c"/>
<rect x="143.23" y="1377.95" width="17.63" height="9.30" fill="#808080"/>
<rect x="164.07" y="1377.95" width="17.63" height="9.30" fill="#046704"/>
<rect x="184.90" y="1377.95" width="17.63" height="9.30" fill="#808080"/>
<rect x="205.73" y="1377.95" width="17.63" height="9.30" fill="#046704"/>
<rect x="226.57" y="1377.95" width="17.63" height="9.30" fill="#808080"/>
<rect x="247.40" y="1377.95" width="17.63" height="9.30" fill="#046704"/>
<rect x="268.23" y="1377.95" width="17.63" height="9.30" fill="#808080"/>
<rect x="289.07" y="1377.95" width="17.63" height="9.30" fill="#046704"/>
<rect x="309.90" y="1377.95" width="17.63" height="9.30" fill="#adcdad"/>
<rect x="330.73" y="1377.95" width="17.63" height="9.30" fill="#bfd8bf"/>
<rect x="351.57" y="1377.95" width="17.63" height="9.30" fill="#fbf0f0"/>
<rect x="372.40" y="1377.95" width="17.63" height="9.30" fill="#8bb88b"/>
<rect x="393.23" y="1377.95" width="17.63" height="9.30" fill="#1c751c"/>
<rect x="414.07" y="1377.95" width="17.63" height="9.30" fill="#116f11"/>
<rect x="434.90" y="1377.95" width="17.63" height="9.30" fill="#308130"/>
<rect x="455.73" y="1377.95" width="17.63" height="9.30" fill="#308130"/>
<rect x="476.57" y="1377.95" width="17.63" height="9.30" fill="#808080"/>
<rect x="497.40" y="1377.95" width="17.63" height="9.30" fill="#116f11"/>
<rect x="518.23" y="1377.95" width="17.63" height="9.30" fill="#808080"/>
<rect x="539.07" y="1377.95" width="17.63" height="9.30" fill="#116f11"/>
<rect x="559.90" y="1377.95" width="17.63" height="9.30" fill="#808080"/>
<rect x="580.73" y="1377.95" width="17.63" height="9.30" fill="#096909"/>
<rect x="601.57" y="1377.95" width="17.63" height="9.30" fill="#808080"/>
<rect x="622.40" y="1377.95" width="17.63" height="9.30" fill="#096909"/>
<rect x="643.23" y="1377.95" width="17.63" height="9.30" fill="#808080"/>
<rect x="664.07" y="1377.95" width="17.63" height="9.30" fill="#116f11"/>
<rect x="684.90" y="1377.95" width="17.63" height="9.30" fill="#68a368"/>
<rect x="705.73" y="1377.95" width="17.63" height="9.30" fill="#116f11"/>
<rect x="726.57" y="1377.95" width="17.63" height="9.30" fill="#808080"/>
<rect x="747.40" y="1377.95" width="17.63" height="9.30" fill="#116f11"/>
<rect x="768.23" y="1377.95" width="17.63" height="9.30" fill="#808080"/>
<rect x="789.07" y="1377.95" width="17.63" height="9.30" fill="#116f11"/>
<rect x="59.90" y="1390.45" width="17.63" height="9.30" fill="#0d6c0d"/>
<rect x="80.73" y="1390.45" width="17.63" height="9.30" fill="#046704"/>
<rect x="101.57" y="1390.45" width="17.63" height="9.30" fill="#308130"/>
<rect x="122.40" y="1390.45" width="17.63" height="9.30" fill="#046704"/>
<rect x="143.23" y="1390.45" width="17.63" height="9.30" fill="#046704"/>
<rect x="164.07" y="1390.45" width="17.63" height="9.30" fill="#046704"/>
<rect x="184.90" y="1390.45" width="17.63" height="9.30" fill="#808080"/>
<rect x="205.73" y="1390.45" width="17.63" height="9.30" fill="#046704"/>
<rect x="226.57" y="1390.45" width="17.63" height="9.30" fill="#808080"/>
<rect x="247.40" y="1390.45" width="17.63" height="9.30" fill="#046704"/>
<rect x="268.23" y="1390.45" width="17.63" height="9.30" fill="#0b6b0b"/>
<rect x="289.07" y="1390.45" width="17.63" height="9.30" fill="#046704"/>
<rect x="309.90" y="1390.45" width="17.63" height="9.30" fill="#bfd8bf"/>
<rect x="330.73" y="1390.45" width="17.63" height="9.30" fill="#8bb88b"/>
<rect x="351.57" y="1390.45" width="17.63" height="9.30" fill="#8bb88b"/>
<rect x="372.40" y="1390.45" width="17.63" height="9.30" fill="#8bb88b"/>
<rect x="393.23" y="1390.45" width="17.63" height="9.30" fill="#1c751c"/>
<rect x="414.07" y="1390.45" width="17.63" height="9.30" fill="#116f11"/>
<rect x="434.90" y="1390.45" width="17.63" height="9.30" fill="#458e45"/>
<rect x="455.73" y="1390.45" width="17.63" height="9.30" fill="#1c751c"/>
<rect x="476.57" y="1390.45" width="17.63" height="9.30" fill="#308130"/>
<rect x="497.40" y="1390.45" width="17.63" height="9.30" fill="#116f11"/>
<rect x="518.23" y="1390.45" width="17.63" height="9.30" fill="#808080"/>
<rect x="539.07" y="1390.45" width="17.63" height="9.30" fill="#116f11"/>
<rect x="559.90" y="1390.45" width="17.63" height="9.30" fill="#046704"/>
<rect x="580.73" y="1390.45" width="17.63" height="9.30" fill="#096909"/>
<rect x="601.57" y="1390.45" width="17.63" height="9.30" fill="#808080"/>
<rect x="622.40" y="1390.45" width="17.63" height="9.30" fill="#096909"/>
<rect x="643.23" y="1390.45" width="17.63" height="9.30" fill="#046704"/>
<rect x="664.07" y="1390.45" width="17.63" height="9.30" fill="#116f11"/>
<rect x="684.90" y="1390.45" width="17.63" height="9.30" fill="#808080"/>
<rect x="705.73" y="1390.45" width="17.63" height="9.30" fill="#116f11"/>
<rect x="726.57" y="1390.45" width="17.63" height="9.30" fill="#808080"/>
<rect x="747.40" y="1390.45" width="17.63" height="9.30" fill="#116f11"/>
<rect x="768.23" y="1390.45" width="17.63" height="9.30" fill="#808080"/>
<rect x="789.07" y="1390.45" width="17.63" height="9.30" fill="#116f11"/>
<rect x="59.90" y="1402.95" width="17.63" height="9.30" fill="#1c751c"/>
<rect x="80.73" y="1402.95" width="17.63" height="9.30" fill="#046704"/>
<rect x="101.57" y="1402.95" width="17.63" height="9.30" fill="#308130"/>
<rect x="122.40" y="1402.95" width="17.63" height="9.30" fill="#046704"/>
<rect x="143.23" y="1402.95" width="17.63" height="9.30" fill="#808080"/>
<rect x="164.07" y="1402.95" width="17.63" height="9.30" fill="#046704"/>
<rect x="184.90" y="1402.95" width="17.63" height="9.30" fill="#808080"/>
<rect x="205.73" y="1402.95" width="17.63" height="9.30" fill="#046704"/>
<rect x="226.57" y="1402.95" width="17.63" height="9.30" fill="#808080"/>
<rect x="247.40" y="1402.95" width="17.63" height="9.30" fill="#046704"/>
<rect x="268.23" y="1402.95" width="17.63" height="9.30" fill="#0b6b0b"/>
<rect x="289.07" y="1402.95" width="17.63" height="9.30" fill="#046704"/>
<rect x="309.90" y="1402.95" width="17.63" height="9.30" fill="#bfd8bf"/>
<rect x="330.73" y="1402.95" width="17.63" height="9.30" fill="#8bb88b"/>
<rect x="351.57" y="1402.95" width="17.63" height="9.30" fill="#9cc39c"/>
<rect x="372.40" y="1402.95" width="17.63" height="9.30" fill="#79ae79"/>
<rect x="393.23" y="1402.95" width="17.63" height="9.30" fill="#1c751c"/>
<rect x="414.07" y="1402.95" width="17.63" height="9.30" fill="#116f11"/>
<rect x="434.90" y="1402.95" width="17.63" height="9.30" fill="#308130"/>
<rect x="455.73" y="1402.95" width="17.63" height="9.30" fill="#308130"/>
<rect x="476.57" y="1402.95" width="17.63" height="9.30" fill="#808080"/>
<rect x="497.40" y="1402.95" width="17.63" height="9.30" fill="#116f11"/>
<rect x="518.23" y="1402.95" width="17.63" height="9.30" fill="#808080"/>
<rect x="539.07" y="1402.95" width="17.63" height="9.30" fill="#116f11"/>
<rect x="559.90" y="1402.95" width="17.63" height="9.30" fill="#046704"/>
<rect x="580.73" y="1402.95" width="17.63" height="9.30" fill="#096909"/>
<rect x="601.57" y="1402.95" width="17.63" height="9.30" fill="#808080"/>
<rect x="622.40" y="1402.95" width="17.63" height="9.30" fill="#096909"/>
<rect x="643.23" y="1402.95" width="17.63" height="9.30" fill="#046704"/>
<rect x="664.07" y="1402.95" width="17.63" height="9.30" fill="#116f11"/>
<rect x="684.90" y="1402.95" width="17.63" height="9.30" fill="#808080"/>
<rect x="705.73" y="1402.95" width="17.63" height="9.30" fill="#116f11"/>
<rect x="726.57" y="1402.95" width="17.63" height="9.30" fill="#808080"/>
<rect x="747.40" y="1402.95" width="17.63" height="9.30" fill="#116f11"/>
<rect x="768.23" y="1402.95" width="17.63" height="9.30" fill="#808080"/>
<rect x="789.07" y="1402.95" width="17.63" height="9.30" fill="#116f11"/>
<rect x="59.90" y="1415.45" width="17.63" height="9.30" fill="#1c751c"/>
<rect x="80.73" y="1415.45" width="17.63" height="9.30" fill="#0d6c0d"/>
<rect x="101.57" y="1415.45" width="17.63" height="9.30" fill="#308130"/>
<rect x="122.40" y="1415.45" width="17.63" height="9.30" fill="#1c751c"/>
<rect x="143.23" y="1415.45" width="17.63" height="9.30" fill="#808080"/>
<rect x="164.07" y="1415.45" width="17.63" height="9.30" fill="#046704"/>
<rect x="184.90" y="1415.45" width="17.63" height="9.30" fill="#046704"/>
<rect x="205.73" y="1415.45" width="17.63" height="9.30" fill="#046704"/>
<rect x="226.57" y="1415.45" width="17.63" height="9.30" fill="#808080"/>
<rect x="247.40" y="1415.45" width="17.63" height="9.30" fill="#046704"/>
<rect x="268.23" y="1415.45" width="17.63" height="9.30" fill="#808080"/>
<rect x="289.07" y="1415.45" width="17.63" height="9.30" fill="#046704"/>
<rect x="309.90" y="1415.45" width="17.63" height="9.30" fill="#bfd8bf"/>
<rect x="330.73" y="1415.45" width="17.63" height="9.30" fill="#adcdad"/>
<rect x="351.57" y="1415.45" width="17.63" height="9.30" fill="#8bb88b"/>
<rect x="372.40" y="1415.45" width="17.63" height="9.30" fill="#8bb88b"/>
<rect x="393.23" y="1415.45" width="17.63" height="9.30" fill="#308130"/>
<rect x="414.07" y="1415.45" width="17.63" height="9.30" fill="#116f11"/>
<rect x="434.90" y="1415.45" width="17.63" height="9.30" fill="#79ae79"/>
<rect x="455.73" y="1415.45" width="17.63" height="9.30" fill="#1c751c"/>
<rect x="476.57" y="1415.45" width="17.63" height="9.30" fill="#116f11"/>
<rect x="497.40" y="1415.45" width="17.63" height="9.30" fill="#116f11"/>
<rect x="518.23" y="1415.45" width="17.63" height="9.30" fill="#808080"/>
<rect x="539.07" y="1415.45" width="17.63" height="9.30" fill="#116f11"/>
<rect x="559.90" y="1415.45" width="17.63" height="9.30" fill="#808080"/>
<rect x="580.73" y="1415.45" width="17.63" height="9.30" fill="#096909"/>
<rect x="601.57" y="1415.45" width="17.63" height="9.30" fill="#808080"/>
<rect x="622.40" y="1415.45" width="17.63" height="9.30" fill="#096909"/>
<rect x="643.23" y="1415.45" width="17.63" height="9.30" fill="#046704"/>
<rect x="664.07" y="1415.45" width="17.63" height="9.30" fill="#116f11"/>
<rect x="684.90" y="1415.45" width="17.63" height="9.30" fill="#808080"/>
<rect x="705.73" y="1415.45" width="17.63" height="9.30" fill="#116f11"/>
<rect x="726.57" y="1415.45" width="17.63" height="9.30" fill="#808080"/>
<rect x="747.40" y="1415.45" width="17.63" height="9.30" fill="#116f11"/>
<rect x="768.23" y="1415.45" width="17.63" height="9.30" fill="#458e45"/>
<rect x="789.07" y="1415.45" width="17.63" height="9.30" fill="#116f11"/>
<rect x="59.90" y="1427.95" width="17.63" height="9.30" fill="#0d6c0d"/>
<rect x="80.73" y="1427.95" width="17.63" height="9.30" fill="#046704"/>
<rect x="101.57" y="1427.95" width="17.63" height="9.30" fill="#308130"/>
<rect x="122.40" y="1427.95" width="17.63" height="9.30" fill="#046704"/>
<rect x="143.23" y="1427.95" width="17.63" height="9.30" fill="#046704"/>
<rect x="164.07" y="1427.95" width="17.63" height="9.30" fill="#046704"/>
<rect x="184.90" y="1427.95" width="17.63" height="9.30" fill="#046704"/>
<rect x="205.73" y="1427.95" width="17.63" height="9.30" fill="#046704"/>
<rect x="226.57" y="1427.95" width="17.63" height="9.30" fill="#0b6b0b"/>
<rect x="247.40" y="1427.95" width="17.63" height="9.30" fill="#046704"/>
<rect x="268.23" y="1427.95" width="17.63" height="9.30" fill="#0b6b0b"/>
<rect x="289.07" y="1427.95" width="17.63" height="9.30" fill="#046704"/>
<rect x="309.90" y="1427.95" width="17.63" height="9.30" fill="#bfd8bf"/>
<rect x="330.73" y="1427.95" width="17.63" height="9.30" fill="#79ae79"/>
<rect x="351.57" y="1427.95" width="17.63" height="9.30" fill="#8bb88b"/>
<rect x="372.40" y="1427.95" width="17.63" height="9.30" fill="#8bb88b"/>
<rect x="393.23" y="1427.95" width="17.63" height="9.30" fill="#1c751c"/>
<rect x="414.07" y="1427.95" width="17.63" height="9.30" fill="#116f11"/>
<rect x="434.90" y="1427.95" width="17.63" height="9.30" fill="#458e45"/>
<rect x="455.73" y="1427.95" width="17.63" height="9.30" fill="#1c751c"/>
<rect x="476.57" y="1427.95" width="17.63" height="9.30" fill="#808080"/>
<rect x="497.40" y="1427.95" width="17.63" height="9.30" fill="#116f11"/>
<rect x="518.23" y="1427.95" width="17.63" height="9.30" fill="#808080"/>
<rect x="539.07" y="1427.95" width="17.63" height="9.30" fill="#116f11"/>
<rect x="559.90" y="1427.95" width="17.63" height="9.30" fill="#808080"/>
<rect x="580.73" y="1427.95" width="17.63" height="9.30" fill="#096909"/>
<rect x="601.57" y="1427.95" width="17.63" height="9.30" fill="#808080"/>
<rect x="622.40" y="1427.95" width="17.63" height="9.30" fill="#096909"/>
<rect x="643.23" y="1427.95" width="17.63" height="9.30" fill="#808080"/>
<rect x="664.07" y="1427.95" width="17.63" height="9.30" fill="#116f11"/>
<rect x="684.90" y="1427.95" width="17.63" height="9.30" fill="#808080"/>
<rect x="705.73" y="1427.95" width="17.63" height="9.30" fill="#116f11"/>
<rect x="726.57" y="1427.95" width="17.63" height="9.30" fill="#808080"/>
<rect x="747.40" y="1427.95" width="17.63" height="9.30" fill="#116f11"/>
<rect x="768.23" y="1427.95" width="17.63" height="9.30" fill="#458e45"/>
<rect x="789.07" y="1427.95" width="17.63" height="9.30" fill="#116f11"/>
<rect x="59.90" y="1440.45" width="17.63" height="9.30" fill="#0d6c0d"/>
<rect x="80.73" y="1440.45" width="17.63" height="9.30" fill="#046704"/>
<rect x="101.57" y="1440.45" width="17.63" height="9.30" fill="#458e45"/>
<rect x="122.40" y="1440.45" width="17.63" height="9.30" fill="#0d6c0d"/>
<rect x="143.23" y="1440.45" width="17.63" height="9.30" fill="#808080"/>
<rect x="164.07" y="1440.45" width="17.63" height="9.30" fill="#046704"/>
<rect x="184.90" y="1440.45" width="17.63" height="9.30" fill="#808080"/>
<rect x="205.73" y="1440.45" width="17.63" height="9.30" fill="#046704"/>
<rect x="226.57" y="1440.45" width="17.63" height="9.30" fill="#808080"/>
<rect x="247.40" y="1440.45" width="17.63" height="9.30" fill="#046704"/>
<rect x="268.23" y="1440.45" width="17.63" height="9.30" fill="#808080"/>
<rect x="289.07" y="1440.45" width="17.63" height="9.30" fill="#046704"/>
<rect x="309.90" y="1440.45" width="17.63" height="9.30" fill="#bfd8bf"/>
<rect x="330.73" y="1440.45" width="17.63" height="9.30" fill="#adcdad"/>
<rect x="351.57" y="1440.45" width="17.63" height="9.30" fill="#8bb88b"/>
<rect x="372.40" y="1440.45" width="17.63" height="9.30" fill="#9cc39c"/>
<rect x="393.23" y="1440.45" width="17.63" height="9.30" fill="#1c751c"/>
<rect x="414.07" y="1440.45" width="17.63" height="9.30" fill="#116f11"/>
<rect x="434.90" y="1440.45" width="17.63" height="9.30" fill="#579957"/>
<rect x="455.73" y="1440.45" width="17.63" height="9.30" fill="#1c751c"/>
<rect x="476.57" y="1440.45" width="17.63" height="9.30" fill="#808080"/>
<rect x="497.40" y="1440.45" width="17.63" height="9.30" fill="#116f11"/>
<rect x="518.23" y="1440.45" width="17.63" height="9.30" fill="#808080"/>
<rect x="539.07" y="1440.45" width="17.63" height="9.30" fill="#116f11"/>
<rect x="559.90" y="1440.45" width="17.63" height="9.30" fill="#808080"/>
<rect x="580.73" y="1440.45" width="17.63" height="9.30" fill="#096909"/>
<rect x="601.57" y="1440.45" width="17.63" height="9.30" fill="#808080"/>
<rect x="622.40" y="1440.45" width="17.63" height="9.30" fill="#096909"/>
<rect x="643.23" y="1440.45" width="17.63" height="9.30" fill="#808080"/>
<rect x="664.07" y="1440.45" width="17.63" height="9.30" fill="#116f11"/>
<rect x="684.90" y="1440.45" width="17.63" height="9.30" fill="#808080"/>
<rect x="705.73" y="1440.45" width="17.63" height="9.30" fill="#116f11"/>
<rect x="726.57" y="1440.45" width="17.63" height="9.30" fill="#808080"/>
<rect x="747.40" y="1440.45" width="17.63" height="9.30" fill="#116f11"/>
<rect x="768.23" y="1440.45" width="17.63" height="9.30" fill="#808080"/>
<rect x="789.07" y="1440.45" width="17.63" height="9.30" fill="#116f11"/>
<rect x="59.90" y="1452.95" width="17.63" height="9.30" fill="#0d6c0d"/>
<rect x="80.73" y="1452.95" width="17.63" height="9.30" fill="#046704"/>
<rect x="101.57" y="1452.95" width="17.63" height="9.30" fill="#308130"/>
<rect x="122.40" y="1452.95" width="17.63" height="9.30" fill="#046704"/>
<rect x="143.23" y="1452.95" width="17.63" height="9.30" fill="#046704"/>
<rect x="164.07" y="1452.95" width="17.63" height="9.30" fill="#046704"/>
<rect x="184.90" y="1452.95" width="17.63" height="9.30" fill="#046704"/>
<rect x="205.73" y="1452.95" width="17.63" height="9.30" fill="#046704"/>
<rect x="226.57" y="1452.95" width="17.63" height="9.30" fill="#0b6b0b"/>
<rect x="247.40" y="1452.95" width="17.63" height="9.30" fill="#046704"/>
<rect x="268.23" y="1452.95" width="17.63" height="9.30" fill="#046704"/>
<rect x="289.07" y="1452.95" width="17.63" height="9.30" fill="#046704"/>
<rect x="309.90" y="1452.95" width="17.63" height="9.30" fill="#bfd8bf"/>
<rect x="330.73" y="1452.95" width="17.63" height="9.30" fill="#68a368"/>
<rect x="351.57" y="1452.95" width="17.63" height="9.30" fill="#8bb88b"/>
<rect x="372.40" y="1452.95" width="17.63" height="9.30" fill="#8bb88b"/>
<rect x="393.23" y="1452.95" width="17.63" height="9.30" fill="#116f11"/>
<rect x="414.07" y="1452.95" width="17.63" height="9.30" fill="#116f11"/>
<rect x="434.90" y="1452.95" width="17.63" height="9.30" fill="#458e45"/>
<rect x="455.73" y="1452.95" width="17.63" height="9.30" fill="#1c751c"/>
<rect x="476.57" y="1452.95" width="17.63" height="9.30" fill="#808080"/>
<rect x="497.40" y="1452.95" width="17.63" height="9.30" fill="#116f11"/>
<rect x="518.23" y="1452.95" width="17.63" height="9.30" fill="#808080"/>
<rect x="539.07" y="1452.95" width="17.63" height="9.30" fill="#116f11"/>
<rect x="559.90" y="1452.95" width="17.63" height="9.30" fill="#808080"/>
<rect x="580.73" y="1452.95" width="17.63" height="9.30" fill="#096909"/>
<rect x="601.57" y="1452.95" width="17.63" height="9.30" fill="#808080"/>
<rect x="622.40" y="1452.95" width="17.63" height="9.30" fill="#096909"/>
<rect x="643.23" y="1452.95" width="17.63" height="9.30" fill="#808080"/>
<rect x="664.07" y="1452.95" width="17.63" height="9.30" fill="#116f11"/>
<rect x="684.90" y="1452.95" width="17.63" height="9.30" fill="#808080"/>
<rect x="705.73" y="1452.95" width="17.63" height="9.30" fill="#116f11"/>
<rect x="726.57" y="1452.95" width="17.63" height="9.30" fill="#808080"/>
<rect x="747.40" y="1452.95" width="17.63" height="9.30" fill="#116f11"/>
<rect x="768.23" y="1452.95" width="17.63" height="9.30" fill="#458e45"/>
<rect x="789.07" y="1452.95" width="17.63" height="9.30" fill="#116f11"/>
<rect x="59.90" y="1465.45" width="17.63" height="9.30" fill="#0d6c0d"/>
<rect x="80.73" y="1465.45" width="17.63" height="9.30" fill="#0d6c0d"/>
<rect x="101.57" y="1465.45" width="17.63" height="9.30" fill="#308130"/>
<rect x="122.40" y="1465.45" width="17.63" height="9.30" fill="#0d6c0d"/>
<rect x="143.23" y="1465.45" width="17.63" height="9.30" fill="#046704"/>
<rect x="164.07" y="1465.45" width="17.63" height="9.30" fill="#046704"/>
<rect x="184.90" y="1465.45" width="17.63" height="9.30" fill="#0b6b0b"/>
<rect x="205.73" y="1465.45" width="17.63" height="9.30" fill="#046704"/>
<rect x="226.57" y="1465.45" width="17.63" height="9.30" fill="#0b6b0b"/>
<rect x="247.40" y="1465.45" width="17.63" height="9.30" fill="#046704"/>
<rect x="268.23" y="1465.45" width="17.63" height="9.30" fill="#0b6b0b"/>
<rect x="289.07" y="1465.45" width="17.63" height="9.30" fill="#046704"/>
<rect x="309.90" y="1465.45" width="17.63" height="9.30" fill="#bfd8bf"/>
<rect x="330.73" y="1465.45" width="17.63" height="9.30" fill="#d0e2d0"/>
<rect x="351.57" y="1465.45" width="17.63" height="9.30" fill="#9cc39c"/>
<rect x="372.40" y="1465.45" width="17.63" height="9.30" fill="#79ae79"/>
<rect x="393.23" y="1465.45" width="17.63" height="9.30" fill="#1c751c"/>
<rect x="414.07" y="1465.45" width="17.63" height="9.30" fill="#116f11"/>
<rect x="434.90" y="1465.45" width="17.63" height="9.30" fill="#308130"/>
<rect x="455.73" y="1465.45" width="17.63" height="9.30" fill="#308130"/>
<rect x="476.57" y="1465.45" width="17.63" height="9.30" fill="#808080"/>
<rect x="497.40" y="1465.45" width="17.63" height="9.30" fill="#116f11"/>
<rect x="518.23" y="1465.45" width="17.63" height="9.30" fill="#808080"/>
<rect x="539.07" y="1465.45" width="17.63" height="9.30" fill="#116f11"/>
<rect x="559.90" y="1465.45" width="17.63" height="9.30" fill="#808080"/>
<rect x="580.73" y="1465.45" width="17.63" height="9.30" fill="#096909"/>
<rect x="601.57" y="1465.45" width="17.63" height="9.30" fill="#808080"/>
<rect x="622.40" y="1465.45" width="17.63" height="9.30" fill="#096909"/>
<rect x="643.23" y="1465.45" width="17.63" height="9.30" fill="#808080"/>
<rect x="664.07" y="1465.45" width="17.63" height="9.30" fill="#116f11"/>
<rect x="684.90" y="1465.45" width="17.63" height="9.30" fill="#808080"/>
<rect x="705.73" y="1465.45" width="17.63" height="9.30" fill="#116f11"/>
<rect x="726.57" y="1465.45" width="17.63" height="9.30" fill="#808080"/>
<rect x="747.40" y="1465.45" width="17.63" height="9.30" fill="#116f11"/>
<rect x="768.23" y="1465.45" width="17.63" height="9.30" fill="#808080"/>
<rect x="789.07" y="1465.45" width="17.63" height="9.30" fill="#116f11"/>
<rect x="59.90" y="1477.95" width="17.63" height="9.30" fill="#1c751c"/>
<rect x="80.73" y="1477.95" width="17.63" height="9.30" fill="#0d6c0d"/>
<rect x="101.57" y="1477.95" width="17.63" height="9.30" fill="#458e45"/>
<rect x="122.40" y="1477.95" width="17.63" height="9.30" fill="#0d6c0d"/>
<rect x="143.23" y="1477.95" width="17.63" height="9.30" fill="#808080"/>
<rect x="164.07" y="1477.95" width="17.63" height="9.30" fill="#046704"/>
<rect x="184.90" y="1477.95" width="17.63" height="9.30" fill="#808080"/>
<rect x="205.73" y="1477.95" width="17.63" height="9.30" fill="#046704"/>
<rect x="226.57" y="1477.95" width="17.63" height="9.30" fill="#1c751c"/>
<rect x="247.40" y="1477.95" width="17.63" height="9.30" fill="#046704"/>
<rect x="268.23" y="1477.95" width="17.63" height="9.30" fill="#0b6b0b"/>
<rect x="289.07" y="1477.95" width="17.63" height="9.30" fill="#046704"/>
<rect x="309.90" y="1477.95" width="17.63" height="9.30" fill="#e1ede1"/>
<rect x="330.73" y="1477.95" width="17.63" height="9.30" fill="#9cc39c"/>
<rect x="351.57" y="1477.95" width="17.63" height="9.30" fill="#9cc39c"/>
<rect x="372.40" y="1477.95" width="17.63" height="9.30" fill="#8bb88b"/>
<rect x="393.23" y="1477.95" width="17.63" height="9.30" fill="#308130"/>
<rect x="414.07" y="1477.95" width="17.63" height="9.30" fill="#116f11"/>
<rect x="434.90" y="1477.95" width="17.63" height="9.30" fill="#1c751c"/>
<rect x="455.73" y="1477.95" width="17.63" height="9.30" fill="#308130"/>
<rect x="476.57" y="1477.95" width="17.63" height="9.30" fill="#808080"/>
<rect x="497.40" y="1477.95" width="17.63" height="9.30" fill="#116f11"/>
<rect x="518.23" y="1477.95" width="17.63" height="9.30" fill="#808080"/>
<rect x="539.07" y="1477.95" width="17.63" height="9.30" fill="#116f11"/>
<rect x="559.90" y="1477.95" width="17.63" height="9.30" fill="#808080"/>
<rect x="580.73" y="1477.95" width="17.63" height="9.30" fill="#096909"/>
<rect x="601.57" y="1477.95" width="17.63" height="9.30" fill="#808080"/>
<rect x="622.40" y="1477.95" width="17.63" height="9.30" fill="#096909"/>
<rect x="643.23" y="1477.95" width="17.63" height="9.30" fill="#808080"/>
<rect x="664.07" y="1477.95" width="17.63" height="9.30" fill="#116f11"/>
<rect x="684.90" y="1477.95" width="17.63" height="9.30" fill="#808080"/>
<rect x="705.73" y="1477.95" width="17.63" height="9.30" fill="#116f11"/>
<rect x="726.57" y="1477.95" width="17.63" height="9.30" fill="#808080"/>
<rect x="747.40" y="1477.95" width="17.63" height="9.30" fill="#116f11"/>
<rect x="768.23" y="1477.95" width="17.63" height="9.30" fill="#808080"/>
<rect x="789.07" y="1477.95" width="17.63" height="9.30" fill="#116f11"/>
<rect x="59.90" y="1490.45" width="17.63" height="9.30" fill="#0d6c0d"/>
<rect x="80.73" y="1490.45" width="17.63" height="9.30" fill="#0d6c0d"/>
<rect x="101.57" y="1490.45" width="17.63" height="9.30" fill="#458e45"/>
<rect x="122.40" y="1490.45" width="17.63" height="9.30" fill="#0d6c0d"/>
<rect x="143.23" y="1490.45" width="17.63" height="9.30" fill="#046704"/>
<rect x="164.07" y="1490.45" width="17.63" height="9.30" fill="#046704"/>
<rect x="184.90" y="1490.45" width="17.63" height="9.30" fill="#046704"/>
<rect x="205.73" y="1490.45" width="17.63" height="9.30" fill="#046704"/>
<rect x="226.57" y="1490.45" width="17.63" height="9.30" fill="#0b6b0b"/>
<rect x="247.40" y="1490.45" width="17.63" height="9.30" fill="#046704"/>
<rect x="268.23" y="1490.45" width="17.63" height="9.30" fill="#808080"/>
<rect x="289.07" y="1490.45" width="17.63" height="9.30" fill="#046704"/>
<rect x="309.90" y="1490.45" width="17.63" height="9.30" fill="#d0e2d0"/>
<rect x="330.73" y="1490.45" width="17.63" height="9.30" fill="#9cc39c"/>
<rect x="351.57" y="1490.45" width="17.63" height="9.30" fill="#8bb88b"/>
<rect x="372.40" y="1490.45" width="17.63" height="9.30" fill="#8bb88b"/>
<rect x="393.23" y="1490.45" width="17.63" height="9.30" fill="#116f11"/>
<rect x="414.07" y="1490.45" width="17.63" height="9.30" fill="#116f11"/>
<rect x="434.90" y="1490.45" width="17.63" height="9.30" fill="#1c751c"/>
<rect x="455.73" y="1490.45" width="17.63" height="9.30" fill="#308130"/>
<rect x="476.57" y="1490.45" width="17.63" height="9.30" fill="#808080"/>
<rect x="497.40" y="1490.45" width="17.63" height="9.30" fill="#116f11"/>
<rect x="518.23" y="1490.45" width="17.63" height="9.30" fill="#116f11"/>
<rect x="539.07" y="1490.45" width="17.63" height="9.30" fill="#116f11"/>
<rect x="559.90" y="1490.45" width="17.63" height="9.30" fill="#808080"/>
<rect x="580.73" y="1490.45" width="17.63" height="9.30" fill="#096909"/>
<rect x="601.57" y="1490.45" width="17.63" height="9.30" fill="#808080"/>
<rect x="622.40" y="1490.45" width="17.63" height="9.30" fill="#096909"/>
<rect x="643.23" y="1490.45" width="17.63" height="9.30" fill="#808080"/>
<rect x="664.07" y="1490.45" width="17.63" height="9.30" fill="#116f11"/>
<rect x="684.90" y="1490.45" width="17.63" height="9.30" fill="#808080"/>
<rect x="705.73" y="1490.45" width="17.63" height="9.30" fill="#116f11"/>
<rect x="726.57" y="1490.45" width="17.63" height="9.30" fill="#808080"/>
<rect x="747.40" y="1490.45" width="17.63" height="9.30" fill="#116f11"/>
<rect x="768.23" y="1490.45" width="17.63" height="9.30" fill="#808080"/>
<rect x="789.07" y="1490.45" width="17.63" height="9.30" fill="#116f11"/>
<rect x="59.90" y="1502.95" width="17.63" height="9.30" fill="#0d6c0d"/>
<rect x="80.73" y="1502.95" width="17.63" height="9.30" fill="#046704"/>
<rect x="101.57" y="1502.95" width="17.63" height="9.30" fill="#308130"/>
<rect x="122.40" y="1502.95" width="17.63" height="9.30" fill="#046704"/>
<rect x="143.23" y="1502.95" width="17.63" height="9.30" fill="#046704"/>
<rect x="164.07" y="1502.95" width="17.63" height="9.30" fill="#046704"/>
<rect x="184.90" y="1502.95" width="17.63" height="9.30" fill="#046704"/>
<rect x="205.73" y="1502.95" width="17.63" height="9.30" fill="#046704"/>
<rect x="226.57" y="1502.95" width="17.63" height="9.30" fill="#0b6b0b"/>
<rect x="247.40" y="1502.95" width="17.63" height="9.30" fill="#046704"/>
<rect x="268.23" y="1502.95" width="17.63" height="9.30" fill="#0b6b0b"/>
<rect x="289.07" y="1502.95" width="17.63" height="9.30" fill="#046704"/>
<rect x="309.90" y="1502.95" width="17.63" height="9.30" fill="#bfd8bf"/>
<rect x="330.73" y="1502.95" width="17.63" height="9.30" fill="#579957"/>
<rect x="351.57" y="1502.95" width="17.63" height="9.30" fill="#9cc39c"/>
<rect x="372.40" y="1502.95" width="17.63" height="9.30" fill="#79ae79"/>
<rect x="393.23" y="1502.95" width="17.63" height="9.30" fill="#1c751c"/>
<rect x="414.07" y="1502.95" width="17.63" height="9.30" fill="#116f11"/>
<rect x="434.90" y="1502.95" width="17.63" height="9.30" fill="#308130"/>
<rect x="455.73" y="1502.95" width="17.63" height="9.30" fill="#1c751c"/>
<rect x="476.57" y="1502.95" width="17.63" height="9.30" fill="#116f11"/>
<rect x="497.40" y="1502.95" width="17.63" height="9.30" fill="#116f11"/>
<rect x="518.23" y="1502.95" width="17.63" height="9.30" fill="#1c751c"/>
<rect x="539.07" y="1502.95" width="17.63" height="9.30" fill="#116f11"/>
<rect x="559.90" y="1502.95" width="17.63" height="9.30" fill="#808080"/>
<rect x="580.73" y="1502.95" width="17.63" height="9.30" fill="#096909"/>
<rect x="601.57" y="1502.95" width="17.63" height="9.30" fill="#808080"/>
<rect x="622.40" y="1502.95" width="17.63" height="9.30" fill="#096909"/>
<rect x="643.23" y="1502.95" width="17.63" height="9.30" fill="#308130"/>
<rect x="664.07" y="1502.95" width="17.63" height="9.30" fill="#116f11"/>
<rect x="684.90" y="1502.95" width="17.63" height="9.30" fill="#808080"/>
<rect x="705.73" y="1502.95" width="17.63" height="9.30" fill="#116f11"/>
<rect x="726.57" y="1502.95" width="17.63" height="9.30" fill="#808080"/>
<rect x="747.40" y="1502.95" width="17.63" height="9.30" fill="#116f11"/>
<rect x="768.23" y="1502.95" width="17.63" height="9.30" fill="#808080"/>
<rect x="789.07" y="1502.95" width="17.63" height="9.30" fill="#116f11"/>
<rect x="59.90" y="1515.45" width="17.63" height="9.30" fill="#808080"/>
<rect x="80.73" y="1515.45" width="17.63" height="9.30" fill="#0d6c0d"/>
<rect x="101.57" y="1515.45" width="17.63" height="9.30" fill="#808080"/>
<rect x="122.40" y="1515.45" width="17.63" height="9.30" fill="#1c751c"/>
<rect x="143.23" y="1515.45" width="17.63" height="9.30" fill="#808080"/>
<rect x="164.07" y="1515.45" width="17.63" height="9.30" fill="#046704"/>
<rect x="184.90" y="1515.45" width="17.63" height="9.30" fill="#808080"/>
<rect x="205.73" y="1515.45" width="17.63" height="9.30" fill="#046704"/>
<rect x="226.57" y="1515.45" width="17.63" height="9.30" fill="#808080"/>
<rect x="247.40" y="1515.45" width="17.63" height="9.30" fill="#046704"/>
<rect x="268.23" y="1515.45" width="17.63" height="9.30" fill="#808080"/>
<rect x="289.07" y="1515.45" width="17.63" height="9.30" fill="#046704"/>
<rect x="309.90" y="1515.45" width="17.63" height="9.30" fill="#458e45"/>
<rect x="330.73" y="1515.45" width="17.63" height="9.30" fill="#bfd8bf"/>
<rect x="351.57" y="1515.45" width="17.63" height="9.30" fill="#68a368"/>
<rect x="372.40" y="1515.45" width="17.63" height="9.30" fill="#9cc39c"/>
<rect x="393.23" y="1515.45" width="17.63" height="9.30" fill="#808080"/>
<rect x="414.07" y="1515.45" width="17.63" height="9.30" fill="#116f11"/>
<rect x="434.90" y="1515.45" width="17.63" height="9.30" fill="#808080"/>
<rect x="455.73" y="1515.45" width="17.63" height="9.30" fill="#308130"/>
<rect x="476.57" y="1515.45" width="17.63" height="9.30" fill="#808080"/>
<rect x="497.40" y="1515.45" width="17.63" height="9.30" fill="#116f11"/>
<rect x="518.23" y="1515.45" width="17.63" height="9.30" fill="#808080"/>
<rect x="539.07" y="1515.45" width="17.63" height="9.30" fill="#116f11"/>
<rect x="559.90" y="1515.45" width="17.63" height="9.30" fill="#808080"/>
<rect x="580.73" y="1515.45" width="17.63" height="9.30" fill="#096909"/>
<rect x="601.57" y="1515.45" width="17.63" height="9.30" fill="#808080"/>
<rect x="622.40" y="1515.45" width="17.63" height="9.30" fill="#096909"/>
<rect x="643.23" y="1515.45" width="17.63" height="9.30" fill="#808080"/>
<rect x="664.07" y="1515.45" width="17.63" height="9.30" fill="#116f11"/>
<rect x="684.90" y="1515.45" width="17.63" height="9.30" fill="#808080"/>
<rect x="705.73" y="1515.45" width="17.63" height="9.30" fill="#116f11"/>
<rect x="726.57" y="1515.45" width="17.63" height="9.30" fill="#808080"/>
<rect x="747.40" y="1515.45" width="17.63" height="9.30" fill="#116f11"/>
<rect x="768.23" y="1515.45" width="17.63" height="9.30" fill="#808080"/>
<rect x="789.07" y="1515.45" width="17.63" height="9.30" fill="#116f11"/>
<g font-size="12.5">
<text x="821.2" y="49.60">ADediting_582408</text>
<text x="821.2" y="62.10">ADediting_582417</text>
<text x="821.2" y="74.60">ADediting_582464</text>
<text x="821.2" y="87.10">ADediting_582467</text>
<text x="821.2" y="99.60">ADediting_582468</text>
<text x="821.2" y="112.10">ADediting_582490</text>
<text x="821.2" y="124.60">ADediting_582494</text>
<text x="821.2" y="137.10">ADediting_582505</text>
<text x="821.2" y="149.60">ADediting_582508</text>
<text x="821.2" y="162.10">ADediting_582540</text>
<text x="821.2" y="174.60">ADediting_582553</text>
<text x="821.2" y="187.10">ADediting_582563</text>
<text x="821.2" y="199.60">ADediting_582564</text>
<text x="821.2" y="212.10">ADediting_582567</text>
<text x="821.2" y="224.60">ADediting_582571</text>
<text x="821.2" y="237.10">ADediting_582576</text>
<text x="821.2" y="249.60">ADediting_582577</text>
<text x="821.2" y="262.10">ADediting_582581</text>
<text x="821.2" y="274.60">ADediting_582592</text>
<text x="821.2" y="287.10">ADediting_582600</text>
<text x="821.2" y="299.60">ADediting_582603</text>
<text x="821.2" y="312.10">ADediting_582604</text>
<text x="821.2" y="324.60">ADediting_582605</text>
<text x="821.2" y="337.10">ADediting_582611</text>
<text x="821.2" y="349.60">ADediting_582612</text>
<text x="821.2" y="362.10">ADediting_582617</text>
<text x="821.2" y="374.60">ADediting_582618</text>
<text x="821.2" y="387.10">ADediting_582619</text>
<text x="821.2" y="399.60">ADediting_582620</text>
<text x="821.2" y="412.10">ADediting_582621</text>
<text x="821.2" y="424.60">ADediting_582624</text>
<text x="821.2" y="437.10">ADediting_582627</text>
<text x="821.2" y="449.60">ADediting_582631</text>
<text x="821.2" y="462.10">ADediting_582634</text>
<text x="821.2" y="474.60">ADediting_582639</text>
<text x="821.2" y="487.10">ADediting_582640</text>
<text x="821.2" y="499.60">ADediting_582643</text>
<text x="821.2" y="512.10">ADediting_582647</text>
<text x="821.2" y="524.60">ADediting_582648</text>
<text x="821.2" y="537.10">ADediting_582649</text>
<text x="821.2" y="549.60">ADediting_582650</text>
<text x="821.2" y="562.10">ADediting_582651</text>
<text x="821.2" y="574.60">ADediting_582652</text>
<text x="821.2" y="587.10">ADediting_582654</text>
<text x="821.2" y="599.60">ADediting_582655</text>
<text x="821.2" y="612.10">ADediting_582664</text>
<text x="821.2" y="624.60">ADediting_582699</text>
<text x="821.2" y="637.10">ADediting_582700</text>
<text x="821.2" y="649.60">ADediting_582718</text>
<text x="821.2" y="662.10">ADediting_582723</text>
<text x="821.2" y="674.60">ADediting_582724</text>
<text x="821.2" y="687.10">ADediting_582725</text>
<text x="821.2" y="699.60">ADediting_582726</text>
<text x="821.2" y="712.10">ADediting_582728</text>
<text x="821.2" y="724.60">ADediting_582735</text>
<text x="821.2" y="737.10">ADediting_582737</text>
<text x="821.2" y="749.60">ADediting_582744</text>
<text x="821.2" y="762.10">ADediting_582749</text>
<text x="821.2" y="774.60">ADediting_582751</text>
<text x="821.2" y="787.10">ADediting_582752</text>
<text x="821.2" y="799.60">ADediting_582755</text>
<text x="821.2" y="812.10">ADediting_582777</text>
<text x="821.2" y="824.60">ADediting_582778</text>
<text x="821.2" y="837.10">ADediting_582785</text>
<text x="821.2" y="849.60">ADediting_582795</text>
<text x="821.2" y="862.10">ADediting_582815</text>
<text x="821.2" y="874.60">ADediting_582817</text>
<text x="821.2" y="887.10">ADediting_582818</text>
<text x="821.2" y="899.60">ADediting_582822</text>
<text x="821.2" y="912.10">ADediting_582824</text>
<text x="821.2" y="924.60">ADediting_582826</text>
<text x="821.2" y="937.10">ADediting_582829</text>
<text x="821.2" y="949.60">ADediting_582830</text>
<text x="821.2" y="962.10">ADediting_582831</text>
<text x="821.2" y="974.60">ADediting_582832</text>
<text x="821.2" y="987.10">ADediting_582833</text>
<text x="821.2" y="999.60">ADediting_582834</text>
<text x="821.2" y="1012.10">ADediting_582836</text>
<text x="821.2" y="1024.60">ADediting_582837</text>
<text x="821.2" y="1037.10">ADediting_582839</text>
<text x="821.2" y="1049.60">ADediting_582840</text>
<text x="821.2" y="1062.10">ADediting_582841</text>
<text x="821.2" y="1074.60">ADediting_582842</text>
<text x="821.2" y="1087.10">ADediting_582847</text>
<text x="821.2" y="1099.60">ADediting_582848</text>
<text x="821.2" y="1112.10">ADediting_582849</text>
<text x="821.2" y="1124.60">ADediting_582850</text>
<text x="821.2" y="1137.10">ADediting_582855</text>
<text x="821.2" y="1149.60">ADediting_582856</text>
<text x="821.2" y="1162.10">ADediting_582857</text>
<text x="821.2" y="1174.60">ADediting_582858</text>
<text x="821.2" y="1187.10">ADediting_582859</text>
<text x="821.2" y="1199.60">ADediting_582860</text>
<text x="821.2" y="1212.10">ADediting_582863</text>
<text x="821.2" y="1224.60">ADediting_582865</text>
<text x="821.2" y="1237.10">ADediting_582866</text>
<text x="821.2" y="1249.60">ADediting_582868</text>
<text x="821.2" y="1262.10">ADediting_582869</text>
<text x="821.2" y="1274.60">ADediting_582871</text>
<text x="821.2" y="1287.10">ADediting_582872</text>
<text x="821.2" y="1299.60">ADediting_582875</text>
<text x="821.2" y="1312.10">ADediting_582877</text>
<text x="821.2" y="1324.60">ADediting_582878</text>
<text x="821.2" y="1337.10">ADediting_582879</text>
<text x="821.2" y="1349.60">ADediting_582880</text>
<text x="821.2" y="1362.10">ADediting_582881</text>
<text x="821.2" y="1374.60">ADediting_582882</text>
<text x="821.2" y="1387.10">ADediting_582889</text>
<text x="821.2" y="1399.60">ADediting_582890</text>
<text x="821.2" y="1412.10">ADediting_582891</text>
<text x="821.2" y="1424.60">ADediting_582892</text>
<text x="821.2" y="1437.10">ADediting_582893</text>
<text x="821.2" y="1449.60">ADediting_582894</text>
<text x="821.2" y="1462.10">ADediting_582895</text>
<text x="821.2" y="1474.60">ADediting_582896</text>
<text x="821.2" y="1487.10">ADediting_582898</text>
<text x="821.2" y="1499.60">ADediting_582899</text>
<text x="821.2" y="1512.10">ADediting_582901</text>
<text x="821.2" y="1524.60">ADediting_1545108</text>
</g><g font-size="12.42">
<text transform="translate(64.32,1539.0) rotate(90)">ROSMAP_DLPFC_AD_edited</text>
<text transform="translate(85.15,1539.0) rotate(90)">ROSMAP_DLPFC_AD_nonedited</text>
<text transform="translate(105.98,1539.0) rotate(90)">ROSMAP_DLPFC_Control_edited</text>
<text transform="translate(126.82,1539.0) rotate(90)">ROSMAP_DLPFC_Control_nonedited</text>
<text transform="translate(147.65,1539.0) rotate(90)">ROSMAP_AC_AD_edited</text>
<text transform="translate(168.48,1539.0) rotate(90)">ROSMAP_AC_AD_nonedited</text>
<text transform="translate(189.32,1539.0) rotate(90)">ROSMAP_AC_Control_edited</text>
<text transform="translate(210.15,1539.0) rotate(90)">ROSMAP_AC_Control_nonedited</text>
<text transform="translate(230.98,1539.0) rotate(90)">ROSMAP_PCC_AD_edited</text>
<text transform="translate(251.82,1539.0) rotate(90)">ROSMAP_PCC_AD_nonedited</text>
<text transform="translate(272.65,1539.0) rotate(90)">ROSMAP_PCC_Control_edited</text>
<text transform="translate(293.48,1539.0) rotate(90)">ROSMAP_PCC_Control_nonedited</text>
<text transform="translate(314.32,1539.0) rotate(90)">Mayo_CER_AD_edited</text>
<text transform="translate(335.15,1539.0) rotate(90)">Mayo_CER_AD_nonedited</text>
<text transform="translate(355.98,1539.0) rotate(90)">Mayo_CER_Control_edited</text>
<text transform="translate(376.82,1539.0) rotate(90)">Mayo_CER_Control_nonedited</text>
<text transform="translate(397.65,1539.0) rotate(90)">Mayo_TCX_AD_edited</text>
<text transform="translate(418.48,1539.0) rotate(90)">Mayo_TCX_AD_nonedited</text>
<text transform="translate(439.32,1539.0) rotate(90)">Mayo_TCX_Control_edited</text>
<text transform="translate(460.15,1539.0) rotate(90)">Mayo_TCX_Control_nonedited</text>
<text transform="translate(480.98,1539.0) rotate(90)">MSBB_FP_AD_edited</text>
<text transform="translate(501.82,1539.0) rotate(90)">MSBB_FP_AD_nonedited</text>
<text transform="translate(522.65,1539.0) rotate(90)">MSBB_FP_Control_edited</text>
<text transform="translate(543.48,1539.0) rotate(90)">MSBB_FP_Control_nonedited</text>
<text transform="translate(564.32,1539.0) rotate(90)">MSBB_IFG_AD_edited</text>
<text transform="translate(585.15,1539.0) rotate(90)">MSBB_IFG_AD_nonedited</text>
<text transform="translate(605.98,1539.0) rotate(90)">MSBB_IFG_Control_edited</text>
<text transform="translate(626.82,1539.0) rotate(90)">MSBB_IFG_Control_nonedited</text>
<text transform="translate(647.65,1539.0) rotate(90)">MSBB_PG_AD_edited</text>
<text transform="translate(668.48,1539.0) rotate(90)">MSBB_PG_AD_nonedited</text>
<text transform="translate(689.32,1539.0) rotate(90)">MSBB_PG_Control_edited</text>
<text transform="translate(710.15,1539.0) rotate(90)">MSBB_PG_Control_nonedited</text>
<text transform="translate(730.98,1539.0) rotate(90)">MSBB_STG_AD_edited</text>
<text transform="translate(751.82,1539.0) rotate(90)">MSBB_STG_AD_nonedited</text>
<text transform="translate(772.65,1539.0) rotate(90)">MSBB_STG_Control_edited</text>
<text transform="translate(793.48,1539.0) rotate(90)">MSBB_STG_Control_nonedited</text>
</g>
<defs><linearGradient id="lg" x1="0" y1="1" x2="0" y2="0"><stop offset="0" stop-color="#006400"/><stop offset="0.5" stop-color="#ffffff"/><stop offset="1" stop-color="#cd2626"/></linearGradient></defs>
<rect x="960" y="39" width="42" height="624.60" fill="url(#lg)"/>
<g font-size="12.5">
<text x="1018" y="667.90">0</text>
<text x="1018" y="561.90">2</text>
<text x="1018" y="455.90">4</text>
<text x="1018" y="349.90">6</text>
<text x="1018" y="243.90">8</text>
<text x="1018" y="137.90">10</text>
</g>
</svg></body></html>
